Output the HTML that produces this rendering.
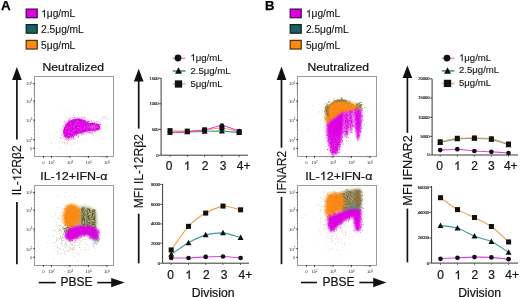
<!DOCTYPE html>
<html><head><meta charset="utf-8"><style>
html,body{margin:0;padding:0;background:#fff;}
svg{display:block;font-family:"Liberation Sans", sans-serif;will-change:transform;}
</style></head><body>
<svg width="520" height="297" viewBox="0 0 520 297">
<defs><filter id="b1" x="-50%" y="-50%" width="200%" height="200%"><feGaussianBlur stdDeviation="1.2"/></filter><filter id="b06" x="-20%" y="-20%" width="140%" height="140%"><feGaussianBlur stdDeviation="0.7"/></filter><filter id="b08" x="-30%" y="-30%" width="160%" height="160%"><feGaussianBlur stdDeviation="1.0"/></filter><filter id="b2" x="-60%" y="-60%" width="220%" height="220%"><feGaussianBlur stdDeviation="2.2"/></filter></defs>
<rect width="520" height="297" fill="#fff"/>
<text x="1.00" y="10.40" font-size="13.4" font-weight="bold" fill="#000" stroke="#000" stroke-width="0.25">A</text>
<rect x="26.200000000000003" y="9.1" width="11.0" height="8.6" fill="#dc02e0" stroke="#4a0850" stroke-width="1.25"/>
<g transform="translate(41.10,17.20)"><path d="M763 0H583V1147Q518 1085 412 1023Q306 961 221 930V1104Q373 1175 487 1276Q601 1377 649 1472H763Z" transform="translate(0.00,0) scale(0.00498,-0.00498)" fill="#141414" stroke="#141414" stroke-width="24.1"/><text x="5.67" y="0" font-size="10.2" fill="#141414" stroke="#141414" stroke-width="0.12">μg/mL</text></g>
<rect x="26.200000000000003" y="24.6" width="11.0" height="8.6" fill="#1d5f5f" stroke="#0a2626" stroke-width="1.25"/>
<text x="41.10" y="32.70" font-size="10.2" fill="#141414" stroke="#141414" stroke-width="0.12">2.5&#956;g/mL</text>
<rect x="26.200000000000003" y="40.4" width="11.0" height="8.6" fill="#fb8a12" stroke="#5a3008" stroke-width="1.25"/>
<text x="41.10" y="48.50" font-size="10.2" fill="#141414" stroke="#141414" stroke-width="0.12">5&#956;g/mL</text>
<text transform="translate(73.30,70.90) scale(1.075,1)" font-size="11.3" text-anchor="middle" fill="#141414" stroke="#141414" stroke-width="0.22">Neutralized</text>
<rect x="34.5" y="76.5" width="79" height="80" fill="none" stroke="#9c9c9c" stroke-width="1"/>
<line x1="33.7" y1="95.77176907674753" x2="34.8" y2="95.77176907674753" stroke="#666" stroke-width="0.5"/>
<line x1="33.7" y1="92.65495379146198" x2="34.8" y2="92.65495379146198" stroke="#666" stroke-width="0.5"/>
<line x1="33.7" y1="90.44353815349507" x2="34.8" y2="90.44353815349507" stroke="#666" stroke-width="0.5"/>
<line x1="33.7" y1="88.72823092325247" x2="34.8" y2="88.72823092325247" stroke="#666" stroke-width="0.5"/>
<line x1="33.7" y1="87.3267228682095" x2="34.8" y2="87.3267228682095" stroke="#666" stroke-width="0.5"/>
<line x1="33.7" y1="86.14176469174765" x2="34.8" y2="86.14176469174765" stroke="#666" stroke-width="0.5"/>
<line x1="33.7" y1="85.11530723024259" x2="34.8" y2="85.11530723024259" stroke="#666" stroke-width="0.5"/>
<line x1="33.7" y1="84.20990758292395" x2="34.8" y2="84.20990758292395" stroke="#666" stroke-width="0.5"/>
<line x1="33.7" y1="114.38043008238435" x2="34.8" y2="114.38043008238435" stroke="#666" stroke-width="0.5"/>
<line x1="33.7" y1="111.03469616032642" x2="34.8" y2="111.03469616032642" stroke="#666" stroke-width="0.5"/>
<line x1="33.7" y1="108.6608601647687" x2="34.8" y2="108.6608601647687" stroke="#666" stroke-width="0.5"/>
<line x1="33.7" y1="106.81956991761564" x2="34.8" y2="106.81956991761564" stroke="#666" stroke-width="0.5"/>
<line x1="33.7" y1="105.31512624271078" x2="34.8" y2="105.31512624271078" stroke="#666" stroke-width="0.5"/>
<line x1="33.7" y1="104.04313723972912" x2="34.8" y2="104.04313723972912" stroke="#666" stroke-width="0.5"/>
<line x1="33.7" y1="102.94129024715308" x2="34.8" y2="102.94129024715308" stroke="#666" stroke-width="0.5"/>
<line x1="33.7" y1="101.96939232065283" x2="34.8" y2="101.96939232065283" stroke="#666" stroke-width="0.5"/>
<line x1="33.7" y1="133.79981208498597" x2="34.8" y2="133.79981208498597" stroke="#666" stroke-width="0.5"/>
<line x1="33.7" y1="130.34842340749464" x2="34.8" y2="130.34842340749464" stroke="#666" stroke-width="0.5"/>
<line x1="33.7" y1="127.89962416997194" x2="34.8" y2="127.89962416997194" stroke="#666" stroke-width="0.5"/>
<line x1="33.7" y1="126.00018791501404" x2="34.8" y2="126.00018791501404" stroke="#666" stroke-width="0.5"/>
<line x1="33.7" y1="124.44823549248059" x2="34.8" y2="124.44823549248059" stroke="#666" stroke-width="0.5"/>
<line x1="33.7" y1="123.13607841572056" x2="34.8" y2="123.13607841572056" stroke="#666" stroke-width="0.5"/>
<line x1="33.7" y1="121.99943625495791" x2="34.8" y2="121.99943625495791" stroke="#666" stroke-width="0.5"/>
<line x1="33.7" y1="120.99684681498923" x2="34.8" y2="120.99684681498923" stroke="#666" stroke-width="0.5"/>
<line x1="33.1" y1="83.4" x2="35.0" y2="83.4" stroke="#333" stroke-width="0.9"/>
<text x="32.30" y="85.30" font-size="4.2" text-anchor="end" fill="#333">10<tspan font-size="2.8" dy="-1.7">5</tspan></text>
<line x1="33.1" y1="101.1" x2="35.0" y2="101.1" stroke="#333" stroke-width="0.9"/>
<text x="32.30" y="103.00" font-size="4.2" text-anchor="end" fill="#333">10<tspan font-size="2.8" dy="-1.7">4</tspan></text>
<line x1="33.1" y1="120.1" x2="35.0" y2="120.1" stroke="#333" stroke-width="0.9"/>
<text x="32.30" y="122.00" font-size="4.2" text-anchor="end" fill="#333">10<tspan font-size="2.8" dy="-1.7">3</tspan></text>
<line x1="33.1" y1="139.7" x2="35.0" y2="139.7" stroke="#333" stroke-width="0.9"/>
<text x="32.30" y="141.60" font-size="4.2" text-anchor="end" fill="#333">10<tspan font-size="2.8" dy="-1.7">2</tspan></text>
<line x1="33.1" y1="148.3" x2="35.0" y2="148.3" stroke="#333" stroke-width="0.9"/>
<text x="32.30" y="150.20" font-size="4.2" text-anchor="end" fill="#333">0</text>
<line x1="57.06905491978365" y1="156.2" x2="57.06905491978365" y2="157.3" stroke="#666" stroke-width="0.5"/>
<line x1="60.32674321231376" y1="156.2" x2="60.32674321231376" y2="157.3" stroke="#666" stroke-width="0.5"/>
<line x1="62.638109839567306" y1="156.2" x2="62.638109839567306" y2="157.3" stroke="#666" stroke-width="0.5"/>
<line x1="64.43094508021635" y1="156.2" x2="64.43094508021635" y2="157.3" stroke="#666" stroke-width="0.5"/>
<line x1="65.89579813209741" y1="156.2" x2="65.89579813209741" y2="157.3" stroke="#666" stroke-width="0.5"/>
<line x1="67.13431374026375" y1="156.2" x2="67.13431374026375" y2="157.3" stroke="#666" stroke-width="0.5"/>
<line x1="68.20716475935096" y1="156.2" x2="68.20716475935096" y2="157.3" stroke="#666" stroke-width="0.5"/>
<line x1="69.15348642462752" y1="156.2" x2="69.15348642462752" y2="157.3" stroke="#666" stroke-width="0.5"/>
<line x1="75.56905491978365" y1="156.2" x2="75.56905491978365" y2="157.3" stroke="#666" stroke-width="0.5"/>
<line x1="78.82674321231376" y1="156.2" x2="78.82674321231376" y2="157.3" stroke="#666" stroke-width="0.5"/>
<line x1="81.1381098395673" y1="156.2" x2="81.1381098395673" y2="157.3" stroke="#666" stroke-width="0.5"/>
<line x1="82.93094508021635" y1="156.2" x2="82.93094508021635" y2="157.3" stroke="#666" stroke-width="0.5"/>
<line x1="84.39579813209741" y1="156.2" x2="84.39579813209741" y2="157.3" stroke="#666" stroke-width="0.5"/>
<line x1="85.63431374026375" y1="156.2" x2="85.63431374026375" y2="157.3" stroke="#666" stroke-width="0.5"/>
<line x1="86.70716475935096" y1="156.2" x2="86.70716475935096" y2="157.3" stroke="#666" stroke-width="0.5"/>
<line x1="87.65348642462752" y1="156.2" x2="87.65348642462752" y2="157.3" stroke="#666" stroke-width="0.5"/>
<line x1="94.06905491978365" y1="156.2" x2="94.06905491978365" y2="157.3" stroke="#666" stroke-width="0.5"/>
<line x1="97.32674321231376" y1="156.2" x2="97.32674321231376" y2="157.3" stroke="#666" stroke-width="0.5"/>
<line x1="99.6381098395673" y1="156.2" x2="99.6381098395673" y2="157.3" stroke="#666" stroke-width="0.5"/>
<line x1="101.43094508021635" y1="156.2" x2="101.43094508021635" y2="157.3" stroke="#666" stroke-width="0.5"/>
<line x1="102.89579813209741" y1="156.2" x2="102.89579813209741" y2="157.3" stroke="#666" stroke-width="0.5"/>
<line x1="104.13431374026375" y1="156.2" x2="104.13431374026375" y2="157.3" stroke="#666" stroke-width="0.5"/>
<line x1="105.20716475935096" y1="156.2" x2="105.20716475935096" y2="157.3" stroke="#666" stroke-width="0.5"/>
<line x1="106.15348642462752" y1="156.2" x2="106.15348642462752" y2="157.3" stroke="#666" stroke-width="0.5"/>
<line x1="43.5" y1="156.0" x2="43.5" y2="157.9" stroke="#333" stroke-width="0.9"/>
<text x="43.50" y="164.30" font-size="4.2" text-anchor="middle" fill="#333">0</text>
<line x1="51.5" y1="156.0" x2="51.5" y2="157.9" stroke="#333" stroke-width="0.9"/>
<text x="51.50" y="164.30" font-size="4.2" text-anchor="middle" fill="#333">10<tspan font-size="2.8" dy="-1.7">2</tspan></text>
<line x1="70.0" y1="156.0" x2="70.0" y2="157.9" stroke="#333" stroke-width="0.9"/>
<text x="70.00" y="164.30" font-size="4.2" text-anchor="middle" fill="#333">10<tspan font-size="2.8" dy="-1.7">3</tspan></text>
<line x1="88.5" y1="156.0" x2="88.5" y2="157.9" stroke="#333" stroke-width="0.9"/>
<text x="88.50" y="164.30" font-size="4.2" text-anchor="middle" fill="#333">10<tspan font-size="2.8" dy="-1.7">4</tspan></text>
<line x1="107.0" y1="156.0" x2="107.0" y2="157.9" stroke="#333" stroke-width="0.9"/>
<text x="107.00" y="164.30" font-size="4.2" text-anchor="middle" fill="#333">10<tspan font-size="2.8" dy="-1.7">5</tspan></text>
<g transform="translate(73.80,180.00) scale(1.095,1)"><text x="-30.70" y="0" font-size="11.4" fill="#141414" stroke="#141414" stroke-width="0.22">IL-</text><path d="M763 0H583V1147Q518 1085 412 1023Q306 961 221 930V1104Q373 1175 487 1276Q601 1377 649 1472H763Z" transform="translate(-17.39,0) scale(0.00557,-0.00557)" fill="#141414" stroke="#141414" stroke-width="39.5"/><text x="-11.05" y="0" font-size="11.4" fill="#141414" stroke="#141414" stroke-width="0.22">2+IFN-α</text></g>
<rect x="34.5" y="185.5" width="79" height="80" fill="none" stroke="#9c9c9c" stroke-width="1"/>
<line x1="33.7" y1="204.77176907674755" x2="34.8" y2="204.77176907674755" stroke="#666" stroke-width="0.5"/>
<line x1="33.7" y1="201.65495379146196" x2="34.8" y2="201.65495379146196" stroke="#666" stroke-width="0.5"/>
<line x1="33.7" y1="199.44353815349507" x2="34.8" y2="199.44353815349507" stroke="#666" stroke-width="0.5"/>
<line x1="33.7" y1="197.72823092325245" x2="34.8" y2="197.72823092325245" stroke="#666" stroke-width="0.5"/>
<line x1="33.7" y1="196.32672286820952" x2="34.8" y2="196.32672286820952" stroke="#666" stroke-width="0.5"/>
<line x1="33.7" y1="195.14176469174765" x2="34.8" y2="195.14176469174765" stroke="#666" stroke-width="0.5"/>
<line x1="33.7" y1="194.1153072302426" x2="34.8" y2="194.1153072302426" stroke="#666" stroke-width="0.5"/>
<line x1="33.7" y1="193.20990758292396" x2="34.8" y2="193.20990758292396" stroke="#666" stroke-width="0.5"/>
<line x1="33.7" y1="223.38043008238435" x2="34.8" y2="223.38043008238435" stroke="#666" stroke-width="0.5"/>
<line x1="33.7" y1="220.0346961603264" x2="34.8" y2="220.0346961603264" stroke="#666" stroke-width="0.5"/>
<line x1="33.7" y1="217.6608601647687" x2="34.8" y2="217.6608601647687" stroke="#666" stroke-width="0.5"/>
<line x1="33.7" y1="215.81956991761564" x2="34.8" y2="215.81956991761564" stroke="#666" stroke-width="0.5"/>
<line x1="33.7" y1="214.31512624271076" x2="34.8" y2="214.31512624271076" stroke="#666" stroke-width="0.5"/>
<line x1="33.7" y1="213.04313723972913" x2="34.8" y2="213.04313723972913" stroke="#666" stroke-width="0.5"/>
<line x1="33.7" y1="211.94129024715306" x2="34.8" y2="211.94129024715306" stroke="#666" stroke-width="0.5"/>
<line x1="33.7" y1="210.96939232065284" x2="34.8" y2="210.96939232065284" stroke="#666" stroke-width="0.5"/>
<line x1="33.7" y1="242.79981208498597" x2="34.8" y2="242.79981208498597" stroke="#666" stroke-width="0.5"/>
<line x1="33.7" y1="239.34842340749464" x2="34.8" y2="239.34842340749464" stroke="#666" stroke-width="0.5"/>
<line x1="33.7" y1="236.89962416997196" x2="34.8" y2="236.89962416997196" stroke="#666" stroke-width="0.5"/>
<line x1="33.7" y1="235.00018791501404" x2="34.8" y2="235.00018791501404" stroke="#666" stroke-width="0.5"/>
<line x1="33.7" y1="233.4482354924806" x2="34.8" y2="233.4482354924806" stroke="#666" stroke-width="0.5"/>
<line x1="33.7" y1="232.13607841572056" x2="34.8" y2="232.13607841572056" stroke="#666" stroke-width="0.5"/>
<line x1="33.7" y1="230.9994362549579" x2="34.8" y2="230.9994362549579" stroke="#666" stroke-width="0.5"/>
<line x1="33.7" y1="229.99684681498923" x2="34.8" y2="229.99684681498923" stroke="#666" stroke-width="0.5"/>
<line x1="33.1" y1="192.4" x2="35.0" y2="192.4" stroke="#333" stroke-width="0.9"/>
<text x="32.30" y="194.30" font-size="4.2" text-anchor="end" fill="#333">10<tspan font-size="2.8" dy="-1.7">5</tspan></text>
<line x1="33.1" y1="210.1" x2="35.0" y2="210.1" stroke="#333" stroke-width="0.9"/>
<text x="32.30" y="212.00" font-size="4.2" text-anchor="end" fill="#333">10<tspan font-size="2.8" dy="-1.7">4</tspan></text>
<line x1="33.1" y1="229.1" x2="35.0" y2="229.1" stroke="#333" stroke-width="0.9"/>
<text x="32.30" y="231.00" font-size="4.2" text-anchor="end" fill="#333">10<tspan font-size="2.8" dy="-1.7">3</tspan></text>
<line x1="33.1" y1="248.7" x2="35.0" y2="248.7" stroke="#333" stroke-width="0.9"/>
<text x="32.30" y="250.60" font-size="4.2" text-anchor="end" fill="#333">10<tspan font-size="2.8" dy="-1.7">2</tspan></text>
<line x1="33.1" y1="257.3" x2="35.0" y2="257.3" stroke="#333" stroke-width="0.9"/>
<text x="32.30" y="259.20" font-size="4.2" text-anchor="end" fill="#333">0</text>
<line x1="57.06905491978365" y1="265.2" x2="57.06905491978365" y2="266.3" stroke="#666" stroke-width="0.5"/>
<line x1="60.32674321231376" y1="265.2" x2="60.32674321231376" y2="266.3" stroke="#666" stroke-width="0.5"/>
<line x1="62.638109839567306" y1="265.2" x2="62.638109839567306" y2="266.3" stroke="#666" stroke-width="0.5"/>
<line x1="64.43094508021635" y1="265.2" x2="64.43094508021635" y2="266.3" stroke="#666" stroke-width="0.5"/>
<line x1="65.89579813209741" y1="265.2" x2="65.89579813209741" y2="266.3" stroke="#666" stroke-width="0.5"/>
<line x1="67.13431374026375" y1="265.2" x2="67.13431374026375" y2="266.3" stroke="#666" stroke-width="0.5"/>
<line x1="68.20716475935096" y1="265.2" x2="68.20716475935096" y2="266.3" stroke="#666" stroke-width="0.5"/>
<line x1="69.15348642462752" y1="265.2" x2="69.15348642462752" y2="266.3" stroke="#666" stroke-width="0.5"/>
<line x1="75.56905491978365" y1="265.2" x2="75.56905491978365" y2="266.3" stroke="#666" stroke-width="0.5"/>
<line x1="78.82674321231376" y1="265.2" x2="78.82674321231376" y2="266.3" stroke="#666" stroke-width="0.5"/>
<line x1="81.1381098395673" y1="265.2" x2="81.1381098395673" y2="266.3" stroke="#666" stroke-width="0.5"/>
<line x1="82.93094508021635" y1="265.2" x2="82.93094508021635" y2="266.3" stroke="#666" stroke-width="0.5"/>
<line x1="84.39579813209741" y1="265.2" x2="84.39579813209741" y2="266.3" stroke="#666" stroke-width="0.5"/>
<line x1="85.63431374026375" y1="265.2" x2="85.63431374026375" y2="266.3" stroke="#666" stroke-width="0.5"/>
<line x1="86.70716475935096" y1="265.2" x2="86.70716475935096" y2="266.3" stroke="#666" stroke-width="0.5"/>
<line x1="87.65348642462752" y1="265.2" x2="87.65348642462752" y2="266.3" stroke="#666" stroke-width="0.5"/>
<line x1="94.06905491978365" y1="265.2" x2="94.06905491978365" y2="266.3" stroke="#666" stroke-width="0.5"/>
<line x1="97.32674321231376" y1="265.2" x2="97.32674321231376" y2="266.3" stroke="#666" stroke-width="0.5"/>
<line x1="99.6381098395673" y1="265.2" x2="99.6381098395673" y2="266.3" stroke="#666" stroke-width="0.5"/>
<line x1="101.43094508021635" y1="265.2" x2="101.43094508021635" y2="266.3" stroke="#666" stroke-width="0.5"/>
<line x1="102.89579813209741" y1="265.2" x2="102.89579813209741" y2="266.3" stroke="#666" stroke-width="0.5"/>
<line x1="104.13431374026375" y1="265.2" x2="104.13431374026375" y2="266.3" stroke="#666" stroke-width="0.5"/>
<line x1="105.20716475935096" y1="265.2" x2="105.20716475935096" y2="266.3" stroke="#666" stroke-width="0.5"/>
<line x1="106.15348642462752" y1="265.2" x2="106.15348642462752" y2="266.3" stroke="#666" stroke-width="0.5"/>
<line x1="43.5" y1="265.0" x2="43.5" y2="266.9" stroke="#333" stroke-width="0.9"/>
<text x="43.50" y="273.30" font-size="4.2" text-anchor="middle" fill="#333">0</text>
<line x1="51.5" y1="265.0" x2="51.5" y2="266.9" stroke="#333" stroke-width="0.9"/>
<text x="51.50" y="273.30" font-size="4.2" text-anchor="middle" fill="#333">10<tspan font-size="2.8" dy="-1.7">2</tspan></text>
<line x1="70.0" y1="265.0" x2="70.0" y2="266.9" stroke="#333" stroke-width="0.9"/>
<text x="70.00" y="273.30" font-size="4.2" text-anchor="middle" fill="#333">10<tspan font-size="2.8" dy="-1.7">3</tspan></text>
<line x1="88.5" y1="265.0" x2="88.5" y2="266.9" stroke="#333" stroke-width="0.9"/>
<text x="88.50" y="273.30" font-size="4.2" text-anchor="middle" fill="#333">10<tspan font-size="2.8" dy="-1.7">4</tspan></text>
<line x1="107.0" y1="265.0" x2="107.0" y2="266.9" stroke="#333" stroke-width="0.9"/>
<text x="107.00" y="273.30" font-size="4.2" text-anchor="middle" fill="#333">10<tspan font-size="2.8" dy="-1.7">5</tspan></text>
<polygon points="12.049999999999999,79.9 21.75,79.9 16.9,66.9" fill="#111"/>
<line x1="16.9" y1="79.4" x2="16.9" y2="139.4" stroke="#111" stroke-width="1.7"/>
<g transform="translate(21.30,170.30) rotate(-90)"><text x="-25.00" y="0" font-size="12.1" fill="#141414" stroke="#141414" stroke-width="0.15">IL-</text><path d="M763 0H583V1147Q518 1085 412 1023Q306 961 221 930V1104Q373 1175 487 1276Q601 1377 649 1472H763Z" transform="translate(-10.88,0) scale(0.00591,-0.00591)" fill="#141414" stroke="#141414" stroke-width="25.4"/><text x="-4.15" y="0" font-size="12.1" fill="#141414" stroke="#141414" stroke-width="0.15">2Rβ2</text></g>
<line x1="16.9" y1="202" x2="16.9" y2="264.2" stroke="#111" stroke-width="1.7"/>
<line x1="38.8" y1="282.6" x2="55.8" y2="282.6" stroke="#111" stroke-width="1.6"/>
<text x="60.60" y="286.20" font-size="12" fill="#141414" stroke="#141414" stroke-width="0.22">PBSE</text>
<line x1="97.3" y1="282.6" x2="112.2" y2="282.6" stroke="#111" stroke-width="1.6"/>
<polygon points="111.2,277.90000000000003 111.2,287.3 124.6,282.6" fill="#111"/>
<text x="264.90" y="10.30" font-size="13.2" font-weight="bold" fill="#000" stroke="#000" stroke-width="0.25">B</text>
<rect x="290.20000000000005" y="9.1" width="11.0" height="8.6" fill="#dc02e0" stroke="#4a0850" stroke-width="1.25"/>
<g transform="translate(305.90,17.20)"><path d="M763 0H583V1147Q518 1085 412 1023Q306 961 221 930V1104Q373 1175 487 1276Q601 1377 649 1472H763Z" transform="translate(0.00,0) scale(0.00498,-0.00498)" fill="#141414" stroke="#141414" stroke-width="24.1"/><text x="5.67" y="0" font-size="10.2" fill="#141414" stroke="#141414" stroke-width="0.12">μg/mL</text></g>
<rect x="290.20000000000005" y="24.6" width="11.0" height="8.6" fill="#1d5f5f" stroke="#0a2626" stroke-width="1.25"/>
<text x="305.90" y="32.70" font-size="10.2" fill="#141414" stroke="#141414" stroke-width="0.12">2.5&#956;g/mL</text>
<rect x="290.20000000000005" y="40.4" width="11.0" height="8.6" fill="#fb8a12" stroke="#5a3008" stroke-width="1.25"/>
<text x="305.90" y="48.50" font-size="10.2" fill="#141414" stroke="#141414" stroke-width="0.12">5&#956;g/mL</text>
<text transform="translate(338.30,70.90) scale(1.075,1)" font-size="11.3" text-anchor="middle" fill="#141414" stroke="#141414" stroke-width="0.22">Neutralized</text>
<rect x="297.5" y="76.5" width="79" height="80" fill="none" stroke="#9c9c9c" stroke-width="1"/>
<line x1="296.7" y1="95.77176907674753" x2="297.8" y2="95.77176907674753" stroke="#666" stroke-width="0.5"/>
<line x1="296.7" y1="92.65495379146198" x2="297.8" y2="92.65495379146198" stroke="#666" stroke-width="0.5"/>
<line x1="296.7" y1="90.44353815349507" x2="297.8" y2="90.44353815349507" stroke="#666" stroke-width="0.5"/>
<line x1="296.7" y1="88.72823092325247" x2="297.8" y2="88.72823092325247" stroke="#666" stroke-width="0.5"/>
<line x1="296.7" y1="87.3267228682095" x2="297.8" y2="87.3267228682095" stroke="#666" stroke-width="0.5"/>
<line x1="296.7" y1="86.14176469174765" x2="297.8" y2="86.14176469174765" stroke="#666" stroke-width="0.5"/>
<line x1="296.7" y1="85.11530723024259" x2="297.8" y2="85.11530723024259" stroke="#666" stroke-width="0.5"/>
<line x1="296.7" y1="84.20990758292395" x2="297.8" y2="84.20990758292395" stroke="#666" stroke-width="0.5"/>
<line x1="296.7" y1="114.38043008238435" x2="297.8" y2="114.38043008238435" stroke="#666" stroke-width="0.5"/>
<line x1="296.7" y1="111.03469616032642" x2="297.8" y2="111.03469616032642" stroke="#666" stroke-width="0.5"/>
<line x1="296.7" y1="108.6608601647687" x2="297.8" y2="108.6608601647687" stroke="#666" stroke-width="0.5"/>
<line x1="296.7" y1="106.81956991761564" x2="297.8" y2="106.81956991761564" stroke="#666" stroke-width="0.5"/>
<line x1="296.7" y1="105.31512624271078" x2="297.8" y2="105.31512624271078" stroke="#666" stroke-width="0.5"/>
<line x1="296.7" y1="104.04313723972912" x2="297.8" y2="104.04313723972912" stroke="#666" stroke-width="0.5"/>
<line x1="296.7" y1="102.94129024715308" x2="297.8" y2="102.94129024715308" stroke="#666" stroke-width="0.5"/>
<line x1="296.7" y1="101.96939232065283" x2="297.8" y2="101.96939232065283" stroke="#666" stroke-width="0.5"/>
<line x1="296.7" y1="133.79981208498597" x2="297.8" y2="133.79981208498597" stroke="#666" stroke-width="0.5"/>
<line x1="296.7" y1="130.34842340749464" x2="297.8" y2="130.34842340749464" stroke="#666" stroke-width="0.5"/>
<line x1="296.7" y1="127.89962416997194" x2="297.8" y2="127.89962416997194" stroke="#666" stroke-width="0.5"/>
<line x1="296.7" y1="126.00018791501404" x2="297.8" y2="126.00018791501404" stroke="#666" stroke-width="0.5"/>
<line x1="296.7" y1="124.44823549248059" x2="297.8" y2="124.44823549248059" stroke="#666" stroke-width="0.5"/>
<line x1="296.7" y1="123.13607841572056" x2="297.8" y2="123.13607841572056" stroke="#666" stroke-width="0.5"/>
<line x1="296.7" y1="121.99943625495791" x2="297.8" y2="121.99943625495791" stroke="#666" stroke-width="0.5"/>
<line x1="296.7" y1="120.99684681498923" x2="297.8" y2="120.99684681498923" stroke="#666" stroke-width="0.5"/>
<line x1="296.1" y1="83.4" x2="298.0" y2="83.4" stroke="#333" stroke-width="0.9"/>
<text x="295.30" y="85.30" font-size="4.2" text-anchor="end" fill="#333">10<tspan font-size="2.8" dy="-1.7">5</tspan></text>
<line x1="296.1" y1="101.1" x2="298.0" y2="101.1" stroke="#333" stroke-width="0.9"/>
<text x="295.30" y="103.00" font-size="4.2" text-anchor="end" fill="#333">10<tspan font-size="2.8" dy="-1.7">4</tspan></text>
<line x1="296.1" y1="120.1" x2="298.0" y2="120.1" stroke="#333" stroke-width="0.9"/>
<text x="295.30" y="122.00" font-size="4.2" text-anchor="end" fill="#333">10<tspan font-size="2.8" dy="-1.7">3</tspan></text>
<line x1="296.1" y1="139.7" x2="298.0" y2="139.7" stroke="#333" stroke-width="0.9"/>
<text x="295.30" y="141.60" font-size="4.2" text-anchor="end" fill="#333">10<tspan font-size="2.8" dy="-1.7">2</tspan></text>
<line x1="296.1" y1="148.3" x2="298.0" y2="148.3" stroke="#333" stroke-width="0.9"/>
<text x="295.30" y="150.20" font-size="4.2" text-anchor="end" fill="#333">0</text>
<line x1="320.06905491978364" y1="156.2" x2="320.06905491978364" y2="157.3" stroke="#666" stroke-width="0.5"/>
<line x1="323.3267432123138" y1="156.2" x2="323.3267432123138" y2="157.3" stroke="#666" stroke-width="0.5"/>
<line x1="325.6381098395673" y1="156.2" x2="325.6381098395673" y2="157.3" stroke="#666" stroke-width="0.5"/>
<line x1="327.43094508021636" y1="156.2" x2="327.43094508021636" y2="157.3" stroke="#666" stroke-width="0.5"/>
<line x1="328.8957981320974" y1="156.2" x2="328.8957981320974" y2="157.3" stroke="#666" stroke-width="0.5"/>
<line x1="330.13431374026374" y1="156.2" x2="330.13431374026374" y2="157.3" stroke="#666" stroke-width="0.5"/>
<line x1="331.207164759351" y1="156.2" x2="331.207164759351" y2="157.3" stroke="#666" stroke-width="0.5"/>
<line x1="332.1534864246275" y1="156.2" x2="332.1534864246275" y2="157.3" stroke="#666" stroke-width="0.5"/>
<line x1="338.56905491978364" y1="156.2" x2="338.56905491978364" y2="157.3" stroke="#666" stroke-width="0.5"/>
<line x1="341.8267432123138" y1="156.2" x2="341.8267432123138" y2="157.3" stroke="#666" stroke-width="0.5"/>
<line x1="344.1381098395673" y1="156.2" x2="344.1381098395673" y2="157.3" stroke="#666" stroke-width="0.5"/>
<line x1="345.93094508021636" y1="156.2" x2="345.93094508021636" y2="157.3" stroke="#666" stroke-width="0.5"/>
<line x1="347.3957981320974" y1="156.2" x2="347.3957981320974" y2="157.3" stroke="#666" stroke-width="0.5"/>
<line x1="348.63431374026374" y1="156.2" x2="348.63431374026374" y2="157.3" stroke="#666" stroke-width="0.5"/>
<line x1="349.707164759351" y1="156.2" x2="349.707164759351" y2="157.3" stroke="#666" stroke-width="0.5"/>
<line x1="350.6534864246275" y1="156.2" x2="350.6534864246275" y2="157.3" stroke="#666" stroke-width="0.5"/>
<line x1="357.06905491978364" y1="156.2" x2="357.06905491978364" y2="157.3" stroke="#666" stroke-width="0.5"/>
<line x1="360.3267432123138" y1="156.2" x2="360.3267432123138" y2="157.3" stroke="#666" stroke-width="0.5"/>
<line x1="362.6381098395673" y1="156.2" x2="362.6381098395673" y2="157.3" stroke="#666" stroke-width="0.5"/>
<line x1="364.43094508021636" y1="156.2" x2="364.43094508021636" y2="157.3" stroke="#666" stroke-width="0.5"/>
<line x1="365.8957981320974" y1="156.2" x2="365.8957981320974" y2="157.3" stroke="#666" stroke-width="0.5"/>
<line x1="367.13431374026374" y1="156.2" x2="367.13431374026374" y2="157.3" stroke="#666" stroke-width="0.5"/>
<line x1="368.207164759351" y1="156.2" x2="368.207164759351" y2="157.3" stroke="#666" stroke-width="0.5"/>
<line x1="369.15348642462754" y1="156.2" x2="369.15348642462754" y2="157.3" stroke="#666" stroke-width="0.5"/>
<line x1="306.5" y1="156.0" x2="306.5" y2="157.9" stroke="#333" stroke-width="0.9"/>
<text x="306.50" y="164.30" font-size="4.2" text-anchor="middle" fill="#333">0</text>
<line x1="314.5" y1="156.0" x2="314.5" y2="157.9" stroke="#333" stroke-width="0.9"/>
<text x="314.50" y="164.30" font-size="4.2" text-anchor="middle" fill="#333">10<tspan font-size="2.8" dy="-1.7">2</tspan></text>
<line x1="333.0" y1="156.0" x2="333.0" y2="157.9" stroke="#333" stroke-width="0.9"/>
<text x="333.00" y="164.30" font-size="4.2" text-anchor="middle" fill="#333">10<tspan font-size="2.8" dy="-1.7">3</tspan></text>
<line x1="351.5" y1="156.0" x2="351.5" y2="157.9" stroke="#333" stroke-width="0.9"/>
<text x="351.50" y="164.30" font-size="4.2" text-anchor="middle" fill="#333">10<tspan font-size="2.8" dy="-1.7">4</tspan></text>
<line x1="370.0" y1="156.0" x2="370.0" y2="157.9" stroke="#333" stroke-width="0.9"/>
<text x="370.00" y="164.30" font-size="4.2" text-anchor="middle" fill="#333">10<tspan font-size="2.8" dy="-1.7">5</tspan></text>
<g transform="translate(338.80,180.00) scale(1.095,1)"><text x="-30.70" y="0" font-size="11.4" fill="#141414" stroke="#141414" stroke-width="0.22">IL-</text><path d="M763 0H583V1147Q518 1085 412 1023Q306 961 221 930V1104Q373 1175 487 1276Q601 1377 649 1472H763Z" transform="translate(-17.39,0) scale(0.00557,-0.00557)" fill="#141414" stroke="#141414" stroke-width="39.5"/><text x="-11.05" y="0" font-size="11.4" fill="#141414" stroke="#141414" stroke-width="0.22">2+IFN-α</text></g>
<rect x="297.5" y="185.5" width="79" height="80" fill="none" stroke="#9c9c9c" stroke-width="1"/>
<line x1="296.7" y1="204.77176907674755" x2="297.8" y2="204.77176907674755" stroke="#666" stroke-width="0.5"/>
<line x1="296.7" y1="201.65495379146196" x2="297.8" y2="201.65495379146196" stroke="#666" stroke-width="0.5"/>
<line x1="296.7" y1="199.44353815349507" x2="297.8" y2="199.44353815349507" stroke="#666" stroke-width="0.5"/>
<line x1="296.7" y1="197.72823092325245" x2="297.8" y2="197.72823092325245" stroke="#666" stroke-width="0.5"/>
<line x1="296.7" y1="196.32672286820952" x2="297.8" y2="196.32672286820952" stroke="#666" stroke-width="0.5"/>
<line x1="296.7" y1="195.14176469174765" x2="297.8" y2="195.14176469174765" stroke="#666" stroke-width="0.5"/>
<line x1="296.7" y1="194.1153072302426" x2="297.8" y2="194.1153072302426" stroke="#666" stroke-width="0.5"/>
<line x1="296.7" y1="193.20990758292396" x2="297.8" y2="193.20990758292396" stroke="#666" stroke-width="0.5"/>
<line x1="296.7" y1="223.38043008238435" x2="297.8" y2="223.38043008238435" stroke="#666" stroke-width="0.5"/>
<line x1="296.7" y1="220.0346961603264" x2="297.8" y2="220.0346961603264" stroke="#666" stroke-width="0.5"/>
<line x1="296.7" y1="217.6608601647687" x2="297.8" y2="217.6608601647687" stroke="#666" stroke-width="0.5"/>
<line x1="296.7" y1="215.81956991761564" x2="297.8" y2="215.81956991761564" stroke="#666" stroke-width="0.5"/>
<line x1="296.7" y1="214.31512624271076" x2="297.8" y2="214.31512624271076" stroke="#666" stroke-width="0.5"/>
<line x1="296.7" y1="213.04313723972913" x2="297.8" y2="213.04313723972913" stroke="#666" stroke-width="0.5"/>
<line x1="296.7" y1="211.94129024715306" x2="297.8" y2="211.94129024715306" stroke="#666" stroke-width="0.5"/>
<line x1="296.7" y1="210.96939232065284" x2="297.8" y2="210.96939232065284" stroke="#666" stroke-width="0.5"/>
<line x1="296.7" y1="242.79981208498597" x2="297.8" y2="242.79981208498597" stroke="#666" stroke-width="0.5"/>
<line x1="296.7" y1="239.34842340749464" x2="297.8" y2="239.34842340749464" stroke="#666" stroke-width="0.5"/>
<line x1="296.7" y1="236.89962416997196" x2="297.8" y2="236.89962416997196" stroke="#666" stroke-width="0.5"/>
<line x1="296.7" y1="235.00018791501404" x2="297.8" y2="235.00018791501404" stroke="#666" stroke-width="0.5"/>
<line x1="296.7" y1="233.4482354924806" x2="297.8" y2="233.4482354924806" stroke="#666" stroke-width="0.5"/>
<line x1="296.7" y1="232.13607841572056" x2="297.8" y2="232.13607841572056" stroke="#666" stroke-width="0.5"/>
<line x1="296.7" y1="230.9994362549579" x2="297.8" y2="230.9994362549579" stroke="#666" stroke-width="0.5"/>
<line x1="296.7" y1="229.99684681498923" x2="297.8" y2="229.99684681498923" stroke="#666" stroke-width="0.5"/>
<line x1="296.1" y1="192.4" x2="298.0" y2="192.4" stroke="#333" stroke-width="0.9"/>
<text x="295.30" y="194.30" font-size="4.2" text-anchor="end" fill="#333">10<tspan font-size="2.8" dy="-1.7">5</tspan></text>
<line x1="296.1" y1="210.1" x2="298.0" y2="210.1" stroke="#333" stroke-width="0.9"/>
<text x="295.30" y="212.00" font-size="4.2" text-anchor="end" fill="#333">10<tspan font-size="2.8" dy="-1.7">4</tspan></text>
<line x1="296.1" y1="229.1" x2="298.0" y2="229.1" stroke="#333" stroke-width="0.9"/>
<text x="295.30" y="231.00" font-size="4.2" text-anchor="end" fill="#333">10<tspan font-size="2.8" dy="-1.7">3</tspan></text>
<line x1="296.1" y1="248.7" x2="298.0" y2="248.7" stroke="#333" stroke-width="0.9"/>
<text x="295.30" y="250.60" font-size="4.2" text-anchor="end" fill="#333">10<tspan font-size="2.8" dy="-1.7">2</tspan></text>
<line x1="296.1" y1="257.3" x2="298.0" y2="257.3" stroke="#333" stroke-width="0.9"/>
<text x="295.30" y="259.20" font-size="4.2" text-anchor="end" fill="#333">0</text>
<line x1="320.06905491978364" y1="265.2" x2="320.06905491978364" y2="266.3" stroke="#666" stroke-width="0.5"/>
<line x1="323.3267432123138" y1="265.2" x2="323.3267432123138" y2="266.3" stroke="#666" stroke-width="0.5"/>
<line x1="325.6381098395673" y1="265.2" x2="325.6381098395673" y2="266.3" stroke="#666" stroke-width="0.5"/>
<line x1="327.43094508021636" y1="265.2" x2="327.43094508021636" y2="266.3" stroke="#666" stroke-width="0.5"/>
<line x1="328.8957981320974" y1="265.2" x2="328.8957981320974" y2="266.3" stroke="#666" stroke-width="0.5"/>
<line x1="330.13431374026374" y1="265.2" x2="330.13431374026374" y2="266.3" stroke="#666" stroke-width="0.5"/>
<line x1="331.207164759351" y1="265.2" x2="331.207164759351" y2="266.3" stroke="#666" stroke-width="0.5"/>
<line x1="332.1534864246275" y1="265.2" x2="332.1534864246275" y2="266.3" stroke="#666" stroke-width="0.5"/>
<line x1="338.56905491978364" y1="265.2" x2="338.56905491978364" y2="266.3" stroke="#666" stroke-width="0.5"/>
<line x1="341.8267432123138" y1="265.2" x2="341.8267432123138" y2="266.3" stroke="#666" stroke-width="0.5"/>
<line x1="344.1381098395673" y1="265.2" x2="344.1381098395673" y2="266.3" stroke="#666" stroke-width="0.5"/>
<line x1="345.93094508021636" y1="265.2" x2="345.93094508021636" y2="266.3" stroke="#666" stroke-width="0.5"/>
<line x1="347.3957981320974" y1="265.2" x2="347.3957981320974" y2="266.3" stroke="#666" stroke-width="0.5"/>
<line x1="348.63431374026374" y1="265.2" x2="348.63431374026374" y2="266.3" stroke="#666" stroke-width="0.5"/>
<line x1="349.707164759351" y1="265.2" x2="349.707164759351" y2="266.3" stroke="#666" stroke-width="0.5"/>
<line x1="350.6534864246275" y1="265.2" x2="350.6534864246275" y2="266.3" stroke="#666" stroke-width="0.5"/>
<line x1="357.06905491978364" y1="265.2" x2="357.06905491978364" y2="266.3" stroke="#666" stroke-width="0.5"/>
<line x1="360.3267432123138" y1="265.2" x2="360.3267432123138" y2="266.3" stroke="#666" stroke-width="0.5"/>
<line x1="362.6381098395673" y1="265.2" x2="362.6381098395673" y2="266.3" stroke="#666" stroke-width="0.5"/>
<line x1="364.43094508021636" y1="265.2" x2="364.43094508021636" y2="266.3" stroke="#666" stroke-width="0.5"/>
<line x1="365.8957981320974" y1="265.2" x2="365.8957981320974" y2="266.3" stroke="#666" stroke-width="0.5"/>
<line x1="367.13431374026374" y1="265.2" x2="367.13431374026374" y2="266.3" stroke="#666" stroke-width="0.5"/>
<line x1="368.207164759351" y1="265.2" x2="368.207164759351" y2="266.3" stroke="#666" stroke-width="0.5"/>
<line x1="369.15348642462754" y1="265.2" x2="369.15348642462754" y2="266.3" stroke="#666" stroke-width="0.5"/>
<line x1="306.5" y1="265.0" x2="306.5" y2="266.9" stroke="#333" stroke-width="0.9"/>
<text x="306.50" y="273.30" font-size="4.2" text-anchor="middle" fill="#333">0</text>
<line x1="314.5" y1="265.0" x2="314.5" y2="266.9" stroke="#333" stroke-width="0.9"/>
<text x="314.50" y="273.30" font-size="4.2" text-anchor="middle" fill="#333">10<tspan font-size="2.8" dy="-1.7">2</tspan></text>
<line x1="333.0" y1="265.0" x2="333.0" y2="266.9" stroke="#333" stroke-width="0.9"/>
<text x="333.00" y="273.30" font-size="4.2" text-anchor="middle" fill="#333">10<tspan font-size="2.8" dy="-1.7">3</tspan></text>
<line x1="351.5" y1="265.0" x2="351.5" y2="266.9" stroke="#333" stroke-width="0.9"/>
<text x="351.50" y="273.30" font-size="4.2" text-anchor="middle" fill="#333">10<tspan font-size="2.8" dy="-1.7">4</tspan></text>
<line x1="370.0" y1="265.0" x2="370.0" y2="266.9" stroke="#333" stroke-width="0.9"/>
<text x="370.00" y="273.30" font-size="4.2" text-anchor="middle" fill="#333">10<tspan font-size="2.8" dy="-1.7">5</tspan></text>
<polygon points="276.65,79.9 286.35,79.9 281.5,66.4" fill="#111"/>
<line x1="281.5" y1="79.4" x2="281.5" y2="147.7" stroke="#111" stroke-width="1.7"/>
<text transform="translate(286.30,172.40) rotate(-90)" font-size="12.1" text-anchor="middle" fill="#141414" stroke="#141414" stroke-width="0.15">IFNAR2</text>
<line x1="281.5" y1="196.8" x2="281.5" y2="264.2" stroke="#111" stroke-width="1.7"/>
<line x1="301" y1="282.5" x2="317" y2="282.5" stroke="#111" stroke-width="1.6"/>
<text x="322.40" y="286.10" font-size="12" fill="#141414" stroke="#141414" stroke-width="0.22">PBSE</text>
<line x1="359.3" y1="282.5" x2="374.2" y2="282.5" stroke="#111" stroke-width="1.6"/>
<polygon points="373.2,277.8 373.2,287.2 386.3,282.5" fill="#111"/>
<line x1="172.7" y1="58.3" x2="185.5" y2="58.3" stroke="#e890e8" stroke-width="1.7"/>
<circle cx="178.00" cy="58.00" r="3.38" fill="#111"/>
<g transform="translate(190.40,60.80)"><path d="M763 0H583V1147Q518 1085 412 1023Q306 961 221 930V1104Q373 1175 487 1276Q601 1377 649 1472H763Z" transform="translate(0.00,0) scale(0.00469,-0.00469)" fill="#141414" stroke="#141414" stroke-width="25.6"/><text x="5.34" y="0" font-size="9.6" fill="#141414" stroke="#141414" stroke-width="0.12">μg/mL</text></g>
<line x1="172.7" y1="71.0" x2="185.5" y2="71.0" stroke="#5a9a9a" stroke-width="1.7"/>
<polygon points="175.03,73.77 181.97,73.77 178.5,67.36" fill="#111"/>
<text x="190.40" y="73.50" font-size="9.6" fill="#141414" stroke="#141414" stroke-width="0.12">2.5&#956;g/mL</text>
<line x1="172.7" y1="84.0" x2="185.5" y2="84.0" stroke="#f4b888" stroke-width="1.7"/>
<rect x="174.86" y="80.36" width="7.28" height="7.28" fill="#111"/>
<text x="190.40" y="86.50" font-size="9.6" fill="#141414" stroke="#141414" stroke-width="0.12">5&#956;g/mL</text>
<polygon points="133.85,81.5 143.54999999999998,81.5 138.7,68.8" fill="#111"/>
<line x1="138.7" y1="81.0" x2="138.7" y2="128.6" stroke="#111" stroke-width="1.7"/>
<g transform="translate(142.60,171.20) rotate(-90)"><text x="-37.10" y="0" font-size="12.1" fill="#141414" stroke="#141414" stroke-width="0.15">MFI IL-</text><path d="M763 0H583V1147Q518 1085 412 1023Q306 961 221 930V1104Q373 1175 487 1276Q601 1377 649 1472H763Z" transform="translate(1.21,0) scale(0.00591,-0.00591)" fill="#141414" stroke="#141414" stroke-width="25.4"/><text x="7.94" y="0" font-size="12.1" fill="#141414" stroke="#141414" stroke-width="0.15">2Rβ2</text></g>
<line x1="138.7" y1="213.7" x2="138.7" y2="263.3" stroke="#111" stroke-width="1.7"/>
<path d="M161.1 78.0V155.2H248" fill="none" stroke="#383838" stroke-width="1"/>
<line x1="158.7" y1="78.2" x2="161.1" y2="78.2" stroke="#3a3a3a" stroke-width="0.9"/>
<text x="158.60" y="79.65" font-size="4.1" text-anchor="end" fill="#111" stroke="#111" stroke-width="0.15">1500</text>
<line x1="158.7" y1="103.8" x2="161.1" y2="103.8" stroke="#3a3a3a" stroke-width="0.9"/>
<text x="158.60" y="105.25" font-size="4.1" text-anchor="end" fill="#111" stroke="#111" stroke-width="0.15">1000</text>
<line x1="158.7" y1="129.4" x2="161.1" y2="129.4" stroke="#3a3a3a" stroke-width="0.9"/>
<text x="158.60" y="130.85" font-size="4.1" text-anchor="end" fill="#111" stroke="#111" stroke-width="0.15">500</text>
<line x1="158.7" y1="155.2" x2="161.1" y2="155.2" stroke="#3a3a3a" stroke-width="0.9"/>
<text x="158.60" y="156.65" font-size="4.1" text-anchor="end" fill="#111" stroke="#111" stroke-width="0.15">0</text>
<line x1="170.0" y1="155.2" x2="170.0" y2="157.0" stroke="#4a4a4a" stroke-width="0.8"/>
<line x1="187.3" y1="155.2" x2="187.3" y2="157.0" stroke="#4a4a4a" stroke-width="0.8"/>
<line x1="204.6" y1="155.2" x2="204.6" y2="157.0" stroke="#4a4a4a" stroke-width="0.8"/>
<line x1="221.9" y1="155.2" x2="221.9" y2="157.0" stroke="#4a4a4a" stroke-width="0.8"/>
<line x1="239.2" y1="155.2" x2="239.2" y2="157.0" stroke="#4a4a4a" stroke-width="0.8"/>
<text x="169.20" y="170.00" font-size="12" text-anchor="middle" fill="#141414" stroke="#141414" stroke-width="0.22">0</text>
<g transform="translate(187.20,170.00)"><path d="M763 0H583V1147Q518 1085 412 1023Q306 961 221 930V1104Q373 1175 487 1276Q601 1377 649 1472H763Z" transform="translate(-3.34,0) scale(0.00586,-0.00586)" fill="#141414" stroke="#141414" stroke-width="37.5"/></g>
<text x="205.00" y="170.00" font-size="12" text-anchor="middle" fill="#141414" stroke="#141414" stroke-width="0.22">2</text>
<text x="223.10" y="170.00" font-size="12" text-anchor="middle" fill="#141414" stroke="#141414" stroke-width="0.22">3</text>
<text x="236.80" y="170.00" font-size="12" fill="#141414" stroke="#141414" stroke-width="0.22">4+</text>
<path d="M170.00 132.42C171.92 132.36 183.46 132.02 187.30 131.90C191.14 131.79 200.76 131.48 204.60 131.39C208.44 131.31 218.06 130.99 221.90 131.14C225.74 131.28 237.28 132.50 239.20 132.67" fill="none" stroke="#3a9a9a" stroke-width="1.1"/>
<path d="M170.00 130.62C171.92 130.68 183.46 131.22 187.30 131.14C191.14 131.05 200.76 130.20 204.60 129.86C208.44 129.51 218.06 127.84 221.90 128.06C225.74 128.29 237.28 131.48 239.20 131.90" fill="none" stroke="#f0a050" stroke-width="1.1"/>
<path d="M170.00 132.67C171.92 132.59 183.46 132.19 187.30 131.90C191.14 131.62 200.76 130.82 204.60 130.11C208.44 129.40 218.06 125.39 221.90 125.50C225.74 125.62 237.28 130.51 239.20 131.14" fill="none" stroke="#e040e0" stroke-width="1.1"/>
<polygon points="167.03,134.79 172.97,134.79 170.0,129.3" fill="#111"/>
<polygon points="184.33,134.28 190.27,134.28 187.3,128.79" fill="#111"/>
<polygon points="201.63,133.77 207.57,133.77 204.6,128.27" fill="#111"/>
<polygon points="218.93,133.51 224.87,133.51 221.9,128.02" fill="#111"/>
<polygon points="236.23,135.05 242.17,135.05 239.2,129.55" fill="#111"/>
<rect x="167.48" y="128.10" width="5.04" height="5.04" fill="#111"/>
<rect x="184.78" y="128.62" width="5.04" height="5.04" fill="#111"/>
<rect x="202.08" y="127.34" width="5.04" height="5.04" fill="#111"/>
<rect x="219.38" y="125.54" width="5.04" height="5.04" fill="#111"/>
<rect x="236.68" y="129.38" width="5.04" height="5.04" fill="#111"/>
<circle cx="170.00" cy="132.67" r="2.34" fill="#111"/>
<circle cx="187.30" cy="131.90" r="2.34" fill="#111"/>
<circle cx="204.60" cy="130.11" r="2.34" fill="#111"/>
<circle cx="221.90" cy="125.50" r="2.34" fill="#111"/>
<circle cx="239.20" cy="131.14" r="2.34" fill="#111"/>
<path d="M162.6 184.0V263.2H249" fill="none" stroke="#383838" stroke-width="1"/>
<line x1="160.2" y1="184.4" x2="162.6" y2="184.4" stroke="#3a3a3a" stroke-width="0.9"/>
<text x="160.10" y="185.85" font-size="4.1" text-anchor="end" fill="#111" stroke="#111" stroke-width="0.15">8000</text>
<line x1="160.2" y1="204.3" x2="162.6" y2="204.3" stroke="#3a3a3a" stroke-width="0.9"/>
<text x="160.10" y="205.75" font-size="4.1" text-anchor="end" fill="#111" stroke="#111" stroke-width="0.15">6000</text>
<line x1="160.2" y1="223.9" x2="162.6" y2="223.9" stroke="#3a3a3a" stroke-width="0.9"/>
<text x="160.10" y="225.35" font-size="4.1" text-anchor="end" fill="#111" stroke="#111" stroke-width="0.15">4000</text>
<line x1="160.2" y1="243.1" x2="162.6" y2="243.1" stroke="#3a3a3a" stroke-width="0.9"/>
<text x="160.10" y="244.55" font-size="4.1" text-anchor="end" fill="#111" stroke="#111" stroke-width="0.15">2000</text>
<line x1="160.2" y1="263.2" x2="162.6" y2="263.2" stroke="#3a3a3a" stroke-width="0.9"/>
<text x="160.10" y="264.65" font-size="4.1" text-anchor="end" fill="#111" stroke="#111" stroke-width="0.15">0</text>
<line x1="171.2" y1="263.2" x2="171.2" y2="265.0" stroke="#4a4a4a" stroke-width="0.8"/>
<line x1="188.5" y1="263.2" x2="188.5" y2="265.0" stroke="#4a4a4a" stroke-width="0.8"/>
<line x1="205.7" y1="263.2" x2="205.7" y2="265.0" stroke="#4a4a4a" stroke-width="0.8"/>
<line x1="223.0" y1="263.2" x2="223.0" y2="265.0" stroke="#4a4a4a" stroke-width="0.8"/>
<line x1="240.6" y1="263.2" x2="240.6" y2="265.0" stroke="#4a4a4a" stroke-width="0.8"/>
<text x="170.70" y="279.00" font-size="12" text-anchor="middle" fill="#141414" stroke="#141414" stroke-width="0.22">0</text>
<g transform="translate(188.60,279.00)"><path d="M763 0H583V1147Q518 1085 412 1023Q306 961 221 930V1104Q373 1175 487 1276Q601 1377 649 1472H763Z" transform="translate(-3.34,0) scale(0.00586,-0.00586)" fill="#141414" stroke="#141414" stroke-width="37.5"/></g>
<text x="206.30" y="279.00" font-size="12" text-anchor="middle" fill="#141414" stroke="#141414" stroke-width="0.22">2</text>
<text x="224.00" y="279.00" font-size="12" text-anchor="middle" fill="#141414" stroke="#141414" stroke-width="0.22">3</text>
<text x="238.50" y="279.00" font-size="12" fill="#141414" stroke="#141414" stroke-width="0.22">4+</text>
<path d="M171.20 254.35C173.12 253.06 184.67 244.92 188.50 242.75C192.33 240.59 201.87 235.98 205.70 234.89C209.53 233.80 219.12 232.62 223.00 232.92C226.88 233.23 238.64 237.12 240.60 237.64" fill="none" stroke="#3a9a9a" stroke-width="1.1"/>
<path d="M171.20 249.93C173.12 247.31 184.67 230.43 188.50 226.34C192.33 222.24 201.87 215.32 205.70 213.07C209.53 210.82 219.12 206.45 223.00 206.09C226.88 205.73 238.64 209.41 240.60 209.82" fill="none" stroke="#f0a050" stroke-width="1.1"/>
<path d="M171.20 257.99C173.12 257.99 184.67 258.11 188.50 257.99C192.33 257.87 201.87 257.07 205.70 256.91C209.53 256.74 219.12 256.40 223.00 256.52C226.88 256.64 238.64 257.83 240.60 257.99" fill="none" stroke="#e040e0" stroke-width="1.1"/>
<polygon points="168.23,256.73 174.17,256.73 171.2,251.23" fill="#111"/>
<polygon points="185.53,245.13 191.47,245.13 188.5,239.64" fill="#111"/>
<polygon points="202.73,237.27 208.67,237.27 205.7,231.77" fill="#111"/>
<polygon points="220.03,235.3 225.97,235.3 223.0,229.81" fill="#111"/>
<polygon points="237.63,240.02 243.57,240.02 240.6,234.52" fill="#111"/>
<rect x="168.68" y="247.41" width="5.04" height="5.04" fill="#111"/>
<rect x="185.98" y="223.82" width="5.04" height="5.04" fill="#111"/>
<rect x="203.18" y="210.55" width="5.04" height="5.04" fill="#111"/>
<rect x="220.48" y="203.57" width="5.04" height="5.04" fill="#111"/>
<rect x="238.08" y="207.30" width="5.04" height="5.04" fill="#111"/>
<circle cx="171.20" cy="257.99" r="2.34" fill="#111"/>
<circle cx="188.50" cy="257.99" r="2.34" fill="#111"/>
<circle cx="205.70" cy="256.91" r="2.34" fill="#111"/>
<circle cx="223.00" cy="256.52" r="2.34" fill="#111"/>
<circle cx="240.60" cy="257.99" r="2.34" fill="#111"/>
<text x="191.80" y="296.80" font-size="12.2" fill="#141414" stroke="#141414" stroke-width="0.22">Division</text>
<line x1="441.7" y1="58.4" x2="454.5" y2="58.4" stroke="#e890e8" stroke-width="1.7"/>
<circle cx="447.00" cy="58.10" r="3.38" fill="#111"/>
<g transform="translate(459.00,60.90)"><path d="M763 0H583V1147Q518 1085 412 1023Q306 961 221 930V1104Q373 1175 487 1276Q601 1377 649 1472H763Z" transform="translate(0.00,0) scale(0.00469,-0.00469)" fill="#141414" stroke="#141414" stroke-width="25.6"/><text x="5.34" y="0" font-size="9.6" fill="#141414" stroke="#141414" stroke-width="0.12">μg/mL</text></g>
<line x1="441.7" y1="70.9" x2="454.5" y2="70.9" stroke="#5a9a9a" stroke-width="1.7"/>
<polygon points="444.04,73.67 450.96,73.67 447.5,67.26" fill="#111"/>
<text x="459.00" y="73.40" font-size="9.6" fill="#141414" stroke="#141414" stroke-width="0.12">2.5&#956;g/mL</text>
<line x1="441.7" y1="83.4" x2="454.5" y2="83.4" stroke="#f4b888" stroke-width="1.7"/>
<rect x="443.86" y="79.76" width="7.28" height="7.28" fill="#111"/>
<text x="459.00" y="85.90" font-size="9.6" fill="#141414" stroke="#141414" stroke-width="0.12">5&#956;g/mL</text>
<polygon points="402.54999999999995,77.9 412.25,77.9 407.4,65.4" fill="#111"/>
<line x1="407.4" y1="77.4" x2="407.4" y2="132.8" stroke="#111" stroke-width="1.7"/>
<text transform="translate(412.00,170.40) rotate(-90)" font-size="12.7" text-anchor="middle" fill="#141414" stroke="#141414" stroke-width="0.15">MFI IFNAR2</text>
<line x1="407.4" y1="208.6" x2="407.4" y2="262.3" stroke="#111" stroke-width="1.7"/>
<path d="M432.1 78.8V155.0H518" fill="none" stroke="#383838" stroke-width="1"/>
<line x1="429.70000000000005" y1="78.8" x2="432.1" y2="78.8" stroke="#3a3a3a" stroke-width="0.9"/>
<text x="429.60" y="80.25" font-size="4.1" text-anchor="end" fill="#111" stroke="#111" stroke-width="0.15">20000</text>
<line x1="429.70000000000005" y1="98.0" x2="432.1" y2="98.0" stroke="#3a3a3a" stroke-width="0.9"/>
<text x="429.60" y="99.45" font-size="4.1" text-anchor="end" fill="#111" stroke="#111" stroke-width="0.15">15000</text>
<line x1="429.70000000000005" y1="117.2" x2="432.1" y2="117.2" stroke="#3a3a3a" stroke-width="0.9"/>
<text x="429.60" y="118.65" font-size="4.1" text-anchor="end" fill="#111" stroke="#111" stroke-width="0.15">10000</text>
<line x1="429.70000000000005" y1="136.4" x2="432.1" y2="136.4" stroke="#3a3a3a" stroke-width="0.9"/>
<text x="429.60" y="137.85" font-size="4.1" text-anchor="end" fill="#111" stroke="#111" stroke-width="0.15">5000</text>
<line x1="429.70000000000005" y1="155.0" x2="432.1" y2="155.0" stroke="#3a3a3a" stroke-width="0.9"/>
<text x="429.60" y="156.45" font-size="4.1" text-anchor="end" fill="#111" stroke="#111" stroke-width="0.15">0</text>
<line x1="440.2" y1="155.0" x2="440.2" y2="156.8" stroke="#4a4a4a" stroke-width="0.8"/>
<line x1="457.3" y1="155.0" x2="457.3" y2="156.8" stroke="#4a4a4a" stroke-width="0.8"/>
<line x1="474.4" y1="155.0" x2="474.4" y2="156.8" stroke="#4a4a4a" stroke-width="0.8"/>
<line x1="491.4" y1="155.0" x2="491.4" y2="156.8" stroke="#4a4a4a" stroke-width="0.8"/>
<line x1="508.5" y1="155.0" x2="508.5" y2="156.8" stroke="#4a4a4a" stroke-width="0.8"/>
<text x="439.60" y="170.00" font-size="12" text-anchor="middle" fill="#141414" stroke="#141414" stroke-width="0.22">0</text>
<g transform="translate(457.40,170.00)"><path d="M763 0H583V1147Q518 1085 412 1023Q306 961 221 930V1104Q373 1175 487 1276Q601 1377 649 1472H763Z" transform="translate(-3.34,0) scale(0.00586,-0.00586)" fill="#141414" stroke="#141414" stroke-width="37.5"/></g>
<text x="474.60" y="170.00" font-size="12" text-anchor="middle" fill="#141414" stroke="#141414" stroke-width="0.22">2</text>
<text x="491.40" y="170.00" font-size="12" text-anchor="middle" fill="#141414" stroke="#141414" stroke-width="0.22">3</text>
<text x="503.90" y="170.00" font-size="12" fill="#141414" stroke="#141414" stroke-width="0.22">4+</text>
<path d="M440.20 142.52C442.10 142.11 453.50 139.32 457.30 138.87C461.10 138.42 470.61 138.45 474.40 138.49C478.19 138.53 487.61 138.55 491.40 139.26C495.19 139.96 506.60 144.21 508.50 144.82" fill="none" stroke="#3a9a9a" stroke-width="1.1"/>
<path d="M440.20 141.79C442.10 141.40 453.50 138.72 457.30 138.30C461.10 137.87 470.61 137.93 474.40 137.99C478.19 138.04 487.61 138.13 491.40 138.80C495.19 139.47 506.60 143.44 508.50 144.02" fill="none" stroke="#f0a050" stroke-width="1.1"/>
<path d="M440.20 150.08C442.10 149.99 453.50 149.10 457.30 149.20C461.10 149.30 470.61 150.72 474.40 151.01C478.19 151.30 487.61 151.59 491.40 151.81C495.19 152.03 506.60 152.87 508.50 153.00" fill="none" stroke="#e040e0" stroke-width="1.1"/>
<polygon points="437.23,144.9 443.17,144.9 440.2,139.4" fill="#111"/>
<polygon points="454.33,141.25 460.27,141.25 457.3,135.75" fill="#111"/>
<polygon points="471.43,140.86 477.37,140.86 474.4,135.37" fill="#111"/>
<polygon points="488.43,141.63 494.37,141.63 491.4,136.14" fill="#111"/>
<polygon points="505.53,147.2 511.47,147.2 508.5,141.71" fill="#111"/>
<rect x="437.68" y="139.27" width="5.04" height="5.04" fill="#111"/>
<rect x="454.78" y="135.78" width="5.04" height="5.04" fill="#111"/>
<rect x="471.88" y="135.47" width="5.04" height="5.04" fill="#111"/>
<rect x="488.88" y="136.28" width="5.04" height="5.04" fill="#111"/>
<rect x="505.98" y="141.50" width="5.04" height="5.04" fill="#111"/>
<circle cx="440.20" cy="150.08" r="2.34" fill="#111"/>
<circle cx="457.30" cy="149.20" r="2.34" fill="#111"/>
<circle cx="474.40" cy="151.01" r="2.34" fill="#111"/>
<circle cx="491.40" cy="151.81" r="2.34" fill="#111"/>
<circle cx="508.50" cy="153.00" r="2.34" fill="#111"/>
<path d="M431.6 186.0V263.1H518" fill="none" stroke="#383838" stroke-width="1"/>
<line x1="429.20000000000005" y1="187.1" x2="431.6" y2="187.1" stroke="#3a3a3a" stroke-width="0.9"/>
<text x="429.10" y="188.55" font-size="4.1" text-anchor="end" fill="#111" stroke="#111" stroke-width="0.15">60000</text>
<line x1="429.20000000000005" y1="212.3" x2="431.6" y2="212.3" stroke="#3a3a3a" stroke-width="0.9"/>
<text x="429.10" y="213.75" font-size="4.1" text-anchor="end" fill="#111" stroke="#111" stroke-width="0.15">40000</text>
<line x1="429.20000000000005" y1="238.0" x2="431.6" y2="238.0" stroke="#3a3a3a" stroke-width="0.9"/>
<text x="429.10" y="239.45" font-size="4.1" text-anchor="end" fill="#111" stroke="#111" stroke-width="0.15">20000</text>
<line x1="429.20000000000005" y1="263.1" x2="431.6" y2="263.1" stroke="#3a3a3a" stroke-width="0.9"/>
<text x="429.10" y="264.55" font-size="4.1" text-anchor="end" fill="#111" stroke="#111" stroke-width="0.15">0</text>
<line x1="440.5" y1="263.1" x2="440.5" y2="264.90000000000003" stroke="#4a4a4a" stroke-width="0.8"/>
<line x1="457.5" y1="263.1" x2="457.5" y2="264.90000000000003" stroke="#4a4a4a" stroke-width="0.8"/>
<line x1="474.5" y1="263.1" x2="474.5" y2="264.90000000000003" stroke="#4a4a4a" stroke-width="0.8"/>
<line x1="491.4" y1="263.1" x2="491.4" y2="264.90000000000003" stroke="#4a4a4a" stroke-width="0.8"/>
<line x1="508.6" y1="263.1" x2="508.6" y2="264.90000000000003" stroke="#4a4a4a" stroke-width="0.8"/>
<text x="440.70" y="279.20" font-size="12" text-anchor="middle" fill="#141414" stroke="#141414" stroke-width="0.22">0</text>
<g transform="translate(457.80,279.20)"><path d="M763 0H583V1147Q518 1085 412 1023Q306 961 221 930V1104Q373 1175 487 1276Q601 1377 649 1472H763Z" transform="translate(-3.34,0) scale(0.00586,-0.00586)" fill="#141414" stroke="#141414" stroke-width="37.5"/></g>
<text x="474.80" y="279.20" font-size="12" text-anchor="middle" fill="#141414" stroke="#141414" stroke-width="0.22">2</text>
<text x="491.60" y="279.20" font-size="12" text-anchor="middle" fill="#141414" stroke="#141414" stroke-width="0.22">3</text>
<text x="505.30" y="279.20" font-size="12" fill="#141414" stroke="#141414" stroke-width="0.22">4+</text>
<path d="M440.50 225.62C442.39 225.88 453.72 226.86 457.50 228.04C461.28 229.21 470.73 234.70 474.50 236.20C478.27 237.70 487.61 239.75 491.40 241.55C495.19 243.35 506.69 251.19 508.60 252.39" fill="none" stroke="#3a9a9a" stroke-width="1.1"/>
<path d="M440.50 197.69C442.39 199.02 453.72 207.41 457.50 209.61C461.28 211.82 470.73 215.64 474.50 217.52C478.27 219.40 487.61 223.79 491.40 226.51C495.19 229.22 506.69 240.22 508.60 241.94" fill="none" stroke="#f0a050" stroke-width="1.1"/>
<path d="M440.50 258.80C442.39 258.69 453.72 257.98 457.50 257.80C461.28 257.61 470.73 257.15 474.50 257.11C478.27 257.06 487.61 257.17 491.40 257.40C495.19 257.63 506.69 259.00 508.60 259.20" fill="none" stroke="#e040e0" stroke-width="1.1"/>
<polygon points="437.53,227.99 443.47,227.99 440.5,222.5" fill="#111"/>
<polygon points="454.53,230.41 460.47,230.41 457.5,224.92" fill="#111"/>
<polygon points="471.53,238.57 477.47,238.57 474.5,233.08" fill="#111"/>
<polygon points="488.43,243.93 494.37,243.93 491.4,238.43" fill="#111"/>
<polygon points="505.63,254.77 511.57,254.77 508.6,249.27" fill="#111"/>
<rect x="437.98" y="195.17" width="5.04" height="5.04" fill="#111"/>
<rect x="454.98" y="207.09" width="5.04" height="5.04" fill="#111"/>
<rect x="471.98" y="215.00" width="5.04" height="5.04" fill="#111"/>
<rect x="488.88" y="223.99" width="5.04" height="5.04" fill="#111"/>
<rect x="506.08" y="239.42" width="5.04" height="5.04" fill="#111"/>
<circle cx="440.50" cy="258.80" r="2.34" fill="#111"/>
<circle cx="457.50" cy="257.80" r="2.34" fill="#111"/>
<circle cx="474.50" cy="257.11" r="2.34" fill="#111"/>
<circle cx="491.40" cy="257.40" r="2.34" fill="#111"/>
<circle cx="508.60" cy="259.20" r="2.34" fill="#111"/>
<text x="458.30" y="296.80" font-size="12.2" fill="#141414" stroke="#141414" stroke-width="0.22">Division</text>
<path d="M72.6 134.3h0.6v0.6h-0.6zM67.8 125.8h0.6v0.6h-0.6zM66.0 125.4h0.6v0.6h-0.6zM75.3 142.2h0.6v0.6h-0.6zM66.4 128.4h0.6v0.6h-0.6zM77.0 133.6h0.6v0.6h-0.6zM71.0 124.6h0.6v0.6h-0.6zM73.2 137.4h0.6v0.6h-0.6zM59.4 131.6h0.6v0.6h-0.6zM52.8 126.5h0.6v0.6h-0.6zM55.5 134.5h0.6v0.6h-0.6zM61.5 137.0h0.6v0.6h-0.6zM73.0 130.2h0.6v0.6h-0.6zM49.0 133.7h0.6v0.6h-0.6zM71.8 133.0h0.6v0.6h-0.6zM57.7 131.9h0.6v0.6h-0.6zM61.8 128.0h0.6v0.6h-0.6zM79.6 123.3h0.6v0.6h-0.6zM73.5 138.9h0.6v0.6h-0.6zM66.7 132.5h0.6v0.6h-0.6zM73.1 132.2h0.6v0.6h-0.6zM61.5 135.4h0.6v0.6h-0.6zM80.6 116.9h0.6v0.6h-0.6zM79.7 130.9h0.6v0.6h-0.6zM70.6 149.0h0.6v0.6h-0.6zM76.1 121.0h0.6v0.6h-0.6zM73.8 136.3h0.6v0.6h-0.6zM71.8 137.7h0.6v0.6h-0.6zM72.8 137.3h0.6v0.6h-0.6zM83.1 123.4h0.6v0.6h-0.6zM72.8 127.9h0.6v0.6h-0.6zM70.6 122.5h0.6v0.6h-0.6zM66.6 131.8h0.6v0.6h-0.6zM82.2 138.8h0.6v0.6h-0.6zM58.8 128.9h0.6v0.6h-0.6zM73.5 115.1h0.6v0.6h-0.6zM67.8 132.3h0.6v0.6h-0.6zM84.4 134.4h0.6v0.6h-0.6zM68.4 129.9h0.6v0.6h-0.6zM73.0 144.4h0.6v0.6h-0.6zM67.7 130.7h0.6v0.6h-0.6zM74.8 130.2h0.6v0.6h-0.6zM68.0 123.9h0.6v0.6h-0.6zM71.0 128.6h0.6v0.6h-0.6zM83.5 134.3h0.6v0.6h-0.6zM73.2 137.2h0.6v0.6h-0.6zM71.2 140.9h0.6v0.6h-0.6zM73.2 136.5h0.6v0.6h-0.6zM61.5 137.7h0.6v0.6h-0.6zM53.1 120.2h0.6v0.6h-0.6zM67.5 125.8h0.6v0.6h-0.6zM78.1 149.0h0.6v0.6h-0.6zM63.5 129.1h0.6v0.6h-0.6zM74.8 135.3h0.6v0.6h-0.6zM70.0 130.8h0.6v0.6h-0.6zM79.2 134.4h0.6v0.6h-0.6zM62.8 133.8h0.6v0.6h-0.6zM70.1 123.8h0.6v0.6h-0.6zM72.5 124.8h0.6v0.6h-0.6zM80.8 131.2h0.6v0.6h-0.6zM71.6 127.2h0.6v0.6h-0.6zM66.8 116.8h0.6v0.6h-0.6zM62.9 137.4h0.6v0.6h-0.6zM55.2 143.5h0.6v0.6h-0.6zM58.4 141.9h0.6v0.6h-0.6zM66.3 140.0h0.6v0.6h-0.6zM70.0 119.8h0.6v0.6h-0.6zM85.8 140.2h0.6v0.6h-0.6zM70.9 130.0h0.6v0.6h-0.6zM68.6 124.8h0.6v0.6h-0.6z" fill="#e890b8" opacity="0.8"/>
<path d="M83.8 114.3h0.6v0.6h-0.6zM74.6 113.0h0.6v0.6h-0.6zM70.0 110.6h0.6v0.6h-0.6zM85.1 116.2h0.6v0.6h-0.6zM82.7 117.1h0.6v0.6h-0.6zM69.4 115.4h0.6v0.6h-0.6zM70.5 117.0h0.6v0.6h-0.6zM72.0 115.5h0.6v0.6h-0.6zM64.0 113.0h0.6v0.6h-0.6zM88.2 113.6h0.6v0.6h-0.6zM66.6 118.7h0.6v0.6h-0.6zM86.3 109.7h0.6v0.6h-0.6zM73.3 113.8h0.6v0.6h-0.6zM60.9 120.7h0.6v0.6h-0.6zM74.8 117.4h0.6v0.6h-0.6zM69.0 119.3h0.6v0.6h-0.6zM70.7 116.3h0.6v0.6h-0.6zM66.1 110.9h0.6v0.6h-0.6zM85.7 114.5h0.6v0.6h-0.6zM77.3 116.8h0.6v0.6h-0.6zM71.5 114.5h0.6v0.6h-0.6zM80.0 115.5h0.6v0.6h-0.6zM73.8 117.1h0.6v0.6h-0.6zM84.4 120.4h0.6v0.6h-0.6zM78.1 114.2h0.6v0.6h-0.6zM63.9 121.7h0.6v0.6h-0.6zM82.7 116.3h0.6v0.6h-0.6zM79.3 120.9h0.6v0.6h-0.6zM81.6 121.6h0.6v0.6h-0.6zM71.4 124.6h0.6v0.6h-0.6zM65.0 121.3h0.6v0.6h-0.6zM79.0 121.4h0.6v0.6h-0.6zM90.0 124.4h0.6v0.6h-0.6zM65.8 108.6h0.6v0.6h-0.6zM81.5 111.9h0.6v0.6h-0.6zM74.9 121.2h0.6v0.6h-0.6zM61.8 106.5h0.6v0.6h-0.6zM77.1 117.2h0.6v0.6h-0.6zM73.0 117.2h0.6v0.6h-0.6zM68.1 109.4h0.6v0.6h-0.6z" fill="#e0b070" opacity="0.7"/>
<path d="M65.1 136.1h0.6v0.6h-0.6zM59.9 143.5h0.6v0.6h-0.6zM67.2 140.4h0.6v0.6h-0.6zM61.6 138.5h0.6v0.6h-0.6zM61.2 137.8h0.6v0.6h-0.6zM67.0 136.1h0.6v0.6h-0.6zM69.1 139.5h0.6v0.6h-0.6zM74.8 131.0h0.6v0.6h-0.6zM71.1 137.2h0.6v0.6h-0.6zM65.2 134.3h0.6v0.6h-0.6zM65.7 142.2h0.6v0.6h-0.6zM66.7 139.4h0.6v0.6h-0.6zM67.0 143.3h0.6v0.6h-0.6zM64.3 131.8h0.6v0.6h-0.6zM61.4 133.7h0.6v0.6h-0.6zM51.1 142.8h0.6v0.6h-0.6zM73.3 136.9h0.6v0.6h-0.6zM60.4 137.9h0.6v0.6h-0.6zM72.5 137.6h0.6v0.6h-0.6zM67.2 138.7h0.6v0.6h-0.6zM68.1 141.6h0.6v0.6h-0.6zM69.9 138.8h0.6v0.6h-0.6zM62.7 142.5h0.6v0.6h-0.6zM65.1 143.8h0.6v0.6h-0.6zM60.9 140.7h0.6v0.6h-0.6zM65.4 134.7h0.6v0.6h-0.6zM76.8 140.9h0.6v0.6h-0.6zM65.7 142.3h0.6v0.6h-0.6zM65.7 129.8h0.6v0.6h-0.6zM68.1 138.4h0.6v0.6h-0.6zM66.1 135.3h0.6v0.6h-0.6zM65.5 138.9h0.6v0.6h-0.6zM73.0 138.1h0.6v0.6h-0.6zM68.8 144.0h0.6v0.6h-0.6zM63.9 138.7h0.6v0.6h-0.6zM60.3 147.3h0.6v0.6h-0.6zM72.6 140.4h0.6v0.6h-0.6zM70.3 138.2h0.6v0.6h-0.6zM67.7 137.8h0.6v0.6h-0.6zM66.1 139.5h0.6v0.6h-0.6zM74.8 138.2h0.6v0.6h-0.6zM66.0 137.2h0.6v0.6h-0.6zM65.9 145.4h0.6v0.6h-0.6zM69.5 138.4h0.6v0.6h-0.6zM64.0 135.9h0.6v0.6h-0.6zM67.7 142.0h0.6v0.6h-0.6zM64.9 138.9h0.6v0.6h-0.6zM66.1 139.7h0.6v0.6h-0.6zM59.2 141.0h0.6v0.6h-0.6zM64.0 143.4h0.6v0.6h-0.6zM64.1 142.2h0.6v0.6h-0.6zM73.8 135.4h0.6v0.6h-0.6zM64.4 140.7h0.6v0.6h-0.6zM65.8 135.7h0.6v0.6h-0.6zM71.6 144.8h0.6v0.6h-0.6zM65.5 138.8h0.6v0.6h-0.6zM62.5 141.8h0.6v0.6h-0.6zM59.8 137.5h0.6v0.6h-0.6zM71.9 133.8h0.6v0.6h-0.6zM73.9 142.2h0.6v0.6h-0.6z" fill="#c85070" opacity="0.75"/>
<path d="M105.3 118.1h0.6v0.6h-0.6zM109.0 113.4h0.6v0.6h-0.6zM101.0 117.7h0.6v0.6h-0.6zM105.6 119.7h0.6v0.6h-0.6zM105.6 114.7h0.6v0.6h-0.6zM101.2 119.3h0.6v0.6h-0.6zM104.6 117.1h0.6v0.6h-0.6zM104.9 117.9h0.6v0.6h-0.6zM103.2 118.6h0.6v0.6h-0.6zM104.5 117.4h0.6v0.6h-0.6zM107.3 119.2h0.6v0.6h-0.6zM105.6 116.7h0.6v0.6h-0.6zM99.9 122.3h0.6v0.6h-0.6zM97.3 120.7h0.6v0.6h-0.6zM107.0 116.9h0.6v0.6h-0.6zM101.8 116.2h0.6v0.6h-0.6zM102.3 118.0h0.6v0.6h-0.6zM108.0 119.3h0.6v0.6h-0.6zM103.8 116.6h0.6v0.6h-0.6zM100.8 120.6h0.6v0.6h-0.6zM102.3 117.0h0.6v0.6h-0.6zM103.1 116.3h0.6v0.6h-0.6zM108.1 116.8h0.6v0.6h-0.6zM106.4 115.0h0.6v0.6h-0.6zM105.2 116.7h0.6v0.6h-0.6zM102.6 118.5h0.6v0.6h-0.6zM99.0 119.2h0.6v0.6h-0.6zM105.9 116.0h0.6v0.6h-0.6zM105.6 118.7h0.6v0.6h-0.6zM98.5 120.9h0.6v0.6h-0.6z" fill="#e8a8e0" opacity="0.8"/>
<polygon points="63.1,131.3 64.0,128.0 65.8,124.5 68.0,122.0 70.4,120.5 74.0,119.0 77.0,118.6 81.0,119.3 85.2,120.5 87.5,122.6 89.3,123.3 92.0,122.8 94.6,123.2 98.0,124.3 100.0,125.8 100.0,128.5 98.7,130.0 93.0,130.8 88.0,131.3 82.0,132.8 77.0,134.0 73.0,136.0 69.0,138.2 65.5,137.5 63.5,134.5" fill="#dc02e0" opacity="0.3" filter="url(#b2)"/>
<polygon points="63.1,131.3 64.0,128.0 65.8,124.5 68.0,122.0 70.4,120.5 74.0,119.0 77.0,118.6 81.0,119.3 85.2,120.5 87.5,122.6 89.3,123.3 92.0,122.8 94.6,123.2 98.0,124.3 100.0,125.8 100.0,128.5 98.7,130.0 93.0,130.8 88.0,131.3 82.0,132.8 77.0,134.0 73.0,136.0 69.0,138.2 65.5,137.5 63.5,134.5" fill="#dc02e0" opacity="1" filter="url(#b06)"/>
<path d="M94.0 129.2h0.7v0.7h-0.7zM72.6 130.7h0.7v0.7h-0.7zM87.4 124.8h0.7v0.7h-0.7zM78.8 122.5h0.7v0.7h-0.7zM78.1 120.8h0.7v0.7h-0.7zM89.4 127.1h0.7v0.7h-0.7zM95.3 126.3h0.7v0.7h-0.7zM74.8 122.9h0.7v0.7h-0.7zM92.6 127.9h0.7v0.7h-0.7zM90.9 124.5h0.7v0.7h-0.7zM64.6 135.5h0.7v0.7h-0.7zM84.1 123.0h0.7v0.7h-0.7zM83.9 132.9h0.7v0.7h-0.7zM79.6 129.8h0.7v0.7h-0.7zM86.9 127.6h0.7v0.7h-0.7zM83.6 123.9h0.7v0.7h-0.7zM70.2 131.9h0.7v0.7h-0.7zM69.1 121.3h0.7v0.7h-0.7zM97.0 126.6h0.7v0.7h-0.7zM79.7 124.8h0.7v0.7h-0.7zM91.8 124.1h0.7v0.7h-0.7zM83.7 130.4h0.7v0.7h-0.7zM80.2 121.8h0.7v0.7h-0.7zM94.6 125.5h0.7v0.7h-0.7zM88.8 129.4h0.7v0.7h-0.7zM87.4 126.0h0.7v0.7h-0.7zM77.7 118.5h0.7v0.7h-0.7zM77.3 132.9h0.7v0.7h-0.7zM76.7 123.8h0.7v0.7h-0.7zM80.2 123.2h0.7v0.7h-0.7zM81.7 123.8h0.7v0.7h-0.7zM74.9 124.3h0.7v0.7h-0.7zM76.7 122.8h0.7v0.7h-0.7zM79.4 127.1h0.7v0.7h-0.7zM77.0 121.0h0.7v0.7h-0.7zM88.3 128.8h0.7v0.7h-0.7zM88.8 123.4h0.7v0.7h-0.7zM85.0 121.2h0.7v0.7h-0.7zM78.3 131.0h0.7v0.7h-0.7zM68.6 131.0h0.7v0.7h-0.7zM73.1 129.3h0.7v0.7h-0.7zM78.7 127.3h0.7v0.7h-0.7zM79.4 122.1h0.7v0.7h-0.7zM76.3 129.9h0.7v0.7h-0.7zM76.5 124.3h0.7v0.7h-0.7zM73.9 127.4h0.7v0.7h-0.7zM78.3 131.5h0.7v0.7h-0.7zM95.0 130.0h0.7v0.7h-0.7zM94.9 131.4h0.7v0.7h-0.7zM80.5 126.5h0.7v0.7h-0.7zM79.8 133.4h0.7v0.7h-0.7zM76.4 126.8h0.7v0.7h-0.7zM83.4 123.3h0.7v0.7h-0.7zM74.0 124.0h0.7v0.7h-0.7zM90.0 124.9h0.7v0.7h-0.7zM91.1 122.7h0.7v0.7h-0.7zM94.5 129.3h0.7v0.7h-0.7zM79.3 118.2h0.7v0.7h-0.7zM63.7 129.6h0.7v0.7h-0.7zM71.7 134.0h0.7v0.7h-0.7zM80.6 124.5h0.7v0.7h-0.7zM86.9 122.2h0.7v0.7h-0.7zM69.4 124.0h0.7v0.7h-0.7zM71.6 123.4h0.7v0.7h-0.7zM63.9 129.1h0.7v0.7h-0.7zM78.4 126.3h0.7v0.7h-0.7zM69.1 136.4h0.7v0.7h-0.7zM66.7 133.4h0.7v0.7h-0.7zM92.5 124.0h0.7v0.7h-0.7zM81.1 124.5h0.7v0.7h-0.7zM87.9 127.4h0.7v0.7h-0.7zM86.5 131.1h0.7v0.7h-0.7zM91.8 126.0h0.7v0.7h-0.7zM71.6 123.5h0.7v0.7h-0.7zM66.9 132.9h0.7v0.7h-0.7zM79.2 125.6h0.7v0.7h-0.7zM66.7 129.2h0.7v0.7h-0.7zM66.7 132.8h0.7v0.7h-0.7zM68.2 124.9h0.7v0.7h-0.7zM72.7 130.5h0.7v0.7h-0.7zM68.6 128.2h0.7v0.7h-0.7zM67.9 136.5h0.7v0.7h-0.7zM72.1 127.2h0.7v0.7h-0.7zM68.6 134.6h0.7v0.7h-0.7zM86.3 125.3h0.7v0.7h-0.7zM78.2 129.5h0.7v0.7h-0.7zM67.7 137.5h0.7v0.7h-0.7zM88.4 126.0h0.7v0.7h-0.7zM63.1 125.5h0.7v0.7h-0.7zM88.2 131.7h0.7v0.7h-0.7zM85.7 126.2h0.7v0.7h-0.7zM69.8 129.1h0.7v0.7h-0.7zM65.8 130.0h0.7v0.7h-0.7zM86.1 131.6h0.7v0.7h-0.7zM88.3 124.5h0.7v0.7h-0.7zM84.4 125.8h0.7v0.7h-0.7zM86.0 122.4h0.7v0.7h-0.7zM74.8 131.5h0.7v0.7h-0.7zM90.7 125.2h0.7v0.7h-0.7zM89.5 128.0h0.7v0.7h-0.7zM78.3 129.2h0.7v0.7h-0.7zM95.9 124.7h0.7v0.7h-0.7zM92.0 128.0h0.7v0.7h-0.7zM74.9 139.4h0.7v0.7h-0.7zM66.5 124.0h0.7v0.7h-0.7zM68.6 132.7h0.7v0.7h-0.7zM79.4 125.1h0.7v0.7h-0.7zM66.9 130.8h0.7v0.7h-0.7zM69.8 136.8h0.7v0.7h-0.7zM72.0 123.5h0.7v0.7h-0.7zM72.1 135.9h0.7v0.7h-0.7zM94.4 122.2h0.7v0.7h-0.7zM82.2 127.0h0.7v0.7h-0.7zM64.6 135.2h0.7v0.7h-0.7zM92.4 123.1h0.7v0.7h-0.7zM86.0 125.0h0.7v0.7h-0.7zM73.9 131.4h0.7v0.7h-0.7zM86.8 130.4h0.7v0.7h-0.7zM73.1 123.8h0.7v0.7h-0.7zM91.4 132.8h0.7v0.7h-0.7zM76.6 123.1h0.7v0.7h-0.7zM76.9 122.5h0.7v0.7h-0.7zM69.5 120.6h0.7v0.7h-0.7zM91.0 124.9h0.7v0.7h-0.7zM80.3 121.5h0.7v0.7h-0.7zM96.3 126.9h0.7v0.7h-0.7zM73.6 126.2h0.7v0.7h-0.7zM70.1 123.0h0.7v0.7h-0.7zM72.2 132.5h0.7v0.7h-0.7zM68.2 126.2h0.7v0.7h-0.7zM63.7 130.1h0.7v0.7h-0.7zM69.9 132.1h0.7v0.7h-0.7zM72.3 123.6h0.7v0.7h-0.7zM84.5 117.4h0.7v0.7h-0.7zM81.8 128.9h0.7v0.7h-0.7zM64.2 131.1h0.7v0.7h-0.7zM66.2 122.6h0.7v0.7h-0.7zM80.5 127.5h0.7v0.7h-0.7zM85.4 125.6h0.7v0.7h-0.7zM96.6 125.1h0.7v0.7h-0.7zM82.4 125.4h0.7v0.7h-0.7zM76.2 126.2h0.7v0.7h-0.7zM71.9 134.8h0.7v0.7h-0.7zM80.3 123.3h0.7v0.7h-0.7zM74.2 122.8h0.7v0.7h-0.7zM77.1 130.0h0.7v0.7h-0.7zM84.3 123.3h0.7v0.7h-0.7zM74.3 122.2h0.7v0.7h-0.7zM84.5 124.4h0.7v0.7h-0.7zM69.2 129.1h0.7v0.7h-0.7zM84.9 125.8h0.7v0.7h-0.7zM67.9 124.5h0.7v0.7h-0.7zM83.4 122.9h0.7v0.7h-0.7zM77.6 126.7h0.7v0.7h-0.7zM72.1 129.0h0.7v0.7h-0.7zM76.3 128.9h0.7v0.7h-0.7zM83.3 131.4h0.7v0.7h-0.7zM71.3 131.8h0.7v0.7h-0.7zM68.2 139.8h0.7v0.7h-0.7zM95.8 126.1h0.7v0.7h-0.7zM98.3 124.2h0.7v0.7h-0.7zM98.8 124.2h0.7v0.7h-0.7zM68.1 119.9h0.7v0.7h-0.7zM81.0 129.6h0.7v0.7h-0.7zM82.5 121.5h0.7v0.7h-0.7zM75.6 119.8h0.7v0.7h-0.7zM91.8 122.4h0.7v0.7h-0.7zM73.8 121.2h0.7v0.7h-0.7zM96.7 129.9h0.7v0.7h-0.7zM67.7 123.9h0.7v0.7h-0.7zM79.7 124.6h0.7v0.7h-0.7zM67.9 120.7h0.7v0.7h-0.7zM66.8 133.7h0.7v0.7h-0.7zM72.7 119.9h0.7v0.7h-0.7zM66.4 131.9h0.7v0.7h-0.7zM72.6 125.9h0.7v0.7h-0.7zM92.0 127.0h0.7v0.7h-0.7zM71.6 138.6h0.7v0.7h-0.7zM77.6 127.2h0.7v0.7h-0.7zM73.8 130.6h0.7v0.7h-0.7zM71.5 134.3h0.7v0.7h-0.7zM66.8 126.5h0.7v0.7h-0.7zM85.7 121.9h0.7v0.7h-0.7zM89.6 131.8h0.7v0.7h-0.7zM66.4 130.8h0.7v0.7h-0.7zM74.7 127.0h0.7v0.7h-0.7zM86.1 124.8h0.7v0.7h-0.7zM84.2 121.8h0.7v0.7h-0.7zM91.3 126.3h0.7v0.7h-0.7zM72.0 131.6h0.7v0.7h-0.7zM79.6 126.6h0.7v0.7h-0.7zM77.7 125.4h0.7v0.7h-0.7zM78.8 131.0h0.7v0.7h-0.7zM66.8 131.3h0.7v0.7h-0.7zM91.9 126.8h0.7v0.7h-0.7zM70.5 127.0h0.7v0.7h-0.7zM70.7 132.0h0.7v0.7h-0.7zM76.4 134.0h0.7v0.7h-0.7zM74.3 125.0h0.7v0.7h-0.7zM68.7 118.5h0.7v0.7h-0.7zM92.0 126.5h0.7v0.7h-0.7zM73.2 121.8h0.7v0.7h-0.7zM71.5 136.9h0.7v0.7h-0.7zM75.3 127.9h0.7v0.7h-0.7zM85.2 123.6h0.7v0.7h-0.7zM90.0 123.7h0.7v0.7h-0.7zM64.4 127.2h0.7v0.7h-0.7zM69.4 129.7h0.7v0.7h-0.7zM71.5 132.4h0.7v0.7h-0.7zM69.3 133.0h0.7v0.7h-0.7zM85.7 123.6h0.7v0.7h-0.7zM74.8 120.6h0.7v0.7h-0.7zM74.5 133.0h0.7v0.7h-0.7zM74.7 126.8h0.7v0.7h-0.7zM64.0 133.1h0.7v0.7h-0.7zM69.5 122.9h0.7v0.7h-0.7zM90.1 124.7h0.7v0.7h-0.7zM71.1 123.7h0.7v0.7h-0.7zM64.9 132.5h0.7v0.7h-0.7zM74.1 125.5h0.7v0.7h-0.7zM70.1 127.0h0.7v0.7h-0.7zM87.0 122.0h0.7v0.7h-0.7zM67.5 127.3h0.7v0.7h-0.7zM98.0 124.0h0.7v0.7h-0.7zM74.8 121.8h0.7v0.7h-0.7zM64.6 133.2h0.7v0.7h-0.7zM71.7 132.3h0.7v0.7h-0.7zM94.5 121.9h0.7v0.7h-0.7zM87.3 124.9h0.7v0.7h-0.7zM82.3 132.4h0.7v0.7h-0.7zM97.5 124.6h0.7v0.7h-0.7zM79.6 124.7h0.7v0.7h-0.7zM71.1 134.7h0.7v0.7h-0.7zM81.8 126.2h0.7v0.7h-0.7zM69.3 134.4h0.7v0.7h-0.7zM81.7 127.3h0.7v0.7h-0.7zM97.8 129.4h0.7v0.7h-0.7zM65.0 130.1h0.7v0.7h-0.7zM84.8 120.6h0.7v0.7h-0.7zM63.3 131.7h0.7v0.7h-0.7zM67.3 129.4h0.7v0.7h-0.7zM86.6 126.9h0.7v0.7h-0.7zM91.0 120.4h0.7v0.7h-0.7zM89.7 125.8h0.7v0.7h-0.7zM69.0 130.4h0.7v0.7h-0.7zM83.1 126.5h0.7v0.7h-0.7zM71.4 132.5h0.7v0.7h-0.7zM83.2 126.3h0.7v0.7h-0.7zM76.7 122.9h0.7v0.7h-0.7zM73.2 128.1h0.7v0.7h-0.7zM68.2 131.4h0.7v0.7h-0.7zM80.1 118.9h0.7v0.7h-0.7zM72.9 121.0h0.7v0.7h-0.7zM74.8 131.1h0.7v0.7h-0.7zM85.7 126.0h0.7v0.7h-0.7zM83.3 128.2h0.7v0.7h-0.7zM76.6 133.3h0.7v0.7h-0.7zM75.4 131.3h0.7v0.7h-0.7zM63.9 129.4h0.7v0.7h-0.7zM71.7 134.0h0.7v0.7h-0.7zM69.4 126.5h0.7v0.7h-0.7zM86.5 130.8h0.7v0.7h-0.7zM82.4 123.8h0.7v0.7h-0.7zM69.3 132.2h0.7v0.7h-0.7zM82.3 124.4h0.7v0.7h-0.7zM73.0 129.7h0.7v0.7h-0.7zM66.3 129.9h0.7v0.7h-0.7zM93.9 127.9h0.7v0.7h-0.7zM66.9 130.0h0.7v0.7h-0.7zM71.9 134.0h0.7v0.7h-0.7zM68.8 134.3h0.7v0.7h-0.7zM85.0 131.3h0.7v0.7h-0.7zM78.4 132.9h0.7v0.7h-0.7zM78.7 126.0h0.7v0.7h-0.7zM69.5 118.6h0.7v0.7h-0.7zM72.9 136.1h0.7v0.7h-0.7zM80.1 127.5h0.7v0.7h-0.7zM71.2 137.2h0.7v0.7h-0.7zM90.5 129.6h0.7v0.7h-0.7zM81.8 119.8h0.7v0.7h-0.7zM97.0 126.2h0.7v0.7h-0.7zM88.6 129.2h0.7v0.7h-0.7zM66.7 129.9h0.7v0.7h-0.7zM100.3 124.6h0.7v0.7h-0.7zM67.7 134.4h0.7v0.7h-0.7zM64.6 131.4h0.7v0.7h-0.7zM80.4 119.6h0.7v0.7h-0.7zM85.3 128.5h0.7v0.7h-0.7zM94.0 128.0h0.7v0.7h-0.7zM96.4 123.2h0.7v0.7h-0.7zM77.1 133.2h0.7v0.7h-0.7zM82.0 122.6h0.7v0.7h-0.7zM84.1 124.4h0.7v0.7h-0.7zM92.4 123.5h0.7v0.7h-0.7zM71.6 122.1h0.7v0.7h-0.7zM90.5 128.1h0.7v0.7h-0.7zM78.4 132.9h0.7v0.7h-0.7zM68.3 136.9h0.7v0.7h-0.7zM82.2 120.7h0.7v0.7h-0.7zM80.3 130.7h0.7v0.7h-0.7zM80.1 119.8h0.7v0.7h-0.7zM72.7 136.7h0.7v0.7h-0.7zM74.0 128.1h0.7v0.7h-0.7zM99.4 128.7h0.7v0.7h-0.7zM81.4 131.3h0.7v0.7h-0.7zM73.6 119.4h0.7v0.7h-0.7zM74.6 134.8h0.7v0.7h-0.7zM84.4 129.8h0.7v0.7h-0.7zM76.3 135.3h0.7v0.7h-0.7zM66.0 131.7h0.7v0.7h-0.7zM73.1 123.5h0.7v0.7h-0.7zM72.9 120.8h0.7v0.7h-0.7zM64.5 136.0h0.7v0.7h-0.7zM91.8 124.5h0.7v0.7h-0.7zM79.5 128.7h0.7v0.7h-0.7zM82.1 126.6h0.7v0.7h-0.7zM73.2 125.0h0.7v0.7h-0.7zM83.6 118.6h0.7v0.7h-0.7zM96.1 127.2h0.7v0.7h-0.7zM65.1 126.3h0.7v0.7h-0.7zM84.9 123.4h0.7v0.7h-0.7zM69.2 132.5h0.7v0.7h-0.7zM72.0 120.3h0.7v0.7h-0.7zM74.4 117.1h0.7v0.7h-0.7zM85.3 120.8h0.7v0.7h-0.7zM86.8 123.6h0.7v0.7h-0.7zM94.6 127.7h0.7v0.7h-0.7zM92.2 131.6h0.7v0.7h-0.7zM73.0 125.5h0.7v0.7h-0.7zM64.7 134.3h0.7v0.7h-0.7zM80.0 128.9h0.7v0.7h-0.7zM84.9 126.7h0.7v0.7h-0.7zM85.1 130.5h0.7v0.7h-0.7zM77.8 132.4h0.7v0.7h-0.7zM86.2 124.7h0.7v0.7h-0.7zM80.4 131.7h0.7v0.7h-0.7zM72.7 122.2h0.7v0.7h-0.7zM73.3 138.4h0.7v0.7h-0.7zM81.9 121.3h0.7v0.7h-0.7zM64.7 136.3h0.7v0.7h-0.7zM97.3 125.0h0.7v0.7h-0.7zM66.2 126.6h0.7v0.7h-0.7zM71.2 127.8h0.7v0.7h-0.7zM77.8 120.6h0.7v0.7h-0.7zM93.9 126.1h0.7v0.7h-0.7zM80.6 124.5h0.7v0.7h-0.7zM64.7 133.3h0.7v0.7h-0.7zM82.0 122.4h0.7v0.7h-0.7zM77.4 133.1h0.7v0.7h-0.7zM71.8 129.1h0.7v0.7h-0.7zM83.8 122.2h0.7v0.7h-0.7zM74.2 121.5h0.7v0.7h-0.7zM99.0 126.5h0.7v0.7h-0.7zM90.2 132.6h0.7v0.7h-0.7zM77.0 121.8h0.7v0.7h-0.7zM63.5 136.0h0.7v0.7h-0.7zM75.8 135.4h0.7v0.7h-0.7zM76.8 120.5h0.7v0.7h-0.7zM72.7 132.8h0.7v0.7h-0.7zM68.7 129.1h0.7v0.7h-0.7zM85.6 130.6h0.7v0.7h-0.7zM88.6 121.4h0.7v0.7h-0.7zM81.5 126.9h0.7v0.7h-0.7zM91.2 123.2h0.7v0.7h-0.7zM97.8 125.0h0.7v0.7h-0.7zM82.9 124.1h0.7v0.7h-0.7zM77.9 136.6h0.7v0.7h-0.7zM83.5 122.4h0.7v0.7h-0.7zM99.4 128.1h0.7v0.7h-0.7zM75.3 130.7h0.7v0.7h-0.7zM64.2 134.7h0.7v0.7h-0.7zM68.3 138.1h0.7v0.7h-0.7zM79.9 133.4h0.7v0.7h-0.7zM82.5 130.7h0.7v0.7h-0.7zM77.1 131.1h0.7v0.7h-0.7zM80.2 122.2h0.7v0.7h-0.7zM78.0 131.2h0.7v0.7h-0.7zM71.0 133.8h0.7v0.7h-0.7zM79.1 131.4h0.7v0.7h-0.7zM73.1 120.6h0.7v0.7h-0.7zM75.2 122.0h0.7v0.7h-0.7zM75.8 124.5h0.7v0.7h-0.7zM79.2 131.9h0.7v0.7h-0.7zM66.8 135.7h0.7v0.7h-0.7zM93.7 128.9h0.7v0.7h-0.7zM96.7 124.3h0.7v0.7h-0.7zM90.1 126.4h0.7v0.7h-0.7zM81.9 133.8h0.7v0.7h-0.7zM89.0 121.6h0.7v0.7h-0.7zM69.3 136.5h0.7v0.7h-0.7zM63.6 132.4h0.7v0.7h-0.7zM88.3 120.8h0.7v0.7h-0.7zM74.2 126.2h0.7v0.7h-0.7zM86.3 128.2h0.7v0.7h-0.7zM70.3 132.5h0.7v0.7h-0.7zM91.6 131.6h0.7v0.7h-0.7zM76.0 133.0h0.7v0.7h-0.7zM64.7 134.9h0.7v0.7h-0.7zM89.6 127.0h0.7v0.7h-0.7zM76.6 126.1h0.7v0.7h-0.7zM74.3 119.7h0.7v0.7h-0.7zM82.8 132.5h0.7v0.7h-0.7zM87.2 131.5h0.7v0.7h-0.7zM88.8 128.7h0.7v0.7h-0.7zM79.9 128.6h0.7v0.7h-0.7zM70.1 129.0h0.7v0.7h-0.7zM75.6 126.9h0.7v0.7h-0.7zM65.4 125.3h0.7v0.7h-0.7zM66.1 136.3h0.7v0.7h-0.7zM75.9 128.6h0.7v0.7h-0.7zM74.1 134.8h0.7v0.7h-0.7zM90.3 127.6h0.7v0.7h-0.7zM75.9 122.5h0.7v0.7h-0.7zM93.4 123.7h0.7v0.7h-0.7zM66.8 126.5h0.7v0.7h-0.7zM84.8 128.3h0.7v0.7h-0.7zM78.8 129.0h0.7v0.7h-0.7zM72.9 133.9h0.7v0.7h-0.7zM66.6 132.4h0.7v0.7h-0.7zM73.1 122.7h0.7v0.7h-0.7zM94.6 130.3h0.7v0.7h-0.7zM96.8 124.4h0.7v0.7h-0.7zM70.1 129.4h0.7v0.7h-0.7zM76.3 126.3h0.7v0.7h-0.7zM77.3 130.3h0.7v0.7h-0.7zM89.6 130.2h0.7v0.7h-0.7zM70.7 126.1h0.7v0.7h-0.7zM88.1 121.6h0.7v0.7h-0.7zM88.6 129.4h0.7v0.7h-0.7zM77.6 119.9h0.7v0.7h-0.7zM68.8 131.1h0.7v0.7h-0.7zM80.0 129.0h0.7v0.7h-0.7zM70.7 135.7h0.7v0.7h-0.7zM94.5 132.4h0.7v0.7h-0.7zM95.4 126.8h0.7v0.7h-0.7zM87.6 122.3h0.7v0.7h-0.7zM68.8 128.8h0.7v0.7h-0.7zM73.3 136.1h0.7v0.7h-0.7zM82.3 124.6h0.7v0.7h-0.7zM67.5 127.6h0.7v0.7h-0.7zM81.2 133.2h0.7v0.7h-0.7zM76.2 125.6h0.7v0.7h-0.7zM78.3 136.6h0.7v0.7h-0.7zM95.9 124.1h0.7v0.7h-0.7zM70.0 129.8h0.7v0.7h-0.7zM64.6 134.2h0.7v0.7h-0.7zM81.9 118.7h0.7v0.7h-0.7zM93.7 124.5h0.7v0.7h-0.7zM75.6 120.0h0.7v0.7h-0.7zM81.8 127.2h0.7v0.7h-0.7zM73.7 132.6h0.7v0.7h-0.7zM74.8 131.1h0.7v0.7h-0.7zM70.5 121.1h0.7v0.7h-0.7zM66.8 124.8h0.7v0.7h-0.7zM87.6 123.0h0.7v0.7h-0.7zM78.6 126.4h0.7v0.7h-0.7zM69.2 135.2h0.7v0.7h-0.7zM75.4 130.0h0.7v0.7h-0.7zM67.1 135.3h0.7v0.7h-0.7zM83.7 125.8h0.7v0.7h-0.7zM67.6 135.3h0.7v0.7h-0.7zM74.9 131.9h0.7v0.7h-0.7zM65.3 132.3h0.7v0.7h-0.7zM80.0 132.4h0.7v0.7h-0.7zM90.4 126.1h0.7v0.7h-0.7zM93.0 123.8h0.7v0.7h-0.7zM83.0 127.7h0.7v0.7h-0.7zM79.8 120.9h0.7v0.7h-0.7zM93.7 130.6h0.7v0.7h-0.7zM70.7 129.7h0.7v0.7h-0.7zM69.1 128.4h0.7v0.7h-0.7zM71.2 123.5h0.7v0.7h-0.7zM100.4 124.0h0.7v0.7h-0.7zM91.6 124.1h0.7v0.7h-0.7zM96.0 121.4h0.7v0.7h-0.7zM74.0 134.3h0.7v0.7h-0.7zM79.1 130.1h0.7v0.7h-0.7zM73.1 125.3h0.7v0.7h-0.7zM78.3 131.9h0.7v0.7h-0.7zM72.4 134.9h0.7v0.7h-0.7zM80.7 130.1h0.7v0.7h-0.7zM87.5 130.4h0.7v0.7h-0.7zM65.4 137.0h0.7v0.7h-0.7zM68.5 133.3h0.7v0.7h-0.7zM73.7 124.4h0.7v0.7h-0.7zM72.6 128.1h0.7v0.7h-0.7zM89.0 131.8h0.7v0.7h-0.7zM96.4 124.6h0.7v0.7h-0.7zM76.1 132.2h0.7v0.7h-0.7zM93.6 130.9h0.7v0.7h-0.7zM88.1 127.6h0.7v0.7h-0.7zM63.8 121.0h0.7v0.7h-0.7zM87.2 121.0h0.7v0.7h-0.7zM83.0 122.3h0.7v0.7h-0.7zM70.8 131.9h0.7v0.7h-0.7zM68.9 123.4h0.7v0.7h-0.7zM69.3 120.6h0.7v0.7h-0.7zM78.1 129.5h0.7v0.7h-0.7zM75.9 135.2h0.7v0.7h-0.7zM65.3 123.2h0.7v0.7h-0.7z" fill="#dc02e0" opacity="1"/>
<path d="M84.8 122.0h0.7v0.7h-0.7zM91.1 125.1h0.7v0.7h-0.7zM77.5 124.0h0.7v0.7h-0.7zM71.4 126.3h0.7v0.7h-0.7zM70.3 123.5h0.7v0.7h-0.7zM91.6 127.8h0.7v0.7h-0.7zM71.6 136.3h0.7v0.7h-0.7zM66.5 136.3h0.7v0.7h-0.7zM81.8 120.7h0.7v0.7h-0.7zM74.4 126.5h0.7v0.7h-0.7zM68.5 134.6h0.7v0.7h-0.7zM79.6 122.3h0.7v0.7h-0.7zM62.4 127.2h0.7v0.7h-0.7zM81.6 129.8h0.7v0.7h-0.7zM78.1 135.0h0.7v0.7h-0.7zM83.5 129.2h0.7v0.7h-0.7zM69.9 132.4h0.7v0.7h-0.7zM74.9 124.5h0.7v0.7h-0.7zM81.2 134.6h0.7v0.7h-0.7zM84.8 123.9h0.7v0.7h-0.7zM81.4 116.8h0.7v0.7h-0.7zM68.3 135.5h0.7v0.7h-0.7zM92.1 133.2h0.7v0.7h-0.7zM65.6 129.6h0.7v0.7h-0.7zM71.6 125.3h0.7v0.7h-0.7zM75.0 121.7h0.7v0.7h-0.7zM70.7 123.0h0.7v0.7h-0.7zM67.2 127.7h0.7v0.7h-0.7zM92.6 134.8h0.7v0.7h-0.7zM77.5 129.1h0.7v0.7h-0.7zM86.9 130.8h0.7v0.7h-0.7zM90.3 127.5h0.7v0.7h-0.7zM67.6 131.1h0.7v0.7h-0.7zM78.2 127.4h0.7v0.7h-0.7zM96.1 127.1h0.7v0.7h-0.7zM88.7 126.2h0.7v0.7h-0.7zM86.9 125.7h0.7v0.7h-0.7zM66.6 136.8h0.7v0.7h-0.7zM84.0 118.6h0.7v0.7h-0.7zM85.4 131.0h0.7v0.7h-0.7zM69.1 135.5h0.7v0.7h-0.7zM94.9 126.8h0.7v0.7h-0.7zM78.0 124.0h0.7v0.7h-0.7zM67.6 137.3h0.7v0.7h-0.7zM80.3 130.7h0.7v0.7h-0.7zM79.2 127.4h0.7v0.7h-0.7zM69.0 130.3h0.7v0.7h-0.7zM66.1 127.7h0.7v0.7h-0.7zM73.7 133.6h0.7v0.7h-0.7zM74.3 126.3h0.7v0.7h-0.7zM93.8 125.7h0.7v0.7h-0.7zM73.0 127.4h0.7v0.7h-0.7zM79.4 128.1h0.7v0.7h-0.7zM91.1 126.8h0.7v0.7h-0.7zM70.7 129.5h0.7v0.7h-0.7zM76.8 137.2h0.7v0.7h-0.7zM91.6 128.6h0.7v0.7h-0.7zM73.7 129.5h0.7v0.7h-0.7zM80.2 124.9h0.7v0.7h-0.7zM70.8 132.3h0.7v0.7h-0.7zM94.3 129.9h0.7v0.7h-0.7zM67.1 127.1h0.7v0.7h-0.7zM81.2 118.3h0.7v0.7h-0.7zM65.3 131.5h0.7v0.7h-0.7zM96.5 126.4h0.7v0.7h-0.7zM77.7 124.3h0.7v0.7h-0.7zM68.1 131.2h0.7v0.7h-0.7zM80.9 129.0h0.7v0.7h-0.7zM68.4 135.2h0.7v0.7h-0.7zM96.0 124.9h0.7v0.7h-0.7zM95.3 129.5h0.7v0.7h-0.7zM87.8 124.1h0.7v0.7h-0.7zM79.7 127.6h0.7v0.7h-0.7zM73.2 133.8h0.7v0.7h-0.7zM86.9 130.2h0.7v0.7h-0.7zM82.0 123.8h0.7v0.7h-0.7zM73.2 130.7h0.7v0.7h-0.7zM79.1 131.5h0.7v0.7h-0.7zM65.2 135.8h0.7v0.7h-0.7zM99.5 123.8h0.7v0.7h-0.7zM84.2 126.2h0.7v0.7h-0.7zM81.7 123.5h0.7v0.7h-0.7zM70.9 132.7h0.7v0.7h-0.7zM77.9 125.9h0.7v0.7h-0.7zM74.7 127.7h0.7v0.7h-0.7zM83.9 128.1h0.7v0.7h-0.7zM66.5 125.7h0.7v0.7h-0.7zM71.7 120.1h0.7v0.7h-0.7zM76.4 133.7h0.7v0.7h-0.7zM91.8 130.7h0.7v0.7h-0.7zM85.8 130.3h0.7v0.7h-0.7zM71.0 137.1h0.7v0.7h-0.7zM76.0 121.5h0.7v0.7h-0.7zM86.6 128.4h0.7v0.7h-0.7zM67.9 128.8h0.7v0.7h-0.7zM77.1 120.0h0.7v0.7h-0.7zM73.9 126.5h0.7v0.7h-0.7zM82.8 127.8h0.7v0.7h-0.7zM84.3 127.5h0.7v0.7h-0.7zM80.7 125.7h0.7v0.7h-0.7zM68.0 131.6h0.7v0.7h-0.7zM76.9 121.7h0.7v0.7h-0.7zM83.9 127.6h0.7v0.7h-0.7zM81.6 133.0h0.7v0.7h-0.7zM71.9 133.1h0.7v0.7h-0.7zM76.2 123.4h0.7v0.7h-0.7zM82.6 132.6h0.7v0.7h-0.7zM71.1 135.8h0.7v0.7h-0.7zM72.5 131.1h0.7v0.7h-0.7zM86.6 121.6h0.7v0.7h-0.7zM95.0 124.1h0.7v0.7h-0.7zM68.5 121.5h0.7v0.7h-0.7zM78.2 130.2h0.7v0.7h-0.7zM63.3 134.6h0.7v0.7h-0.7zM82.8 122.1h0.7v0.7h-0.7zM74.3 118.9h0.7v0.7h-0.7zM88.9 132.6h0.7v0.7h-0.7zM69.0 127.3h0.7v0.7h-0.7zM83.8 124.5h0.7v0.7h-0.7zM79.8 128.2h0.7v0.7h-0.7zM74.8 129.6h0.7v0.7h-0.7zM86.2 128.5h0.7v0.7h-0.7zM62.4 135.1h0.7v0.7h-0.7zM86.4 127.2h0.7v0.7h-0.7zM76.9 127.0h0.7v0.7h-0.7zM87.4 124.9h0.7v0.7h-0.7zM71.4 138.5h0.7v0.7h-0.7zM94.6 125.1h0.7v0.7h-0.7zM71.7 125.5h0.7v0.7h-0.7zM75.1 123.7h0.7v0.7h-0.7zM64.0 133.3h0.7v0.7h-0.7zM78.8 123.7h0.7v0.7h-0.7zM69.6 139.0h0.7v0.7h-0.7zM69.5 128.3h0.7v0.7h-0.7zM77.5 121.0h0.7v0.7h-0.7zM65.5 134.2h0.7v0.7h-0.7zM69.1 132.1h0.7v0.7h-0.7zM70.4 131.2h0.7v0.7h-0.7zM70.3 122.2h0.7v0.7h-0.7zM74.1 129.7h0.7v0.7h-0.7zM72.8 130.0h0.7v0.7h-0.7zM67.8 138.9h0.7v0.7h-0.7zM84.4 126.6h0.7v0.7h-0.7zM66.3 127.7h0.7v0.7h-0.7zM77.8 134.6h0.7v0.7h-0.7zM74.6 117.1h0.7v0.7h-0.7zM73.1 122.7h0.7v0.7h-0.7zM71.0 126.5h0.7v0.7h-0.7zM74.5 125.4h0.7v0.7h-0.7zM66.3 138.0h0.7v0.7h-0.7z" fill="#e060d8" opacity="1"/>
<path d="M86.0 123.2h0.6v0.6h-0.6zM86.8 126.3h0.6v0.6h-0.6zM94.5 127.6h0.6v0.6h-0.6zM90.4 128.2h0.6v0.6h-0.6zM87.7 126.4h0.6v0.6h-0.6zM95.3 131.1h0.6v0.6h-0.6zM89.9 125.4h0.6v0.6h-0.6zM92.6 127.4h0.6v0.6h-0.6zM94.3 127.9h0.6v0.6h-0.6zM96.9 129.9h0.6v0.6h-0.6zM94.1 125.5h0.6v0.6h-0.6zM91.3 127.3h0.6v0.6h-0.6zM91.4 128.9h0.6v0.6h-0.6zM94.1 127.5h0.6v0.6h-0.6zM92.2 128.5h0.6v0.6h-0.6zM89.8 125.2h0.6v0.6h-0.6zM90.8 125.5h0.6v0.6h-0.6zM90.5 123.3h0.6v0.6h-0.6zM91.9 126.0h0.6v0.6h-0.6zM94.3 128.5h0.6v0.6h-0.6zM93.9 124.6h0.6v0.6h-0.6zM92.7 127.5h0.6v0.6h-0.6zM88.7 127.7h0.6v0.6h-0.6zM89.5 124.7h0.6v0.6h-0.6zM93.3 126.3h0.6v0.6h-0.6zM98.4 127.3h0.6v0.6h-0.6zM90.5 127.2h0.6v0.6h-0.6zM92.1 126.8h0.6v0.6h-0.6zM89.3 125.8h0.6v0.6h-0.6zM96.7 125.8h0.6v0.6h-0.6zM97.0 125.8h0.6v0.6h-0.6zM94.5 127.0h0.6v0.6h-0.6zM96.2 127.2h0.6v0.6h-0.6zM92.2 126.3h0.6v0.6h-0.6zM92.8 128.0h0.6v0.6h-0.6zM94.8 126.8h0.6v0.6h-0.6zM92.0 126.8h0.6v0.6h-0.6zM85.8 127.4h0.6v0.6h-0.6zM88.4 127.1h0.6v0.6h-0.6zM90.3 126.3h0.6v0.6h-0.6zM91.8 125.1h0.6v0.6h-0.6zM92.1 129.4h0.6v0.6h-0.6zM96.8 129.7h0.6v0.6h-0.6zM95.6 127.7h0.6v0.6h-0.6zM98.0 127.0h0.6v0.6h-0.6zM94.9 127.9h0.6v0.6h-0.6zM92.7 125.8h0.6v0.6h-0.6zM93.1 129.9h0.6v0.6h-0.6zM93.2 126.6h0.6v0.6h-0.6zM92.8 126.5h0.6v0.6h-0.6zM92.0 125.9h0.6v0.6h-0.6zM94.4 126.6h0.6v0.6h-0.6zM91.7 127.0h0.6v0.6h-0.6zM87.3 129.3h0.6v0.6h-0.6zM97.3 126.1h0.6v0.6h-0.6zM99.9 127.2h0.6v0.6h-0.6zM90.9 127.5h0.6v0.6h-0.6zM93.5 126.3h0.6v0.6h-0.6zM93.4 125.1h0.6v0.6h-0.6zM94.4 126.1h0.6v0.6h-0.6z" fill="#e888e0" opacity="0.8"/>
<path d="M61.5 226.0h0.6v0.6h-0.6zM63.1 237.7h0.6v0.6h-0.6zM85.6 212.7h0.6v0.6h-0.6zM69.2 212.1h0.6v0.6h-0.6zM63.6 215.4h0.6v0.6h-0.6zM72.4 208.9h0.6v0.6h-0.6zM79.4 253.2h0.6v0.6h-0.6zM65.1 226.5h0.6v0.6h-0.6zM68.7 195.5h0.6v0.6h-0.6zM57.3 247.6h0.6v0.6h-0.6zM72.7 245.5h0.6v0.6h-0.6zM73.8 236.8h0.6v0.6h-0.6zM82.1 220.3h0.6v0.6h-0.6zM84.5 242.4h0.6v0.6h-0.6zM71.1 227.3h0.6v0.6h-0.6zM64.0 245.8h0.6v0.6h-0.6zM65.8 227.2h0.6v0.6h-0.6zM68.9 221.3h0.6v0.6h-0.6zM80.9 228.7h0.6v0.6h-0.6zM82.6 226.6h0.6v0.6h-0.6zM82.5 213.7h0.6v0.6h-0.6zM67.4 185.0h0.6v0.6h-0.6zM83.1 238.9h0.6v0.6h-0.6zM62.4 214.7h0.6v0.6h-0.6zM72.5 213.8h0.6v0.6h-0.6zM83.8 247.6h0.6v0.6h-0.6zM75.3 230.1h0.6v0.6h-0.6zM71.4 210.3h0.6v0.6h-0.6zM60.8 217.4h0.6v0.6h-0.6zM72.2 240.6h0.6v0.6h-0.6zM67.5 231.2h0.6v0.6h-0.6zM88.9 249.1h0.6v0.6h-0.6zM81.5 237.9h0.6v0.6h-0.6zM53.9 220.8h0.6v0.6h-0.6zM75.4 226.5h0.6v0.6h-0.6zM79.6 238.7h0.6v0.6h-0.6zM77.7 213.8h0.6v0.6h-0.6zM69.4 215.0h0.6v0.6h-0.6zM82.0 231.1h0.6v0.6h-0.6zM83.6 228.3h0.6v0.6h-0.6zM64.7 224.8h0.6v0.6h-0.6zM65.2 208.8h0.6v0.6h-0.6zM60.0 237.6h0.6v0.6h-0.6zM70.6 213.1h0.6v0.6h-0.6zM68.1 225.7h0.6v0.6h-0.6zM71.7 222.3h0.6v0.6h-0.6zM68.4 235.4h0.6v0.6h-0.6zM69.9 247.8h0.6v0.6h-0.6zM65.9 192.4h0.6v0.6h-0.6zM65.9 232.6h0.6v0.6h-0.6zM75.5 234.2h0.6v0.6h-0.6zM79.3 247.4h0.6v0.6h-0.6zM68.8 239.9h0.6v0.6h-0.6zM74.8 223.8h0.6v0.6h-0.6zM86.1 244.3h0.6v0.6h-0.6zM60.7 238.0h0.6v0.6h-0.6zM80.2 211.5h0.6v0.6h-0.6zM67.4 223.7h0.6v0.6h-0.6zM71.8 238.8h0.6v0.6h-0.6zM82.9 210.4h0.6v0.6h-0.6zM51.5 216.3h0.6v0.6h-0.6zM76.3 230.5h0.6v0.6h-0.6zM84.5 242.3h0.6v0.6h-0.6zM82.9 213.4h0.6v0.6h-0.6zM84.6 215.7h0.6v0.6h-0.6zM86.9 238.7h0.6v0.6h-0.6zM78.2 236.1h0.6v0.6h-0.6zM78.4 225.1h0.6v0.6h-0.6zM62.7 237.7h0.6v0.6h-0.6zM78.3 234.2h0.6v0.6h-0.6zM71.4 238.6h0.6v0.6h-0.6zM68.7 211.0h0.6v0.6h-0.6zM82.4 223.8h0.6v0.6h-0.6zM68.4 221.4h0.6v0.6h-0.6zM86.0 231.1h0.6v0.6h-0.6zM69.9 214.6h0.6v0.6h-0.6zM66.6 225.1h0.6v0.6h-0.6zM61.5 222.5h0.6v0.6h-0.6zM70.8 211.9h0.6v0.6h-0.6zM70.1 215.5h0.6v0.6h-0.6zM74.0 245.3h0.6v0.6h-0.6zM87.9 214.1h0.6v0.6h-0.6zM72.2 233.3h0.6v0.6h-0.6zM70.4 208.3h0.6v0.6h-0.6zM67.5 214.8h0.6v0.6h-0.6zM64.2 228.3h0.6v0.6h-0.6zM72.7 215.7h0.6v0.6h-0.6zM85.8 223.3h0.6v0.6h-0.6zM86.7 222.1h0.6v0.6h-0.6zM74.9 221.6h0.6v0.6h-0.6zM71.1 213.9h0.6v0.6h-0.6zM62.6 214.3h0.6v0.6h-0.6zM78.7 235.8h0.6v0.6h-0.6zM79.7 210.1h0.6v0.6h-0.6zM84.7 231.1h0.6v0.6h-0.6zM65.1 222.6h0.6v0.6h-0.6zM72.0 228.5h0.6v0.6h-0.6zM56.7 207.5h0.6v0.6h-0.6zM77.8 232.2h0.6v0.6h-0.6zM65.2 224.8h0.6v0.6h-0.6zM80.1 226.3h0.6v0.6h-0.6zM70.4 205.1h0.6v0.6h-0.6zM63.9 231.2h0.6v0.6h-0.6zM73.1 230.6h0.6v0.6h-0.6zM64.2 196.6h0.6v0.6h-0.6zM67.7 220.2h0.6v0.6h-0.6zM70.3 242.4h0.6v0.6h-0.6zM83.4 229.6h0.6v0.6h-0.6zM73.3 229.4h0.6v0.6h-0.6zM71.4 238.8h0.6v0.6h-0.6z" fill="#c08a58" opacity="0.7"/>
<path d="M56.2 244.2h0.6v0.6h-0.6zM67.9 235.5h0.6v0.6h-0.6zM56.5 240.3h0.6v0.6h-0.6zM59.2 228.1h0.6v0.6h-0.6zM65.0 235.9h0.6v0.6h-0.6zM65.6 231.6h0.6v0.6h-0.6zM65.3 251.3h0.6v0.6h-0.6zM65.7 230.2h0.6v0.6h-0.6zM60.8 232.6h0.6v0.6h-0.6zM74.5 241.7h0.6v0.6h-0.6zM74.4 240.9h0.6v0.6h-0.6zM75.8 223.3h0.6v0.6h-0.6zM56.2 239.3h0.6v0.6h-0.6zM68.8 228.4h0.6v0.6h-0.6zM63.4 233.8h0.6v0.6h-0.6zM69.7 230.8h0.6v0.6h-0.6zM59.2 232.9h0.6v0.6h-0.6zM60.6 238.5h0.6v0.6h-0.6zM65.3 244.2h0.6v0.6h-0.6zM62.2 234.5h0.6v0.6h-0.6zM60.5 254.5h0.6v0.6h-0.6zM61.0 242.6h0.6v0.6h-0.6zM69.0 229.5h0.6v0.6h-0.6zM70.4 241.1h0.6v0.6h-0.6zM61.2 225.4h0.6v0.6h-0.6zM63.4 233.5h0.6v0.6h-0.6zM59.6 230.5h0.6v0.6h-0.6zM68.5 231.3h0.6v0.6h-0.6zM59.2 238.6h0.6v0.6h-0.6zM73.8 229.2h0.6v0.6h-0.6zM58.7 248.4h0.6v0.6h-0.6zM53.2 235.1h0.6v0.6h-0.6zM73.4 236.6h0.6v0.6h-0.6zM62.0 237.8h0.6v0.6h-0.6zM69.7 231.8h0.6v0.6h-0.6zM65.5 233.6h0.6v0.6h-0.6zM68.4 239.9h0.6v0.6h-0.6zM61.6 236.8h0.6v0.6h-0.6zM66.8 247.6h0.6v0.6h-0.6zM65.5 231.2h0.6v0.6h-0.6zM66.3 253.9h0.6v0.6h-0.6zM73.6 248.9h0.6v0.6h-0.6zM57.6 253.6h0.6v0.6h-0.6zM68.9 240.3h0.6v0.6h-0.6zM66.4 242.2h0.6v0.6h-0.6zM54.0 245.8h0.6v0.6h-0.6zM57.6 251.4h0.6v0.6h-0.6zM67.7 232.6h0.6v0.6h-0.6zM59.9 235.8h0.6v0.6h-0.6zM75.1 237.7h0.6v0.6h-0.6zM66.5 231.3h0.6v0.6h-0.6zM75.2 235.6h0.6v0.6h-0.6zM61.9 240.6h0.6v0.6h-0.6zM62.1 235.9h0.6v0.6h-0.6zM55.8 224.8h0.6v0.6h-0.6zM69.0 231.2h0.6v0.6h-0.6zM68.9 241.2h0.6v0.6h-0.6zM70.0 243.0h0.6v0.6h-0.6zM72.3 236.5h0.6v0.6h-0.6zM63.7 246.2h0.6v0.6h-0.6zM59.0 230.3h0.6v0.6h-0.6zM58.2 231.3h0.6v0.6h-0.6zM73.2 248.6h0.6v0.6h-0.6zM63.1 226.1h0.6v0.6h-0.6zM61.2 239.3h0.6v0.6h-0.6zM75.2 236.0h0.6v0.6h-0.6zM71.5 244.1h0.6v0.6h-0.6zM57.1 247.0h0.6v0.6h-0.6zM73.7 242.4h0.6v0.6h-0.6zM65.4 247.6h0.6v0.6h-0.6zM69.3 239.3h0.6v0.6h-0.6zM68.7 249.7h0.6v0.6h-0.6zM60.2 236.3h0.6v0.6h-0.6zM63.1 240.0h0.6v0.6h-0.6zM66.9 234.9h0.6v0.6h-0.6zM67.5 237.0h0.6v0.6h-0.6zM73.6 246.8h0.6v0.6h-0.6zM65.7 238.7h0.6v0.6h-0.6zM64.1 231.2h0.6v0.6h-0.6zM68.6 245.8h0.6v0.6h-0.6zM54.6 230.0h0.6v0.6h-0.6zM72.5 249.2h0.6v0.6h-0.6zM60.4 228.9h0.6v0.6h-0.6zM57.3 246.3h0.6v0.6h-0.6zM66.9 236.9h0.6v0.6h-0.6zM60.9 243.7h0.6v0.6h-0.6zM63.2 248.8h0.6v0.6h-0.6zM64.7 244.5h0.6v0.6h-0.6zM69.1 239.0h0.6v0.6h-0.6zM64.1 251.7h0.6v0.6h-0.6z" fill="#7a7a48" opacity="0.8"/>
<path d="M81.4 219.1h0.6v0.6h-0.6zM85.0 215.1h0.6v0.6h-0.6zM75.0 241.0h0.6v0.6h-0.6zM70.0 218.9h0.6v0.6h-0.6zM61.6 243.5h0.6v0.6h-0.6zM63.1 232.0h0.6v0.6h-0.6zM71.9 223.5h0.6v0.6h-0.6zM60.3 215.5h0.6v0.6h-0.6zM66.3 245.3h0.6v0.6h-0.6zM68.9 228.3h0.6v0.6h-0.6zM85.4 249.9h0.6v0.6h-0.6zM77.6 237.6h0.6v0.6h-0.6zM75.1 244.9h0.6v0.6h-0.6zM72.6 244.5h0.6v0.6h-0.6zM72.2 245.0h0.6v0.6h-0.6zM57.8 218.1h0.6v0.6h-0.6zM83.3 249.0h0.6v0.6h-0.6zM62.5 218.2h0.6v0.6h-0.6zM79.4 228.9h0.6v0.6h-0.6zM70.7 249.6h0.6v0.6h-0.6zM75.1 233.2h0.6v0.6h-0.6zM81.7 210.4h0.6v0.6h-0.6zM64.4 271.3h0.6v0.6h-0.6zM76.8 252.7h0.6v0.6h-0.6zM62.5 257.9h0.6v0.6h-0.6zM58.6 239.7h0.6v0.6h-0.6zM73.0 220.2h0.6v0.6h-0.6zM75.3 192.2h0.6v0.6h-0.6zM77.1 231.7h0.6v0.6h-0.6zM64.1 213.0h0.6v0.6h-0.6zM58.0 216.9h0.6v0.6h-0.6zM60.4 231.5h0.6v0.6h-0.6zM56.3 222.2h0.6v0.6h-0.6zM53.5 258.1h0.6v0.6h-0.6zM74.1 197.4h0.6v0.6h-0.6zM75.6 266.4h0.6v0.6h-0.6zM72.3 238.0h0.6v0.6h-0.6zM74.6 256.5h0.6v0.6h-0.6zM89.5 235.6h0.6v0.6h-0.6zM51.9 230.5h0.6v0.6h-0.6zM54.7 212.9h0.6v0.6h-0.6zM78.9 229.2h0.6v0.6h-0.6zM66.4 238.5h0.6v0.6h-0.6zM77.3 220.7h0.6v0.6h-0.6zM83.5 220.5h0.6v0.6h-0.6zM76.0 228.2h0.6v0.6h-0.6zM68.5 227.7h0.6v0.6h-0.6zM79.2 243.3h0.6v0.6h-0.6zM70.1 247.3h0.6v0.6h-0.6zM57.6 237.7h0.6v0.6h-0.6zM57.7 195.6h0.6v0.6h-0.6zM55.1 242.6h0.6v0.6h-0.6zM68.7 233.3h0.6v0.6h-0.6zM61.9 222.2h0.6v0.6h-0.6zM59.0 230.0h0.6v0.6h-0.6zM71.4 231.5h0.6v0.6h-0.6zM69.2 228.9h0.6v0.6h-0.6zM70.7 240.6h0.6v0.6h-0.6zM62.2 238.4h0.6v0.6h-0.6zM79.8 214.0h0.6v0.6h-0.6zM62.9 227.0h0.6v0.6h-0.6zM60.3 225.4h0.6v0.6h-0.6zM64.3 252.9h0.6v0.6h-0.6zM72.5 251.9h0.6v0.6h-0.6zM68.4 231.8h0.6v0.6h-0.6zM68.6 229.0h0.6v0.6h-0.6zM94.0 248.2h0.6v0.6h-0.6zM71.4 204.7h0.6v0.6h-0.6zM65.9 244.4h0.6v0.6h-0.6zM72.8 228.2h0.6v0.6h-0.6zM77.4 235.7h0.6v0.6h-0.6zM63.2 234.5h0.6v0.6h-0.6zM76.7 241.9h0.6v0.6h-0.6zM68.5 224.4h0.6v0.6h-0.6zM69.3 239.8h0.6v0.6h-0.6zM72.7 246.9h0.6v0.6h-0.6zM66.8 231.4h0.6v0.6h-0.6zM68.3 237.2h0.6v0.6h-0.6zM60.1 248.8h0.6v0.6h-0.6zM67.5 250.4h0.6v0.6h-0.6zM83.2 214.2h0.6v0.6h-0.6zM72.3 239.5h0.6v0.6h-0.6zM69.7 239.7h0.6v0.6h-0.6zM62.3 244.8h0.6v0.6h-0.6zM72.4 229.2h0.6v0.6h-0.6zM47.4 242.5h0.6v0.6h-0.6zM57.1 250.7h0.6v0.6h-0.6zM79.6 214.7h0.6v0.6h-0.6zM56.6 237.6h0.6v0.6h-0.6zM81.7 235.2h0.6v0.6h-0.6zM72.6 234.2h0.6v0.6h-0.6zM85.3 239.1h0.6v0.6h-0.6zM58.9 250.2h0.6v0.6h-0.6zM79.4 231.9h0.6v0.6h-0.6zM68.6 251.3h0.6v0.6h-0.6zM75.8 229.4h0.6v0.6h-0.6zM81.3 227.8h0.6v0.6h-0.6zM68.4 209.4h0.6v0.6h-0.6zM66.8 267.5h0.6v0.6h-0.6zM55.5 214.8h0.6v0.6h-0.6zM79.0 222.0h0.6v0.6h-0.6zM78.5 254.4h0.6v0.6h-0.6zM67.0 224.7h0.6v0.6h-0.6zM80.0 239.8h0.6v0.6h-0.6zM83.9 229.8h0.6v0.6h-0.6zM74.5 223.9h0.6v0.6h-0.6zM60.0 218.8h0.6v0.6h-0.6zM61.3 253.3h0.6v0.6h-0.6zM78.4 233.7h0.6v0.6h-0.6zM69.1 230.2h0.6v0.6h-0.6zM81.5 232.0h0.6v0.6h-0.6zM54.7 230.3h0.6v0.6h-0.6zM53.4 225.7h0.6v0.6h-0.6zM62.5 208.6h0.6v0.6h-0.6zM54.2 231.7h0.6v0.6h-0.6zM74.5 238.0h0.6v0.6h-0.6zM61.8 219.6h0.6v0.6h-0.6zM71.1 244.4h0.6v0.6h-0.6zM78.7 232.8h0.6v0.6h-0.6zM61.2 240.6h0.6v0.6h-0.6zM72.7 224.6h0.6v0.6h-0.6zM60.2 224.8h0.6v0.6h-0.6zM80.4 249.0h0.6v0.6h-0.6zM66.9 234.4h0.6v0.6h-0.6zM84.3 213.8h0.6v0.6h-0.6zM65.3 228.8h0.6v0.6h-0.6zM73.1 210.0h0.6v0.6h-0.6zM73.7 212.3h0.6v0.6h-0.6zM77.9 230.6h0.6v0.6h-0.6zM65.3 243.0h0.6v0.6h-0.6zM70.1 219.4h0.6v0.6h-0.6zM78.0 228.1h0.6v0.6h-0.6zM72.5 248.9h0.6v0.6h-0.6zM56.8 241.0h0.6v0.6h-0.6zM77.8 260.6h0.6v0.6h-0.6zM53.0 242.3h0.6v0.6h-0.6zM89.9 236.7h0.6v0.6h-0.6zM70.2 227.2h0.6v0.6h-0.6zM54.4 249.2h0.6v0.6h-0.6zM58.3 207.5h0.6v0.6h-0.6zM76.9 245.2h0.6v0.6h-0.6zM77.6 242.7h0.6v0.6h-0.6zM61.1 230.7h0.6v0.6h-0.6zM66.5 220.2h0.6v0.6h-0.6zM73.0 217.8h0.6v0.6h-0.6zM68.2 250.6h0.6v0.6h-0.6zM68.8 229.4h0.6v0.6h-0.6zM76.9 215.2h0.6v0.6h-0.6zM72.7 246.9h0.6v0.6h-0.6zM75.1 221.6h0.6v0.6h-0.6zM77.4 226.0h0.6v0.6h-0.6zM76.9 218.5h0.6v0.6h-0.6zM59.6 251.9h0.6v0.6h-0.6zM67.9 229.0h0.6v0.6h-0.6zM57.9 224.7h0.6v0.6h-0.6zM82.9 238.1h0.6v0.6h-0.6zM69.4 206.7h0.6v0.6h-0.6zM77.0 237.0h0.6v0.6h-0.6zM80.1 225.7h0.6v0.6h-0.6zM74.5 223.6h0.6v0.6h-0.6z" fill="#8a8a58" opacity="0.75"/>
<path d="M62.3 231.0h0.6v0.6h-0.6zM82.1 240.5h0.6v0.6h-0.6zM74.6 232.8h0.6v0.6h-0.6zM90.7 239.1h0.6v0.6h-0.6zM59.0 234.4h0.6v0.6h-0.6zM69.8 248.4h0.6v0.6h-0.6zM79.4 245.5h0.6v0.6h-0.6zM69.0 247.6h0.6v0.6h-0.6zM75.0 248.9h0.6v0.6h-0.6zM68.0 238.7h0.6v0.6h-0.6zM67.4 238.6h0.6v0.6h-0.6zM67.6 245.6h0.6v0.6h-0.6zM71.2 233.0h0.6v0.6h-0.6zM71.0 238.3h0.6v0.6h-0.6zM59.7 243.4h0.6v0.6h-0.6zM76.5 242.3h0.6v0.6h-0.6zM88.6 233.1h0.6v0.6h-0.6zM81.0 244.1h0.6v0.6h-0.6zM66.2 250.3h0.6v0.6h-0.6zM64.4 243.5h0.6v0.6h-0.6zM80.6 240.4h0.6v0.6h-0.6zM69.0 248.0h0.6v0.6h-0.6zM85.8 239.4h0.6v0.6h-0.6zM87.1 244.5h0.6v0.6h-0.6zM64.6 247.4h0.6v0.6h-0.6zM74.4 239.9h0.6v0.6h-0.6zM78.9 244.8h0.6v0.6h-0.6zM68.4 239.3h0.6v0.6h-0.6zM81.3 247.2h0.6v0.6h-0.6zM91.5 242.4h0.6v0.6h-0.6zM77.0 238.0h0.6v0.6h-0.6zM93.6 244.3h0.6v0.6h-0.6zM79.9 250.6h0.6v0.6h-0.6zM82.4 238.2h0.6v0.6h-0.6zM72.8 249.8h0.6v0.6h-0.6zM78.8 239.8h0.6v0.6h-0.6zM73.7 249.3h0.6v0.6h-0.6zM64.9 241.9h0.6v0.6h-0.6zM86.0 249.1h0.6v0.6h-0.6zM66.4 242.2h0.6v0.6h-0.6zM79.0 244.4h0.6v0.6h-0.6zM73.7 239.4h0.6v0.6h-0.6zM73.3 243.7h0.6v0.6h-0.6zM76.0 252.9h0.6v0.6h-0.6zM79.2 247.4h0.6v0.6h-0.6zM81.4 241.0h0.6v0.6h-0.6zM83.6 239.5h0.6v0.6h-0.6zM85.4 246.9h0.6v0.6h-0.6zM71.3 247.9h0.6v0.6h-0.6zM71.9 247.8h0.6v0.6h-0.6zM66.7 244.2h0.6v0.6h-0.6zM87.9 239.6h0.6v0.6h-0.6zM58.2 238.1h0.6v0.6h-0.6zM80.3 242.3h0.6v0.6h-0.6zM61.4 239.6h0.6v0.6h-0.6zM71.4 230.7h0.6v0.6h-0.6zM71.6 241.8h0.6v0.6h-0.6zM71.4 239.9h0.6v0.6h-0.6zM87.3 234.1h0.6v0.6h-0.6zM70.5 249.5h0.6v0.6h-0.6z" fill="#d8a0c8" opacity="0.7"/>
<polygon points="77.0,210.0 80.0,207.5 84.0,206.5 88.0,207.5 93.0,209.5 96.0,213.0 96.5,222.0 96.0,232.0 90.0,233.0 82.0,233.0 77.0,229.0 76.5,218.0" fill="#7a7a50" opacity="0.4" filter="url(#b2)"/>
<polygon points="77.0,210.0 80.0,207.5 84.0,206.5 88.0,207.5 93.0,209.5 96.0,213.0 96.5,222.0 96.0,232.0 90.0,233.0 82.0,233.0 77.0,229.0 76.5,218.0" fill="#a4a074" opacity="0.75" filter="url(#b08)"/>
<rect x="81.5" y="207.5" width="3.6" height="24.5" rx="1.6" fill="#5a663c" filter="url(#b06)" opacity="0.95"/>
<path d="M82.9 223.0h0.7v0.7h-0.7zM79.2 210.3h0.7v0.7h-0.7zM84.5 223.4h0.7v0.7h-0.7zM84.5 225.6h0.7v0.7h-0.7zM82.6 224.2h0.7v0.7h-0.7zM83.7 227.3h0.7v0.7h-0.7zM84.5 218.5h0.7v0.7h-0.7zM82.7 209.7h0.7v0.7h-0.7zM82.7 229.0h0.7v0.7h-0.7zM83.6 223.0h0.7v0.7h-0.7zM84.0 219.5h0.7v0.7h-0.7zM83.3 227.3h0.7v0.7h-0.7zM83.7 226.2h0.7v0.7h-0.7zM83.6 222.3h0.7v0.7h-0.7zM83.7 228.3h0.7v0.7h-0.7zM83.7 211.1h0.7v0.7h-0.7zM82.5 210.6h0.7v0.7h-0.7zM81.6 221.2h0.7v0.7h-0.7zM82.9 212.5h0.7v0.7h-0.7zM82.6 217.7h0.7v0.7h-0.7zM81.4 231.8h0.7v0.7h-0.7zM84.5 224.8h0.7v0.7h-0.7zM82.7 210.9h0.7v0.7h-0.7zM84.1 226.9h0.7v0.7h-0.7zM82.6 217.4h0.7v0.7h-0.7zM83.5 229.1h0.7v0.7h-0.7zM83.6 207.6h0.7v0.7h-0.7zM83.6 217.6h0.7v0.7h-0.7zM83.1 208.7h0.7v0.7h-0.7zM83.1 217.2h0.7v0.7h-0.7zM83.2 227.1h0.7v0.7h-0.7zM85.8 223.6h0.7v0.7h-0.7zM84.5 211.8h0.7v0.7h-0.7zM82.6 216.5h0.7v0.7h-0.7zM83.1 227.2h0.7v0.7h-0.7zM82.2 225.4h0.7v0.7h-0.7zM84.8 214.5h0.7v0.7h-0.7zM84.0 216.4h0.7v0.7h-0.7zM83.1 219.9h0.7v0.7h-0.7zM82.3 221.9h0.7v0.7h-0.7zM82.4 229.5h0.7v0.7h-0.7zM82.9 213.5h0.7v0.7h-0.7zM82.9 208.7h0.7v0.7h-0.7zM83.0 231.0h0.7v0.7h-0.7zM83.1 226.7h0.7v0.7h-0.7zM82.2 226.0h0.7v0.7h-0.7zM83.5 217.8h0.7v0.7h-0.7zM83.2 214.6h0.7v0.7h-0.7zM83.9 230.2h0.7v0.7h-0.7zM82.1 207.8h0.7v0.7h-0.7zM84.0 222.3h0.7v0.7h-0.7zM84.2 216.1h0.7v0.7h-0.7zM83.6 213.9h0.7v0.7h-0.7zM82.5 215.3h0.7v0.7h-0.7zM82.5 221.2h0.7v0.7h-0.7zM83.2 219.1h0.7v0.7h-0.7zM83.6 231.1h0.7v0.7h-0.7zM83.7 215.7h0.7v0.7h-0.7zM83.3 216.5h0.7v0.7h-0.7zM81.8 218.5h0.7v0.7h-0.7zM83.0 221.8h0.7v0.7h-0.7zM83.2 230.8h0.7v0.7h-0.7zM82.8 224.0h0.7v0.7h-0.7zM83.6 215.2h0.7v0.7h-0.7zM84.3 221.0h0.7v0.7h-0.7zM82.2 215.4h0.7v0.7h-0.7zM83.7 215.3h0.7v0.7h-0.7zM82.5 218.0h0.7v0.7h-0.7zM82.4 217.8h0.7v0.7h-0.7zM83.0 218.2h0.7v0.7h-0.7zM85.0 220.9h0.7v0.7h-0.7zM83.8 208.3h0.7v0.7h-0.7zM83.1 213.1h0.7v0.7h-0.7zM84.3 228.0h0.7v0.7h-0.7zM83.4 221.0h0.7v0.7h-0.7zM83.7 231.7h0.7v0.7h-0.7zM82.3 211.2h0.7v0.7h-0.7zM82.4 213.3h0.7v0.7h-0.7zM81.9 217.3h0.7v0.7h-0.7zM84.1 229.3h0.7v0.7h-0.7zM82.0 210.0h0.7v0.7h-0.7zM84.5 214.0h0.7v0.7h-0.7zM82.0 230.4h0.7v0.7h-0.7zM83.2 215.3h0.7v0.7h-0.7zM83.4 223.6h0.7v0.7h-0.7zM82.2 230.4h0.7v0.7h-0.7zM81.4 229.7h0.7v0.7h-0.7zM82.8 220.7h0.7v0.7h-0.7zM84.7 210.3h0.7v0.7h-0.7zM84.5 227.0h0.7v0.7h-0.7zM82.1 222.4h0.7v0.7h-0.7zM83.3 213.9h0.7v0.7h-0.7zM83.1 210.8h0.7v0.7h-0.7zM84.3 227.7h0.7v0.7h-0.7zM83.6 223.3h0.7v0.7h-0.7zM82.5 215.0h0.7v0.7h-0.7zM85.3 214.6h0.7v0.7h-0.7zM84.0 226.4h0.7v0.7h-0.7zM82.5 207.8h0.7v0.7h-0.7zM84.4 224.5h0.7v0.7h-0.7zM84.0 224.6h0.7v0.7h-0.7zM84.4 211.6h0.7v0.7h-0.7zM82.2 215.2h0.7v0.7h-0.7zM83.4 220.9h0.7v0.7h-0.7zM82.7 209.7h0.7v0.7h-0.7zM83.1 212.3h0.7v0.7h-0.7zM83.1 209.2h0.7v0.7h-0.7zM83.7 213.5h0.7v0.7h-0.7zM82.4 223.5h0.7v0.7h-0.7zM84.2 224.9h0.7v0.7h-0.7z" fill="#4e5a36"/>
<path d="M82.1 215.3h0.7v0.7h-0.7zM84.1 208.7h0.7v0.7h-0.7zM81.9 220.0h0.7v0.7h-0.7zM83.6 208.0h0.7v0.7h-0.7zM82.5 225.0h0.7v0.7h-0.7zM82.0 225.1h0.7v0.7h-0.7zM82.7 215.3h0.7v0.7h-0.7zM83.5 220.9h0.7v0.7h-0.7zM84.1 227.8h0.7v0.7h-0.7zM84.0 226.1h0.7v0.7h-0.7zM82.4 215.0h0.7v0.7h-0.7zM83.2 228.8h0.7v0.7h-0.7zM80.4 214.9h0.7v0.7h-0.7zM84.2 216.6h0.7v0.7h-0.7zM83.3 215.9h0.7v0.7h-0.7zM83.1 222.5h0.7v0.7h-0.7zM83.0 219.5h0.7v0.7h-0.7zM81.2 230.1h0.7v0.7h-0.7zM83.6 222.6h0.7v0.7h-0.7zM83.5 230.3h0.7v0.7h-0.7zM83.2 208.4h0.7v0.7h-0.7zM84.4 213.0h0.7v0.7h-0.7zM83.1 222.9h0.7v0.7h-0.7zM82.7 223.2h0.7v0.7h-0.7zM84.5 221.0h0.7v0.7h-0.7zM83.0 209.5h0.7v0.7h-0.7zM82.3 216.1h0.7v0.7h-0.7zM80.9 221.6h0.7v0.7h-0.7zM82.8 223.4h0.7v0.7h-0.7zM82.8 228.8h0.7v0.7h-0.7zM82.1 213.1h0.7v0.7h-0.7zM83.8 228.9h0.7v0.7h-0.7zM81.5 230.8h0.7v0.7h-0.7zM83.2 221.4h0.7v0.7h-0.7zM83.3 213.9h0.7v0.7h-0.7zM84.4 229.6h0.7v0.7h-0.7zM83.3 215.2h0.7v0.7h-0.7zM83.0 215.0h0.7v0.7h-0.7zM84.4 228.3h0.7v0.7h-0.7zM84.8 211.4h0.7v0.7h-0.7zM83.6 216.1h0.7v0.7h-0.7zM82.3 231.0h0.7v0.7h-0.7zM83.8 210.1h0.7v0.7h-0.7zM82.0 216.8h0.7v0.7h-0.7zM84.7 216.5h0.7v0.7h-0.7zM83.6 225.1h0.7v0.7h-0.7zM82.3 225.0h0.7v0.7h-0.7zM85.3 214.9h0.7v0.7h-0.7zM81.7 218.9h0.7v0.7h-0.7zM84.4 212.3h0.7v0.7h-0.7zM82.9 215.1h0.7v0.7h-0.7zM82.7 226.6h0.7v0.7h-0.7zM81.6 215.9h0.7v0.7h-0.7zM81.2 214.4h0.7v0.7h-0.7zM83.5 217.9h0.7v0.7h-0.7z" fill="#a87838"/>
<path d="M83.3 220.8h0.7v0.7h-0.7zM83.9 227.8h0.7v0.7h-0.7zM81.7 213.9h0.7v0.7h-0.7zM83.8 208.1h0.7v0.7h-0.7zM83.6 212.7h0.7v0.7h-0.7zM84.7 225.0h0.7v0.7h-0.7zM82.5 224.0h0.7v0.7h-0.7zM84.8 229.6h0.7v0.7h-0.7zM83.4 229.7h0.7v0.7h-0.7zM83.6 214.4h0.7v0.7h-0.7zM84.0 222.6h0.7v0.7h-0.7zM85.1 212.4h0.7v0.7h-0.7zM84.1 226.3h0.7v0.7h-0.7zM84.8 228.3h0.7v0.7h-0.7zM83.3 221.8h0.7v0.7h-0.7zM83.9 231.9h0.7v0.7h-0.7zM84.0 230.8h0.7v0.7h-0.7zM82.2 213.2h0.7v0.7h-0.7zM83.5 211.1h0.7v0.7h-0.7zM83.5 211.1h0.7v0.7h-0.7zM83.8 212.7h0.7v0.7h-0.7zM84.6 215.5h0.7v0.7h-0.7zM83.8 210.2h0.7v0.7h-0.7zM83.5 211.9h0.7v0.7h-0.7zM83.4 229.5h0.7v0.7h-0.7zM83.4 223.4h0.7v0.7h-0.7zM82.2 220.9h0.7v0.7h-0.7zM83.1 224.9h0.7v0.7h-0.7zM82.6 222.3h0.7v0.7h-0.7zM82.2 225.0h0.7v0.7h-0.7zM84.1 209.3h0.7v0.7h-0.7zM82.6 222.7h0.7v0.7h-0.7zM82.5 210.5h0.7v0.7h-0.7zM82.0 217.5h0.7v0.7h-0.7zM84.2 217.1h0.7v0.7h-0.7zM84.4 215.8h0.7v0.7h-0.7z" fill="#d8d4a8"/>
<rect x="86.60000000000001" y="208.2" width="3.6" height="23.80000000000001" rx="1.6" fill="#5a663c" filter="url(#b06)" opacity="0.95"/>
<path d="M88.1 224.6h0.7v0.7h-0.7zM89.1 224.1h0.7v0.7h-0.7zM88.4 224.7h0.7v0.7h-0.7zM89.3 227.3h0.7v0.7h-0.7zM89.3 226.4h0.7v0.7h-0.7zM88.2 229.3h0.7v0.7h-0.7zM87.9 213.6h0.7v0.7h-0.7zM89.6 211.4h0.7v0.7h-0.7zM89.0 209.0h0.7v0.7h-0.7zM89.3 223.7h0.7v0.7h-0.7zM89.5 229.6h0.7v0.7h-0.7zM88.1 216.8h0.7v0.7h-0.7zM87.8 229.5h0.7v0.7h-0.7zM88.6 227.2h0.7v0.7h-0.7zM87.9 210.5h0.7v0.7h-0.7zM87.8 219.6h0.7v0.7h-0.7zM87.6 219.6h0.7v0.7h-0.7zM88.3 219.9h0.7v0.7h-0.7zM88.1 225.1h0.7v0.7h-0.7zM88.8 217.0h0.7v0.7h-0.7zM88.9 222.0h0.7v0.7h-0.7zM89.5 211.9h0.7v0.7h-0.7zM88.7 230.8h0.7v0.7h-0.7zM88.6 225.1h0.7v0.7h-0.7zM88.8 219.1h0.7v0.7h-0.7zM88.5 222.5h0.7v0.7h-0.7zM88.7 215.8h0.7v0.7h-0.7zM87.9 230.1h0.7v0.7h-0.7zM88.5 230.3h0.7v0.7h-0.7zM87.2 230.3h0.7v0.7h-0.7zM89.4 227.2h0.7v0.7h-0.7zM88.6 226.3h0.7v0.7h-0.7zM88.8 210.8h0.7v0.7h-0.7zM87.2 213.7h0.7v0.7h-0.7zM87.5 215.4h0.7v0.7h-0.7zM87.8 226.6h0.7v0.7h-0.7zM86.6 210.9h0.7v0.7h-0.7zM89.3 212.5h0.7v0.7h-0.7zM88.9 222.6h0.7v0.7h-0.7zM88.4 217.2h0.7v0.7h-0.7zM89.3 230.4h0.7v0.7h-0.7zM86.8 216.9h0.7v0.7h-0.7zM87.5 230.0h0.7v0.7h-0.7zM89.3 220.3h0.7v0.7h-0.7zM89.0 215.3h0.7v0.7h-0.7zM88.3 218.5h0.7v0.7h-0.7zM88.8 216.7h0.7v0.7h-0.7zM88.5 208.4h0.7v0.7h-0.7zM88.0 227.8h0.7v0.7h-0.7zM87.9 229.5h0.7v0.7h-0.7zM87.5 216.1h0.7v0.7h-0.7zM88.3 211.4h0.7v0.7h-0.7zM88.2 228.9h0.7v0.7h-0.7zM89.2 217.7h0.7v0.7h-0.7zM86.9 223.2h0.7v0.7h-0.7zM88.3 231.6h0.7v0.7h-0.7zM88.0 212.8h0.7v0.7h-0.7zM87.7 218.4h0.7v0.7h-0.7zM88.1 222.7h0.7v0.7h-0.7zM89.7 215.3h0.7v0.7h-0.7zM90.0 224.9h0.7v0.7h-0.7zM86.5 219.6h0.7v0.7h-0.7zM89.3 226.8h0.7v0.7h-0.7zM86.9 227.9h0.7v0.7h-0.7zM87.4 219.0h0.7v0.7h-0.7zM87.5 230.2h0.7v0.7h-0.7zM87.2 214.2h0.7v0.7h-0.7zM89.4 229.5h0.7v0.7h-0.7zM89.8 210.1h0.7v0.7h-0.7zM86.8 212.5h0.7v0.7h-0.7zM88.9 218.9h0.7v0.7h-0.7zM88.7 218.7h0.7v0.7h-0.7zM87.9 228.8h0.7v0.7h-0.7zM88.0 224.1h0.7v0.7h-0.7zM88.1 220.7h0.7v0.7h-0.7zM88.0 231.8h0.7v0.7h-0.7zM87.5 229.5h0.7v0.7h-0.7zM88.2 209.9h0.7v0.7h-0.7zM88.5 223.4h0.7v0.7h-0.7zM88.5 216.7h0.7v0.7h-0.7zM87.3 227.5h0.7v0.7h-0.7zM89.0 215.6h0.7v0.7h-0.7zM87.1 230.3h0.7v0.7h-0.7zM87.7 228.2h0.7v0.7h-0.7zM87.3 208.5h0.7v0.7h-0.7zM86.6 221.6h0.7v0.7h-0.7zM88.5 218.4h0.7v0.7h-0.7zM87.6 226.8h0.7v0.7h-0.7zM89.5 222.8h0.7v0.7h-0.7zM88.1 225.7h0.7v0.7h-0.7zM89.1 222.3h0.7v0.7h-0.7zM87.6 231.2h0.7v0.7h-0.7zM87.8 209.3h0.7v0.7h-0.7zM88.8 222.3h0.7v0.7h-0.7zM87.9 227.1h0.7v0.7h-0.7zM87.5 230.2h0.7v0.7h-0.7zM88.4 214.6h0.7v0.7h-0.7zM89.4 214.5h0.7v0.7h-0.7zM88.7 220.1h0.7v0.7h-0.7zM88.8 227.8h0.7v0.7h-0.7zM90.5 217.4h0.7v0.7h-0.7zM89.0 217.6h0.7v0.7h-0.7zM87.9 215.2h0.7v0.7h-0.7zM88.5 213.9h0.7v0.7h-0.7zM87.3 210.8h0.7v0.7h-0.7zM88.1 225.5h0.7v0.7h-0.7zM89.7 210.3h0.7v0.7h-0.7zM88.8 215.4h0.7v0.7h-0.7zM87.3 224.5h0.7v0.7h-0.7zM87.7 231.7h0.7v0.7h-0.7z" fill="#4e5a36"/>
<path d="M90.1 222.5h0.7v0.7h-0.7zM88.0 219.9h0.7v0.7h-0.7zM88.1 228.2h0.7v0.7h-0.7zM88.0 220.0h0.7v0.7h-0.7zM87.1 219.7h0.7v0.7h-0.7zM89.0 223.1h0.7v0.7h-0.7zM88.3 228.6h0.7v0.7h-0.7zM88.9 218.7h0.7v0.7h-0.7zM89.9 210.2h0.7v0.7h-0.7zM88.2 226.6h0.7v0.7h-0.7zM88.5 223.4h0.7v0.7h-0.7zM87.6 221.3h0.7v0.7h-0.7zM89.4 224.6h0.7v0.7h-0.7zM88.9 212.9h0.7v0.7h-0.7zM89.6 224.3h0.7v0.7h-0.7zM90.2 210.5h0.7v0.7h-0.7zM87.0 219.6h0.7v0.7h-0.7zM90.1 228.5h0.7v0.7h-0.7zM87.0 227.6h0.7v0.7h-0.7zM87.3 229.6h0.7v0.7h-0.7zM86.2 232.0h0.7v0.7h-0.7zM90.1 221.9h0.7v0.7h-0.7zM87.8 211.2h0.7v0.7h-0.7zM89.0 213.5h0.7v0.7h-0.7zM87.7 222.5h0.7v0.7h-0.7zM90.2 210.6h0.7v0.7h-0.7zM87.0 213.8h0.7v0.7h-0.7zM88.4 208.4h0.7v0.7h-0.7zM87.1 212.6h0.7v0.7h-0.7zM88.1 228.7h0.7v0.7h-0.7zM89.9 216.2h0.7v0.7h-0.7zM88.7 229.6h0.7v0.7h-0.7zM88.7 213.3h0.7v0.7h-0.7zM89.2 231.4h0.7v0.7h-0.7zM87.8 209.1h0.7v0.7h-0.7zM87.0 222.6h0.7v0.7h-0.7zM87.2 221.1h0.7v0.7h-0.7zM87.8 209.1h0.7v0.7h-0.7zM89.7 231.8h0.7v0.7h-0.7zM88.4 221.6h0.7v0.7h-0.7zM87.9 222.8h0.7v0.7h-0.7zM88.5 224.7h0.7v0.7h-0.7zM87.6 228.8h0.7v0.7h-0.7zM89.3 221.3h0.7v0.7h-0.7zM89.2 220.2h0.7v0.7h-0.7zM87.5 217.7h0.7v0.7h-0.7zM90.3 219.1h0.7v0.7h-0.7zM87.0 231.9h0.7v0.7h-0.7zM88.9 212.1h0.7v0.7h-0.7zM88.0 220.3h0.7v0.7h-0.7zM89.3 216.0h0.7v0.7h-0.7zM89.3 228.0h0.7v0.7h-0.7zM88.5 230.1h0.7v0.7h-0.7zM88.7 212.0h0.7v0.7h-0.7zM86.8 209.4h0.7v0.7h-0.7z" fill="#a87838"/>
<path d="M88.2 213.9h0.7v0.7h-0.7zM88.5 214.2h0.7v0.7h-0.7zM88.6 223.9h0.7v0.7h-0.7zM88.7 213.7h0.7v0.7h-0.7zM89.2 229.8h0.7v0.7h-0.7zM88.4 225.5h0.7v0.7h-0.7zM87.9 211.0h0.7v0.7h-0.7zM87.3 217.6h0.7v0.7h-0.7zM88.0 228.8h0.7v0.7h-0.7zM87.6 223.5h0.7v0.7h-0.7zM89.2 217.2h0.7v0.7h-0.7zM87.5 223.1h0.7v0.7h-0.7zM88.0 211.6h0.7v0.7h-0.7zM88.6 231.8h0.7v0.7h-0.7zM89.6 215.4h0.7v0.7h-0.7zM87.2 219.6h0.7v0.7h-0.7zM88.3 221.4h0.7v0.7h-0.7zM89.2 221.0h0.7v0.7h-0.7zM87.1 229.3h0.7v0.7h-0.7zM89.0 213.1h0.7v0.7h-0.7zM86.7 211.0h0.7v0.7h-0.7zM88.3 211.7h0.7v0.7h-0.7zM87.6 215.2h0.7v0.7h-0.7zM88.1 210.0h0.7v0.7h-0.7zM88.7 208.4h0.7v0.7h-0.7zM89.6 215.9h0.7v0.7h-0.7zM87.7 228.5h0.7v0.7h-0.7zM89.7 212.8h0.7v0.7h-0.7zM89.7 214.3h0.7v0.7h-0.7zM87.2 208.9h0.7v0.7h-0.7zM88.4 230.9h0.7v0.7h-0.7zM88.9 227.3h0.7v0.7h-0.7zM89.6 224.3h0.7v0.7h-0.7zM89.0 213.2h0.7v0.7h-0.7zM88.1 219.4h0.7v0.7h-0.7zM88.0 220.7h0.7v0.7h-0.7z" fill="#d8d4a8"/>
<rect x="91.60000000000001" y="209.3" width="3.6" height="23.69999999999999" rx="1.6" fill="#5a663c" filter="url(#b06)" opacity="0.95"/>
<path d="M94.0 228.8h0.7v0.7h-0.7zM93.7 214.0h0.7v0.7h-0.7zM92.3 227.9h0.7v0.7h-0.7zM94.5 209.4h0.7v0.7h-0.7zM95.1 219.7h0.7v0.7h-0.7zM92.6 232.6h0.7v0.7h-0.7zM93.0 224.5h0.7v0.7h-0.7zM92.3 218.1h0.7v0.7h-0.7zM92.8 225.3h0.7v0.7h-0.7zM93.2 217.9h0.7v0.7h-0.7zM95.3 210.0h0.7v0.7h-0.7zM92.2 224.0h0.7v0.7h-0.7zM95.0 212.5h0.7v0.7h-0.7zM93.4 221.5h0.7v0.7h-0.7zM93.0 228.9h0.7v0.7h-0.7zM92.9 221.1h0.7v0.7h-0.7zM93.9 226.0h0.7v0.7h-0.7zM93.0 224.9h0.7v0.7h-0.7zM93.2 221.9h0.7v0.7h-0.7zM93.2 212.8h0.7v0.7h-0.7zM93.4 222.5h0.7v0.7h-0.7zM93.6 215.9h0.7v0.7h-0.7zM93.1 209.4h0.7v0.7h-0.7zM92.7 217.5h0.7v0.7h-0.7zM94.0 222.8h0.7v0.7h-0.7zM93.5 218.2h0.7v0.7h-0.7zM93.4 227.1h0.7v0.7h-0.7zM91.6 222.0h0.7v0.7h-0.7zM93.3 227.9h0.7v0.7h-0.7zM92.7 225.6h0.7v0.7h-0.7zM92.4 211.1h0.7v0.7h-0.7zM92.9 213.9h0.7v0.7h-0.7zM92.5 214.1h0.7v0.7h-0.7zM91.6 226.4h0.7v0.7h-0.7zM92.3 215.3h0.7v0.7h-0.7zM94.2 217.6h0.7v0.7h-0.7zM93.2 222.5h0.7v0.7h-0.7zM92.6 227.9h0.7v0.7h-0.7zM93.3 211.2h0.7v0.7h-0.7zM91.6 216.1h0.7v0.7h-0.7zM94.6 230.9h0.7v0.7h-0.7zM94.3 222.0h0.7v0.7h-0.7zM93.2 216.9h0.7v0.7h-0.7zM93.7 218.6h0.7v0.7h-0.7zM92.8 232.3h0.7v0.7h-0.7zM92.9 227.0h0.7v0.7h-0.7zM93.1 217.2h0.7v0.7h-0.7zM92.9 210.9h0.7v0.7h-0.7zM93.8 221.3h0.7v0.7h-0.7zM92.3 217.1h0.7v0.7h-0.7zM93.8 228.8h0.7v0.7h-0.7zM92.5 212.3h0.7v0.7h-0.7zM93.5 219.4h0.7v0.7h-0.7zM94.5 222.7h0.7v0.7h-0.7zM94.9 226.2h0.7v0.7h-0.7zM92.1 211.2h0.7v0.7h-0.7zM93.9 211.9h0.7v0.7h-0.7zM94.7 217.6h0.7v0.7h-0.7zM93.4 223.4h0.7v0.7h-0.7zM94.6 224.6h0.7v0.7h-0.7zM92.6 221.6h0.7v0.7h-0.7zM93.4 232.8h0.7v0.7h-0.7zM95.4 210.0h0.7v0.7h-0.7zM94.0 225.2h0.7v0.7h-0.7zM94.2 230.3h0.7v0.7h-0.7zM93.2 217.1h0.7v0.7h-0.7zM93.2 216.2h0.7v0.7h-0.7zM94.2 222.6h0.7v0.7h-0.7zM93.4 212.9h0.7v0.7h-0.7zM94.9 225.4h0.7v0.7h-0.7zM92.7 216.1h0.7v0.7h-0.7zM92.6 225.8h0.7v0.7h-0.7zM93.8 212.0h0.7v0.7h-0.7zM92.1 233.0h0.7v0.7h-0.7zM93.9 216.0h0.7v0.7h-0.7zM94.7 227.1h0.7v0.7h-0.7zM95.0 227.3h0.7v0.7h-0.7zM92.3 220.6h0.7v0.7h-0.7zM93.0 227.1h0.7v0.7h-0.7zM94.1 211.3h0.7v0.7h-0.7zM93.0 225.9h0.7v0.7h-0.7zM93.8 231.3h0.7v0.7h-0.7zM91.9 216.5h0.7v0.7h-0.7zM93.3 224.4h0.7v0.7h-0.7zM93.9 217.1h0.7v0.7h-0.7zM92.8 214.8h0.7v0.7h-0.7zM93.8 219.4h0.7v0.7h-0.7zM93.5 224.6h0.7v0.7h-0.7zM93.1 213.6h0.7v0.7h-0.7zM92.5 224.4h0.7v0.7h-0.7zM93.2 218.7h0.7v0.7h-0.7zM93.7 212.5h0.7v0.7h-0.7zM93.2 211.1h0.7v0.7h-0.7zM94.0 230.5h0.7v0.7h-0.7zM93.8 224.4h0.7v0.7h-0.7zM92.4 215.6h0.7v0.7h-0.7zM93.4 220.3h0.7v0.7h-0.7zM94.3 219.1h0.7v0.7h-0.7zM93.9 218.2h0.7v0.7h-0.7zM93.1 213.1h0.7v0.7h-0.7zM92.2 214.5h0.7v0.7h-0.7zM93.5 222.6h0.7v0.7h-0.7zM93.6 226.1h0.7v0.7h-0.7zM94.4 214.6h0.7v0.7h-0.7zM93.3 213.3h0.7v0.7h-0.7zM93.4 228.0h0.7v0.7h-0.7zM93.7 224.9h0.7v0.7h-0.7zM94.6 228.1h0.7v0.7h-0.7zM94.3 214.7h0.7v0.7h-0.7zM95.1 221.8h0.7v0.7h-0.7z" fill="#4e5a36"/>
<path d="M91.4 225.7h0.7v0.7h-0.7zM89.9 225.3h0.7v0.7h-0.7zM92.3 210.3h0.7v0.7h-0.7zM93.5 214.3h0.7v0.7h-0.7zM93.0 210.9h0.7v0.7h-0.7zM94.0 222.3h0.7v0.7h-0.7zM92.9 211.9h0.7v0.7h-0.7zM94.1 220.6h0.7v0.7h-0.7zM93.9 209.3h0.7v0.7h-0.7zM92.9 215.9h0.7v0.7h-0.7zM92.1 230.6h0.7v0.7h-0.7zM91.3 222.4h0.7v0.7h-0.7zM94.1 211.5h0.7v0.7h-0.7zM93.4 216.3h0.7v0.7h-0.7zM91.4 215.3h0.7v0.7h-0.7zM92.5 218.7h0.7v0.7h-0.7zM93.0 212.6h0.7v0.7h-0.7zM95.1 230.8h0.7v0.7h-0.7zM94.5 220.3h0.7v0.7h-0.7zM93.2 211.8h0.7v0.7h-0.7zM94.1 232.5h0.7v0.7h-0.7zM91.8 216.0h0.7v0.7h-0.7zM92.9 229.7h0.7v0.7h-0.7zM93.0 227.8h0.7v0.7h-0.7zM91.9 211.2h0.7v0.7h-0.7zM94.7 214.8h0.7v0.7h-0.7zM93.0 216.3h0.7v0.7h-0.7zM94.8 226.6h0.7v0.7h-0.7zM91.7 213.6h0.7v0.7h-0.7zM94.4 229.4h0.7v0.7h-0.7zM94.3 213.9h0.7v0.7h-0.7zM92.2 228.4h0.7v0.7h-0.7zM93.7 230.5h0.7v0.7h-0.7zM93.7 228.6h0.7v0.7h-0.7zM94.1 215.6h0.7v0.7h-0.7zM92.9 227.1h0.7v0.7h-0.7zM92.4 209.7h0.7v0.7h-0.7zM92.3 211.9h0.7v0.7h-0.7zM93.6 230.7h0.7v0.7h-0.7zM92.7 211.1h0.7v0.7h-0.7zM93.4 232.6h0.7v0.7h-0.7zM90.8 211.9h0.7v0.7h-0.7zM93.1 220.3h0.7v0.7h-0.7zM91.5 222.0h0.7v0.7h-0.7zM93.6 214.7h0.7v0.7h-0.7zM94.8 217.1h0.7v0.7h-0.7zM93.8 232.7h0.7v0.7h-0.7zM93.1 221.4h0.7v0.7h-0.7zM94.4 211.6h0.7v0.7h-0.7zM91.2 219.2h0.7v0.7h-0.7zM92.8 225.2h0.7v0.7h-0.7zM94.5 215.2h0.7v0.7h-0.7zM92.8 232.4h0.7v0.7h-0.7zM91.3 226.4h0.7v0.7h-0.7zM92.3 223.6h0.7v0.7h-0.7z" fill="#a87838"/>
<path d="M93.7 225.3h0.7v0.7h-0.7zM93.7 228.2h0.7v0.7h-0.7zM92.9 209.9h0.7v0.7h-0.7zM93.6 232.5h0.7v0.7h-0.7zM93.5 230.9h0.7v0.7h-0.7zM93.9 225.0h0.7v0.7h-0.7zM93.0 225.6h0.7v0.7h-0.7zM93.4 211.9h0.7v0.7h-0.7zM94.8 211.8h0.7v0.7h-0.7zM92.8 226.5h0.7v0.7h-0.7zM93.1 215.1h0.7v0.7h-0.7zM93.0 213.5h0.7v0.7h-0.7zM94.0 226.4h0.7v0.7h-0.7zM92.7 216.4h0.7v0.7h-0.7zM92.4 219.7h0.7v0.7h-0.7zM92.8 209.5h0.7v0.7h-0.7zM92.3 230.8h0.7v0.7h-0.7zM93.6 220.6h0.7v0.7h-0.7zM94.9 213.4h0.7v0.7h-0.7zM93.9 217.1h0.7v0.7h-0.7zM93.9 223.0h0.7v0.7h-0.7zM93.8 227.1h0.7v0.7h-0.7zM93.1 225.3h0.7v0.7h-0.7zM92.2 217.5h0.7v0.7h-0.7zM92.6 222.9h0.7v0.7h-0.7zM94.1 214.2h0.7v0.7h-0.7zM92.3 220.5h0.7v0.7h-0.7zM94.8 221.4h0.7v0.7h-0.7zM92.5 221.1h0.7v0.7h-0.7zM93.1 232.4h0.7v0.7h-0.7zM92.7 217.9h0.7v0.7h-0.7zM92.4 224.9h0.7v0.7h-0.7zM93.0 213.6h0.7v0.7h-0.7zM93.2 221.6h0.7v0.7h-0.7zM93.2 219.9h0.7v0.7h-0.7zM93.7 217.0h0.7v0.7h-0.7z" fill="#d8d4a8"/>
<path d="M69.5 232.3h0.7v0.7h-0.7zM67.6 226.8h0.7v0.7h-0.7zM66.6 228.7h0.7v0.7h-0.7zM73.1 229.4h0.7v0.7h-0.7zM67.7 229.5h0.7v0.7h-0.7zM64.8 228.0h0.7v0.7h-0.7zM66.7 226.4h0.7v0.7h-0.7zM71.1 226.9h0.7v0.7h-0.7zM66.8 226.2h0.7v0.7h-0.7zM70.0 226.3h0.7v0.7h-0.7zM76.2 226.5h0.7v0.7h-0.7zM72.0 230.3h0.7v0.7h-0.7zM72.1 229.4h0.7v0.7h-0.7zM65.5 234.4h0.7v0.7h-0.7zM69.8 226.3h0.7v0.7h-0.7zM73.5 228.9h0.7v0.7h-0.7zM66.6 230.7h0.7v0.7h-0.7zM69.3 230.6h0.7v0.7h-0.7zM69.0 231.6h0.7v0.7h-0.7zM70.6 228.1h0.7v0.7h-0.7zM69.1 231.7h0.7v0.7h-0.7zM69.0 227.3h0.7v0.7h-0.7zM69.6 230.5h0.7v0.7h-0.7zM70.7 225.8h0.7v0.7h-0.7zM65.2 228.4h0.7v0.7h-0.7zM71.9 229.6h0.7v0.7h-0.7zM74.4 232.9h0.7v0.7h-0.7zM71.9 229.5h0.7v0.7h-0.7zM68.6 226.9h0.7v0.7h-0.7zM69.8 226.3h0.7v0.7h-0.7zM72.1 224.9h0.7v0.7h-0.7zM73.2 228.6h0.7v0.7h-0.7zM66.6 229.4h0.7v0.7h-0.7zM69.5 229.2h0.7v0.7h-0.7zM64.6 222.1h0.7v0.7h-0.7zM72.4 229.1h0.7v0.7h-0.7zM71.6 223.1h0.7v0.7h-0.7zM67.7 226.6h0.7v0.7h-0.7zM69.5 231.5h0.7v0.7h-0.7zM65.0 230.2h0.7v0.7h-0.7zM70.8 223.9h0.7v0.7h-0.7zM68.7 229.0h0.7v0.7h-0.7zM68.0 230.2h0.7v0.7h-0.7zM73.3 230.9h0.7v0.7h-0.7zM73.1 231.3h0.7v0.7h-0.7zM68.7 227.5h0.7v0.7h-0.7zM64.9 224.3h0.7v0.7h-0.7zM66.9 229.8h0.7v0.7h-0.7zM68.5 228.8h0.7v0.7h-0.7zM71.9 231.3h0.7v0.7h-0.7zM68.2 228.7h0.7v0.7h-0.7zM63.9 231.7h0.7v0.7h-0.7zM68.4 222.5h0.7v0.7h-0.7zM69.0 228.5h0.7v0.7h-0.7zM71.5 229.0h0.7v0.7h-0.7zM70.7 227.6h0.7v0.7h-0.7zM71.9 226.2h0.7v0.7h-0.7zM68.5 229.5h0.7v0.7h-0.7zM67.9 231.2h0.7v0.7h-0.7zM70.4 229.6h0.7v0.7h-0.7zM69.7 230.2h0.7v0.7h-0.7zM71.1 226.7h0.7v0.7h-0.7zM68.9 228.3h0.7v0.7h-0.7zM67.9 229.2h0.7v0.7h-0.7zM69.1 225.8h0.7v0.7h-0.7zM68.1 231.5h0.7v0.7h-0.7zM71.2 224.4h0.7v0.7h-0.7zM67.0 229.9h0.7v0.7h-0.7zM64.4 229.4h0.7v0.7h-0.7zM74.3 230.1h0.7v0.7h-0.7zM65.8 229.9h0.7v0.7h-0.7zM62.9 228.7h0.7v0.7h-0.7zM62.1 227.6h0.7v0.7h-0.7zM62.4 227.2h0.7v0.7h-0.7zM67.5 231.5h0.7v0.7h-0.7zM70.3 233.5h0.7v0.7h-0.7zM73.4 229.2h0.7v0.7h-0.7zM71.3 226.6h0.7v0.7h-0.7zM69.1 227.8h0.7v0.7h-0.7zM65.5 231.4h0.7v0.7h-0.7zM66.7 229.9h0.7v0.7h-0.7zM67.9 231.3h0.7v0.7h-0.7zM70.5 225.1h0.7v0.7h-0.7zM70.2 235.6h0.7v0.7h-0.7zM71.5 231.8h0.7v0.7h-0.7zM71.0 232.9h0.7v0.7h-0.7zM67.1 227.4h0.7v0.7h-0.7zM67.5 225.6h0.7v0.7h-0.7zM65.6 231.9h0.7v0.7h-0.7zM66.7 227.3h0.7v0.7h-0.7zM73.4 230.4h0.7v0.7h-0.7zM67.3 227.4h0.7v0.7h-0.7zM68.3 229.2h0.7v0.7h-0.7zM72.7 230.0h0.7v0.7h-0.7zM65.9 228.6h0.7v0.7h-0.7zM64.4 227.7h0.7v0.7h-0.7zM74.8 225.8h0.7v0.7h-0.7zM67.3 231.1h0.7v0.7h-0.7zM69.8 228.3h0.7v0.7h-0.7zM66.5 227.0h0.7v0.7h-0.7zM71.5 228.7h0.7v0.7h-0.7zM70.2 230.7h0.7v0.7h-0.7zM64.0 224.7h0.7v0.7h-0.7zM70.5 231.4h0.7v0.7h-0.7zM69.0 231.0h0.7v0.7h-0.7zM63.7 228.2h0.7v0.7h-0.7zM67.2 227.7h0.7v0.7h-0.7zM70.7 222.5h0.7v0.7h-0.7zM67.2 231.5h0.7v0.7h-0.7zM67.7 226.2h0.7v0.7h-0.7zM70.0 225.7h0.7v0.7h-0.7zM71.9 227.1h0.7v0.7h-0.7zM73.6 229.8h0.7v0.7h-0.7zM64.7 228.6h0.7v0.7h-0.7zM68.5 230.4h0.7v0.7h-0.7zM64.1 231.1h0.7v0.7h-0.7zM65.6 224.4h0.7v0.7h-0.7zM68.2 227.0h0.7v0.7h-0.7zM69.1 232.8h0.7v0.7h-0.7zM68.5 233.1h0.7v0.7h-0.7zM76.0 233.9h0.7v0.7h-0.7zM69.7 232.3h0.7v0.7h-0.7zM73.6 232.2h0.7v0.7h-0.7zM69.0 232.3h0.7v0.7h-0.7zM72.5 229.7h0.7v0.7h-0.7zM65.9 230.6h0.7v0.7h-0.7zM70.6 225.6h0.7v0.7h-0.7zM65.1 232.0h0.7v0.7h-0.7zM68.2 231.0h0.7v0.7h-0.7zM68.0 225.8h0.7v0.7h-0.7zM66.6 223.3h0.7v0.7h-0.7zM70.8 225.5h0.7v0.7h-0.7zM76.4 226.9h0.7v0.7h-0.7zM69.6 226.4h0.7v0.7h-0.7zM63.8 228.8h0.7v0.7h-0.7zM66.5 234.8h0.7v0.7h-0.7zM68.1 223.1h0.7v0.7h-0.7zM69.0 226.8h0.7v0.7h-0.7zM67.2 227.0h0.7v0.7h-0.7zM65.6 224.8h0.7v0.7h-0.7zM69.7 229.0h0.7v0.7h-0.7zM68.7 228.1h0.7v0.7h-0.7zM74.5 227.2h0.7v0.7h-0.7zM67.2 233.0h0.7v0.7h-0.7zM70.0 227.6h0.7v0.7h-0.7zM66.1 227.8h0.7v0.7h-0.7zM67.9 228.7h0.7v0.7h-0.7zM74.2 225.5h0.7v0.7h-0.7zM69.4 230.6h0.7v0.7h-0.7zM71.4 228.4h0.7v0.7h-0.7zM66.3 229.9h0.7v0.7h-0.7zM71.3 228.7h0.7v0.7h-0.7zM67.6 232.3h0.7v0.7h-0.7zM68.1 228.7h0.7v0.7h-0.7zM73.8 229.0h0.7v0.7h-0.7zM69.0 228.4h0.7v0.7h-0.7zM74.4 228.9h0.7v0.7h-0.7zM74.0 231.0h0.7v0.7h-0.7zM69.2 231.5h0.7v0.7h-0.7zM67.0 233.9h0.7v0.7h-0.7z" fill="#5a6238" opacity="1"/>
<polygon points="64.0,213.0 65.5,208.0 68.0,205.5 71.0,204.5 74.0,205.0 77.5,207.0 79.8,211.0 79.5,218.0 77.0,224.0 73.0,227.0 68.5,227.0 65.0,224.0 63.5,219.0" fill="#fb8a12" opacity="0.35" filter="url(#b2)"/>
<polygon points="64.0,213.0 65.5,208.0 68.0,205.5 71.0,204.5 74.0,205.0 77.5,207.0 79.8,211.0 79.5,218.0 77.0,224.0 73.0,227.0 68.5,227.0 65.0,224.0 63.5,219.0" fill="#fb8a12" opacity="1" filter="url(#b08)"/>
<path d="M73.9 220.0h0.7v0.7h-0.7zM77.3 222.0h0.7v0.7h-0.7zM74.7 208.1h0.7v0.7h-0.7zM77.1 218.9h0.7v0.7h-0.7zM76.5 208.6h0.7v0.7h-0.7zM69.7 225.0h0.7v0.7h-0.7zM78.1 209.9h0.7v0.7h-0.7zM71.3 207.6h0.7v0.7h-0.7zM62.0 212.6h0.7v0.7h-0.7zM71.0 219.6h0.7v0.7h-0.7zM66.4 217.0h0.7v0.7h-0.7zM68.9 204.8h0.7v0.7h-0.7zM73.0 214.8h0.7v0.7h-0.7zM76.4 211.1h0.7v0.7h-0.7zM70.4 226.6h0.7v0.7h-0.7zM74.5 220.9h0.7v0.7h-0.7zM65.1 220.7h0.7v0.7h-0.7zM68.3 218.3h0.7v0.7h-0.7zM68.3 214.4h0.7v0.7h-0.7zM67.1 218.7h0.7v0.7h-0.7zM70.4 225.0h0.7v0.7h-0.7zM63.8 220.8h0.7v0.7h-0.7zM69.2 216.2h0.7v0.7h-0.7zM75.0 209.1h0.7v0.7h-0.7zM79.0 222.3h0.7v0.7h-0.7zM73.5 208.6h0.7v0.7h-0.7zM75.0 222.5h0.7v0.7h-0.7zM74.4 216.9h0.7v0.7h-0.7zM72.5 206.0h0.7v0.7h-0.7zM70.9 220.3h0.7v0.7h-0.7zM69.1 210.7h0.7v0.7h-0.7zM69.9 222.0h0.7v0.7h-0.7zM80.2 214.6h0.7v0.7h-0.7zM74.6 213.2h0.7v0.7h-0.7zM69.0 212.7h0.7v0.7h-0.7zM68.0 223.2h0.7v0.7h-0.7zM77.7 217.6h0.7v0.7h-0.7zM70.8 213.7h0.7v0.7h-0.7zM69.8 226.4h0.7v0.7h-0.7zM67.0 206.6h0.7v0.7h-0.7zM69.0 218.3h0.7v0.7h-0.7zM69.7 226.2h0.7v0.7h-0.7zM76.9 218.9h0.7v0.7h-0.7zM69.6 211.6h0.7v0.7h-0.7zM74.0 217.4h0.7v0.7h-0.7zM72.4 225.2h0.7v0.7h-0.7zM79.4 215.2h0.7v0.7h-0.7zM72.8 205.9h0.7v0.7h-0.7zM76.0 208.9h0.7v0.7h-0.7zM68.9 226.1h0.7v0.7h-0.7zM74.8 211.2h0.7v0.7h-0.7zM67.7 215.7h0.7v0.7h-0.7zM70.2 209.2h0.7v0.7h-0.7zM77.2 213.7h0.7v0.7h-0.7zM62.1 212.2h0.7v0.7h-0.7zM75.8 217.6h0.7v0.7h-0.7zM67.2 221.9h0.7v0.7h-0.7zM64.1 221.7h0.7v0.7h-0.7zM71.0 218.1h0.7v0.7h-0.7zM70.2 212.3h0.7v0.7h-0.7zM73.6 222.0h0.7v0.7h-0.7zM73.7 219.4h0.7v0.7h-0.7zM68.1 210.8h0.7v0.7h-0.7zM68.8 210.1h0.7v0.7h-0.7zM66.0 219.0h0.7v0.7h-0.7zM69.7 227.0h0.7v0.7h-0.7zM65.9 208.5h0.7v0.7h-0.7zM71.4 220.3h0.7v0.7h-0.7zM79.0 219.8h0.7v0.7h-0.7zM64.6 223.4h0.7v0.7h-0.7zM66.1 224.1h0.7v0.7h-0.7zM79.2 216.8h0.7v0.7h-0.7zM64.9 204.8h0.7v0.7h-0.7zM67.1 209.3h0.7v0.7h-0.7zM71.7 218.8h0.7v0.7h-0.7zM68.7 226.4h0.7v0.7h-0.7zM71.4 216.5h0.7v0.7h-0.7zM78.2 223.4h0.7v0.7h-0.7zM71.9 218.1h0.7v0.7h-0.7zM77.3 215.8h0.7v0.7h-0.7zM65.5 217.6h0.7v0.7h-0.7zM71.6 223.7h0.7v0.7h-0.7zM76.7 216.5h0.7v0.7h-0.7zM70.7 213.7h0.7v0.7h-0.7zM76.2 225.4h0.7v0.7h-0.7zM63.2 215.3h0.7v0.7h-0.7zM75.1 224.6h0.7v0.7h-0.7zM78.1 206.2h0.7v0.7h-0.7zM66.0 206.6h0.7v0.7h-0.7zM70.5 220.0h0.7v0.7h-0.7zM73.6 211.1h0.7v0.7h-0.7zM73.5 212.1h0.7v0.7h-0.7zM65.2 218.7h0.7v0.7h-0.7zM72.4 225.3h0.7v0.7h-0.7zM75.3 204.2h0.7v0.7h-0.7zM65.7 207.8h0.7v0.7h-0.7zM66.2 221.6h0.7v0.7h-0.7zM74.1 220.5h0.7v0.7h-0.7zM69.4 218.4h0.7v0.7h-0.7zM67.1 215.2h0.7v0.7h-0.7zM61.8 216.3h0.7v0.7h-0.7zM69.5 222.1h0.7v0.7h-0.7zM69.1 216.9h0.7v0.7h-0.7zM63.2 214.7h0.7v0.7h-0.7zM67.3 204.8h0.7v0.7h-0.7zM67.6 208.5h0.7v0.7h-0.7zM74.3 221.4h0.7v0.7h-0.7zM70.5 208.0h0.7v0.7h-0.7zM78.3 215.3h0.7v0.7h-0.7zM72.0 213.5h0.7v0.7h-0.7zM75.5 209.9h0.7v0.7h-0.7zM75.2 209.8h0.7v0.7h-0.7zM72.0 226.1h0.7v0.7h-0.7zM68.8 223.2h0.7v0.7h-0.7zM64.8 211.2h0.7v0.7h-0.7zM78.8 210.0h0.7v0.7h-0.7zM72.6 214.8h0.7v0.7h-0.7zM72.6 216.4h0.7v0.7h-0.7zM67.8 226.5h0.7v0.7h-0.7zM73.7 218.4h0.7v0.7h-0.7zM70.1 222.0h0.7v0.7h-0.7zM75.9 208.1h0.7v0.7h-0.7zM64.9 217.5h0.7v0.7h-0.7zM74.8 223.6h0.7v0.7h-0.7zM68.1 208.0h0.7v0.7h-0.7zM71.9 206.5h0.7v0.7h-0.7zM70.9 208.9h0.7v0.7h-0.7zM77.5 215.3h0.7v0.7h-0.7zM76.1 216.4h0.7v0.7h-0.7zM74.4 206.2h0.7v0.7h-0.7zM78.4 209.7h0.7v0.7h-0.7zM76.9 223.3h0.7v0.7h-0.7zM72.5 207.4h0.7v0.7h-0.7zM72.9 204.9h0.7v0.7h-0.7zM66.4 209.3h0.7v0.7h-0.7zM65.7 224.0h0.7v0.7h-0.7zM71.2 225.7h0.7v0.7h-0.7zM67.8 215.2h0.7v0.7h-0.7zM69.8 218.9h0.7v0.7h-0.7zM72.5 208.0h0.7v0.7h-0.7zM78.3 209.5h0.7v0.7h-0.7zM76.6 222.4h0.7v0.7h-0.7zM71.0 207.2h0.7v0.7h-0.7zM70.9 222.4h0.7v0.7h-0.7zM75.9 211.8h0.7v0.7h-0.7zM74.6 207.3h0.7v0.7h-0.7zM74.5 221.6h0.7v0.7h-0.7zM71.1 203.8h0.7v0.7h-0.7zM68.2 215.0h0.7v0.7h-0.7zM74.4 206.9h0.7v0.7h-0.7zM71.2 219.8h0.7v0.7h-0.7zM73.6 206.8h0.7v0.7h-0.7zM72.9 207.3h0.7v0.7h-0.7zM68.9 211.1h0.7v0.7h-0.7zM70.8 216.7h0.7v0.7h-0.7zM70.6 205.1h0.7v0.7h-0.7zM72.2 210.3h0.7v0.7h-0.7zM69.9 213.5h0.7v0.7h-0.7zM71.7 213.1h0.7v0.7h-0.7zM69.4 206.8h0.7v0.7h-0.7zM64.0 208.1h0.7v0.7h-0.7zM73.6 206.1h0.7v0.7h-0.7zM78.5 218.7h0.7v0.7h-0.7zM72.2 205.5h0.7v0.7h-0.7zM68.4 224.1h0.7v0.7h-0.7zM73.4 228.7h0.7v0.7h-0.7zM75.7 216.9h0.7v0.7h-0.7zM69.3 222.1h0.7v0.7h-0.7zM74.9 209.9h0.7v0.7h-0.7zM67.3 215.7h0.7v0.7h-0.7zM76.4 210.1h0.7v0.7h-0.7zM72.8 205.8h0.7v0.7h-0.7zM79.7 209.6h0.7v0.7h-0.7zM78.6 211.8h0.7v0.7h-0.7zM77.1 220.2h0.7v0.7h-0.7zM74.7 208.5h0.7v0.7h-0.7zM70.0 216.1h0.7v0.7h-0.7zM78.6 219.9h0.7v0.7h-0.7zM73.2 210.4h0.7v0.7h-0.7zM73.5 214.9h0.7v0.7h-0.7zM77.6 209.6h0.7v0.7h-0.7zM73.6 222.8h0.7v0.7h-0.7zM70.5 218.6h0.7v0.7h-0.7zM71.3 206.3h0.7v0.7h-0.7zM74.1 222.5h0.7v0.7h-0.7zM69.8 214.1h0.7v0.7h-0.7zM64.5 215.2h0.7v0.7h-0.7zM74.5 211.4h0.7v0.7h-0.7zM74.1 215.4h0.7v0.7h-0.7zM71.0 222.1h0.7v0.7h-0.7zM61.6 220.7h0.7v0.7h-0.7zM80.2 219.3h0.7v0.7h-0.7zM70.4 215.4h0.7v0.7h-0.7zM67.2 210.8h0.7v0.7h-0.7zM71.3 218.8h0.7v0.7h-0.7zM65.6 208.9h0.7v0.7h-0.7zM75.7 214.4h0.7v0.7h-0.7zM76.2 214.4h0.7v0.7h-0.7zM72.8 215.1h0.7v0.7h-0.7zM77.9 211.0h0.7v0.7h-0.7zM66.7 213.5h0.7v0.7h-0.7zM61.7 219.1h0.7v0.7h-0.7zM72.3 223.1h0.7v0.7h-0.7zM69.5 218.5h0.7v0.7h-0.7zM75.4 206.3h0.7v0.7h-0.7zM75.5 213.4h0.7v0.7h-0.7zM71.2 211.4h0.7v0.7h-0.7zM72.8 210.3h0.7v0.7h-0.7zM71.9 209.7h0.7v0.7h-0.7zM67.8 208.7h0.7v0.7h-0.7zM78.6 223.0h0.7v0.7h-0.7zM78.1 211.9h0.7v0.7h-0.7zM77.1 208.0h0.7v0.7h-0.7zM75.3 222.6h0.7v0.7h-0.7zM70.8 212.8h0.7v0.7h-0.7zM66.8 212.2h0.7v0.7h-0.7zM75.7 209.5h0.7v0.7h-0.7zM70.2 224.9h0.7v0.7h-0.7zM76.1 224.4h0.7v0.7h-0.7zM79.0 222.6h0.7v0.7h-0.7zM70.5 213.3h0.7v0.7h-0.7zM72.9 219.2h0.7v0.7h-0.7zM73.7 218.4h0.7v0.7h-0.7zM78.4 223.4h0.7v0.7h-0.7zM70.8 222.9h0.7v0.7h-0.7zM74.5 209.1h0.7v0.7h-0.7zM69.8 210.8h0.7v0.7h-0.7zM80.8 211.3h0.7v0.7h-0.7zM77.3 216.1h0.7v0.7h-0.7zM80.1 211.2h0.7v0.7h-0.7zM64.9 210.9h0.7v0.7h-0.7zM72.3 225.6h0.7v0.7h-0.7zM71.6 224.9h0.7v0.7h-0.7zM70.1 209.5h0.7v0.7h-0.7zM70.4 222.2h0.7v0.7h-0.7zM73.4 220.7h0.7v0.7h-0.7zM68.8 206.9h0.7v0.7h-0.7zM69.6 210.0h0.7v0.7h-0.7zM68.0 212.8h0.7v0.7h-0.7zM69.7 210.9h0.7v0.7h-0.7zM75.5 215.6h0.7v0.7h-0.7zM77.8 223.7h0.7v0.7h-0.7zM65.8 223.6h0.7v0.7h-0.7zM71.8 220.2h0.7v0.7h-0.7zM72.5 210.8h0.7v0.7h-0.7zM70.2 221.7h0.7v0.7h-0.7zM73.4 218.3h0.7v0.7h-0.7zM68.1 206.2h0.7v0.7h-0.7zM73.8 219.1h0.7v0.7h-0.7zM73.7 218.8h0.7v0.7h-0.7zM76.2 210.6h0.7v0.7h-0.7zM74.3 212.4h0.7v0.7h-0.7zM67.9 223.1h0.7v0.7h-0.7zM70.6 207.4h0.7v0.7h-0.7zM77.8 211.6h0.7v0.7h-0.7zM75.6 219.7h0.7v0.7h-0.7zM71.9 225.6h0.7v0.7h-0.7zM73.7 212.5h0.7v0.7h-0.7zM66.3 208.9h0.7v0.7h-0.7zM67.2 209.0h0.7v0.7h-0.7zM67.4 212.1h0.7v0.7h-0.7zM80.5 216.3h0.7v0.7h-0.7zM69.3 216.2h0.7v0.7h-0.7zM69.5 210.3h0.7v0.7h-0.7zM66.8 208.9h0.7v0.7h-0.7zM70.0 209.5h0.7v0.7h-0.7zM72.2 222.6h0.7v0.7h-0.7zM64.8 220.6h0.7v0.7h-0.7zM75.4 216.3h0.7v0.7h-0.7zM77.9 206.6h0.7v0.7h-0.7zM80.7 212.7h0.7v0.7h-0.7zM68.8 224.5h0.7v0.7h-0.7zM78.1 213.0h0.7v0.7h-0.7zM77.1 212.9h0.7v0.7h-0.7zM76.6 205.1h0.7v0.7h-0.7zM65.8 217.5h0.7v0.7h-0.7zM64.5 215.8h0.7v0.7h-0.7zM65.7 215.5h0.7v0.7h-0.7zM63.9 217.8h0.7v0.7h-0.7zM71.4 214.5h0.7v0.7h-0.7zM68.6 219.4h0.7v0.7h-0.7zM75.5 209.2h0.7v0.7h-0.7zM73.4 218.6h0.7v0.7h-0.7zM72.2 223.1h0.7v0.7h-0.7zM70.6 221.1h0.7v0.7h-0.7zM63.5 222.4h0.7v0.7h-0.7zM67.5 210.4h0.7v0.7h-0.7zM76.1 219.4h0.7v0.7h-0.7zM75.7 216.1h0.7v0.7h-0.7zM79.5 220.1h0.7v0.7h-0.7zM68.9 207.1h0.7v0.7h-0.7zM75.3 222.4h0.7v0.7h-0.7zM76.3 219.4h0.7v0.7h-0.7zM80.3 215.6h0.7v0.7h-0.7zM70.0 226.3h0.7v0.7h-0.7zM77.4 216.4h0.7v0.7h-0.7zM65.9 222.7h0.7v0.7h-0.7zM73.2 222.4h0.7v0.7h-0.7zM71.8 204.5h0.7v0.7h-0.7zM75.9 228.7h0.7v0.7h-0.7zM70.0 224.1h0.7v0.7h-0.7zM69.8 221.5h0.7v0.7h-0.7zM71.7 219.1h0.7v0.7h-0.7zM75.5 225.9h0.7v0.7h-0.7zM76.3 226.4h0.7v0.7h-0.7zM68.6 207.8h0.7v0.7h-0.7zM70.3 225.7h0.7v0.7h-0.7zM64.1 209.0h0.7v0.7h-0.7zM71.9 206.0h0.7v0.7h-0.7zM70.9 214.3h0.7v0.7h-0.7zM73.9 217.0h0.7v0.7h-0.7zM67.7 214.3h0.7v0.7h-0.7zM67.8 223.1h0.7v0.7h-0.7zM72.0 206.2h0.7v0.7h-0.7zM73.0 222.1h0.7v0.7h-0.7zM71.9 222.6h0.7v0.7h-0.7zM68.7 221.7h0.7v0.7h-0.7zM72.2 217.4h0.7v0.7h-0.7zM64.7 209.3h0.7v0.7h-0.7zM69.5 217.5h0.7v0.7h-0.7zM64.3 209.3h0.7v0.7h-0.7zM79.1 207.7h0.7v0.7h-0.7zM70.2 217.8h0.7v0.7h-0.7zM75.4 209.4h0.7v0.7h-0.7zM76.4 207.6h0.7v0.7h-0.7zM67.3 212.3h0.7v0.7h-0.7zM78.0 215.5h0.7v0.7h-0.7zM67.5 209.1h0.7v0.7h-0.7zM71.7 219.7h0.7v0.7h-0.7zM71.9 205.7h0.7v0.7h-0.7zM71.2 215.5h0.7v0.7h-0.7zM75.4 211.0h0.7v0.7h-0.7zM68.7 214.1h0.7v0.7h-0.7zM76.3 216.1h0.7v0.7h-0.7zM63.4 222.9h0.7v0.7h-0.7zM71.7 216.9h0.7v0.7h-0.7zM75.2 207.4h0.7v0.7h-0.7zM71.1 216.6h0.7v0.7h-0.7zM75.9 219.7h0.7v0.7h-0.7zM67.0 216.4h0.7v0.7h-0.7zM70.6 214.8h0.7v0.7h-0.7zM74.1 222.4h0.7v0.7h-0.7zM69.0 214.8h0.7v0.7h-0.7zM67.5 220.2h0.7v0.7h-0.7zM78.2 208.6h0.7v0.7h-0.7zM70.8 221.4h0.7v0.7h-0.7zM72.0 209.8h0.7v0.7h-0.7zM67.6 205.5h0.7v0.7h-0.7zM68.9 212.2h0.7v0.7h-0.7zM71.7 224.0h0.7v0.7h-0.7z" fill="#fb8a12" opacity="1"/>
<polygon points="65.3,235.0 66.5,231.5 70.0,229.0 75.0,227.0 81.0,226.3 87.0,226.5 92.0,227.5 96.0,228.8 98.3,231.0 98.6,235.0 97.8,239.0 95.0,240.0 91.4,238.5 88.5,235.5 86.0,234.2 83.0,235.0 79.0,237.0 75.0,238.8 71.0,239.8 67.5,239.8 65.5,237.8" fill="#dc02e0" opacity="0.3" filter="url(#b2)"/>
<polygon points="65.3,235.0 66.5,231.5 70.0,229.0 75.0,227.0 81.0,226.3 87.0,226.5 92.0,227.5 96.0,228.8 98.3,231.0 98.6,235.0 97.8,239.0 95.0,240.0 91.4,238.5 88.5,235.5 86.0,234.2 83.0,235.0 79.0,237.0 75.0,238.8 71.0,239.8 67.5,239.8 65.5,237.8" fill="#dc02e0" opacity="1" filter="url(#b08)"/>
<path d="M73.8 226.4h0.7v0.7h-0.7zM74.2 235.0h0.7v0.7h-0.7zM92.1 227.0h0.7v0.7h-0.7zM87.3 227.7h0.7v0.7h-0.7zM69.4 233.0h0.7v0.7h-0.7zM90.5 227.7h0.7v0.7h-0.7zM74.5 227.8h0.7v0.7h-0.7zM84.8 229.0h0.7v0.7h-0.7zM75.5 232.8h0.7v0.7h-0.7zM89.4 228.3h0.7v0.7h-0.7zM70.1 238.4h0.7v0.7h-0.7zM91.2 228.6h0.7v0.7h-0.7zM91.3 232.4h0.7v0.7h-0.7zM64.8 236.0h0.7v0.7h-0.7zM69.8 231.2h0.7v0.7h-0.7zM88.5 227.6h0.7v0.7h-0.7zM80.8 228.4h0.7v0.7h-0.7zM95.5 237.1h0.7v0.7h-0.7zM81.0 229.4h0.7v0.7h-0.7zM73.1 235.0h0.7v0.7h-0.7zM96.8 232.7h0.7v0.7h-0.7zM68.1 234.4h0.7v0.7h-0.7zM90.5 235.0h0.7v0.7h-0.7zM75.9 235.6h0.7v0.7h-0.7zM90.1 238.1h0.7v0.7h-0.7zM72.6 235.8h0.7v0.7h-0.7zM92.7 236.5h0.7v0.7h-0.7zM88.6 231.3h0.7v0.7h-0.7zM93.4 231.7h0.7v0.7h-0.7zM98.0 235.2h0.7v0.7h-0.7zM87.1 234.5h0.7v0.7h-0.7zM79.0 234.5h0.7v0.7h-0.7zM68.6 236.9h0.7v0.7h-0.7zM83.0 235.5h0.7v0.7h-0.7zM76.1 234.8h0.7v0.7h-0.7zM75.8 229.6h0.7v0.7h-0.7zM69.5 239.1h0.7v0.7h-0.7zM91.3 231.0h0.7v0.7h-0.7zM75.8 229.1h0.7v0.7h-0.7zM76.8 234.4h0.7v0.7h-0.7zM75.5 225.8h0.7v0.7h-0.7zM75.8 237.1h0.7v0.7h-0.7zM85.3 234.5h0.7v0.7h-0.7zM70.1 233.3h0.7v0.7h-0.7zM86.5 230.0h0.7v0.7h-0.7zM86.4 227.4h0.7v0.7h-0.7zM90.5 233.2h0.7v0.7h-0.7zM88.1 231.2h0.7v0.7h-0.7zM78.2 235.9h0.7v0.7h-0.7zM94.6 233.3h0.7v0.7h-0.7zM81.5 231.0h0.7v0.7h-0.7zM89.3 230.3h0.7v0.7h-0.7zM77.6 227.7h0.7v0.7h-0.7zM93.7 235.1h0.7v0.7h-0.7zM74.0 230.0h0.7v0.7h-0.7zM77.9 231.5h0.7v0.7h-0.7zM97.1 240.1h0.7v0.7h-0.7zM90.0 229.3h0.7v0.7h-0.7zM67.5 238.1h0.7v0.7h-0.7zM87.6 227.6h0.7v0.7h-0.7zM79.4 233.8h0.7v0.7h-0.7zM84.6 230.1h0.7v0.7h-0.7zM88.3 232.3h0.7v0.7h-0.7zM92.0 228.7h0.7v0.7h-0.7zM94.7 236.1h0.7v0.7h-0.7zM79.2 229.2h0.7v0.7h-0.7zM75.3 236.2h0.7v0.7h-0.7zM80.3 234.3h0.7v0.7h-0.7zM76.6 229.0h0.7v0.7h-0.7zM93.1 227.5h0.7v0.7h-0.7zM64.1 230.1h0.7v0.7h-0.7zM84.3 229.3h0.7v0.7h-0.7zM82.0 228.1h0.7v0.7h-0.7zM80.8 231.7h0.7v0.7h-0.7zM98.0 232.6h0.7v0.7h-0.7zM74.1 233.7h0.7v0.7h-0.7zM75.7 231.8h0.7v0.7h-0.7zM81.7 229.6h0.7v0.7h-0.7zM92.6 233.7h0.7v0.7h-0.7zM73.6 236.3h0.7v0.7h-0.7zM72.7 236.5h0.7v0.7h-0.7zM76.4 238.2h0.7v0.7h-0.7zM69.9 229.0h0.7v0.7h-0.7zM72.5 227.8h0.7v0.7h-0.7zM72.1 233.8h0.7v0.7h-0.7zM68.4 236.6h0.7v0.7h-0.7zM70.2 236.0h0.7v0.7h-0.7zM74.1 232.3h0.7v0.7h-0.7zM96.0 230.9h0.7v0.7h-0.7zM82.5 232.9h0.7v0.7h-0.7zM96.3 228.0h0.7v0.7h-0.7zM74.5 237.8h0.7v0.7h-0.7zM95.2 240.6h0.7v0.7h-0.7zM77.4 228.8h0.7v0.7h-0.7zM71.9 234.1h0.7v0.7h-0.7zM76.6 227.2h0.7v0.7h-0.7zM75.8 237.1h0.7v0.7h-0.7zM66.0 237.7h0.7v0.7h-0.7zM72.4 232.6h0.7v0.7h-0.7zM80.1 229.8h0.7v0.7h-0.7zM89.2 237.3h0.7v0.7h-0.7zM66.9 238.4h0.7v0.7h-0.7zM74.7 229.1h0.7v0.7h-0.7zM90.5 234.2h0.7v0.7h-0.7zM97.0 237.4h0.7v0.7h-0.7zM83.5 232.3h0.7v0.7h-0.7zM89.5 230.8h0.7v0.7h-0.7zM97.9 231.4h0.7v0.7h-0.7zM88.9 228.5h0.7v0.7h-0.7zM68.6 237.0h0.7v0.7h-0.7zM71.2 236.3h0.7v0.7h-0.7zM87.7 227.8h0.7v0.7h-0.7zM71.4 238.8h0.7v0.7h-0.7zM70.8 234.8h0.7v0.7h-0.7zM70.7 238.5h0.7v0.7h-0.7zM79.0 233.4h0.7v0.7h-0.7zM72.0 238.1h0.7v0.7h-0.7zM80.2 229.7h0.7v0.7h-0.7zM70.5 233.4h0.7v0.7h-0.7zM67.2 234.1h0.7v0.7h-0.7zM87.4 227.7h0.7v0.7h-0.7zM73.0 229.2h0.7v0.7h-0.7zM83.7 233.9h0.7v0.7h-0.7zM77.3 229.6h0.7v0.7h-0.7zM75.9 237.1h0.7v0.7h-0.7zM98.3 236.7h0.7v0.7h-0.7zM78.5 237.8h0.7v0.7h-0.7zM74.3 231.2h0.7v0.7h-0.7zM95.9 232.5h0.7v0.7h-0.7zM92.7 227.0h0.7v0.7h-0.7zM68.3 237.2h0.7v0.7h-0.7zM74.0 227.2h0.7v0.7h-0.7zM80.3 233.4h0.7v0.7h-0.7zM70.6 237.1h0.7v0.7h-0.7zM84.4 228.8h0.7v0.7h-0.7zM76.2 228.8h0.7v0.7h-0.7zM72.4 237.0h0.7v0.7h-0.7zM72.6 237.7h0.7v0.7h-0.7zM93.9 229.8h0.7v0.7h-0.7zM80.2 234.4h0.7v0.7h-0.7zM71.0 232.6h0.7v0.7h-0.7zM71.0 228.8h0.7v0.7h-0.7zM96.4 235.4h0.7v0.7h-0.7zM74.1 230.1h0.7v0.7h-0.7zM66.4 236.4h0.7v0.7h-0.7zM77.8 235.3h0.7v0.7h-0.7zM96.1 233.2h0.7v0.7h-0.7zM75.3 232.2h0.7v0.7h-0.7zM78.0 231.9h0.7v0.7h-0.7zM70.6 236.5h0.7v0.7h-0.7zM77.4 231.3h0.7v0.7h-0.7zM69.5 234.6h0.7v0.7h-0.7zM90.3 230.4h0.7v0.7h-0.7zM94.9 230.6h0.7v0.7h-0.7zM72.5 226.4h0.7v0.7h-0.7zM79.9 226.8h0.7v0.7h-0.7zM75.0 235.1h0.7v0.7h-0.7zM81.9 228.3h0.7v0.7h-0.7zM67.6 234.7h0.7v0.7h-0.7zM79.4 229.9h0.7v0.7h-0.7zM89.4 226.0h0.7v0.7h-0.7zM93.6 238.0h0.7v0.7h-0.7zM91.0 227.4h0.7v0.7h-0.7zM84.1 233.0h0.7v0.7h-0.7zM75.9 225.4h0.7v0.7h-0.7zM83.6 227.4h0.7v0.7h-0.7zM70.2 239.3h0.7v0.7h-0.7zM77.1 228.2h0.7v0.7h-0.7zM82.1 227.6h0.7v0.7h-0.7zM72.4 236.0h0.7v0.7h-0.7zM91.1 231.9h0.7v0.7h-0.7zM90.6 229.9h0.7v0.7h-0.7zM96.4 235.8h0.7v0.7h-0.7zM91.2 228.2h0.7v0.7h-0.7zM88.9 232.2h0.7v0.7h-0.7zM75.7 228.8h0.7v0.7h-0.7zM88.0 227.0h0.7v0.7h-0.7zM88.9 229.3h0.7v0.7h-0.7zM94.3 229.2h0.7v0.7h-0.7zM77.9 230.2h0.7v0.7h-0.7zM93.4 235.4h0.7v0.7h-0.7zM85.0 227.5h0.7v0.7h-0.7zM69.6 235.3h0.7v0.7h-0.7zM71.9 236.7h0.7v0.7h-0.7zM74.3 227.4h0.7v0.7h-0.7zM72.8 237.6h0.7v0.7h-0.7zM75.0 236.0h0.7v0.7h-0.7zM72.8 229.8h0.7v0.7h-0.7zM80.1 232.4h0.7v0.7h-0.7zM81.1 235.3h0.7v0.7h-0.7zM73.7 232.1h0.7v0.7h-0.7zM86.1 232.8h0.7v0.7h-0.7zM90.8 229.1h0.7v0.7h-0.7zM86.5 233.9h0.7v0.7h-0.7zM84.2 235.8h0.7v0.7h-0.7zM91.2 235.2h0.7v0.7h-0.7zM83.1 228.7h0.7v0.7h-0.7zM84.0 231.1h0.7v0.7h-0.7zM95.6 236.1h0.7v0.7h-0.7zM93.8 233.9h0.7v0.7h-0.7zM88.0 230.9h0.7v0.7h-0.7zM97.4 231.2h0.7v0.7h-0.7zM95.1 229.3h0.7v0.7h-0.7zM67.1 233.1h0.7v0.7h-0.7zM79.8 232.1h0.7v0.7h-0.7zM66.9 233.1h0.7v0.7h-0.7zM95.0 234.9h0.7v0.7h-0.7zM72.4 232.7h0.7v0.7h-0.7zM71.2 234.9h0.7v0.7h-0.7zM89.5 234.1h0.7v0.7h-0.7zM78.1 225.9h0.7v0.7h-0.7zM69.4 232.7h0.7v0.7h-0.7zM87.2 230.9h0.7v0.7h-0.7zM69.3 233.3h0.7v0.7h-0.7zM70.4 240.1h0.7v0.7h-0.7zM83.8 230.0h0.7v0.7h-0.7zM83.8 229.7h0.7v0.7h-0.7zM96.1 239.2h0.7v0.7h-0.7zM67.8 237.7h0.7v0.7h-0.7zM72.5 237.1h0.7v0.7h-0.7zM70.6 236.3h0.7v0.7h-0.7zM84.8 231.5h0.7v0.7h-0.7zM85.9 230.9h0.7v0.7h-0.7zM74.0 231.0h0.7v0.7h-0.7zM81.5 236.5h0.7v0.7h-0.7zM73.8 236.7h0.7v0.7h-0.7zM75.4 233.9h0.7v0.7h-0.7zM81.1 231.9h0.7v0.7h-0.7zM69.8 238.7h0.7v0.7h-0.7zM93.1 228.8h0.7v0.7h-0.7zM69.4 233.9h0.7v0.7h-0.7zM82.1 227.5h0.7v0.7h-0.7zM79.3 229.4h0.7v0.7h-0.7zM79.4 229.5h0.7v0.7h-0.7zM93.7 238.5h0.7v0.7h-0.7zM77.2 226.5h0.7v0.7h-0.7zM72.7 237.7h0.7v0.7h-0.7zM91.1 231.7h0.7v0.7h-0.7zM72.5 227.1h0.7v0.7h-0.7zM86.4 230.6h0.7v0.7h-0.7zM85.6 233.9h0.7v0.7h-0.7zM84.7 228.9h0.7v0.7h-0.7zM70.0 234.9h0.7v0.7h-0.7zM93.8 237.2h0.7v0.7h-0.7zM77.7 232.2h0.7v0.7h-0.7zM68.6 231.4h0.7v0.7h-0.7zM75.5 239.8h0.7v0.7h-0.7zM71.9 236.1h0.7v0.7h-0.7zM90.6 234.0h0.7v0.7h-0.7zM78.0 228.8h0.7v0.7h-0.7zM79.8 230.4h0.7v0.7h-0.7zM70.6 232.6h0.7v0.7h-0.7zM78.9 232.1h0.7v0.7h-0.7zM97.2 240.1h0.7v0.7h-0.7zM71.1 228.9h0.7v0.7h-0.7zM98.6 230.1h0.7v0.7h-0.7zM94.9 232.2h0.7v0.7h-0.7zM81.4 226.0h0.7v0.7h-0.7zM84.4 229.6h0.7v0.7h-0.7zM91.1 231.2h0.7v0.7h-0.7zM70.3 237.8h0.7v0.7h-0.7zM96.5 235.9h0.7v0.7h-0.7zM67.4 235.3h0.7v0.7h-0.7zM71.2 240.2h0.7v0.7h-0.7zM96.9 240.0h0.7v0.7h-0.7zM70.5 231.3h0.7v0.7h-0.7zM94.4 237.5h0.7v0.7h-0.7zM86.4 226.2h0.7v0.7h-0.7zM75.7 231.1h0.7v0.7h-0.7zM84.5 234.6h0.7v0.7h-0.7zM88.8 232.2h0.7v0.7h-0.7zM75.7 234.1h0.7v0.7h-0.7zM98.8 239.0h0.7v0.7h-0.7zM74.9 234.4h0.7v0.7h-0.7zM79.5 230.3h0.7v0.7h-0.7zM78.4 228.0h0.7v0.7h-0.7zM73.8 229.1h0.7v0.7h-0.7zM93.0 236.2h0.7v0.7h-0.7zM93.6 230.9h0.7v0.7h-0.7zM98.1 229.8h0.7v0.7h-0.7zM84.9 228.2h0.7v0.7h-0.7zM95.6 229.5h0.7v0.7h-0.7zM77.9 227.8h0.7v0.7h-0.7zM74.5 229.4h0.7v0.7h-0.7zM97.0 236.7h0.7v0.7h-0.7zM84.9 226.2h0.7v0.7h-0.7zM69.9 235.2h0.7v0.7h-0.7zM70.1 237.2h0.7v0.7h-0.7zM91.9 232.6h0.7v0.7h-0.7zM77.5 228.7h0.7v0.7h-0.7zM90.3 233.2h0.7v0.7h-0.7zM78.2 230.2h0.7v0.7h-0.7zM70.6 229.9h0.7v0.7h-0.7zM95.5 231.4h0.7v0.7h-0.7zM72.6 230.8h0.7v0.7h-0.7zM72.8 234.9h0.7v0.7h-0.7zM68.8 236.0h0.7v0.7h-0.7zM83.1 226.1h0.7v0.7h-0.7zM75.4 233.1h0.7v0.7h-0.7zM90.8 231.5h0.7v0.7h-0.7zM73.1 238.3h0.7v0.7h-0.7zM97.6 236.7h0.7v0.7h-0.7zM84.1 235.0h0.7v0.7h-0.7zM93.5 228.8h0.7v0.7h-0.7zM95.1 237.1h0.7v0.7h-0.7zM79.2 225.4h0.7v0.7h-0.7zM68.8 231.9h0.7v0.7h-0.7zM71.9 232.9h0.7v0.7h-0.7zM92.5 225.4h0.7v0.7h-0.7zM82.6 227.2h0.7v0.7h-0.7zM97.5 238.0h0.7v0.7h-0.7zM97.3 232.5h0.7v0.7h-0.7zM68.1 229.9h0.7v0.7h-0.7zM75.0 235.3h0.7v0.7h-0.7zM70.0 239.6h0.7v0.7h-0.7zM73.0 225.6h0.7v0.7h-0.7zM83.5 234.5h0.7v0.7h-0.7zM77.3 227.8h0.7v0.7h-0.7zM77.2 234.5h0.7v0.7h-0.7zM66.7 235.2h0.7v0.7h-0.7zM73.2 232.3h0.7v0.7h-0.7zM78.3 237.5h0.7v0.7h-0.7zM90.7 237.3h0.7v0.7h-0.7zM85.1 232.8h0.7v0.7h-0.7zM79.6 227.6h0.7v0.7h-0.7zM78.3 234.5h0.7v0.7h-0.7zM96.7 239.3h0.7v0.7h-0.7zM72.7 236.1h0.7v0.7h-0.7zM90.1 230.0h0.7v0.7h-0.7zM88.3 231.8h0.7v0.7h-0.7zM75.2 231.7h0.7v0.7h-0.7zM65.7 234.8h0.7v0.7h-0.7zM89.3 238.2h0.7v0.7h-0.7zM98.0 238.0h0.7v0.7h-0.7zM80.8 236.0h0.7v0.7h-0.7zM80.1 230.3h0.7v0.7h-0.7zM85.0 231.4h0.7v0.7h-0.7zM69.0 240.4h0.7v0.7h-0.7zM77.9 231.9h0.7v0.7h-0.7zM99.1 238.8h0.7v0.7h-0.7zM97.6 232.9h0.7v0.7h-0.7zM68.0 233.8h0.7v0.7h-0.7zM67.0 234.3h0.7v0.7h-0.7zM84.4 232.0h0.7v0.7h-0.7zM89.3 225.3h0.7v0.7h-0.7zM85.0 230.9h0.7v0.7h-0.7zM92.5 231.0h0.7v0.7h-0.7zM67.8 237.3h0.7v0.7h-0.7zM94.4 234.0h0.7v0.7h-0.7zM81.9 230.8h0.7v0.7h-0.7zM74.0 237.9h0.7v0.7h-0.7zM72.7 228.2h0.7v0.7h-0.7zM80.2 227.5h0.7v0.7h-0.7zM97.6 233.9h0.7v0.7h-0.7zM98.8 232.2h0.7v0.7h-0.7zM88.8 232.9h0.7v0.7h-0.7zM74.6 233.8h0.7v0.7h-0.7zM82.8 233.5h0.7v0.7h-0.7zM88.7 231.3h0.7v0.7h-0.7zM81.9 233.9h0.7v0.7h-0.7zM66.7 237.0h0.7v0.7h-0.7zM75.6 229.6h0.7v0.7h-0.7zM96.5 238.5h0.7v0.7h-0.7zM72.2 240.2h0.7v0.7h-0.7zM69.5 241.4h0.7v0.7h-0.7zM88.1 232.2h0.7v0.7h-0.7zM81.8 230.2h0.7v0.7h-0.7zM74.3 231.6h0.7v0.7h-0.7zM94.8 235.2h0.7v0.7h-0.7zM74.8 227.8h0.7v0.7h-0.7zM87.9 234.0h0.7v0.7h-0.7zM87.2 233.3h0.7v0.7h-0.7zM76.6 227.2h0.7v0.7h-0.7zM90.8 233.9h0.7v0.7h-0.7zM76.2 237.6h0.7v0.7h-0.7zM72.4 240.1h0.7v0.7h-0.7zM95.4 229.5h0.7v0.7h-0.7zM75.3 227.3h0.7v0.7h-0.7zM79.9 237.3h0.7v0.7h-0.7zM96.0 234.4h0.7v0.7h-0.7zM97.6 231.0h0.7v0.7h-0.7zM84.7 229.4h0.7v0.7h-0.7zM83.8 229.6h0.7v0.7h-0.7zM75.6 236.6h0.7v0.7h-0.7zM88.9 227.0h0.7v0.7h-0.7zM80.3 232.3h0.7v0.7h-0.7zM68.3 237.1h0.7v0.7h-0.7zM71.2 230.6h0.7v0.7h-0.7zM84.4 232.2h0.7v0.7h-0.7zM86.3 229.4h0.7v0.7h-0.7zM86.3 232.2h0.7v0.7h-0.7zM69.8 236.9h0.7v0.7h-0.7zM76.8 236.5h0.7v0.7h-0.7zM71.1 233.1h0.7v0.7h-0.7zM81.3 231.2h0.7v0.7h-0.7zM90.2 229.4h0.7v0.7h-0.7zM65.2 234.5h0.7v0.7h-0.7zM96.7 238.2h0.7v0.7h-0.7zM65.2 232.7h0.7v0.7h-0.7zM77.5 227.4h0.7v0.7h-0.7z" fill="#dc02e0" opacity="1"/>
<path d="M95.4 234.2h0.6v0.6h-0.6zM95.3 242.4h0.6v0.6h-0.6zM96.3 243.9h0.6v0.6h-0.6zM93.6 240.9h0.6v0.6h-0.6zM97.7 239.4h0.6v0.6h-0.6zM94.9 240.1h0.6v0.6h-0.6zM98.3 239.9h0.6v0.6h-0.6zM93.4 244.8h0.6v0.6h-0.6zM92.5 233.5h0.6v0.6h-0.6zM93.7 240.7h0.6v0.6h-0.6zM93.3 239.3h0.6v0.6h-0.6zM96.5 241.4h0.6v0.6h-0.6zM93.0 246.8h0.6v0.6h-0.6zM96.1 239.8h0.6v0.6h-0.6zM97.0 234.1h0.6v0.6h-0.6zM92.3 238.5h0.6v0.6h-0.6zM97.1 238.4h0.6v0.6h-0.6zM92.6 239.5h0.6v0.6h-0.6zM93.5 231.4h0.6v0.6h-0.6zM94.6 242.2h0.6v0.6h-0.6zM96.4 237.1h0.6v0.6h-0.6zM97.8 238.3h0.6v0.6h-0.6zM94.0 238.2h0.6v0.6h-0.6zM95.3 239.0h0.6v0.6h-0.6zM94.6 242.5h0.6v0.6h-0.6zM98.7 238.0h0.6v0.6h-0.6zM94.5 242.0h0.6v0.6h-0.6zM94.0 236.1h0.6v0.6h-0.6zM97.8 240.1h0.6v0.6h-0.6zM97.8 237.3h0.6v0.6h-0.6zM95.9 237.6h0.6v0.6h-0.6zM94.6 238.3h0.6v0.6h-0.6zM98.4 240.8h0.6v0.6h-0.6zM92.8 238.1h0.6v0.6h-0.6zM94.3 241.2h0.6v0.6h-0.6zM97.9 241.5h0.6v0.6h-0.6zM94.2 243.3h0.6v0.6h-0.6zM94.9 238.2h0.6v0.6h-0.6zM96.1 238.9h0.6v0.6h-0.6zM93.4 239.8h0.6v0.6h-0.6zM95.7 241.8h0.6v0.6h-0.6zM97.2 243.2h0.6v0.6h-0.6zM96.0 243.9h0.6v0.6h-0.6zM92.5 242.8h0.6v0.6h-0.6zM97.7 242.2h0.6v0.6h-0.6zM97.7 238.7h0.6v0.6h-0.6zM96.9 239.7h0.6v0.6h-0.6zM91.8 238.5h0.6v0.6h-0.6zM96.4 241.8h0.6v0.6h-0.6zM96.7 242.3h0.6v0.6h-0.6zM94.2 237.9h0.6v0.6h-0.6zM95.0 238.9h0.6v0.6h-0.6zM94.3 238.8h0.6v0.6h-0.6zM93.1 236.7h0.6v0.6h-0.6zM94.9 242.9h0.6v0.6h-0.6zM94.5 240.4h0.6v0.6h-0.6zM98.9 241.2h0.6v0.6h-0.6zM96.4 244.2h0.6v0.6h-0.6zM92.7 244.3h0.6v0.6h-0.6zM96.1 238.9h0.6v0.6h-0.6z" fill="#3f8a8a" opacity="0.8"/>
<path d="M371.2 124.9h0.6v0.6h-0.6zM338.5 129.6h0.6v0.6h-0.6zM348.0 104.7h0.6v0.6h-0.6zM336.0 134.1h0.6v0.6h-0.6zM339.4 137.0h0.6v0.6h-0.6zM346.7 142.7h0.6v0.6h-0.6zM334.5 137.8h0.6v0.6h-0.6zM350.7 112.9h0.6v0.6h-0.6zM367.4 155.3h0.6v0.6h-0.6zM333.0 106.4h0.6v0.6h-0.6zM338.8 129.4h0.6v0.6h-0.6zM338.8 123.8h0.6v0.6h-0.6zM350.6 175.2h0.6v0.6h-0.6zM354.1 147.7h0.6v0.6h-0.6zM323.9 149.5h0.6v0.6h-0.6zM366.1 122.3h0.6v0.6h-0.6zM323.3 135.4h0.6v0.6h-0.6zM349.1 110.0h0.6v0.6h-0.6zM339.1 142.6h0.6v0.6h-0.6zM341.5 127.9h0.6v0.6h-0.6zM340.9 111.1h0.6v0.6h-0.6zM365.8 151.2h0.6v0.6h-0.6zM357.8 118.5h0.6v0.6h-0.6zM360.0 114.7h0.6v0.6h-0.6zM346.4 119.6h0.6v0.6h-0.6zM333.9 132.1h0.6v0.6h-0.6zM356.8 126.5h0.6v0.6h-0.6zM335.8 131.4h0.6v0.6h-0.6zM319.3 129.8h0.6v0.6h-0.6zM339.6 128.6h0.6v0.6h-0.6zM361.9 154.9h0.6v0.6h-0.6zM331.3 129.6h0.6v0.6h-0.6zM324.7 108.0h0.6v0.6h-0.6zM322.7 154.6h0.6v0.6h-0.6zM323.4 138.6h0.6v0.6h-0.6zM326.5 130.9h0.6v0.6h-0.6zM311.3 156.3h0.6v0.6h-0.6zM360.0 125.1h0.6v0.6h-0.6zM337.7 116.4h0.6v0.6h-0.6zM333.1 146.1h0.6v0.6h-0.6zM331.6 111.1h0.6v0.6h-0.6zM341.6 140.3h0.6v0.6h-0.6zM323.3 126.6h0.6v0.6h-0.6zM316.4 142.5h0.6v0.6h-0.6zM343.9 105.7h0.6v0.6h-0.6zM356.0 112.2h0.6v0.6h-0.6zM342.4 123.2h0.6v0.6h-0.6zM333.7 95.7h0.6v0.6h-0.6zM348.2 141.4h0.6v0.6h-0.6zM347.9 136.5h0.6v0.6h-0.6zM345.7 144.7h0.6v0.6h-0.6zM340.4 116.0h0.6v0.6h-0.6zM350.5 145.4h0.6v0.6h-0.6zM333.1 154.8h0.6v0.6h-0.6zM307.6 128.1h0.6v0.6h-0.6zM335.8 141.9h0.6v0.6h-0.6zM341.9 140.9h0.6v0.6h-0.6zM329.5 109.8h0.6v0.6h-0.6zM344.9 159.0h0.6v0.6h-0.6zM339.1 151.6h0.6v0.6h-0.6zM349.5 118.3h0.6v0.6h-0.6zM361.0 139.2h0.6v0.6h-0.6zM349.2 125.9h0.6v0.6h-0.6zM343.3 124.6h0.6v0.6h-0.6zM297.9 129.2h0.6v0.6h-0.6zM348.5 114.9h0.6v0.6h-0.6zM334.9 136.9h0.6v0.6h-0.6zM348.5 94.2h0.6v0.6h-0.6zM342.1 147.0h0.6v0.6h-0.6zM343.0 128.7h0.6v0.6h-0.6zM329.5 112.1h0.6v0.6h-0.6zM374.4 130.3h0.6v0.6h-0.6zM340.7 126.6h0.6v0.6h-0.6zM363.9 124.6h0.6v0.6h-0.6zM323.5 165.9h0.6v0.6h-0.6zM332.5 155.4h0.6v0.6h-0.6zM331.7 149.8h0.6v0.6h-0.6zM350.7 130.5h0.6v0.6h-0.6zM335.2 126.7h0.6v0.6h-0.6zM332.9 122.8h0.6v0.6h-0.6zM335.6 107.7h0.6v0.6h-0.6zM336.1 108.0h0.6v0.6h-0.6zM353.1 126.8h0.6v0.6h-0.6zM363.6 116.0h0.6v0.6h-0.6zM341.8 155.1h0.6v0.6h-0.6zM334.2 112.9h0.6v0.6h-0.6zM329.3 159.7h0.6v0.6h-0.6zM359.2 152.7h0.6v0.6h-0.6zM329.3 141.2h0.6v0.6h-0.6zM358.6 117.3h0.6v0.6h-0.6z" fill="#d890c8" opacity="0.7"/>
<path d="M331.0 103.0h0.6v0.6h-0.6zM347.9 100.2h0.6v0.6h-0.6zM336.1 131.9h0.6v0.6h-0.6zM313.3 105.1h0.6v0.6h-0.6zM336.1 114.3h0.6v0.6h-0.6zM324.3 99.2h0.6v0.6h-0.6zM347.0 100.4h0.6v0.6h-0.6zM351.4 115.8h0.6v0.6h-0.6zM344.7 129.4h0.6v0.6h-0.6zM342.2 94.0h0.6v0.6h-0.6zM309.8 119.4h0.6v0.6h-0.6zM339.6 116.8h0.6v0.6h-0.6zM338.6 107.7h0.6v0.6h-0.6zM334.0 109.7h0.6v0.6h-0.6zM321.6 109.8h0.6v0.6h-0.6zM353.1 107.8h0.6v0.6h-0.6zM330.7 141.9h0.6v0.6h-0.6zM371.5 108.5h0.6v0.6h-0.6zM349.4 142.3h0.6v0.6h-0.6zM337.3 108.9h0.6v0.6h-0.6zM347.2 124.2h0.6v0.6h-0.6zM339.5 98.1h0.6v0.6h-0.6zM349.0 120.0h0.6v0.6h-0.6zM349.6 133.9h0.6v0.6h-0.6zM325.2 107.1h0.6v0.6h-0.6zM359.8 92.6h0.6v0.6h-0.6zM329.3 117.4h0.6v0.6h-0.6zM351.6 121.5h0.6v0.6h-0.6zM346.3 110.9h0.6v0.6h-0.6zM352.5 123.7h0.6v0.6h-0.6zM348.6 110.2h0.6v0.6h-0.6zM360.9 115.1h0.6v0.6h-0.6zM340.9 111.2h0.6v0.6h-0.6zM336.2 107.8h0.6v0.6h-0.6zM332.8 103.5h0.6v0.6h-0.6zM328.2 107.7h0.6v0.6h-0.6zM319.2 111.1h0.6v0.6h-0.6zM318.5 112.1h0.6v0.6h-0.6zM342.7 112.7h0.6v0.6h-0.6zM359.6 115.1h0.6v0.6h-0.6zM341.2 110.3h0.6v0.6h-0.6zM350.0 105.2h0.6v0.6h-0.6zM352.3 128.5h0.6v0.6h-0.6zM323.0 103.7h0.6v0.6h-0.6zM364.5 124.3h0.6v0.6h-0.6zM326.7 109.5h0.6v0.6h-0.6zM330.6 127.4h0.6v0.6h-0.6zM321.5 120.1h0.6v0.6h-0.6zM344.3 108.8h0.6v0.6h-0.6zM323.5 141.6h0.6v0.6h-0.6z" fill="#c89060" opacity="0.6"/>
<path d="M329.5 106.6h0.8v0.8h-0.8zM328.4 107.0h0.8v0.8h-0.8zM334.4 102.4h0.8v0.8h-0.8zM328.7 107.0h0.8v0.8h-0.8zM336.3 101.0h0.8v0.8h-0.8zM329.7 106.6h0.8v0.8h-0.8zM336.2 99.8h0.8v0.8h-0.8zM359.2 102.8h0.8v0.8h-0.8zM335.1 101.6h0.8v0.8h-0.8zM331.2 103.5h0.8v0.8h-0.8zM350.9 105.3h0.8v0.8h-0.8zM336.6 100.1h0.8v0.8h-0.8zM329.3 104.8h0.8v0.8h-0.8zM359.7 105.4h0.8v0.8h-0.8zM350.6 104.3h0.8v0.8h-0.8zM337.5 101.1h0.8v0.8h-0.8zM349.1 101.7h0.8v0.8h-0.8zM345.6 101.4h0.8v0.8h-0.8zM329.2 104.2h0.8v0.8h-0.8zM328.8 104.2h0.8v0.8h-0.8zM347.7 104.6h0.8v0.8h-0.8zM351.2 106.1h0.8v0.8h-0.8zM344.2 103.1h0.8v0.8h-0.8zM334.4 104.6h0.8v0.8h-0.8zM327.6 106.1h0.8v0.8h-0.8zM328.7 106.0h0.8v0.8h-0.8zM357.6 104.6h0.8v0.8h-0.8zM329.7 107.0h0.8v0.8h-0.8zM347.2 102.6h0.8v0.8h-0.8zM351.5 104.6h0.8v0.8h-0.8zM333.8 104.6h0.8v0.8h-0.8zM326.5 109.1h0.8v0.8h-0.8zM350.5 106.4h0.8v0.8h-0.8zM331.5 104.8h0.8v0.8h-0.8zM331.0 104.5h0.8v0.8h-0.8zM328.0 108.4h0.8v0.8h-0.8zM352.7 108.4h0.8v0.8h-0.8zM342.0 102.3h0.8v0.8h-0.8zM343.2 100.6h0.8v0.8h-0.8zM337.8 101.6h0.8v0.8h-0.8zM329.9 104.8h0.8v0.8h-0.8zM331.8 105.9h0.8v0.8h-0.8zM343.1 100.3h0.8v0.8h-0.8zM339.5 100.4h0.8v0.8h-0.8zM345.3 100.5h0.8v0.8h-0.8zM341.0 100.9h0.8v0.8h-0.8zM336.8 102.6h0.8v0.8h-0.8zM353.5 107.2h0.8v0.8h-0.8zM354.7 108.5h0.8v0.8h-0.8zM343.3 101.4h0.8v0.8h-0.8zM355.1 108.2h0.8v0.8h-0.8zM347.7 102.6h0.8v0.8h-0.8zM349.9 101.5h0.8v0.8h-0.8zM329.8 105.8h0.8v0.8h-0.8zM329.5 106.0h0.8v0.8h-0.8zM346.9 101.5h0.8v0.8h-0.8zM353.4 107.1h0.8v0.8h-0.8zM334.2 100.6h0.8v0.8h-0.8zM357.3 106.2h0.8v0.8h-0.8zM340.4 101.1h0.8v0.8h-0.8zM333.3 103.1h0.8v0.8h-0.8zM343.1 101.8h0.8v0.8h-0.8zM328.8 107.2h0.8v0.8h-0.8zM331.1 104.7h0.8v0.8h-0.8zM346.6 104.8h0.8v0.8h-0.8zM356.3 104.1h0.8v0.8h-0.8zM331.7 104.4h0.8v0.8h-0.8zM357.2 103.6h0.8v0.8h-0.8zM333.4 103.0h0.8v0.8h-0.8zM353.4 108.5h0.8v0.8h-0.8zM355.8 108.9h0.8v0.8h-0.8zM333.8 101.9h0.8v0.8h-0.8zM345.1 102.1h0.8v0.8h-0.8zM351.3 104.4h0.8v0.8h-0.8zM355.8 109.9h0.8v0.8h-0.8zM336.7 100.8h0.8v0.8h-0.8zM331.0 105.3h0.8v0.8h-0.8zM351.2 104.6h0.8v0.8h-0.8zM354.5 106.7h0.8v0.8h-0.8zM355.4 109.7h0.8v0.8h-0.8zM354.9 108.3h0.8v0.8h-0.8zM343.6 102.7h0.8v0.8h-0.8zM337.4 99.8h0.8v0.8h-0.8zM334.5 102.3h0.8v0.8h-0.8zM341.0 98.7h0.8v0.8h-0.8zM355.7 105.4h0.8v0.8h-0.8zM354.7 108.5h0.8v0.8h-0.8zM339.4 100.6h0.8v0.8h-0.8zM340.9 100.9h0.8v0.8h-0.8zM357.7 107.8h0.8v0.8h-0.8zM355.3 107.9h0.8v0.8h-0.8zM356.6 104.6h0.8v0.8h-0.8zM347.4 103.4h0.8v0.8h-0.8zM343.1 102.0h0.8v0.8h-0.8zM353.6 108.4h0.8v0.8h-0.8zM339.8 100.7h0.8v0.8h-0.8zM348.5 102.5h0.8v0.8h-0.8zM333.0 102.2h0.8v0.8h-0.8zM330.6 104.3h0.8v0.8h-0.8zM336.8 102.3h0.8v0.8h-0.8zM354.7 105.9h0.8v0.8h-0.8zM332.5 104.7h0.8v0.8h-0.8zM341.5 100.6h0.8v0.8h-0.8zM326.7 106.0h0.8v0.8h-0.8zM339.6 99.8h0.8v0.8h-0.8zM356.5 106.8h0.8v0.8h-0.8zM346.8 102.4h0.8v0.8h-0.8zM355.5 109.4h0.8v0.8h-0.8zM354.2 105.7h0.8v0.8h-0.8zM335.0 100.0h0.8v0.8h-0.8zM343.4 101.5h0.8v0.8h-0.8zM337.9 100.7h0.8v0.8h-0.8zM352.6 106.8h0.8v0.8h-0.8zM339.4 102.1h0.8v0.8h-0.8zM345.7 100.8h0.8v0.8h-0.8zM359.0 106.6h0.8v0.8h-0.8zM336.6 103.9h0.8v0.8h-0.8zM354.4 107.7h0.8v0.8h-0.8zM356.2 107.0h0.8v0.8h-0.8zM359.3 105.9h0.8v0.8h-0.8zM329.9 105.5h0.8v0.8h-0.8zM332.1 105.2h0.8v0.8h-0.8zM329.7 106.5h0.8v0.8h-0.8zM359.4 105.7h0.8v0.8h-0.8zM342.9 100.2h0.8v0.8h-0.8zM359.5 103.5h0.8v0.8h-0.8zM328.4 107.4h0.8v0.8h-0.8zM342.2 99.9h0.8v0.8h-0.8zM336.2 100.8h0.8v0.8h-0.8zM354.2 107.6h0.8v0.8h-0.8zM343.4 100.9h0.8v0.8h-0.8zM356.4 108.4h0.8v0.8h-0.8zM355.2 110.2h0.8v0.8h-0.8zM348.6 103.4h0.8v0.8h-0.8zM354.6 105.5h0.8v0.8h-0.8zM357.2 108.0h0.8v0.8h-0.8zM332.8 103.9h0.8v0.8h-0.8zM342.6 101.5h0.8v0.8h-0.8zM354.1 110.5h0.8v0.8h-0.8zM345.5 101.7h0.8v0.8h-0.8zM350.5 106.2h0.8v0.8h-0.8zM332.6 101.9h0.8v0.8h-0.8zM341.0 101.5h0.8v0.8h-0.8zM333.1 98.5h0.8v0.8h-0.8zM342.7 99.1h0.8v0.8h-0.8zM349.7 103.1h0.8v0.8h-0.8zM329.0 108.9h0.8v0.8h-0.8zM356.3 108.7h0.8v0.8h-0.8zM343.6 100.6h0.8v0.8h-0.8zM360.9 107.6h0.8v0.8h-0.8zM351.5 105.4h0.8v0.8h-0.8zM341.6 100.7h0.8v0.8h-0.8zM325.5 110.2h0.8v0.8h-0.8zM331.3 103.9h0.8v0.8h-0.8zM354.0 107.9h0.8v0.8h-0.8zM349.8 103.6h0.8v0.8h-0.8zM358.2 103.1h0.8v0.8h-0.8zM340.1 100.0h0.8v0.8h-0.8zM355.5 107.2h0.8v0.8h-0.8zM326.1 112.1h0.8v0.8h-0.8zM326.7 106.6h0.8v0.8h-0.8zM344.4 102.2h0.8v0.8h-0.8zM345.9 102.8h0.8v0.8h-0.8zM353.4 108.3h0.8v0.8h-0.8zM356.0 107.4h0.8v0.8h-0.8zM334.9 102.4h0.8v0.8h-0.8zM339.8 99.7h0.8v0.8h-0.8zM359.3 106.2h0.8v0.8h-0.8zM352.1 103.9h0.8v0.8h-0.8zM339.2 100.8h0.8v0.8h-0.8zM355.0 106.5h0.8v0.8h-0.8zM329.7 107.3h0.8v0.8h-0.8zM359.9 105.0h0.8v0.8h-0.8zM337.6 101.8h0.8v0.8h-0.8zM354.7 107.7h0.8v0.8h-0.8zM353.1 107.3h0.8v0.8h-0.8zM331.6 104.2h0.8v0.8h-0.8zM335.5 102.1h0.8v0.8h-0.8zM346.8 104.5h0.8v0.8h-0.8zM327.3 107.7h0.8v0.8h-0.8zM340.2 99.5h0.8v0.8h-0.8zM356.5 105.8h0.8v0.8h-0.8zM334.1 103.4h0.8v0.8h-0.8zM332.5 102.5h0.8v0.8h-0.8zM357.6 104.8h0.8v0.8h-0.8zM336.7 100.1h0.8v0.8h-0.8zM352.9 106.5h0.8v0.8h-0.8zM332.1 104.5h0.8v0.8h-0.8zM349.0 103.8h0.8v0.8h-0.8zM341.1 99.2h0.8v0.8h-0.8zM350.4 105.0h0.8v0.8h-0.8zM355.6 106.7h0.8v0.8h-0.8zM339.1 100.1h0.8v0.8h-0.8zM331.3 103.5h0.8v0.8h-0.8zM346.5 102.3h0.8v0.8h-0.8zM359.0 108.5h0.8v0.8h-0.8zM357.5 104.2h0.8v0.8h-0.8zM340.7 101.8h0.8v0.8h-0.8zM342.8 101.6h0.8v0.8h-0.8zM340.7 102.1h0.8v0.8h-0.8zM359.8 106.1h0.8v0.8h-0.8zM346.2 103.6h0.8v0.8h-0.8zM356.9 104.7h0.8v0.8h-0.8zM328.6 105.5h0.8v0.8h-0.8zM326.6 107.4h0.8v0.8h-0.8zM351.2 106.3h0.8v0.8h-0.8zM359.1 105.7h0.8v0.8h-0.8zM352.1 105.0h0.8v0.8h-0.8zM359.4 105.7h0.8v0.8h-0.8zM330.3 104.4h0.8v0.8h-0.8zM332.7 105.4h0.8v0.8h-0.8zM335.1 100.6h0.8v0.8h-0.8zM337.6 99.8h0.8v0.8h-0.8zM334.1 100.8h0.8v0.8h-0.8zM352.6 105.9h0.8v0.8h-0.8zM352.1 106.3h0.8v0.8h-0.8zM341.5 99.7h0.8v0.8h-0.8zM332.8 102.7h0.8v0.8h-0.8zM335.7 103.0h0.8v0.8h-0.8zM330.3 104.6h0.8v0.8h-0.8zM334.5 103.1h0.8v0.8h-0.8zM344.7 101.3h0.8v0.8h-0.8zM344.6 101.9h0.8v0.8h-0.8zM339.1 100.0h0.8v0.8h-0.8zM352.2 104.5h0.8v0.8h-0.8zM344.8 100.1h0.8v0.8h-0.8zM331.7 106.2h0.8v0.8h-0.8zM330.3 105.2h0.8v0.8h-0.8zM358.3 107.1h0.8v0.8h-0.8zM356.6 107.1h0.8v0.8h-0.8zM336.6 101.2h0.8v0.8h-0.8zM348.0 102.6h0.8v0.8h-0.8zM348.0 102.4h0.8v0.8h-0.8zM350.6 104.7h0.8v0.8h-0.8zM330.7 103.1h0.8v0.8h-0.8zM342.6 99.7h0.8v0.8h-0.8zM353.8 107.0h0.8v0.8h-0.8zM338.0 101.8h0.8v0.8h-0.8zM350.6 103.6h0.8v0.8h-0.8zM329.3 108.2h0.8v0.8h-0.8zM336.4 101.5h0.8v0.8h-0.8zM337.7 100.6h0.8v0.8h-0.8zM348.3 102.9h0.8v0.8h-0.8zM338.2 100.9h0.8v0.8h-0.8zM360.0 102.3h0.8v0.8h-0.8zM349.8 103.5h0.8v0.8h-0.8zM343.0 100.3h0.8v0.8h-0.8zM335.2 102.5h0.8v0.8h-0.8zM341.3 97.3h0.8v0.8h-0.8zM337.0 101.0h0.8v0.8h-0.8zM350.4 104.3h0.8v0.8h-0.8zM337.4 99.3h0.8v0.8h-0.8zM328.8 106.8h0.8v0.8h-0.8zM339.4 101.7h0.8v0.8h-0.8zM356.7 105.0h0.8v0.8h-0.8zM350.7 104.4h0.8v0.8h-0.8zM354.6 109.0h0.8v0.8h-0.8zM355.6 109.8h0.8v0.8h-0.8zM342.2 100.4h0.8v0.8h-0.8zM328.6 106.8h0.8v0.8h-0.8zM339.0 101.0h0.8v0.8h-0.8zM345.0 102.2h0.8v0.8h-0.8zM355.5 107.9h0.8v0.8h-0.8zM340.3 100.8h0.8v0.8h-0.8zM332.1 104.6h0.8v0.8h-0.8zM349.2 103.6h0.8v0.8h-0.8zM331.4 105.2h0.8v0.8h-0.8zM327.5 108.2h0.8v0.8h-0.8zM327.5 106.5h0.8v0.8h-0.8zM354.9 107.5h0.8v0.8h-0.8zM329.4 104.7h0.8v0.8h-0.8zM328.2 105.8h0.8v0.8h-0.8zM332.6 102.6h0.8v0.8h-0.8zM357.2 106.2h0.8v0.8h-0.8zM345.1 100.5h0.8v0.8h-0.8zM355.0 107.8h0.8v0.8h-0.8zM329.4 105.9h0.8v0.8h-0.8zM331.9 103.2h0.8v0.8h-0.8zM345.6 102.4h0.8v0.8h-0.8zM345.7 99.7h0.8v0.8h-0.8zM347.7 100.3h0.8v0.8h-0.8zM349.6 105.1h0.8v0.8h-0.8zM332.9 103.0h0.8v0.8h-0.8zM359.8 105.5h0.8v0.8h-0.8zM359.3 105.5h0.8v0.8h-0.8zM341.6 100.3h0.8v0.8h-0.8zM338.9 99.6h0.8v0.8h-0.8zM336.0 101.6h0.8v0.8h-0.8zM332.8 104.8h0.8v0.8h-0.8zM346.9 104.5h0.8v0.8h-0.8zM326.6 110.7h0.8v0.8h-0.8zM335.9 102.3h0.8v0.8h-0.8zM330.7 105.3h0.8v0.8h-0.8zM356.0 107.7h0.8v0.8h-0.8zM358.4 105.3h0.8v0.8h-0.8zM342.8 101.7h0.8v0.8h-0.8zM334.2 102.0h0.8v0.8h-0.8zM337.2 100.8h0.8v0.8h-0.8zM348.7 103.2h0.8v0.8h-0.8zM330.5 102.5h0.8v0.8h-0.8zM344.2 100.2h0.8v0.8h-0.8zM337.5 101.0h0.8v0.8h-0.8zM349.5 104.0h0.8v0.8h-0.8zM344.2 99.8h0.8v0.8h-0.8zM352.4 106.5h0.8v0.8h-0.8zM332.6 102.9h0.8v0.8h-0.8zM350.0 104.0h0.8v0.8h-0.8zM340.6 97.7h0.8v0.8h-0.8zM325.4 110.1h0.8v0.8h-0.8zM345.7 101.3h0.8v0.8h-0.8zM340.7 99.9h0.8v0.8h-0.8zM344.5 99.9h0.8v0.8h-0.8zM340.1 100.5h0.8v0.8h-0.8zM341.1 101.7h0.8v0.8h-0.8zM360.2 106.4h0.8v0.8h-0.8zM332.5 101.4h0.8v0.8h-0.8zM356.3 102.9h0.8v0.8h-0.8zM344.2 102.0h0.8v0.8h-0.8zM350.3 104.9h0.8v0.8h-0.8zM358.1 104.6h0.8v0.8h-0.8zM327.5 107.3h0.8v0.8h-0.8zM339.2 101.5h0.8v0.8h-0.8zM355.7 107.8h0.8v0.8h-0.8zM349.8 101.3h0.8v0.8h-0.8zM355.9 105.4h0.8v0.8h-0.8zM333.7 105.9h0.8v0.8h-0.8zM354.9 108.4h0.8v0.8h-0.8zM355.9 105.7h0.8v0.8h-0.8zM342.7 101.1h0.8v0.8h-0.8zM349.5 104.7h0.8v0.8h-0.8zM329.1 105.5h0.8v0.8h-0.8zM337.5 101.2h0.8v0.8h-0.8zM329.0 105.3h0.8v0.8h-0.8zM353.4 106.4h0.8v0.8h-0.8zM330.6 103.4h0.8v0.8h-0.8zM346.7 101.6h0.8v0.8h-0.8zM333.7 104.2h0.8v0.8h-0.8zM346.0 101.0h0.8v0.8h-0.8zM349.0 104.8h0.8v0.8h-0.8zM347.0 102.3h0.8v0.8h-0.8zM354.9 108.9h0.8v0.8h-0.8zM355.7 110.5h0.8v0.8h-0.8zM332.8 101.0h0.8v0.8h-0.8zM332.4 104.2h0.8v0.8h-0.8zM348.2 103.4h0.8v0.8h-0.8zM351.9 106.1h0.8v0.8h-0.8zM353.0 107.2h0.8v0.8h-0.8zM351.5 106.6h0.8v0.8h-0.8zM359.2 106.6h0.8v0.8h-0.8zM344.4 100.6h0.8v0.8h-0.8zM351.2 106.0h0.8v0.8h-0.8zM344.5 99.6h0.8v0.8h-0.8zM346.9 102.2h0.8v0.8h-0.8zM327.6 104.6h0.8v0.8h-0.8zM338.4 101.5h0.8v0.8h-0.8zM353.8 107.1h0.8v0.8h-0.8zM328.8 107.9h0.8v0.8h-0.8zM331.1 104.9h0.8v0.8h-0.8zM340.3 100.6h0.8v0.8h-0.8zM330.5 106.0h0.8v0.8h-0.8zM332.9 101.0h0.8v0.8h-0.8zM327.5 108.3h0.8v0.8h-0.8zM327.0 108.0h0.8v0.8h-0.8zM353.7 105.4h0.8v0.8h-0.8zM333.7 103.5h0.8v0.8h-0.8zM333.2 102.5h0.8v0.8h-0.8zM351.5 106.4h0.8v0.8h-0.8zM349.2 103.6h0.8v0.8h-0.8zM325.8 108.7h0.8v0.8h-0.8zM342.3 99.2h0.8v0.8h-0.8zM360.8 105.3h0.8v0.8h-0.8zM351.1 104.8h0.8v0.8h-0.8zM352.3 104.6h0.8v0.8h-0.8zM342.5 100.9h0.8v0.8h-0.8zM342.5 100.2h0.8v0.8h-0.8zM332.4 102.5h0.8v0.8h-0.8zM344.6 100.1h0.8v0.8h-0.8zM329.0 105.6h0.8v0.8h-0.8zM356.5 104.3h0.8v0.8h-0.8zM337.8 101.2h0.8v0.8h-0.8zM346.8 102.4h0.8v0.8h-0.8zM327.7 105.3h0.8v0.8h-0.8zM341.7 98.4h0.8v0.8h-0.8zM342.4 101.3h0.8v0.8h-0.8zM358.7 105.5h0.8v0.8h-0.8zM358.0 104.8h0.8v0.8h-0.8zM355.9 106.2h0.8v0.8h-0.8zM337.7 100.1h0.8v0.8h-0.8zM336.0 100.8h0.8v0.8h-0.8zM353.7 109.1h0.8v0.8h-0.8zM326.6 108.4h0.8v0.8h-0.8zM351.0 105.4h0.8v0.8h-0.8zM353.8 105.4h0.8v0.8h-0.8zM347.4 103.5h0.8v0.8h-0.8zM350.0 103.4h0.8v0.8h-0.8zM351.0 104.1h0.8v0.8h-0.8zM338.4 99.6h0.8v0.8h-0.8zM334.0 100.0h0.8v0.8h-0.8zM354.3 107.0h0.8v0.8h-0.8zM331.2 105.3h0.8v0.8h-0.8z" fill="#766e3c"/>
<polygon points="325.7,116.0 326.2,110.0 328.2,106.2 331.7,103.5 336.0,102.0 342.0,101.6 348.0,102.2 353.0,103.7 357.0,105.2 359.5,107.0 360.0,109.5 356.0,110.5 349.0,111.5 342.0,113.5 336.0,117.2 331.0,121.0 327.0,124.0 325.8,121.0" fill="#8a7a40" opacity="0.35" filter="url(#b2)"/>
<polygon points="325.7,116.0 326.2,110.0 328.2,106.2 331.7,103.5 336.0,102.0 342.0,101.6 348.0,102.2 353.0,103.7 357.0,105.2 359.5,107.0 360.0,109.5 356.0,110.5 349.0,111.5 342.0,113.5 336.0,117.2 331.0,121.0 327.0,124.0 325.8,121.0" fill="#fb8a12" opacity="1" filter="url(#b08)"/>
<path d="M346.3 110.1h0.7v0.7h-0.7zM340.5 107.7h0.7v0.7h-0.7zM338.5 106.6h0.7v0.7h-0.7zM330.7 106.9h0.7v0.7h-0.7zM328.1 117.5h0.7v0.7h-0.7zM350.4 110.6h0.7v0.7h-0.7zM336.9 112.7h0.7v0.7h-0.7zM337.0 111.4h0.7v0.7h-0.7zM324.4 115.1h0.7v0.7h-0.7zM336.0 113.5h0.7v0.7h-0.7zM340.1 105.6h0.7v0.7h-0.7zM346.5 106.2h0.7v0.7h-0.7zM331.4 115.2h0.7v0.7h-0.7zM342.0 109.9h0.7v0.7h-0.7zM336.5 115.8h0.7v0.7h-0.7zM331.2 121.7h0.7v0.7h-0.7zM336.4 107.7h0.7v0.7h-0.7zM348.3 105.2h0.7v0.7h-0.7zM335.7 112.2h0.7v0.7h-0.7zM342.6 101.9h0.7v0.7h-0.7zM353.5 104.0h0.7v0.7h-0.7zM344.2 113.7h0.7v0.7h-0.7zM342.3 109.8h0.7v0.7h-0.7zM334.7 112.9h0.7v0.7h-0.7zM350.4 106.8h0.7v0.7h-0.7zM343.4 107.2h0.7v0.7h-0.7zM344.1 103.0h0.7v0.7h-0.7zM341.5 104.7h0.7v0.7h-0.7zM348.8 107.8h0.7v0.7h-0.7zM335.0 109.3h0.7v0.7h-0.7zM348.4 105.7h0.7v0.7h-0.7zM341.7 111.5h0.7v0.7h-0.7zM342.4 108.1h0.7v0.7h-0.7zM329.7 120.4h0.7v0.7h-0.7zM340.9 102.2h0.7v0.7h-0.7zM331.9 114.0h0.7v0.7h-0.7zM341.2 102.6h0.7v0.7h-0.7zM335.5 109.2h0.7v0.7h-0.7zM326.6 120.2h0.7v0.7h-0.7zM353.3 107.1h0.7v0.7h-0.7zM329.9 106.1h0.7v0.7h-0.7zM341.4 108.4h0.7v0.7h-0.7zM337.7 109.7h0.7v0.7h-0.7zM345.1 102.3h0.7v0.7h-0.7zM334.3 117.0h0.7v0.7h-0.7zM345.5 104.2h0.7v0.7h-0.7zM329.2 115.3h0.7v0.7h-0.7zM340.0 103.3h0.7v0.7h-0.7zM343.5 109.8h0.7v0.7h-0.7zM328.7 113.8h0.7v0.7h-0.7zM332.0 113.4h0.7v0.7h-0.7zM334.4 115.8h0.7v0.7h-0.7zM344.3 106.4h0.7v0.7h-0.7zM330.1 108.7h0.7v0.7h-0.7zM335.3 116.4h0.7v0.7h-0.7zM343.2 112.3h0.7v0.7h-0.7zM328.1 113.6h0.7v0.7h-0.7zM339.0 108.9h0.7v0.7h-0.7zM336.7 103.3h0.7v0.7h-0.7zM345.5 111.9h0.7v0.7h-0.7zM336.5 110.6h0.7v0.7h-0.7zM356.4 109.1h0.7v0.7h-0.7zM333.9 112.8h0.7v0.7h-0.7zM340.9 110.1h0.7v0.7h-0.7zM337.2 114.7h0.7v0.7h-0.7zM351.2 111.2h0.7v0.7h-0.7zM357.1 108.9h0.7v0.7h-0.7zM343.3 109.4h0.7v0.7h-0.7zM334.6 118.6h0.7v0.7h-0.7zM344.4 105.3h0.7v0.7h-0.7zM330.1 106.8h0.7v0.7h-0.7zM353.5 107.0h0.7v0.7h-0.7zM333.0 109.2h0.7v0.7h-0.7zM331.0 108.8h0.7v0.7h-0.7zM330.0 110.6h0.7v0.7h-0.7zM353.3 105.4h0.7v0.7h-0.7zM330.0 105.9h0.7v0.7h-0.7zM343.7 112.2h0.7v0.7h-0.7zM332.8 107.8h0.7v0.7h-0.7zM327.7 118.2h0.7v0.7h-0.7zM351.9 110.5h0.7v0.7h-0.7zM333.4 106.9h0.7v0.7h-0.7zM340.4 105.3h0.7v0.7h-0.7zM348.0 108.7h0.7v0.7h-0.7zM353.7 107.4h0.7v0.7h-0.7zM326.7 117.3h0.7v0.7h-0.7zM335.3 113.4h0.7v0.7h-0.7zM330.1 121.3h0.7v0.7h-0.7zM329.3 104.6h0.7v0.7h-0.7zM337.4 111.9h0.7v0.7h-0.7zM344.4 111.4h0.7v0.7h-0.7zM345.0 113.2h0.7v0.7h-0.7zM348.7 104.0h0.7v0.7h-0.7zM330.2 117.5h0.7v0.7h-0.7zM356.1 108.5h0.7v0.7h-0.7zM326.8 122.2h0.7v0.7h-0.7zM355.6 106.7h0.7v0.7h-0.7zM333.4 116.6h0.7v0.7h-0.7zM327.4 124.4h0.7v0.7h-0.7zM346.9 104.4h0.7v0.7h-0.7zM332.7 116.3h0.7v0.7h-0.7zM336.5 108.4h0.7v0.7h-0.7zM343.4 103.7h0.7v0.7h-0.7zM358.1 109.1h0.7v0.7h-0.7zM355.0 106.3h0.7v0.7h-0.7zM337.6 112.9h0.7v0.7h-0.7zM345.3 111.3h0.7v0.7h-0.7zM349.2 106.9h0.7v0.7h-0.7zM340.3 111.8h0.7v0.7h-0.7zM342.1 103.5h0.7v0.7h-0.7zM333.1 116.5h0.7v0.7h-0.7zM332.6 106.4h0.7v0.7h-0.7zM352.2 110.8h0.7v0.7h-0.7zM349.8 109.7h0.7v0.7h-0.7zM334.6 113.8h0.7v0.7h-0.7zM336.0 114.9h0.7v0.7h-0.7zM340.4 106.5h0.7v0.7h-0.7zM335.6 117.4h0.7v0.7h-0.7zM327.7 119.6h0.7v0.7h-0.7zM339.0 110.2h0.7v0.7h-0.7zM336.5 104.7h0.7v0.7h-0.7zM328.0 106.9h0.7v0.7h-0.7zM346.7 109.6h0.7v0.7h-0.7zM339.0 105.3h0.7v0.7h-0.7zM336.7 106.4h0.7v0.7h-0.7zM349.0 111.4h0.7v0.7h-0.7zM335.2 109.4h0.7v0.7h-0.7zM345.9 111.2h0.7v0.7h-0.7zM335.4 102.2h0.7v0.7h-0.7zM359.0 106.0h0.7v0.7h-0.7zM327.7 111.8h0.7v0.7h-0.7zM347.2 106.2h0.7v0.7h-0.7zM352.4 109.5h0.7v0.7h-0.7zM348.1 107.5h0.7v0.7h-0.7zM338.3 103.6h0.7v0.7h-0.7zM332.8 108.0h0.7v0.7h-0.7zM347.6 107.8h0.7v0.7h-0.7zM335.6 117.2h0.7v0.7h-0.7zM340.4 113.6h0.7v0.7h-0.7zM329.3 108.3h0.7v0.7h-0.7zM333.5 114.1h0.7v0.7h-0.7zM325.9 109.9h0.7v0.7h-0.7zM329.6 110.8h0.7v0.7h-0.7zM352.7 108.0h0.7v0.7h-0.7zM331.8 111.9h0.7v0.7h-0.7zM340.8 110.3h0.7v0.7h-0.7zM339.9 104.7h0.7v0.7h-0.7zM332.6 116.5h0.7v0.7h-0.7zM339.9 103.8h0.7v0.7h-0.7zM351.3 104.7h0.7v0.7h-0.7zM343.4 105.8h0.7v0.7h-0.7zM328.5 119.2h0.7v0.7h-0.7zM345.5 106.0h0.7v0.7h-0.7zM348.7 104.7h0.7v0.7h-0.7zM332.7 106.0h0.7v0.7h-0.7zM346.9 107.1h0.7v0.7h-0.7zM328.4 119.7h0.7v0.7h-0.7zM352.7 109.8h0.7v0.7h-0.7zM354.3 107.7h0.7v0.7h-0.7zM347.2 110.9h0.7v0.7h-0.7zM326.6 111.7h0.7v0.7h-0.7zM342.8 109.0h0.7v0.7h-0.7zM352.5 105.2h0.7v0.7h-0.7zM346.4 102.3h0.7v0.7h-0.7zM331.4 112.6h0.7v0.7h-0.7zM329.3 110.2h0.7v0.7h-0.7zM348.6 107.8h0.7v0.7h-0.7zM350.9 107.1h0.7v0.7h-0.7zM332.2 103.1h0.7v0.7h-0.7zM355.3 106.5h0.7v0.7h-0.7zM346.9 107.1h0.7v0.7h-0.7zM330.0 120.5h0.7v0.7h-0.7zM333.0 117.8h0.7v0.7h-0.7zM351.5 105.0h0.7v0.7h-0.7zM344.6 106.9h0.7v0.7h-0.7zM329.5 119.5h0.7v0.7h-0.7zM332.5 114.2h0.7v0.7h-0.7zM348.7 105.6h0.7v0.7h-0.7zM357.2 110.4h0.7v0.7h-0.7zM357.8 109.8h0.7v0.7h-0.7zM351.3 106.3h0.7v0.7h-0.7zM347.5 104.1h0.7v0.7h-0.7zM343.6 109.1h0.7v0.7h-0.7zM334.9 102.2h0.7v0.7h-0.7zM328.0 119.3h0.7v0.7h-0.7zM331.4 118.6h0.7v0.7h-0.7zM348.4 104.1h0.7v0.7h-0.7zM338.7 103.2h0.7v0.7h-0.7zM341.4 114.0h0.7v0.7h-0.7zM332.9 111.4h0.7v0.7h-0.7zM336.6 113.7h0.7v0.7h-0.7zM330.3 112.3h0.7v0.7h-0.7zM342.8 112.9h0.7v0.7h-0.7zM348.1 104.1h0.7v0.7h-0.7zM333.3 109.0h0.7v0.7h-0.7zM334.9 116.4h0.7v0.7h-0.7zM347.6 109.7h0.7v0.7h-0.7zM349.3 107.9h0.7v0.7h-0.7zM345.4 109.0h0.7v0.7h-0.7zM332.6 104.7h0.7v0.7h-0.7zM335.1 114.2h0.7v0.7h-0.7zM342.3 109.0h0.7v0.7h-0.7zM341.0 112.1h0.7v0.7h-0.7zM347.2 110.7h0.7v0.7h-0.7zM332.3 104.9h0.7v0.7h-0.7zM339.5 111.3h0.7v0.7h-0.7zM328.5 109.8h0.7v0.7h-0.7zM342.1 109.2h0.7v0.7h-0.7zM351.9 104.2h0.7v0.7h-0.7zM331.4 120.1h0.7v0.7h-0.7zM356.1 107.4h0.7v0.7h-0.7zM341.6 106.0h0.7v0.7h-0.7zM329.2 118.6h0.7v0.7h-0.7zM345.4 112.6h0.7v0.7h-0.7zM331.1 116.4h0.7v0.7h-0.7zM341.2 112.9h0.7v0.7h-0.7zM333.8 116.0h0.7v0.7h-0.7zM332.0 113.3h0.7v0.7h-0.7zM339.9 111.0h0.7v0.7h-0.7zM354.7 111.6h0.7v0.7h-0.7zM342.9 103.1h0.7v0.7h-0.7zM343.1 102.1h0.7v0.7h-0.7zM327.0 115.5h0.7v0.7h-0.7zM340.6 110.5h0.7v0.7h-0.7zM359.9 108.8h0.7v0.7h-0.7zM328.8 122.9h0.7v0.7h-0.7zM344.5 104.5h0.7v0.7h-0.7zM332.6 112.4h0.7v0.7h-0.7zM353.2 105.2h0.7v0.7h-0.7zM357.4 110.7h0.7v0.7h-0.7zM338.1 107.5h0.7v0.7h-0.7zM331.0 108.2h0.7v0.7h-0.7zM344.5 105.2h0.7v0.7h-0.7zM340.1 102.8h0.7v0.7h-0.7zM332.1 111.3h0.7v0.7h-0.7zM328.0 120.8h0.7v0.7h-0.7zM337.5 107.4h0.7v0.7h-0.7zM340.4 104.3h0.7v0.7h-0.7zM328.6 115.8h0.7v0.7h-0.7zM330.7 119.7h0.7v0.7h-0.7zM329.8 115.3h0.7v0.7h-0.7zM327.6 122.7h0.7v0.7h-0.7zM339.8 112.5h0.7v0.7h-0.7zM326.0 107.8h0.7v0.7h-0.7zM326.8 114.8h0.7v0.7h-0.7zM327.2 115.7h0.7v0.7h-0.7zM338.7 102.5h0.7v0.7h-0.7zM348.0 111.0h0.7v0.7h-0.7zM351.6 105.8h0.7v0.7h-0.7zM341.2 106.7h0.7v0.7h-0.7z" fill="#fb8a12" opacity="1"/>
<polygon points="327.0,124.5 331.0,121.0 336.0,117.0 342.0,113.0 344.5,112.0 344.0,120.0 343.0,130.0 341.0,140.0 338.5,148.0 336.5,153.0 333.5,155.0 331.0,152.0 329.0,145.0 327.5,135.0" fill="#dc02e0" opacity="0.3" filter="url(#b2)"/>
<polygon points="327.0,124.5 331.0,121.0 336.0,117.0 342.0,113.0 344.5,112.0 344.0,120.0 343.0,130.0 342.0,136.0 328.0,136.0 327.5,135.0" fill="#dc02e0" opacity="1" filter="url(#b08)"/>
<polygon points="342.2,135.0 341.0,140.0 338.5,148.0 336.5,153.0 333.5,155.0 331.0,152.0 329.0,145.0 327.8,135.0" fill="#dc02e0" opacity="0.72" filter="url(#b08)"/>
<path d="M336.5 133.7h0.7v0.7h-0.7zM339.0 118.0h0.7v0.7h-0.7zM331.2 124.4h0.7v0.7h-0.7zM339.4 115.1h0.7v0.7h-0.7zM340.0 117.5h0.7v0.7h-0.7zM338.7 118.7h0.7v0.7h-0.7zM338.8 117.8h0.7v0.7h-0.7zM343.1 131.8h0.7v0.7h-0.7zM340.5 118.8h0.7v0.7h-0.7zM343.9 130.6h0.7v0.7h-0.7zM344.0 113.1h0.7v0.7h-0.7zM330.2 124.7h0.7v0.7h-0.7zM335.3 125.2h0.7v0.7h-0.7zM327.1 126.3h0.7v0.7h-0.7zM335.1 125.4h0.7v0.7h-0.7zM331.4 134.7h0.7v0.7h-0.7zM336.3 127.1h0.7v0.7h-0.7zM342.6 116.3h0.7v0.7h-0.7zM331.7 126.3h0.7v0.7h-0.7zM331.6 121.1h0.7v0.7h-0.7zM336.8 123.9h0.7v0.7h-0.7zM337.2 120.3h0.7v0.7h-0.7zM330.9 132.8h0.7v0.7h-0.7zM325.8 133.5h0.7v0.7h-0.7zM327.0 122.5h0.7v0.7h-0.7zM337.5 132.7h0.7v0.7h-0.7zM328.3 130.7h0.7v0.7h-0.7zM339.4 127.5h0.7v0.7h-0.7zM330.9 133.3h0.7v0.7h-0.7zM339.8 116.7h0.7v0.7h-0.7zM333.6 134.2h0.7v0.7h-0.7zM342.9 124.0h0.7v0.7h-0.7zM331.0 132.0h0.7v0.7h-0.7zM339.8 124.2h0.7v0.7h-0.7zM339.0 120.2h0.7v0.7h-0.7zM334.1 119.6h0.7v0.7h-0.7zM336.7 134.0h0.7v0.7h-0.7zM333.4 125.9h0.7v0.7h-0.7zM336.1 123.4h0.7v0.7h-0.7zM341.8 136.3h0.7v0.7h-0.7zM334.8 138.0h0.7v0.7h-0.7zM339.2 113.8h0.7v0.7h-0.7zM328.7 136.2h0.7v0.7h-0.7zM336.5 134.6h0.7v0.7h-0.7zM333.8 129.9h0.7v0.7h-0.7zM336.3 116.9h0.7v0.7h-0.7zM341.7 114.5h0.7v0.7h-0.7zM327.5 128.0h0.7v0.7h-0.7zM336.8 127.3h0.7v0.7h-0.7zM343.6 116.7h0.7v0.7h-0.7zM330.4 131.0h0.7v0.7h-0.7zM329.3 129.5h0.7v0.7h-0.7zM340.6 119.7h0.7v0.7h-0.7zM337.0 136.6h0.7v0.7h-0.7zM335.8 125.8h0.7v0.7h-0.7zM332.0 135.3h0.7v0.7h-0.7zM341.8 128.9h0.7v0.7h-0.7zM344.7 127.5h0.7v0.7h-0.7zM334.0 136.4h0.7v0.7h-0.7zM329.3 132.3h0.7v0.7h-0.7zM339.1 117.1h0.7v0.7h-0.7zM329.5 124.9h0.7v0.7h-0.7zM343.2 124.2h0.7v0.7h-0.7zM334.1 134.9h0.7v0.7h-0.7zM329.4 125.8h0.7v0.7h-0.7zM328.0 121.9h0.7v0.7h-0.7zM329.5 131.0h0.7v0.7h-0.7zM339.6 131.8h0.7v0.7h-0.7zM342.5 113.5h0.7v0.7h-0.7zM330.4 123.6h0.7v0.7h-0.7zM334.5 121.4h0.7v0.7h-0.7zM337.7 132.9h0.7v0.7h-0.7zM333.7 124.7h0.7v0.7h-0.7zM335.0 132.5h0.7v0.7h-0.7zM340.3 125.2h0.7v0.7h-0.7zM337.5 132.2h0.7v0.7h-0.7zM338.4 132.2h0.7v0.7h-0.7zM332.0 119.9h0.7v0.7h-0.7zM331.4 130.7h0.7v0.7h-0.7zM336.4 128.5h0.7v0.7h-0.7zM329.5 131.4h0.7v0.7h-0.7zM334.9 133.9h0.7v0.7h-0.7zM333.0 118.9h0.7v0.7h-0.7zM339.6 116.0h0.7v0.7h-0.7zM335.1 126.8h0.7v0.7h-0.7zM343.8 115.4h0.7v0.7h-0.7zM332.9 122.5h0.7v0.7h-0.7zM330.5 130.1h0.7v0.7h-0.7zM341.0 123.6h0.7v0.7h-0.7zM337.9 121.7h0.7v0.7h-0.7zM340.4 124.6h0.7v0.7h-0.7zM332.1 123.4h0.7v0.7h-0.7zM332.0 132.0h0.7v0.7h-0.7zM343.0 124.4h0.7v0.7h-0.7zM340.2 133.4h0.7v0.7h-0.7zM335.9 124.7h0.7v0.7h-0.7zM336.6 124.7h0.7v0.7h-0.7zM341.8 128.2h0.7v0.7h-0.7zM341.9 124.0h0.7v0.7h-0.7zM330.9 129.8h0.7v0.7h-0.7zM341.6 128.3h0.7v0.7h-0.7zM333.5 122.3h0.7v0.7h-0.7zM342.5 112.2h0.7v0.7h-0.7zM339.7 128.3h0.7v0.7h-0.7zM332.1 123.6h0.7v0.7h-0.7zM329.7 128.7h0.7v0.7h-0.7zM328.5 124.9h0.7v0.7h-0.7zM332.1 125.6h0.7v0.7h-0.7zM344.4 122.7h0.7v0.7h-0.7zM341.1 130.5h0.7v0.7h-0.7zM335.9 127.9h0.7v0.7h-0.7zM344.2 120.6h0.7v0.7h-0.7zM335.8 127.4h0.7v0.7h-0.7zM343.9 122.2h0.7v0.7h-0.7zM340.6 132.4h0.7v0.7h-0.7zM338.2 118.3h0.7v0.7h-0.7zM332.9 125.0h0.7v0.7h-0.7zM331.8 133.8h0.7v0.7h-0.7zM341.4 122.5h0.7v0.7h-0.7zM342.0 136.9h0.7v0.7h-0.7zM341.6 112.9h0.7v0.7h-0.7zM332.9 131.2h0.7v0.7h-0.7zM341.9 122.4h0.7v0.7h-0.7zM336.0 124.6h0.7v0.7h-0.7zM337.5 123.7h0.7v0.7h-0.7zM330.5 127.0h0.7v0.7h-0.7zM330.0 125.7h0.7v0.7h-0.7zM337.1 118.9h0.7v0.7h-0.7zM332.3 127.9h0.7v0.7h-0.7zM341.8 131.9h0.7v0.7h-0.7zM337.0 137.9h0.7v0.7h-0.7zM334.2 124.5h0.7v0.7h-0.7zM342.9 131.6h0.7v0.7h-0.7zM330.5 134.9h0.7v0.7h-0.7zM338.7 117.3h0.7v0.7h-0.7zM335.9 124.3h0.7v0.7h-0.7zM335.2 123.2h0.7v0.7h-0.7zM338.5 128.4h0.7v0.7h-0.7zM339.3 135.0h0.7v0.7h-0.7zM334.1 135.6h0.7v0.7h-0.7zM342.1 125.7h0.7v0.7h-0.7zM334.4 127.2h0.7v0.7h-0.7zM329.3 132.6h0.7v0.7h-0.7zM335.6 135.7h0.7v0.7h-0.7zM338.7 127.6h0.7v0.7h-0.7zM330.7 125.7h0.7v0.7h-0.7zM340.9 117.3h0.7v0.7h-0.7zM330.4 131.1h0.7v0.7h-0.7zM339.6 127.4h0.7v0.7h-0.7zM339.0 116.5h0.7v0.7h-0.7zM344.0 117.7h0.7v0.7h-0.7zM327.4 129.3h0.7v0.7h-0.7zM334.2 122.1h0.7v0.7h-0.7zM336.7 123.8h0.7v0.7h-0.7zM329.3 132.0h0.7v0.7h-0.7zM333.6 124.0h0.7v0.7h-0.7zM342.0 119.5h0.7v0.7h-0.7zM339.3 135.7h0.7v0.7h-0.7zM341.7 133.7h0.7v0.7h-0.7zM332.8 127.1h0.7v0.7h-0.7zM340.5 115.4h0.7v0.7h-0.7zM334.9 122.2h0.7v0.7h-0.7zM337.6 131.5h0.7v0.7h-0.7zM339.4 132.8h0.7v0.7h-0.7zM330.0 121.8h0.7v0.7h-0.7zM325.8 137.5h0.7v0.7h-0.7zM327.4 128.2h0.7v0.7h-0.7zM329.9 129.6h0.7v0.7h-0.7zM338.9 123.8h0.7v0.7h-0.7zM336.4 126.4h0.7v0.7h-0.7zM328.3 127.8h0.7v0.7h-0.7zM333.1 135.7h0.7v0.7h-0.7zM331.3 129.5h0.7v0.7h-0.7zM326.2 130.3h0.7v0.7h-0.7zM341.5 133.6h0.7v0.7h-0.7zM340.0 132.8h0.7v0.7h-0.7zM342.8 125.8h0.7v0.7h-0.7zM340.0 120.5h0.7v0.7h-0.7zM327.9 133.1h0.7v0.7h-0.7zM341.3 126.2h0.7v0.7h-0.7zM338.5 119.1h0.7v0.7h-0.7zM345.0 123.0h0.7v0.7h-0.7zM335.7 124.6h0.7v0.7h-0.7zM332.2 126.2h0.7v0.7h-0.7zM342.6 119.4h0.7v0.7h-0.7zM336.5 125.5h0.7v0.7h-0.7zM343.5 119.1h0.7v0.7h-0.7zM339.7 123.1h0.7v0.7h-0.7zM332.3 124.6h0.7v0.7h-0.7zM338.1 119.3h0.7v0.7h-0.7zM335.3 126.0h0.7v0.7h-0.7zM338.4 118.7h0.7v0.7h-0.7zM332.0 127.4h0.7v0.7h-0.7zM342.4 129.4h0.7v0.7h-0.7zM338.5 120.5h0.7v0.7h-0.7zM338.7 130.9h0.7v0.7h-0.7zM334.1 135.3h0.7v0.7h-0.7zM344.4 118.1h0.7v0.7h-0.7zM331.7 132.9h0.7v0.7h-0.7zM340.0 113.7h0.7v0.7h-0.7zM338.9 117.4h0.7v0.7h-0.7zM340.5 130.7h0.7v0.7h-0.7zM334.7 133.6h0.7v0.7h-0.7zM335.0 130.2h0.7v0.7h-0.7zM332.5 131.6h0.7v0.7h-0.7zM330.9 127.8h0.7v0.7h-0.7zM330.4 124.4h0.7v0.7h-0.7zM330.2 135.0h0.7v0.7h-0.7zM337.6 120.8h0.7v0.7h-0.7zM336.7 126.2h0.7v0.7h-0.7zM341.1 125.7h0.7v0.7h-0.7zM343.6 114.8h0.7v0.7h-0.7zM333.3 121.7h0.7v0.7h-0.7zM328.4 125.6h0.7v0.7h-0.7zM342.2 122.9h0.7v0.7h-0.7zM343.0 119.9h0.7v0.7h-0.7zM342.6 124.6h0.7v0.7h-0.7zM332.1 123.8h0.7v0.7h-0.7zM329.2 135.9h0.7v0.7h-0.7zM337.7 125.1h0.7v0.7h-0.7zM333.6 129.5h0.7v0.7h-0.7zM336.0 132.7h0.7v0.7h-0.7zM335.8 130.6h0.7v0.7h-0.7zM334.5 135.1h0.7v0.7h-0.7zM340.3 117.5h0.7v0.7h-0.7zM331.3 119.7h0.7v0.7h-0.7zM338.3 127.1h0.7v0.7h-0.7zM331.4 131.8h0.7v0.7h-0.7zM338.1 118.3h0.7v0.7h-0.7zM334.1 130.6h0.7v0.7h-0.7zM340.5 132.0h0.7v0.7h-0.7zM326.8 135.0h0.7v0.7h-0.7zM338.7 115.7h0.7v0.7h-0.7zM339.4 125.0h0.7v0.7h-0.7zM338.8 129.0h0.7v0.7h-0.7zM342.4 114.4h0.7v0.7h-0.7zM341.7 117.4h0.7v0.7h-0.7zM335.1 130.0h0.7v0.7h-0.7zM327.3 132.2h0.7v0.7h-0.7zM336.3 120.2h0.7v0.7h-0.7zM338.1 115.7h0.7v0.7h-0.7zM329.7 127.4h0.7v0.7h-0.7zM340.8 120.7h0.7v0.7h-0.7zM339.9 126.0h0.7v0.7h-0.7zM342.4 117.9h0.7v0.7h-0.7zM340.8 132.5h0.7v0.7h-0.7zM333.2 121.6h0.7v0.7h-0.7zM341.7 125.8h0.7v0.7h-0.7zM326.5 125.2h0.7v0.7h-0.7zM333.9 125.6h0.7v0.7h-0.7zM327.9 129.1h0.7v0.7h-0.7zM331.3 123.4h0.7v0.7h-0.7zM340.8 128.9h0.7v0.7h-0.7zM338.6 133.9h0.7v0.7h-0.7zM337.4 134.5h0.7v0.7h-0.7zM334.3 127.8h0.7v0.7h-0.7zM344.2 116.4h0.7v0.7h-0.7zM338.7 136.8h0.7v0.7h-0.7zM341.8 128.8h0.7v0.7h-0.7zM337.4 130.1h0.7v0.7h-0.7zM332.3 124.3h0.7v0.7h-0.7zM334.8 123.6h0.7v0.7h-0.7zM333.3 124.1h0.7v0.7h-0.7zM341.7 115.6h0.7v0.7h-0.7zM343.7 130.9h0.7v0.7h-0.7zM334.2 130.1h0.7v0.7h-0.7zM340.3 116.8h0.7v0.7h-0.7zM329.3 135.1h0.7v0.7h-0.7zM340.0 129.2h0.7v0.7h-0.7zM329.9 131.1h0.7v0.7h-0.7zM332.0 123.6h0.7v0.7h-0.7zM336.9 131.0h0.7v0.7h-0.7zM337.7 122.1h0.7v0.7h-0.7zM327.8 131.1h0.7v0.7h-0.7zM339.1 130.2h0.7v0.7h-0.7zM331.3 130.0h0.7v0.7h-0.7zM339.6 121.3h0.7v0.7h-0.7zM342.3 131.3h0.7v0.7h-0.7zM336.2 128.6h0.7v0.7h-0.7zM336.7 116.8h0.7v0.7h-0.7zM325.3 131.4h0.7v0.7h-0.7zM335.1 127.2h0.7v0.7h-0.7zM330.0 135.9h0.7v0.7h-0.7zM336.3 131.2h0.7v0.7h-0.7zM342.4 123.1h0.7v0.7h-0.7zM334.4 124.5h0.7v0.7h-0.7zM328.1 127.4h0.7v0.7h-0.7zM330.8 125.5h0.7v0.7h-0.7zM327.9 134.8h0.7v0.7h-0.7zM329.1 133.4h0.7v0.7h-0.7zM330.2 122.3h0.7v0.7h-0.7zM332.3 128.5h0.7v0.7h-0.7zM331.5 132.6h0.7v0.7h-0.7zM343.1 120.9h0.7v0.7h-0.7zM338.6 119.6h0.7v0.7h-0.7zM339.1 124.4h0.7v0.7h-0.7zM343.6 118.3h0.7v0.7h-0.7zM336.9 121.9h0.7v0.7h-0.7zM340.0 135.4h0.7v0.7h-0.7zM342.1 120.7h0.7v0.7h-0.7z" fill="#dc02e0" opacity="1"/>
<path d="M329.1 143.5h0.8v0.8h-0.8zM336.0 152.0h0.8v0.8h-0.8zM339.0 148.4h0.8v0.8h-0.8zM330.6 134.9h0.8v0.8h-0.8zM337.5 150.2h0.8v0.8h-0.8zM340.9 139.7h0.8v0.8h-0.8zM333.2 137.1h0.8v0.8h-0.8zM329.9 139.6h0.8v0.8h-0.8zM335.7 146.8h0.8v0.8h-0.8zM339.0 137.1h0.8v0.8h-0.8zM331.2 146.6h0.8v0.8h-0.8zM335.2 147.2h0.8v0.8h-0.8zM334.9 138.2h0.8v0.8h-0.8zM341.1 139.3h0.8v0.8h-0.8zM336.3 148.6h0.8v0.8h-0.8zM329.3 144.8h0.8v0.8h-0.8zM332.9 137.1h0.8v0.8h-0.8zM332.1 140.4h0.8v0.8h-0.8zM332.6 139.0h0.8v0.8h-0.8zM332.2 134.2h0.8v0.8h-0.8zM338.3 142.4h0.8v0.8h-0.8zM328.8 142.7h0.8v0.8h-0.8zM333.2 140.4h0.8v0.8h-0.8zM336.8 143.2h0.8v0.8h-0.8zM335.7 144.4h0.8v0.8h-0.8zM332.2 144.7h0.8v0.8h-0.8zM336.7 147.4h0.8v0.8h-0.8zM335.8 144.0h0.8v0.8h-0.8zM332.8 137.8h0.8v0.8h-0.8zM333.6 139.4h0.8v0.8h-0.8zM331.3 152.0h0.8v0.8h-0.8zM337.9 142.1h0.8v0.8h-0.8zM338.4 146.5h0.8v0.8h-0.8zM334.8 140.7h0.8v0.8h-0.8zM338.5 137.6h0.8v0.8h-0.8zM335.2 141.4h0.8v0.8h-0.8zM337.1 143.8h0.8v0.8h-0.8zM334.7 148.5h0.8v0.8h-0.8zM335.3 138.3h0.8v0.8h-0.8zM335.3 147.9h0.8v0.8h-0.8zM336.5 148.3h0.8v0.8h-0.8zM340.2 140.9h0.8v0.8h-0.8zM334.7 151.6h0.8v0.8h-0.8zM331.7 154.1h0.8v0.8h-0.8zM333.0 139.1h0.8v0.8h-0.8zM335.0 139.8h0.8v0.8h-0.8zM330.4 150.2h0.8v0.8h-0.8zM332.9 146.9h0.8v0.8h-0.8zM334.5 147.3h0.8v0.8h-0.8zM332.8 150.8h0.8v0.8h-0.8zM331.9 138.3h0.8v0.8h-0.8zM330.9 138.2h0.8v0.8h-0.8zM337.4 134.4h0.8v0.8h-0.8zM332.3 136.4h0.8v0.8h-0.8zM332.4 142.7h0.8v0.8h-0.8zM334.1 135.1h0.8v0.8h-0.8zM333.7 149.1h0.8v0.8h-0.8zM336.4 149.5h0.8v0.8h-0.8zM336.9 149.0h0.8v0.8h-0.8zM329.5 150.3h0.8v0.8h-0.8zM330.5 151.4h0.8v0.8h-0.8zM335.3 149.7h0.8v0.8h-0.8zM328.6 136.5h0.8v0.8h-0.8zM328.6 137.1h0.8v0.8h-0.8zM335.3 138.4h0.8v0.8h-0.8zM335.0 138.1h0.8v0.8h-0.8zM330.6 138.1h0.8v0.8h-0.8zM340.4 135.4h0.8v0.8h-0.8zM336.4 149.8h0.8v0.8h-0.8zM331.2 152.1h0.8v0.8h-0.8zM338.8 145.4h0.8v0.8h-0.8zM338.7 141.4h0.8v0.8h-0.8zM338.2 144.2h0.8v0.8h-0.8zM334.8 148.3h0.8v0.8h-0.8zM331.8 140.6h0.8v0.8h-0.8zM331.4 146.2h0.8v0.8h-0.8zM329.8 141.7h0.8v0.8h-0.8zM332.6 145.7h0.8v0.8h-0.8zM335.5 144.1h0.8v0.8h-0.8zM327.4 137.4h0.8v0.8h-0.8zM336.2 147.1h0.8v0.8h-0.8zM334.6 150.0h0.8v0.8h-0.8zM327.5 141.3h0.8v0.8h-0.8zM339.8 136.7h0.8v0.8h-0.8zM328.1 140.3h0.8v0.8h-0.8zM331.6 136.7h0.8v0.8h-0.8zM338.5 136.4h0.8v0.8h-0.8zM336.3 143.1h0.8v0.8h-0.8zM327.9 136.7h0.8v0.8h-0.8zM338.1 136.7h0.8v0.8h-0.8zM331.9 141.7h0.8v0.8h-0.8zM335.5 149.4h0.8v0.8h-0.8zM335.2 146.7h0.8v0.8h-0.8zM332.2 141.7h0.8v0.8h-0.8zM335.3 143.6h0.8v0.8h-0.8zM333.8 141.2h0.8v0.8h-0.8zM337.6 138.2h0.8v0.8h-0.8zM339.5 136.8h0.8v0.8h-0.8zM334.5 133.9h0.8v0.8h-0.8zM341.1 137.5h0.8v0.8h-0.8zM333.6 136.6h0.8v0.8h-0.8zM334.8 144.1h0.8v0.8h-0.8zM340.0 139.5h0.8v0.8h-0.8zM333.5 146.1h0.8v0.8h-0.8zM331.0 143.3h0.8v0.8h-0.8zM336.8 133.4h0.8v0.8h-0.8zM330.2 147.5h0.8v0.8h-0.8zM330.3 136.3h0.8v0.8h-0.8zM335.6 151.8h0.8v0.8h-0.8zM336.5 148.6h0.8v0.8h-0.8zM331.6 139.6h0.8v0.8h-0.8zM337.3 146.1h0.8v0.8h-0.8zM330.7 133.5h0.8v0.8h-0.8zM331.0 138.3h0.8v0.8h-0.8zM332.3 140.3h0.8v0.8h-0.8zM339.4 138.3h0.8v0.8h-0.8zM333.0 148.9h0.8v0.8h-0.8zM334.5 137.1h0.8v0.8h-0.8zM333.4 147.8h0.8v0.8h-0.8zM330.9 145.8h0.8v0.8h-0.8zM331.3 137.5h0.8v0.8h-0.8zM329.9 137.6h0.8v0.8h-0.8zM332.0 142.2h0.8v0.8h-0.8zM338.3 142.1h0.8v0.8h-0.8zM335.3 140.6h0.8v0.8h-0.8zM330.2 149.2h0.8v0.8h-0.8zM337.7 146.2h0.8v0.8h-0.8zM328.7 136.8h0.8v0.8h-0.8zM342.1 140.1h0.8v0.8h-0.8zM332.4 138.5h0.8v0.8h-0.8zM335.4 145.9h0.8v0.8h-0.8zM333.1 144.3h0.8v0.8h-0.8zM333.1 150.4h0.8v0.8h-0.8zM329.9 138.7h0.8v0.8h-0.8zM336.4 150.4h0.8v0.8h-0.8zM332.0 146.2h0.8v0.8h-0.8zM338.8 152.0h0.8v0.8h-0.8zM332.8 145.0h0.8v0.8h-0.8zM338.5 141.0h0.8v0.8h-0.8zM332.2 151.8h0.8v0.8h-0.8zM335.1 138.7h0.8v0.8h-0.8zM330.3 146.6h0.8v0.8h-0.8zM328.0 144.7h0.8v0.8h-0.8zM333.4 155.2h0.8v0.8h-0.8zM334.7 140.1h0.8v0.8h-0.8zM335.0 135.8h0.8v0.8h-0.8zM335.3 148.4h0.8v0.8h-0.8zM327.6 140.2h0.8v0.8h-0.8zM335.9 139.0h0.8v0.8h-0.8zM332.2 145.6h0.8v0.8h-0.8zM339.1 143.8h0.8v0.8h-0.8zM330.8 138.4h0.8v0.8h-0.8zM329.1 138.5h0.8v0.8h-0.8zM331.1 145.5h0.8v0.8h-0.8zM334.1 147.4h0.8v0.8h-0.8zM334.3 150.5h0.8v0.8h-0.8zM331.6 140.1h0.8v0.8h-0.8zM333.0 140.7h0.8v0.8h-0.8zM335.0 151.3h0.8v0.8h-0.8zM331.7 145.5h0.8v0.8h-0.8zM337.9 143.5h0.8v0.8h-0.8zM341.1 137.7h0.8v0.8h-0.8zM331.5 138.4h0.8v0.8h-0.8zM336.8 139.3h0.8v0.8h-0.8zM330.2 135.9h0.8v0.8h-0.8zM337.4 144.1h0.8v0.8h-0.8zM335.5 147.6h0.8v0.8h-0.8zM334.5 141.4h0.8v0.8h-0.8zM340.5 137.9h0.8v0.8h-0.8zM336.3 141.1h0.8v0.8h-0.8zM336.6 143.2h0.8v0.8h-0.8zM333.8 136.3h0.8v0.8h-0.8zM337.1 152.2h0.8v0.8h-0.8zM335.4 134.4h0.8v0.8h-0.8zM336.3 136.6h0.8v0.8h-0.8zM335.7 149.9h0.8v0.8h-0.8zM332.3 149.1h0.8v0.8h-0.8zM331.2 143.8h0.8v0.8h-0.8zM336.7 141.1h0.8v0.8h-0.8zM332.6 138.2h0.8v0.8h-0.8zM338.9 136.6h0.8v0.8h-0.8zM330.7 141.4h0.8v0.8h-0.8zM337.2 151.3h0.8v0.8h-0.8zM333.0 152.5h0.8v0.8h-0.8zM334.2 142.0h0.8v0.8h-0.8zM328.2 134.8h0.8v0.8h-0.8zM339.3 144.4h0.8v0.8h-0.8zM338.7 149.1h0.8v0.8h-0.8zM336.8 134.5h0.8v0.8h-0.8zM331.8 138.2h0.8v0.8h-0.8zM335.7 135.0h0.8v0.8h-0.8zM332.4 144.9h0.8v0.8h-0.8zM332.0 139.1h0.8v0.8h-0.8zM330.5 139.7h0.8v0.8h-0.8zM330.7 144.1h0.8v0.8h-0.8zM334.4 142.7h0.8v0.8h-0.8zM331.7 141.4h0.8v0.8h-0.8zM337.1 136.9h0.8v0.8h-0.8zM337.7 152.5h0.8v0.8h-0.8zM337.8 135.8h0.8v0.8h-0.8zM341.6 136.9h0.8v0.8h-0.8zM330.1 138.4h0.8v0.8h-0.8zM333.4 134.9h0.8v0.8h-0.8zM331.4 143.6h0.8v0.8h-0.8zM330.6 142.2h0.8v0.8h-0.8zM334.1 135.2h0.8v0.8h-0.8zM337.8 141.7h0.8v0.8h-0.8zM333.1 141.4h0.8v0.8h-0.8zM330.9 136.2h0.8v0.8h-0.8zM339.1 139.0h0.8v0.8h-0.8zM333.3 151.7h0.8v0.8h-0.8zM332.3 149.2h0.8v0.8h-0.8zM334.6 137.7h0.8v0.8h-0.8zM329.8 143.2h0.8v0.8h-0.8zM338.6 138.8h0.8v0.8h-0.8zM334.6 139.3h0.8v0.8h-0.8zM335.6 140.4h0.8v0.8h-0.8zM332.1 151.9h0.8v0.8h-0.8zM334.7 151.7h0.8v0.8h-0.8zM336.5 148.2h0.8v0.8h-0.8zM334.5 139.9h0.8v0.8h-0.8zM336.7 147.9h0.8v0.8h-0.8zM331.3 152.8h0.8v0.8h-0.8zM330.7 147.6h0.8v0.8h-0.8zM339.1 136.8h0.8v0.8h-0.8zM332.4 150.8h0.8v0.8h-0.8zM331.0 136.9h0.8v0.8h-0.8zM339.4 140.6h0.8v0.8h-0.8zM331.2 139.9h0.8v0.8h-0.8zM336.8 145.9h0.8v0.8h-0.8zM334.1 135.4h0.8v0.8h-0.8zM332.3 151.0h0.8v0.8h-0.8zM333.0 151.8h0.8v0.8h-0.8zM339.3 142.1h0.8v0.8h-0.8zM332.2 145.3h0.8v0.8h-0.8zM339.0 138.2h0.8v0.8h-0.8zM338.7 145.7h0.8v0.8h-0.8zM331.9 139.1h0.8v0.8h-0.8zM333.2 149.4h0.8v0.8h-0.8zM336.0 145.0h0.8v0.8h-0.8zM334.3 150.5h0.8v0.8h-0.8zM330.8 139.5h0.8v0.8h-0.8zM328.0 137.8h0.8v0.8h-0.8zM335.8 144.5h0.8v0.8h-0.8zM333.9 148.3h0.8v0.8h-0.8zM330.9 144.3h0.8v0.8h-0.8zM330.8 138.7h0.8v0.8h-0.8zM331.3 146.5h0.8v0.8h-0.8zM331.3 135.3h0.8v0.8h-0.8zM342.6 143.6h0.8v0.8h-0.8zM332.1 139.8h0.8v0.8h-0.8zM328.3 142.2h0.8v0.8h-0.8zM329.3 138.5h0.8v0.8h-0.8zM333.6 149.8h0.8v0.8h-0.8zM333.9 138.5h0.8v0.8h-0.8zM334.7 139.1h0.8v0.8h-0.8zM334.4 136.8h0.8v0.8h-0.8zM336.0 153.8h0.8v0.8h-0.8zM328.9 136.2h0.8v0.8h-0.8zM336.0 145.2h0.8v0.8h-0.8zM331.9 137.1h0.8v0.8h-0.8zM338.8 135.2h0.8v0.8h-0.8zM336.3 141.9h0.8v0.8h-0.8zM335.1 141.2h0.8v0.8h-0.8zM329.2 144.7h0.8v0.8h-0.8zM336.8 146.9h0.8v0.8h-0.8zM330.9 149.6h0.8v0.8h-0.8zM337.5 150.5h0.8v0.8h-0.8zM333.7 150.7h0.8v0.8h-0.8zM332.2 148.1h0.8v0.8h-0.8zM335.9 141.1h0.8v0.8h-0.8zM326.4 135.1h0.8v0.8h-0.8zM340.2 144.3h0.8v0.8h-0.8zM336.1 136.3h0.8v0.8h-0.8zM338.2 139.5h0.8v0.8h-0.8zM327.7 135.5h0.8v0.8h-0.8zM339.5 142.1h0.8v0.8h-0.8zM340.1 145.7h0.8v0.8h-0.8zM328.9 141.6h0.8v0.8h-0.8zM337.2 145.3h0.8v0.8h-0.8zM338.9 144.0h0.8v0.8h-0.8zM335.1 144.4h0.8v0.8h-0.8zM332.1 153.7h0.8v0.8h-0.8zM327.7 139.6h0.8v0.8h-0.8zM332.0 145.7h0.8v0.8h-0.8zM334.3 133.9h0.8v0.8h-0.8zM337.6 140.2h0.8v0.8h-0.8zM337.1 139.2h0.8v0.8h-0.8zM327.0 149.1h0.8v0.8h-0.8zM342.1 141.3h0.8v0.8h-0.8zM334.7 140.1h0.8v0.8h-0.8zM334.6 135.3h0.8v0.8h-0.8zM338.7 142.2h0.8v0.8h-0.8zM333.7 151.7h0.8v0.8h-0.8zM340.2 133.7h0.8v0.8h-0.8zM336.0 142.8h0.8v0.8h-0.8zM337.6 137.2h0.8v0.8h-0.8zM332.6 138.2h0.8v0.8h-0.8zM339.0 146.9h0.8v0.8h-0.8zM335.4 134.1h0.8v0.8h-0.8zM335.3 152.4h0.8v0.8h-0.8zM333.7 137.3h0.8v0.8h-0.8zM337.6 143.9h0.8v0.8h-0.8zM339.0 140.0h0.8v0.8h-0.8zM334.0 147.7h0.8v0.8h-0.8zM336.8 137.1h0.8v0.8h-0.8zM328.0 138.9h0.8v0.8h-0.8zM333.5 142.0h0.8v0.8h-0.8zM336.8 144.1h0.8v0.8h-0.8zM332.3 144.9h0.8v0.8h-0.8zM333.2 152.3h0.8v0.8h-0.8zM331.9 141.5h0.8v0.8h-0.8zM337.3 144.6h0.8v0.8h-0.8zM339.2 143.8h0.8v0.8h-0.8zM336.6 135.6h0.8v0.8h-0.8zM330.9 142.1h0.8v0.8h-0.8zM337.2 141.6h0.8v0.8h-0.8zM332.7 143.8h0.8v0.8h-0.8zM332.6 148.0h0.8v0.8h-0.8zM331.8 143.8h0.8v0.8h-0.8zM330.5 143.2h0.8v0.8h-0.8zM339.6 142.6h0.8v0.8h-0.8zM341.3 142.1h0.8v0.8h-0.8zM339.2 143.7h0.8v0.8h-0.8zM332.0 150.4h0.8v0.8h-0.8zM335.4 147.8h0.8v0.8h-0.8zM335.4 153.2h0.8v0.8h-0.8zM335.9 142.4h0.8v0.8h-0.8zM328.4 139.7h0.8v0.8h-0.8zM337.5 148.6h0.8v0.8h-0.8zM330.4 146.8h0.8v0.8h-0.8zM336.9 139.1h0.8v0.8h-0.8zM340.3 139.3h0.8v0.8h-0.8zM333.4 141.0h0.8v0.8h-0.8zM335.5 152.7h0.8v0.8h-0.8zM330.6 145.4h0.8v0.8h-0.8zM337.4 144.5h0.8v0.8h-0.8zM333.1 151.1h0.8v0.8h-0.8zM337.5 143.7h0.8v0.8h-0.8zM334.5 146.9h0.8v0.8h-0.8zM338.7 146.2h0.8v0.8h-0.8zM332.1 153.5h0.8v0.8h-0.8zM335.6 147.4h0.8v0.8h-0.8zM335.2 147.2h0.8v0.8h-0.8zM339.9 140.7h0.8v0.8h-0.8zM331.9 142.8h0.8v0.8h-0.8zM336.4 140.7h0.8v0.8h-0.8zM330.1 147.8h0.8v0.8h-0.8zM335.1 152.6h0.8v0.8h-0.8zM330.6 150.7h0.8v0.8h-0.8z" fill="#dc02e0" opacity="1"/>
<polygon points="344.0,113.0 361.0,108.0 361.0,124.0 344.0,130.0" fill="#f0a0f0" opacity="0.6" filter="url(#b08)"/>
<polygon points="344.5,112.5 348.3,111.5 348.3,125.0 347.5,135.0 346.3,139.0 345.0,135.0 344.5,125.0" fill="#dc02e0" opacity="0.8" filter="url(#b08)"/>
<path d="M348.5 120.8h0.7v0.7h-0.7zM347.4 117.5h0.7v0.7h-0.7zM346.2 132.3h0.7v0.7h-0.7zM347.2 130.8h0.7v0.7h-0.7zM346.5 128.4h0.7v0.7h-0.7zM343.9 134.2h0.7v0.7h-0.7zM347.4 134.4h0.7v0.7h-0.7zM345.5 115.1h0.7v0.7h-0.7zM350.2 126.3h0.7v0.7h-0.7zM349.4 113.5h0.7v0.7h-0.7zM347.5 122.7h0.7v0.7h-0.7zM346.3 118.9h0.7v0.7h-0.7zM346.4 128.1h0.7v0.7h-0.7zM347.1 133.2h0.7v0.7h-0.7zM344.2 127.4h0.7v0.7h-0.7zM349.9 112.6h0.7v0.7h-0.7zM348.0 123.8h0.7v0.7h-0.7zM347.6 124.5h0.7v0.7h-0.7zM348.4 132.6h0.7v0.7h-0.7zM344.9 122.5h0.7v0.7h-0.7zM349.2 125.8h0.7v0.7h-0.7zM343.5 128.4h0.7v0.7h-0.7zM347.5 131.6h0.7v0.7h-0.7zM345.7 131.9h0.7v0.7h-0.7zM346.9 133.0h0.7v0.7h-0.7zM348.6 127.6h0.7v0.7h-0.7zM347.8 124.6h0.7v0.7h-0.7zM344.5 124.4h0.7v0.7h-0.7zM346.1 117.4h0.7v0.7h-0.7zM346.6 118.7h0.7v0.7h-0.7zM346.3 131.1h0.7v0.7h-0.7zM344.5 135.6h0.7v0.7h-0.7zM348.0 127.5h0.7v0.7h-0.7zM345.4 119.9h0.7v0.7h-0.7zM347.3 131.3h0.7v0.7h-0.7zM347.2 122.5h0.7v0.7h-0.7zM346.9 131.6h0.7v0.7h-0.7zM345.1 114.3h0.7v0.7h-0.7zM345.2 133.5h0.7v0.7h-0.7zM344.1 128.6h0.7v0.7h-0.7zM345.0 118.3h0.7v0.7h-0.7zM346.6 118.1h0.7v0.7h-0.7zM345.2 121.1h0.7v0.7h-0.7zM347.0 116.0h0.7v0.7h-0.7zM344.7 131.3h0.7v0.7h-0.7zM344.9 120.3h0.7v0.7h-0.7zM345.1 121.6h0.7v0.7h-0.7zM345.6 116.0h0.7v0.7h-0.7zM347.3 115.0h0.7v0.7h-0.7zM348.1 114.8h0.7v0.7h-0.7zM347.7 112.1h0.7v0.7h-0.7zM347.0 116.2h0.7v0.7h-0.7zM345.1 111.8h0.7v0.7h-0.7zM349.3 120.5h0.7v0.7h-0.7zM346.0 132.6h0.7v0.7h-0.7zM344.9 114.9h0.7v0.7h-0.7zM347.9 125.1h0.7v0.7h-0.7zM346.7 114.9h0.7v0.7h-0.7zM344.3 122.4h0.7v0.7h-0.7zM345.9 130.8h0.7v0.7h-0.7zM345.3 115.4h0.7v0.7h-0.7zM345.3 133.4h0.7v0.7h-0.7zM346.6 120.7h0.7v0.7h-0.7zM346.6 132.9h0.7v0.7h-0.7zM345.5 130.3h0.7v0.7h-0.7zM346.6 127.5h0.7v0.7h-0.7zM343.5 131.5h0.7v0.7h-0.7zM347.2 134.1h0.7v0.7h-0.7zM344.5 126.4h0.7v0.7h-0.7zM347.0 121.2h0.7v0.7h-0.7zM345.7 136.7h0.7v0.7h-0.7zM346.4 111.8h0.7v0.7h-0.7zM347.0 128.7h0.7v0.7h-0.7zM347.9 123.2h0.7v0.7h-0.7zM343.0 121.2h0.7v0.7h-0.7zM349.9 120.8h0.7v0.7h-0.7zM348.4 119.8h0.7v0.7h-0.7zM346.8 119.3h0.7v0.7h-0.7zM346.7 114.6h0.7v0.7h-0.7zM349.7 111.9h0.7v0.7h-0.7zM347.8 120.9h0.7v0.7h-0.7zM346.4 130.4h0.7v0.7h-0.7zM345.7 114.7h0.7v0.7h-0.7zM345.9 125.5h0.7v0.7h-0.7zM349.6 129.1h0.7v0.7h-0.7zM346.1 140.5h0.7v0.7h-0.7zM347.9 119.6h0.7v0.7h-0.7zM343.4 131.8h0.7v0.7h-0.7zM347.4 121.8h0.7v0.7h-0.7zM346.9 125.8h0.7v0.7h-0.7zM346.3 131.8h0.7v0.7h-0.7zM345.7 131.6h0.7v0.7h-0.7zM345.2 116.9h0.7v0.7h-0.7zM346.1 124.9h0.7v0.7h-0.7zM347.8 120.8h0.7v0.7h-0.7zM348.8 122.6h0.7v0.7h-0.7zM348.3 129.6h0.7v0.7h-0.7zM343.7 120.3h0.7v0.7h-0.7zM346.4 120.3h0.7v0.7h-0.7zM347.4 114.4h0.7v0.7h-0.7zM346.7 114.3h0.7v0.7h-0.7zM348.5 126.3h0.7v0.7h-0.7zM344.2 131.2h0.7v0.7h-0.7zM348.2 124.2h0.7v0.7h-0.7zM345.2 128.1h0.7v0.7h-0.7zM348.2 137.3h0.7v0.7h-0.7zM344.7 126.9h0.7v0.7h-0.7zM349.2 114.8h0.7v0.7h-0.7zM347.0 126.7h0.7v0.7h-0.7zM349.4 111.9h0.7v0.7h-0.7zM344.3 116.0h0.7v0.7h-0.7zM344.6 116.4h0.7v0.7h-0.7zM346.8 121.9h0.7v0.7h-0.7zM347.5 119.8h0.7v0.7h-0.7zM347.7 127.0h0.7v0.7h-0.7zM345.5 133.2h0.7v0.7h-0.7zM344.6 122.5h0.7v0.7h-0.7zM349.2 118.1h0.7v0.7h-0.7zM346.5 122.3h0.7v0.7h-0.7zM347.6 126.1h0.7v0.7h-0.7z" fill="#dc02e0" opacity="1"/>
<polygon points="349.4,111.0 352.3,110.5 352.3,122.0 351.6,132.0 350.2,132.0 349.4,122.0" fill="#dc02e0" opacity="0.75" filter="url(#b08)"/>
<path d="M349.8 113.6h0.7v0.7h-0.7zM351.7 129.2h0.7v0.7h-0.7zM352.4 124.1h0.7v0.7h-0.7zM350.2 119.7h0.7v0.7h-0.7zM353.3 121.6h0.7v0.7h-0.7zM351.2 116.5h0.7v0.7h-0.7zM351.2 122.6h0.7v0.7h-0.7zM348.3 111.7h0.7v0.7h-0.7zM351.0 132.1h0.7v0.7h-0.7zM351.9 114.3h0.7v0.7h-0.7zM351.3 121.7h0.7v0.7h-0.7zM349.5 117.6h0.7v0.7h-0.7zM350.5 127.3h0.7v0.7h-0.7zM348.7 124.4h0.7v0.7h-0.7zM351.2 120.6h0.7v0.7h-0.7zM349.2 122.5h0.7v0.7h-0.7zM351.6 116.8h0.7v0.7h-0.7zM351.7 119.6h0.7v0.7h-0.7zM351.5 118.8h0.7v0.7h-0.7zM351.6 117.2h0.7v0.7h-0.7zM351.7 125.7h0.7v0.7h-0.7zM350.7 115.6h0.7v0.7h-0.7zM352.3 120.5h0.7v0.7h-0.7zM351.4 123.3h0.7v0.7h-0.7zM350.2 114.4h0.7v0.7h-0.7zM353.5 114.2h0.7v0.7h-0.7zM349.8 113.9h0.7v0.7h-0.7zM351.1 121.9h0.7v0.7h-0.7zM350.3 116.9h0.7v0.7h-0.7zM349.0 117.2h0.7v0.7h-0.7zM350.1 120.0h0.7v0.7h-0.7zM353.8 119.2h0.7v0.7h-0.7zM352.1 111.2h0.7v0.7h-0.7zM350.4 122.4h0.7v0.7h-0.7zM351.9 114.1h0.7v0.7h-0.7zM350.1 124.1h0.7v0.7h-0.7zM351.1 131.7h0.7v0.7h-0.7zM351.4 125.6h0.7v0.7h-0.7zM352.0 131.9h0.7v0.7h-0.7zM352.4 109.9h0.7v0.7h-0.7zM350.3 111.4h0.7v0.7h-0.7zM350.2 114.6h0.7v0.7h-0.7zM350.2 124.4h0.7v0.7h-0.7zM351.8 125.9h0.7v0.7h-0.7zM349.6 115.9h0.7v0.7h-0.7zM351.2 128.5h0.7v0.7h-0.7zM349.3 111.0h0.7v0.7h-0.7zM348.3 111.0h0.7v0.7h-0.7zM352.1 112.2h0.7v0.7h-0.7zM348.9 119.7h0.7v0.7h-0.7zM350.8 120.7h0.7v0.7h-0.7zM348.5 120.5h0.7v0.7h-0.7zM350.4 127.0h0.7v0.7h-0.7zM351.2 110.2h0.7v0.7h-0.7zM350.2 116.5h0.7v0.7h-0.7zM351.3 121.1h0.7v0.7h-0.7zM350.9 111.8h0.7v0.7h-0.7zM351.9 122.0h0.7v0.7h-0.7zM354.0 111.5h0.7v0.7h-0.7zM350.0 114.8h0.7v0.7h-0.7zM350.2 116.8h0.7v0.7h-0.7zM350.2 129.8h0.7v0.7h-0.7zM352.3 125.3h0.7v0.7h-0.7zM353.4 114.7h0.7v0.7h-0.7zM350.5 118.4h0.7v0.7h-0.7zM350.7 132.2h0.7v0.7h-0.7zM349.8 111.1h0.7v0.7h-0.7zM351.4 119.5h0.7v0.7h-0.7zM351.8 124.2h0.7v0.7h-0.7zM350.3 110.1h0.7v0.7h-0.7zM350.6 112.9h0.7v0.7h-0.7zM348.6 113.6h0.7v0.7h-0.7zM349.6 119.9h0.7v0.7h-0.7zM351.2 111.8h0.7v0.7h-0.7zM351.1 119.9h0.7v0.7h-0.7zM350.4 111.0h0.7v0.7h-0.7zM350.6 116.7h0.7v0.7h-0.7zM352.6 112.0h0.7v0.7h-0.7zM349.8 124.4h0.7v0.7h-0.7zM352.6 126.1h0.7v0.7h-0.7z" fill="#dc02e0" opacity="1"/>
<polygon points="354.4,109.5 361.0,108.5 361.5,118.0 360.5,130.0 359.0,140.0 357.0,139.0 355.0,125.0" fill="#dc02e0" opacity="0.9" filter="url(#b08)"/>
<path d="M354.0 126.1h0.7v0.7h-0.7zM357.6 120.2h0.7v0.7h-0.7zM358.8 111.1h0.7v0.7h-0.7zM357.5 135.3h0.7v0.7h-0.7zM355.1 118.7h0.7v0.7h-0.7zM359.6 116.6h0.7v0.7h-0.7zM358.9 115.0h0.7v0.7h-0.7zM356.7 128.7h0.7v0.7h-0.7zM357.8 129.4h0.7v0.7h-0.7zM357.1 115.7h0.7v0.7h-0.7zM357.2 119.3h0.7v0.7h-0.7zM356.7 133.0h0.7v0.7h-0.7zM357.4 124.3h0.7v0.7h-0.7zM359.5 125.8h0.7v0.7h-0.7zM355.8 118.5h0.7v0.7h-0.7zM362.4 111.7h0.7v0.7h-0.7zM353.2 126.2h0.7v0.7h-0.7zM356.2 107.7h0.7v0.7h-0.7zM359.3 123.3h0.7v0.7h-0.7zM357.5 129.5h0.7v0.7h-0.7zM357.2 114.8h0.7v0.7h-0.7zM359.0 135.5h0.7v0.7h-0.7zM356.8 126.4h0.7v0.7h-0.7zM358.0 124.5h0.7v0.7h-0.7zM357.8 128.9h0.7v0.7h-0.7zM357.7 119.2h0.7v0.7h-0.7zM360.2 111.7h0.7v0.7h-0.7zM357.1 116.8h0.7v0.7h-0.7zM358.0 110.0h0.7v0.7h-0.7zM356.3 123.0h0.7v0.7h-0.7zM360.1 115.0h0.7v0.7h-0.7zM357.9 135.4h0.7v0.7h-0.7zM355.4 126.9h0.7v0.7h-0.7zM358.3 113.9h0.7v0.7h-0.7zM358.0 121.9h0.7v0.7h-0.7zM357.2 112.7h0.7v0.7h-0.7zM358.2 126.7h0.7v0.7h-0.7zM356.8 118.7h0.7v0.7h-0.7zM357.1 121.4h0.7v0.7h-0.7zM356.8 135.2h0.7v0.7h-0.7zM355.7 109.3h0.7v0.7h-0.7zM360.0 113.3h0.7v0.7h-0.7zM356.3 119.9h0.7v0.7h-0.7zM358.3 129.8h0.7v0.7h-0.7zM357.3 115.4h0.7v0.7h-0.7zM359.0 129.7h0.7v0.7h-0.7zM357.1 138.4h0.7v0.7h-0.7zM360.9 120.4h0.7v0.7h-0.7zM354.8 112.6h0.7v0.7h-0.7zM359.3 126.6h0.7v0.7h-0.7zM359.7 131.4h0.7v0.7h-0.7zM360.5 118.9h0.7v0.7h-0.7zM357.3 121.1h0.7v0.7h-0.7zM356.5 119.6h0.7v0.7h-0.7zM361.9 117.1h0.7v0.7h-0.7zM358.4 126.3h0.7v0.7h-0.7zM360.2 124.6h0.7v0.7h-0.7zM357.4 110.0h0.7v0.7h-0.7zM354.9 124.6h0.7v0.7h-0.7zM356.2 129.2h0.7v0.7h-0.7zM357.7 119.1h0.7v0.7h-0.7zM358.0 113.0h0.7v0.7h-0.7zM354.6 115.8h0.7v0.7h-0.7zM359.5 118.3h0.7v0.7h-0.7zM358.0 133.1h0.7v0.7h-0.7zM356.9 112.7h0.7v0.7h-0.7zM354.1 119.8h0.7v0.7h-0.7zM357.8 114.5h0.7v0.7h-0.7zM356.9 119.1h0.7v0.7h-0.7zM360.7 120.7h0.7v0.7h-0.7zM358.3 113.6h0.7v0.7h-0.7zM355.1 118.1h0.7v0.7h-0.7zM360.3 114.3h0.7v0.7h-0.7zM358.9 129.9h0.7v0.7h-0.7zM360.5 128.0h0.7v0.7h-0.7zM353.8 125.2h0.7v0.7h-0.7zM359.4 114.8h0.7v0.7h-0.7zM354.4 112.1h0.7v0.7h-0.7zM360.4 129.2h0.7v0.7h-0.7zM361.0 115.6h0.7v0.7h-0.7zM355.7 115.4h0.7v0.7h-0.7zM357.8 130.5h0.7v0.7h-0.7zM355.5 115.0h0.7v0.7h-0.7zM358.0 117.6h0.7v0.7h-0.7zM359.8 111.7h0.7v0.7h-0.7zM358.9 127.0h0.7v0.7h-0.7zM357.2 132.7h0.7v0.7h-0.7zM357.5 125.8h0.7v0.7h-0.7zM360.4 111.9h0.7v0.7h-0.7zM357.6 126.1h0.7v0.7h-0.7zM358.1 135.0h0.7v0.7h-0.7zM359.0 124.0h0.7v0.7h-0.7zM358.9 117.5h0.7v0.7h-0.7zM360.8 116.4h0.7v0.7h-0.7zM358.0 138.8h0.7v0.7h-0.7zM357.8 123.6h0.7v0.7h-0.7zM358.4 115.2h0.7v0.7h-0.7zM354.0 114.4h0.7v0.7h-0.7zM357.9 115.0h0.7v0.7h-0.7zM356.0 114.8h0.7v0.7h-0.7zM358.4 133.8h0.7v0.7h-0.7zM356.5 119.3h0.7v0.7h-0.7zM353.8 113.2h0.7v0.7h-0.7zM357.4 126.4h0.7v0.7h-0.7zM360.2 123.3h0.7v0.7h-0.7zM356.4 119.3h0.7v0.7h-0.7zM356.8 121.8h0.7v0.7h-0.7zM355.1 112.5h0.7v0.7h-0.7zM356.4 119.9h0.7v0.7h-0.7zM358.3 127.0h0.7v0.7h-0.7zM355.9 121.4h0.7v0.7h-0.7zM355.2 127.3h0.7v0.7h-0.7zM356.6 122.7h0.7v0.7h-0.7zM359.5 125.5h0.7v0.7h-0.7zM355.0 112.3h0.7v0.7h-0.7zM360.3 131.1h0.7v0.7h-0.7zM361.2 115.4h0.7v0.7h-0.7zM357.9 113.4h0.7v0.7h-0.7zM356.7 127.4h0.7v0.7h-0.7zM356.9 117.7h0.7v0.7h-0.7zM360.2 125.2h0.7v0.7h-0.7zM359.1 128.3h0.7v0.7h-0.7zM362.0 115.5h0.7v0.7h-0.7zM359.9 115.0h0.7v0.7h-0.7zM357.2 128.1h0.7v0.7h-0.7zM361.9 119.1h0.7v0.7h-0.7zM360.9 126.7h0.7v0.7h-0.7zM357.6 121.5h0.7v0.7h-0.7zM356.2 128.1h0.7v0.7h-0.7zM359.1 122.8h0.7v0.7h-0.7zM359.9 111.4h0.7v0.7h-0.7zM357.2 130.9h0.7v0.7h-0.7zM359.1 130.6h0.7v0.7h-0.7zM359.3 135.6h0.7v0.7h-0.7zM358.5 121.6h0.7v0.7h-0.7zM361.1 121.5h0.7v0.7h-0.7zM358.1 112.6h0.7v0.7h-0.7zM354.0 121.7h0.7v0.7h-0.7zM356.5 118.4h0.7v0.7h-0.7zM359.2 125.6h0.7v0.7h-0.7zM353.8 116.0h0.7v0.7h-0.7zM357.6 121.1h0.7v0.7h-0.7zM360.6 126.5h0.7v0.7h-0.7zM355.4 128.1h0.7v0.7h-0.7zM359.0 123.2h0.7v0.7h-0.7zM357.0 136.1h0.7v0.7h-0.7zM361.9 110.2h0.7v0.7h-0.7zM360.5 131.8h0.7v0.7h-0.7zM356.7 125.6h0.7v0.7h-0.7zM356.1 131.6h0.7v0.7h-0.7zM355.2 115.0h0.7v0.7h-0.7zM357.2 136.6h0.7v0.7h-0.7zM353.5 116.4h0.7v0.7h-0.7zM356.5 117.5h0.7v0.7h-0.7zM361.1 121.1h0.7v0.7h-0.7zM357.4 112.0h0.7v0.7h-0.7zM355.3 124.7h0.7v0.7h-0.7zM360.5 113.1h0.7v0.7h-0.7zM360.8 121.9h0.7v0.7h-0.7zM360.5 126.4h0.7v0.7h-0.7zM357.0 140.1h0.7v0.7h-0.7zM358.4 131.7h0.7v0.7h-0.7zM357.6 117.4h0.7v0.7h-0.7zM357.0 113.2h0.7v0.7h-0.7zM356.2 113.5h0.7v0.7h-0.7zM357.9 135.2h0.7v0.7h-0.7zM357.6 110.8h0.7v0.7h-0.7zM355.3 127.7h0.7v0.7h-0.7zM356.2 127.1h0.7v0.7h-0.7zM355.9 116.8h0.7v0.7h-0.7zM362.8 120.0h0.7v0.7h-0.7zM356.6 114.8h0.7v0.7h-0.7zM357.9 134.1h0.7v0.7h-0.7zM360.4 130.6h0.7v0.7h-0.7zM360.8 110.4h0.7v0.7h-0.7zM356.9 137.2h0.7v0.7h-0.7zM357.9 118.8h0.7v0.7h-0.7zM354.4 109.3h0.7v0.7h-0.7zM356.1 123.0h0.7v0.7h-0.7zM361.1 126.5h0.7v0.7h-0.7zM358.1 120.1h0.7v0.7h-0.7zM358.7 123.6h0.7v0.7h-0.7zM362.4 108.0h0.7v0.7h-0.7zM361.6 128.2h0.7v0.7h-0.7zM359.9 123.2h0.7v0.7h-0.7zM354.0 111.9h0.7v0.7h-0.7zM360.4 120.6h0.7v0.7h-0.7zM358.1 119.2h0.7v0.7h-0.7zM359.7 122.8h0.7v0.7h-0.7zM360.3 122.8h0.7v0.7h-0.7zM361.8 114.8h0.7v0.7h-0.7zM355.6 114.2h0.7v0.7h-0.7zM357.4 114.9h0.7v0.7h-0.7zM358.2 128.3h0.7v0.7h-0.7zM358.4 121.9h0.7v0.7h-0.7zM356.3 123.4h0.7v0.7h-0.7zM358.5 120.3h0.7v0.7h-0.7zM357.3 135.4h0.7v0.7h-0.7zM360.0 117.0h0.7v0.7h-0.7zM355.1 130.6h0.7v0.7h-0.7z" fill="#dc02e0" opacity="1"/>
<path d="M326.6 108.4h0.8v0.8h-0.8zM326.3 109.7h0.8v0.8h-0.8zM325.3 109.4h0.8v0.8h-0.8zM328.0 115.4h0.8v0.8h-0.8zM325.3 113.2h0.8v0.8h-0.8zM325.8 107.9h0.8v0.8h-0.8zM327.9 110.5h0.8v0.8h-0.8zM328.3 115.0h0.8v0.8h-0.8zM326.5 104.9h0.8v0.8h-0.8zM326.6 111.0h0.8v0.8h-0.8zM327.2 114.4h0.8v0.8h-0.8zM325.5 108.1h0.8v0.8h-0.8zM328.4 114.6h0.8v0.8h-0.8zM326.3 112.5h0.8v0.8h-0.8zM327.8 102.0h0.8v0.8h-0.8zM325.2 119.3h0.8v0.8h-0.8zM324.6 109.8h0.8v0.8h-0.8zM327.8 108.2h0.8v0.8h-0.8zM325.5 103.6h0.8v0.8h-0.8zM327.1 112.2h0.8v0.8h-0.8zM326.3 112.7h0.8v0.8h-0.8zM327.7 112.4h0.8v0.8h-0.8zM326.3 105.2h0.8v0.8h-0.8zM325.8 107.8h0.8v0.8h-0.8zM328.3 108.4h0.8v0.8h-0.8zM326.6 103.4h0.8v0.8h-0.8zM328.2 101.5h0.8v0.8h-0.8zM325.6 117.7h0.8v0.8h-0.8zM327.2 107.4h0.8v0.8h-0.8zM327.5 115.3h0.8v0.8h-0.8zM327.0 124.1h0.8v0.8h-0.8zM327.6 109.7h0.8v0.8h-0.8zM325.8 110.2h0.8v0.8h-0.8zM325.2 108.3h0.8v0.8h-0.8zM324.5 107.5h0.8v0.8h-0.8zM325.2 106.4h0.8v0.8h-0.8zM329.6 118.0h0.8v0.8h-0.8zM326.5 105.9h0.8v0.8h-0.8zM328.8 112.7h0.8v0.8h-0.8zM326.5 113.0h0.8v0.8h-0.8zM326.9 111.5h0.8v0.8h-0.8zM326.5 110.5h0.8v0.8h-0.8zM327.1 110.1h0.8v0.8h-0.8zM327.0 115.1h0.8v0.8h-0.8zM326.2 108.9h0.8v0.8h-0.8zM325.7 105.9h0.8v0.8h-0.8zM327.3 109.9h0.8v0.8h-0.8zM327.7 107.1h0.8v0.8h-0.8zM329.3 100.8h0.8v0.8h-0.8zM324.9 107.2h0.8v0.8h-0.8zM327.0 104.4h0.8v0.8h-0.8zM324.3 111.7h0.8v0.8h-0.8zM326.7 113.7h0.8v0.8h-0.8zM327.7 113.5h0.8v0.8h-0.8zM326.0 111.3h0.8v0.8h-0.8zM326.3 114.1h0.8v0.8h-0.8zM327.6 108.3h0.8v0.8h-0.8zM324.9 113.5h0.8v0.8h-0.8zM324.4 111.1h0.8v0.8h-0.8zM324.3 117.0h0.8v0.8h-0.8z" fill="#7a7040" opacity="1"/>
<path d="M360.8 105.6h0.8v0.8h-0.8zM360.8 103.9h0.8v0.8h-0.8zM356.9 107.7h0.8v0.8h-0.8zM359.7 104.3h0.8v0.8h-0.8zM357.4 108.0h0.8v0.8h-0.8zM359.1 105.9h0.8v0.8h-0.8zM359.5 105.2h0.8v0.8h-0.8zM359.8 107.9h0.8v0.8h-0.8zM358.6 106.2h0.8v0.8h-0.8zM361.4 102.2h0.8v0.8h-0.8zM361.6 108.1h0.8v0.8h-0.8zM362.5 104.2h0.8v0.8h-0.8zM353.4 109.4h0.8v0.8h-0.8zM356.8 107.1h0.8v0.8h-0.8zM360.4 110.0h0.8v0.8h-0.8zM356.1 107.1h0.8v0.8h-0.8zM361.4 105.6h0.8v0.8h-0.8zM356.5 107.3h0.8v0.8h-0.8zM359.3 104.8h0.8v0.8h-0.8zM359.4 105.3h0.8v0.8h-0.8zM357.5 110.2h0.8v0.8h-0.8zM360.4 105.5h0.8v0.8h-0.8zM359.5 102.1h0.8v0.8h-0.8zM364.1 107.0h0.8v0.8h-0.8zM361.1 109.0h0.8v0.8h-0.8zM359.8 107.0h0.8v0.8h-0.8zM358.1 105.5h0.8v0.8h-0.8zM359.7 106.9h0.8v0.8h-0.8zM359.6 104.6h0.8v0.8h-0.8zM360.3 104.0h0.8v0.8h-0.8zM359.7 104.0h0.8v0.8h-0.8zM360.3 110.0h0.8v0.8h-0.8zM359.3 104.1h0.8v0.8h-0.8zM360.3 105.9h0.8v0.8h-0.8zM356.8 109.3h0.8v0.8h-0.8zM359.5 105.4h0.8v0.8h-0.8zM361.0 104.7h0.8v0.8h-0.8zM359.9 106.6h0.8v0.8h-0.8zM359.5 103.9h0.8v0.8h-0.8zM360.2 107.2h0.8v0.8h-0.8z" fill="#8a7a48" opacity="1"/>
<path d="M331.5 229.7h0.6v0.6h-0.6zM333.6 256.0h0.6v0.6h-0.6zM328.6 204.1h0.6v0.6h-0.6zM335.2 204.7h0.6v0.6h-0.6zM335.2 197.0h0.6v0.6h-0.6zM324.2 191.5h0.6v0.6h-0.6zM338.6 211.8h0.6v0.6h-0.6zM319.6 211.4h0.6v0.6h-0.6zM339.7 212.1h0.6v0.6h-0.6zM340.1 203.4h0.6v0.6h-0.6zM328.8 208.6h0.6v0.6h-0.6zM339.2 196.8h0.6v0.6h-0.6zM328.2 219.4h0.6v0.6h-0.6zM320.5 198.0h0.6v0.6h-0.6zM326.5 207.7h0.6v0.6h-0.6zM321.2 208.8h0.6v0.6h-0.6zM321.4 206.3h0.6v0.6h-0.6zM337.9 213.3h0.6v0.6h-0.6zM345.0 193.0h0.6v0.6h-0.6zM324.9 209.6h0.6v0.6h-0.6zM348.4 212.7h0.6v0.6h-0.6zM333.0 205.1h0.6v0.6h-0.6zM301.9 217.1h0.6v0.6h-0.6zM340.9 217.6h0.6v0.6h-0.6zM349.8 206.7h0.6v0.6h-0.6zM342.6 231.6h0.6v0.6h-0.6zM340.0 212.9h0.6v0.6h-0.6zM325.1 228.6h0.6v0.6h-0.6zM336.3 208.6h0.6v0.6h-0.6zM344.4 215.9h0.6v0.6h-0.6zM325.2 220.3h0.6v0.6h-0.6zM323.5 219.8h0.6v0.6h-0.6zM342.0 208.2h0.6v0.6h-0.6zM304.7 215.2h0.6v0.6h-0.6zM329.2 214.7h0.6v0.6h-0.6zM318.6 204.4h0.6v0.6h-0.6zM346.8 216.6h0.6v0.6h-0.6zM349.8 205.3h0.6v0.6h-0.6zM337.5 195.7h0.6v0.6h-0.6zM342.3 217.5h0.6v0.6h-0.6zM341.9 188.0h0.6v0.6h-0.6zM342.7 199.0h0.6v0.6h-0.6zM332.8 231.7h0.6v0.6h-0.6zM328.1 215.5h0.6v0.6h-0.6zM324.0 192.0h0.6v0.6h-0.6zM340.0 206.6h0.6v0.6h-0.6zM340.7 210.8h0.6v0.6h-0.6zM333.5 231.6h0.6v0.6h-0.6zM325.9 211.2h0.6v0.6h-0.6zM317.7 205.2h0.6v0.6h-0.6zM340.7 207.9h0.6v0.6h-0.6zM328.9 224.0h0.6v0.6h-0.6zM333.0 226.7h0.6v0.6h-0.6zM323.6 224.2h0.6v0.6h-0.6zM333.4 231.2h0.6v0.6h-0.6zM349.7 210.7h0.6v0.6h-0.6zM328.5 187.7h0.6v0.6h-0.6zM330.0 190.9h0.6v0.6h-0.6zM327.3 220.7h0.6v0.6h-0.6zM339.8 212.2h0.6v0.6h-0.6zM326.0 223.5h0.6v0.6h-0.6zM333.0 207.4h0.6v0.6h-0.6zM341.9 223.6h0.6v0.6h-0.6zM332.4 214.7h0.6v0.6h-0.6zM329.9 248.8h0.6v0.6h-0.6zM332.5 217.2h0.6v0.6h-0.6zM350.9 191.1h0.6v0.6h-0.6zM333.4 189.7h0.6v0.6h-0.6zM323.4 206.6h0.6v0.6h-0.6zM340.8 220.1h0.6v0.6h-0.6zM345.5 197.5h0.6v0.6h-0.6zM340.0 227.9h0.6v0.6h-0.6zM332.6 240.3h0.6v0.6h-0.6zM324.5 214.8h0.6v0.6h-0.6zM337.4 224.5h0.6v0.6h-0.6zM325.2 212.8h0.6v0.6h-0.6zM344.7 210.8h0.6v0.6h-0.6zM330.2 185.2h0.6v0.6h-0.6zM322.9 226.7h0.6v0.6h-0.6zM330.4 212.4h0.6v0.6h-0.6zM350.5 225.5h0.6v0.6h-0.6zM338.7 218.9h0.6v0.6h-0.6zM345.4 232.1h0.6v0.6h-0.6zM324.0 200.2h0.6v0.6h-0.6zM343.4 227.5h0.6v0.6h-0.6zM348.0 207.9h0.6v0.6h-0.6zM342.7 195.4h0.6v0.6h-0.6zM330.9 219.9h0.6v0.6h-0.6zM333.0 180.1h0.6v0.6h-0.6zM349.1 211.0h0.6v0.6h-0.6zM336.3 215.0h0.6v0.6h-0.6zM351.6 212.2h0.6v0.6h-0.6zM338.7 217.7h0.6v0.6h-0.6zM347.7 202.3h0.6v0.6h-0.6zM338.8 211.3h0.6v0.6h-0.6zM341.1 209.6h0.6v0.6h-0.6zM331.5 238.1h0.6v0.6h-0.6zM323.5 199.7h0.6v0.6h-0.6zM338.1 209.5h0.6v0.6h-0.6zM327.3 205.1h0.6v0.6h-0.6zM329.8 197.8h0.6v0.6h-0.6zM320.1 209.8h0.6v0.6h-0.6zM320.3 196.9h0.6v0.6h-0.6zM331.5 205.8h0.6v0.6h-0.6zM347.7 216.4h0.6v0.6h-0.6zM347.4 218.9h0.6v0.6h-0.6zM313.0 217.5h0.6v0.6h-0.6zM320.7 224.8h0.6v0.6h-0.6zM335.2 184.9h0.6v0.6h-0.6zM340.8 191.1h0.6v0.6h-0.6zM355.3 197.3h0.6v0.6h-0.6zM327.5 205.3h0.6v0.6h-0.6zM320.4 221.4h0.6v0.6h-0.6zM346.2 214.8h0.6v0.6h-0.6zM321.3 216.9h0.6v0.6h-0.6zM344.1 193.8h0.6v0.6h-0.6zM332.3 223.2h0.6v0.6h-0.6zM319.9 218.6h0.6v0.6h-0.6zM319.9 222.6h0.6v0.6h-0.6zM330.7 208.1h0.6v0.6h-0.6zM334.4 208.3h0.6v0.6h-0.6zM324.0 224.3h0.6v0.6h-0.6zM333.2 198.5h0.6v0.6h-0.6zM333.8 214.1h0.6v0.6h-0.6zM332.4 183.7h0.6v0.6h-0.6zM340.8 209.4h0.6v0.6h-0.6zM324.8 213.8h0.6v0.6h-0.6zM339.1 209.4h0.6v0.6h-0.6zM325.2 219.3h0.6v0.6h-0.6zM333.3 211.0h0.6v0.6h-0.6zM340.1 188.0h0.6v0.6h-0.6zM328.7 195.5h0.6v0.6h-0.6zM319.6 209.4h0.6v0.6h-0.6zM338.2 241.1h0.6v0.6h-0.6zM339.5 209.5h0.6v0.6h-0.6zM326.5 219.2h0.6v0.6h-0.6zM344.5 213.9h0.6v0.6h-0.6zM323.8 221.4h0.6v0.6h-0.6zM340.9 228.7h0.6v0.6h-0.6zM342.2 199.7h0.6v0.6h-0.6zM324.2 209.1h0.6v0.6h-0.6zM332.3 227.7h0.6v0.6h-0.6zM342.5 247.0h0.6v0.6h-0.6zM327.3 192.0h0.6v0.6h-0.6zM339.5 237.7h0.6v0.6h-0.6zM337.6 204.1h0.6v0.6h-0.6zM354.1 202.9h0.6v0.6h-0.6zM331.8 212.8h0.6v0.6h-0.6zM329.1 215.5h0.6v0.6h-0.6zM345.4 203.2h0.6v0.6h-0.6zM328.5 220.2h0.6v0.6h-0.6zM325.5 206.1h0.6v0.6h-0.6zM327.3 232.8h0.6v0.6h-0.6zM334.1 203.8h0.6v0.6h-0.6zM329.8 203.6h0.6v0.6h-0.6zM324.6 207.6h0.6v0.6h-0.6zM342.6 205.0h0.6v0.6h-0.6zM334.6 216.3h0.6v0.6h-0.6zM333.5 226.3h0.6v0.6h-0.6zM356.3 219.1h0.6v0.6h-0.6zM335.7 216.5h0.6v0.6h-0.6zM335.7 214.6h0.6v0.6h-0.6zM341.3 213.4h0.6v0.6h-0.6zM351.0 215.0h0.6v0.6h-0.6zM329.8 217.4h0.6v0.6h-0.6zM335.6 213.5h0.6v0.6h-0.6zM332.5 229.4h0.6v0.6h-0.6zM345.6 209.7h0.6v0.6h-0.6zM325.6 224.3h0.6v0.6h-0.6zM344.9 218.4h0.6v0.6h-0.6zM327.0 217.8h0.6v0.6h-0.6zM358.3 220.1h0.6v0.6h-0.6zM337.9 208.2h0.6v0.6h-0.6zM331.1 218.4h0.6v0.6h-0.6zM342.3 198.2h0.6v0.6h-0.6zM339.6 221.4h0.6v0.6h-0.6zM333.2 228.2h0.6v0.6h-0.6zM337.8 205.9h0.6v0.6h-0.6zM341.3 239.7h0.6v0.6h-0.6zM343.9 210.8h0.6v0.6h-0.6zM348.8 205.6h0.6v0.6h-0.6zM359.6 231.3h0.6v0.6h-0.6zM333.2 225.1h0.6v0.6h-0.6zM336.2 180.9h0.6v0.6h-0.6zM327.6 195.3h0.6v0.6h-0.6zM345.1 234.8h0.6v0.6h-0.6zM349.1 190.1h0.6v0.6h-0.6zM342.6 229.5h0.6v0.6h-0.6zM317.5 212.8h0.6v0.6h-0.6zM327.2 215.9h0.6v0.6h-0.6zM325.7 205.9h0.6v0.6h-0.6zM330.7 236.1h0.6v0.6h-0.6zM345.7 213.3h0.6v0.6h-0.6zM333.8 218.8h0.6v0.6h-0.6zM329.4 224.0h0.6v0.6h-0.6zM328.5 237.7h0.6v0.6h-0.6zM347.6 211.1h0.6v0.6h-0.6zM322.3 199.4h0.6v0.6h-0.6zM339.1 193.7h0.6v0.6h-0.6zM334.6 227.4h0.6v0.6h-0.6z" fill="#c08a58" opacity="0.75"/>
<path d="M327.4 235.5h0.6v0.6h-0.6zM331.9 230.4h0.6v0.6h-0.6zM337.0 249.6h0.6v0.6h-0.6zM337.0 227.7h0.6v0.6h-0.6zM331.6 236.1h0.6v0.6h-0.6zM344.5 244.1h0.6v0.6h-0.6zM343.9 225.6h0.6v0.6h-0.6zM323.6 229.3h0.6v0.6h-0.6zM345.3 234.2h0.6v0.6h-0.6zM334.0 226.3h0.6v0.6h-0.6zM333.8 229.0h0.6v0.6h-0.6zM328.0 225.8h0.6v0.6h-0.6zM335.2 238.1h0.6v0.6h-0.6zM346.9 226.7h0.6v0.6h-0.6zM345.2 231.6h0.6v0.6h-0.6zM344.2 242.8h0.6v0.6h-0.6zM344.2 223.9h0.6v0.6h-0.6zM325.1 225.0h0.6v0.6h-0.6zM337.4 250.3h0.6v0.6h-0.6zM319.6 231.3h0.6v0.6h-0.6zM338.6 243.4h0.6v0.6h-0.6zM341.4 230.2h0.6v0.6h-0.6zM346.6 232.6h0.6v0.6h-0.6zM323.9 225.5h0.6v0.6h-0.6zM338.3 239.5h0.6v0.6h-0.6zM349.2 216.2h0.6v0.6h-0.6zM355.6 223.2h0.6v0.6h-0.6zM336.8 234.1h0.6v0.6h-0.6zM344.3 244.8h0.6v0.6h-0.6zM332.7 219.0h0.6v0.6h-0.6zM330.7 232.1h0.6v0.6h-0.6zM329.5 220.7h0.6v0.6h-0.6zM328.1 234.7h0.6v0.6h-0.6zM320.1 234.5h0.6v0.6h-0.6zM330.1 238.6h0.6v0.6h-0.6zM333.4 235.5h0.6v0.6h-0.6zM344.6 230.0h0.6v0.6h-0.6zM337.4 238.2h0.6v0.6h-0.6zM331.5 222.3h0.6v0.6h-0.6zM341.1 238.9h0.6v0.6h-0.6zM336.5 237.6h0.6v0.6h-0.6zM323.8 229.7h0.6v0.6h-0.6zM347.4 226.8h0.6v0.6h-0.6zM340.8 227.5h0.6v0.6h-0.6zM329.7 226.7h0.6v0.6h-0.6zM336.8 227.7h0.6v0.6h-0.6zM328.0 221.9h0.6v0.6h-0.6zM346.2 237.7h0.6v0.6h-0.6zM336.6 245.9h0.6v0.6h-0.6zM341.6 232.8h0.6v0.6h-0.6zM347.2 248.2h0.6v0.6h-0.6zM332.1 226.3h0.6v0.6h-0.6zM333.5 230.5h0.6v0.6h-0.6zM350.2 230.6h0.6v0.6h-0.6zM331.1 244.4h0.6v0.6h-0.6zM333.2 219.8h0.6v0.6h-0.6zM337.6 233.7h0.6v0.6h-0.6zM319.8 227.4h0.6v0.6h-0.6zM326.8 237.8h0.6v0.6h-0.6zM325.5 235.9h0.6v0.6h-0.6zM330.5 231.6h0.6v0.6h-0.6zM342.8 232.9h0.6v0.6h-0.6zM343.1 234.9h0.6v0.6h-0.6zM348.2 230.4h0.6v0.6h-0.6zM343.2 238.2h0.6v0.6h-0.6zM349.2 234.4h0.6v0.6h-0.6zM336.3 235.8h0.6v0.6h-0.6zM330.9 241.1h0.6v0.6h-0.6zM318.7 229.3h0.6v0.6h-0.6zM336.5 229.6h0.6v0.6h-0.6zM327.6 250.3h0.6v0.6h-0.6zM328.2 228.1h0.6v0.6h-0.6zM330.7 233.5h0.6v0.6h-0.6zM353.3 236.0h0.6v0.6h-0.6zM333.4 226.8h0.6v0.6h-0.6zM333.3 234.8h0.6v0.6h-0.6zM336.6 233.9h0.6v0.6h-0.6zM332.3 238.2h0.6v0.6h-0.6zM336.6 234.0h0.6v0.6h-0.6zM327.7 246.5h0.6v0.6h-0.6zM339.9 213.8h0.6v0.6h-0.6zM340.8 255.8h0.6v0.6h-0.6zM352.2 236.6h0.6v0.6h-0.6zM328.0 216.7h0.6v0.6h-0.6zM331.7 223.1h0.6v0.6h-0.6zM335.0 234.2h0.6v0.6h-0.6zM323.2 224.8h0.6v0.6h-0.6zM318.5 241.5h0.6v0.6h-0.6zM335.1 243.7h0.6v0.6h-0.6zM325.8 228.6h0.6v0.6h-0.6zM332.1 238.5h0.6v0.6h-0.6zM331.8 243.2h0.6v0.6h-0.6zM334.8 231.7h0.6v0.6h-0.6zM332.5 241.1h0.6v0.6h-0.6zM341.1 241.2h0.6v0.6h-0.6zM328.0 233.5h0.6v0.6h-0.6zM334.5 233.0h0.6v0.6h-0.6zM327.0 224.3h0.6v0.6h-0.6zM332.9 246.0h0.6v0.6h-0.6zM326.5 244.0h0.6v0.6h-0.6zM348.7 236.1h0.6v0.6h-0.6zM328.3 228.8h0.6v0.6h-0.6zM342.0 230.3h0.6v0.6h-0.6zM338.6 222.6h0.6v0.6h-0.6zM345.6 230.6h0.6v0.6h-0.6zM330.4 239.0h0.6v0.6h-0.6zM340.5 226.0h0.6v0.6h-0.6zM328.1 235.8h0.6v0.6h-0.6zM336.6 241.9h0.6v0.6h-0.6zM336.5 226.7h0.6v0.6h-0.6zM340.9 231.6h0.6v0.6h-0.6zM328.9 232.6h0.6v0.6h-0.6zM330.9 236.3h0.6v0.6h-0.6zM340.5 227.9h0.6v0.6h-0.6zM339.2 230.8h0.6v0.6h-0.6zM331.7 248.2h0.6v0.6h-0.6zM336.8 230.7h0.6v0.6h-0.6zM329.9 227.1h0.6v0.6h-0.6zM333.8 227.2h0.6v0.6h-0.6zM339.6 254.5h0.6v0.6h-0.6zM335.4 244.2h0.6v0.6h-0.6zM348.4 238.7h0.6v0.6h-0.6zM323.6 228.5h0.6v0.6h-0.6zM314.1 238.8h0.6v0.6h-0.6zM337.1 231.6h0.6v0.6h-0.6zM334.3 229.4h0.6v0.6h-0.6zM341.9 244.4h0.6v0.6h-0.6zM341.5 230.7h0.6v0.6h-0.6zM336.9 231.1h0.6v0.6h-0.6zM332.0 230.8h0.6v0.6h-0.6zM344.7 234.0h0.6v0.6h-0.6zM337.8 235.7h0.6v0.6h-0.6zM330.9 225.8h0.6v0.6h-0.6zM339.6 221.0h0.6v0.6h-0.6zM338.4 223.3h0.6v0.6h-0.6zM335.2 239.2h0.6v0.6h-0.6zM330.5 228.3h0.6v0.6h-0.6zM331.1 226.8h0.6v0.6h-0.6zM334.0 243.5h0.6v0.6h-0.6zM344.5 243.9h0.6v0.6h-0.6z" fill="#d8a0d0" opacity="0.75"/>
<polygon points="340.0,193.0 346.0,191.0 352.0,190.0 357.0,189.5 360.5,190.0 361.0,200.0 360.0,212.0 350.0,213.0 342.0,212.0 340.0,203.0" fill="#7a7a50" opacity="0.35" filter="url(#b2)"/>
<polygon points="340.0,193.0 346.0,191.0 352.0,190.0 357.0,189.5 360.5,190.0 361.0,200.0 360.0,212.0 350.0,213.0 342.0,212.0 340.0,203.0" fill="#8c8a5c" opacity="0.8" filter="url(#b08)"/>
<path d="M357.7 195.7h0.7v0.7h-0.7zM358.0 196.1h0.7v0.7h-0.7zM360.2 203.1h0.7v0.7h-0.7zM357.7 210.9h0.7v0.7h-0.7zM354.2 212.5h0.7v0.7h-0.7zM354.1 199.0h0.7v0.7h-0.7zM348.4 196.6h0.7v0.7h-0.7zM345.3 207.0h0.7v0.7h-0.7zM356.9 211.2h0.7v0.7h-0.7zM349.9 206.0h0.7v0.7h-0.7zM351.6 197.0h0.7v0.7h-0.7zM339.6 205.6h0.7v0.7h-0.7zM359.2 198.9h0.7v0.7h-0.7zM360.2 204.7h0.7v0.7h-0.7zM344.8 209.6h0.7v0.7h-0.7zM347.4 197.3h0.7v0.7h-0.7zM355.3 212.4h0.7v0.7h-0.7zM347.0 211.6h0.7v0.7h-0.7zM344.5 197.8h0.7v0.7h-0.7zM347.0 201.7h0.7v0.7h-0.7zM342.6 206.4h0.7v0.7h-0.7zM353.5 192.9h0.7v0.7h-0.7zM356.5 192.8h0.7v0.7h-0.7zM348.9 201.0h0.7v0.7h-0.7zM347.5 213.0h0.7v0.7h-0.7zM347.7 194.7h0.7v0.7h-0.7zM354.5 210.0h0.7v0.7h-0.7zM344.6 201.6h0.7v0.7h-0.7zM351.8 207.5h0.7v0.7h-0.7zM358.3 206.5h0.7v0.7h-0.7zM348.0 200.1h0.7v0.7h-0.7zM354.1 208.5h0.7v0.7h-0.7zM358.5 204.4h0.7v0.7h-0.7zM351.6 195.7h0.7v0.7h-0.7zM340.5 210.0h0.7v0.7h-0.7zM345.3 210.4h0.7v0.7h-0.7zM358.0 190.9h0.7v0.7h-0.7zM350.5 192.3h0.7v0.7h-0.7zM348.5 202.9h0.7v0.7h-0.7zM355.8 205.5h0.7v0.7h-0.7zM358.4 197.1h0.7v0.7h-0.7zM361.7 194.5h0.7v0.7h-0.7zM354.5 198.0h0.7v0.7h-0.7zM345.6 207.6h0.7v0.7h-0.7zM351.3 206.8h0.7v0.7h-0.7zM359.8 208.9h0.7v0.7h-0.7zM353.3 206.7h0.7v0.7h-0.7zM349.7 192.0h0.7v0.7h-0.7zM355.6 203.9h0.7v0.7h-0.7zM352.8 204.2h0.7v0.7h-0.7zM359.6 189.9h0.7v0.7h-0.7zM356.2 206.1h0.7v0.7h-0.7zM349.8 203.2h0.7v0.7h-0.7zM345.5 212.6h0.7v0.7h-0.7zM354.0 200.2h0.7v0.7h-0.7zM344.5 207.9h0.7v0.7h-0.7zM357.9 200.4h0.7v0.7h-0.7zM349.1 211.7h0.7v0.7h-0.7zM347.5 191.2h0.7v0.7h-0.7zM351.3 206.7h0.7v0.7h-0.7zM352.9 194.9h0.7v0.7h-0.7zM341.7 200.1h0.7v0.7h-0.7zM350.5 195.3h0.7v0.7h-0.7zM356.5 197.1h0.7v0.7h-0.7zM348.7 206.3h0.7v0.7h-0.7zM352.6 201.2h0.7v0.7h-0.7zM347.3 201.3h0.7v0.7h-0.7zM349.1 202.9h0.7v0.7h-0.7zM360.6 200.1h0.7v0.7h-0.7zM350.0 211.3h0.7v0.7h-0.7zM345.1 207.8h0.7v0.7h-0.7zM351.7 205.3h0.7v0.7h-0.7zM356.0 208.3h0.7v0.7h-0.7zM347.6 213.1h0.7v0.7h-0.7zM353.8 213.0h0.7v0.7h-0.7zM349.7 209.2h0.7v0.7h-0.7zM357.8 196.0h0.7v0.7h-0.7zM340.4 198.4h0.7v0.7h-0.7zM346.4 207.4h0.7v0.7h-0.7zM340.5 193.2h0.7v0.7h-0.7zM341.5 206.5h0.7v0.7h-0.7zM353.1 211.3h0.7v0.7h-0.7zM349.4 201.9h0.7v0.7h-0.7zM350.3 205.8h0.7v0.7h-0.7zM344.1 197.4h0.7v0.7h-0.7zM346.1 203.6h0.7v0.7h-0.7zM362.8 208.0h0.7v0.7h-0.7zM343.1 194.7h0.7v0.7h-0.7zM358.1 209.8h0.7v0.7h-0.7zM351.2 204.1h0.7v0.7h-0.7zM354.6 194.0h0.7v0.7h-0.7zM359.0 194.1h0.7v0.7h-0.7zM343.0 193.0h0.7v0.7h-0.7zM344.7 203.3h0.7v0.7h-0.7zM343.0 212.2h0.7v0.7h-0.7zM355.8 206.2h0.7v0.7h-0.7zM358.3 210.4h0.7v0.7h-0.7zM358.0 199.6h0.7v0.7h-0.7zM346.2 206.3h0.7v0.7h-0.7zM346.2 199.1h0.7v0.7h-0.7zM358.0 194.0h0.7v0.7h-0.7zM341.8 205.6h0.7v0.7h-0.7zM352.7 193.0h0.7v0.7h-0.7zM352.1 200.8h0.7v0.7h-0.7zM348.5 190.7h0.7v0.7h-0.7zM346.0 197.9h0.7v0.7h-0.7zM342.9 207.8h0.7v0.7h-0.7zM357.1 203.3h0.7v0.7h-0.7zM356.7 194.1h0.7v0.7h-0.7zM349.2 210.1h0.7v0.7h-0.7zM353.0 195.9h0.7v0.7h-0.7zM346.1 204.4h0.7v0.7h-0.7zM348.6 210.4h0.7v0.7h-0.7zM353.9 197.5h0.7v0.7h-0.7zM348.2 204.1h0.7v0.7h-0.7zM358.8 192.4h0.7v0.7h-0.7zM343.4 194.2h0.7v0.7h-0.7zM354.6 210.4h0.7v0.7h-0.7zM355.8 203.1h0.7v0.7h-0.7zM350.1 191.7h0.7v0.7h-0.7zM362.3 195.4h0.7v0.7h-0.7zM354.3 189.5h0.7v0.7h-0.7zM350.9 199.4h0.7v0.7h-0.7zM341.5 197.9h0.7v0.7h-0.7zM348.7 204.6h0.7v0.7h-0.7zM356.2 200.6h0.7v0.7h-0.7zM344.7 201.0h0.7v0.7h-0.7zM345.9 189.4h0.7v0.7h-0.7zM355.0 198.7h0.7v0.7h-0.7zM355.0 189.7h0.7v0.7h-0.7zM350.0 202.7h0.7v0.7h-0.7zM345.0 195.6h0.7v0.7h-0.7zM360.1 202.5h0.7v0.7h-0.7zM355.2 199.5h0.7v0.7h-0.7zM346.7 189.1h0.7v0.7h-0.7zM343.3 209.4h0.7v0.7h-0.7zM356.5 199.4h0.7v0.7h-0.7zM349.0 196.4h0.7v0.7h-0.7zM339.8 201.3h0.7v0.7h-0.7zM350.7 192.8h0.7v0.7h-0.7zM357.6 197.3h0.7v0.7h-0.7zM348.7 190.8h0.7v0.7h-0.7zM345.5 210.8h0.7v0.7h-0.7zM346.5 189.9h0.7v0.7h-0.7zM356.8 205.9h0.7v0.7h-0.7zM350.8 194.6h0.7v0.7h-0.7zM346.5 194.7h0.7v0.7h-0.7zM343.1 207.1h0.7v0.7h-0.7zM340.0 201.7h0.7v0.7h-0.7zM347.8 203.2h0.7v0.7h-0.7zM361.1 191.1h0.7v0.7h-0.7zM354.4 200.5h0.7v0.7h-0.7zM350.1 201.6h0.7v0.7h-0.7zM348.3 191.2h0.7v0.7h-0.7zM342.6 196.2h0.7v0.7h-0.7zM349.6 196.9h0.7v0.7h-0.7zM338.7 205.0h0.7v0.7h-0.7zM345.4 197.8h0.7v0.7h-0.7zM357.6 203.8h0.7v0.7h-0.7zM346.6 193.5h0.7v0.7h-0.7zM349.0 195.0h0.7v0.7h-0.7zM359.5 191.6h0.7v0.7h-0.7zM353.6 204.7h0.7v0.7h-0.7zM346.1 207.7h0.7v0.7h-0.7zM361.4 192.3h0.7v0.7h-0.7zM359.4 198.8h0.7v0.7h-0.7zM358.0 197.5h0.7v0.7h-0.7zM355.5 210.5h0.7v0.7h-0.7zM343.8 204.1h0.7v0.7h-0.7zM350.5 194.7h0.7v0.7h-0.7zM340.7 209.7h0.7v0.7h-0.7zM341.1 205.0h0.7v0.7h-0.7zM339.2 199.1h0.7v0.7h-0.7zM354.6 193.1h0.7v0.7h-0.7zM357.9 197.3h0.7v0.7h-0.7zM341.1 200.9h0.7v0.7h-0.7zM351.0 203.9h0.7v0.7h-0.7zM348.3 203.4h0.7v0.7h-0.7zM339.7 196.2h0.7v0.7h-0.7zM356.4 199.5h0.7v0.7h-0.7zM359.2 204.6h0.7v0.7h-0.7zM345.9 212.5h0.7v0.7h-0.7zM349.6 202.5h0.7v0.7h-0.7zM344.0 194.4h0.7v0.7h-0.7zM347.0 196.2h0.7v0.7h-0.7zM345.5 199.5h0.7v0.7h-0.7zM346.0 198.2h0.7v0.7h-0.7zM341.6 197.4h0.7v0.7h-0.7zM357.4 206.0h0.7v0.7h-0.7zM346.4 201.4h0.7v0.7h-0.7zM347.5 191.9h0.7v0.7h-0.7zM342.9 202.0h0.7v0.7h-0.7zM342.6 198.2h0.7v0.7h-0.7zM347.8 200.2h0.7v0.7h-0.7zM360.3 195.2h0.7v0.7h-0.7zM344.6 197.1h0.7v0.7h-0.7zM351.5 206.4h0.7v0.7h-0.7zM360.7 209.6h0.7v0.7h-0.7zM355.7 195.6h0.7v0.7h-0.7zM346.4 195.3h0.7v0.7h-0.7zM354.9 210.8h0.7v0.7h-0.7zM359.8 211.0h0.7v0.7h-0.7zM343.0 206.1h0.7v0.7h-0.7zM354.5 202.7h0.7v0.7h-0.7zM341.5 203.5h0.7v0.7h-0.7zM343.3 201.0h0.7v0.7h-0.7zM346.1 199.1h0.7v0.7h-0.7zM340.7 200.4h0.7v0.7h-0.7zM360.5 200.1h0.7v0.7h-0.7zM351.1 193.0h0.7v0.7h-0.7zM353.0 209.9h0.7v0.7h-0.7zM357.6 212.3h0.7v0.7h-0.7zM359.1 205.9h0.7v0.7h-0.7zM357.6 197.7h0.7v0.7h-0.7zM349.3 195.1h0.7v0.7h-0.7zM351.1 210.0h0.7v0.7h-0.7zM352.8 201.0h0.7v0.7h-0.7zM357.3 198.6h0.7v0.7h-0.7zM353.3 209.5h0.7v0.7h-0.7zM350.4 204.8h0.7v0.7h-0.7zM344.4 200.1h0.7v0.7h-0.7zM343.7 197.1h0.7v0.7h-0.7zM342.4 209.5h0.7v0.7h-0.7zM346.4 203.0h0.7v0.7h-0.7zM343.1 195.3h0.7v0.7h-0.7zM346.5 192.3h0.7v0.7h-0.7zM350.0 207.4h0.7v0.7h-0.7zM350.3 194.0h0.7v0.7h-0.7zM347.0 196.4h0.7v0.7h-0.7zM347.3 206.8h0.7v0.7h-0.7zM346.5 209.8h0.7v0.7h-0.7zM351.9 205.5h0.7v0.7h-0.7zM358.1 209.1h0.7v0.7h-0.7zM346.8 197.5h0.7v0.7h-0.7zM354.9 191.9h0.7v0.7h-0.7zM358.1 204.8h0.7v0.7h-0.7zM353.7 199.3h0.7v0.7h-0.7zM339.7 194.6h0.7v0.7h-0.7zM339.3 203.2h0.7v0.7h-0.7zM359.2 190.4h0.7v0.7h-0.7zM342.1 211.5h0.7v0.7h-0.7zM347.2 196.0h0.7v0.7h-0.7zM345.3 196.2h0.7v0.7h-0.7zM357.3 212.0h0.7v0.7h-0.7zM342.3 200.3h0.7v0.7h-0.7zM349.2 191.9h0.7v0.7h-0.7zM348.5 212.5h0.7v0.7h-0.7zM361.1 202.8h0.7v0.7h-0.7zM359.1 205.3h0.7v0.7h-0.7zM339.0 206.3h0.7v0.7h-0.7zM344.1 207.2h0.7v0.7h-0.7zM355.3 201.4h0.7v0.7h-0.7zM353.9 206.3h0.7v0.7h-0.7zM355.6 211.0h0.7v0.7h-0.7zM348.0 193.5h0.7v0.7h-0.7zM349.4 214.5h0.7v0.7h-0.7zM341.6 196.2h0.7v0.7h-0.7zM360.2 203.2h0.7v0.7h-0.7zM353.6 196.8h0.7v0.7h-0.7zM350.9 210.1h0.7v0.7h-0.7zM354.4 194.1h0.7v0.7h-0.7zM358.0 205.4h0.7v0.7h-0.7zM346.9 199.3h0.7v0.7h-0.7zM339.9 196.4h0.7v0.7h-0.7zM344.6 203.7h0.7v0.7h-0.7zM351.7 205.9h0.7v0.7h-0.7zM358.4 204.1h0.7v0.7h-0.7zM360.4 198.0h0.7v0.7h-0.7zM356.1 204.7h0.7v0.7h-0.7zM352.4 212.0h0.7v0.7h-0.7zM362.3 199.1h0.7v0.7h-0.7zM348.5 193.2h0.7v0.7h-0.7zM343.7 200.1h0.7v0.7h-0.7zM358.4 199.7h0.7v0.7h-0.7zM349.5 203.6h0.7v0.7h-0.7zM352.1 202.0h0.7v0.7h-0.7zM355.4 198.0h0.7v0.7h-0.7zM355.5 209.3h0.7v0.7h-0.7zM356.5 199.9h0.7v0.7h-0.7zM361.8 196.4h0.7v0.7h-0.7zM344.4 205.0h0.7v0.7h-0.7zM350.1 206.1h0.7v0.7h-0.7zM360.1 201.3h0.7v0.7h-0.7zM355.4 195.3h0.7v0.7h-0.7zM344.8 203.9h0.7v0.7h-0.7zM350.9 190.9h0.7v0.7h-0.7zM358.1 208.4h0.7v0.7h-0.7zM349.6 199.2h0.7v0.7h-0.7zM343.5 195.4h0.7v0.7h-0.7zM346.6 209.7h0.7v0.7h-0.7zM361.3 202.9h0.7v0.7h-0.7zM355.3 191.5h0.7v0.7h-0.7zM342.9 197.0h0.7v0.7h-0.7zM356.5 206.6h0.7v0.7h-0.7zM344.6 201.2h0.7v0.7h-0.7zM356.5 194.5h0.7v0.7h-0.7zM354.4 210.8h0.7v0.7h-0.7zM343.1 205.2h0.7v0.7h-0.7zM355.9 206.1h0.7v0.7h-0.7zM358.1 211.0h0.7v0.7h-0.7zM350.6 191.3h0.7v0.7h-0.7zM359.5 197.2h0.7v0.7h-0.7zM344.6 206.8h0.7v0.7h-0.7zM345.4 198.8h0.7v0.7h-0.7zM341.5 197.7h0.7v0.7h-0.7zM348.1 208.8h0.7v0.7h-0.7zM356.0 210.0h0.7v0.7h-0.7zM355.8 201.7h0.7v0.7h-0.7zM345.3 200.8h0.7v0.7h-0.7zM356.9 211.8h0.7v0.7h-0.7zM354.5 193.3h0.7v0.7h-0.7zM351.4 191.9h0.7v0.7h-0.7zM361.2 199.7h0.7v0.7h-0.7zM360.1 199.8h0.7v0.7h-0.7zM342.0 203.4h0.7v0.7h-0.7zM352.9 203.0h0.7v0.7h-0.7zM349.6 212.4h0.7v0.7h-0.7zM350.8 194.8h0.7v0.7h-0.7zM351.1 190.9h0.7v0.7h-0.7zM350.4 211.5h0.7v0.7h-0.7zM349.0 198.1h0.7v0.7h-0.7zM343.3 207.8h0.7v0.7h-0.7zM351.5 203.6h0.7v0.7h-0.7zM359.6 210.1h0.7v0.7h-0.7zM360.1 196.3h0.7v0.7h-0.7zM357.7 208.2h0.7v0.7h-0.7zM349.4 200.4h0.7v0.7h-0.7zM360.4 200.4h0.7v0.7h-0.7zM340.7 203.6h0.7v0.7h-0.7zM346.9 204.0h0.7v0.7h-0.7zM342.0 193.2h0.7v0.7h-0.7zM344.0 193.3h0.7v0.7h-0.7zM340.9 208.3h0.7v0.7h-0.7zM355.1 194.0h0.7v0.7h-0.7zM354.6 194.4h0.7v0.7h-0.7zM353.5 209.7h0.7v0.7h-0.7zM351.5 210.9h0.7v0.7h-0.7zM351.9 191.8h0.7v0.7h-0.7zM359.5 210.2h0.7v0.7h-0.7zM344.7 190.7h0.7v0.7h-0.7zM342.0 195.8h0.7v0.7h-0.7zM343.7 203.7h0.7v0.7h-0.7zM361.7 207.0h0.7v0.7h-0.7zM357.2 210.3h0.7v0.7h-0.7zM346.8 198.7h0.7v0.7h-0.7zM347.6 209.0h0.7v0.7h-0.7zM344.4 212.5h0.7v0.7h-0.7zM355.3 211.7h0.7v0.7h-0.7zM345.7 203.9h0.7v0.7h-0.7zM357.9 200.0h0.7v0.7h-0.7z" fill="#545e3a" opacity="1"/>
<path d="M346.3 202.8h0.7v0.7h-0.7zM346.1 197.8h0.7v0.7h-0.7zM347.6 212.5h0.7v0.7h-0.7zM342.5 193.1h0.7v0.7h-0.7zM354.8 210.8h0.7v0.7h-0.7zM347.8 205.1h0.7v0.7h-0.7zM356.9 209.5h0.7v0.7h-0.7zM354.9 204.1h0.7v0.7h-0.7zM345.0 213.2h0.7v0.7h-0.7zM354.6 190.2h0.7v0.7h-0.7zM356.4 191.9h0.7v0.7h-0.7zM348.9 194.8h0.7v0.7h-0.7zM358.1 191.1h0.7v0.7h-0.7zM353.8 210.1h0.7v0.7h-0.7zM359.1 203.6h0.7v0.7h-0.7zM348.4 207.7h0.7v0.7h-0.7zM359.3 194.1h0.7v0.7h-0.7zM350.2 210.0h0.7v0.7h-0.7zM351.8 208.6h0.7v0.7h-0.7zM354.5 194.8h0.7v0.7h-0.7zM353.2 211.8h0.7v0.7h-0.7zM354.1 206.5h0.7v0.7h-0.7zM351.8 203.4h0.7v0.7h-0.7zM346.5 199.2h0.7v0.7h-0.7zM341.6 200.8h0.7v0.7h-0.7zM354.9 208.4h0.7v0.7h-0.7zM356.9 199.4h0.7v0.7h-0.7zM343.8 193.9h0.7v0.7h-0.7zM343.6 195.7h0.7v0.7h-0.7zM349.2 199.4h0.7v0.7h-0.7zM359.8 213.1h0.7v0.7h-0.7zM358.1 205.0h0.7v0.7h-0.7zM338.3 197.9h0.7v0.7h-0.7zM351.1 206.5h0.7v0.7h-0.7zM351.2 204.2h0.7v0.7h-0.7zM357.8 212.6h0.7v0.7h-0.7zM352.5 210.2h0.7v0.7h-0.7zM360.1 209.2h0.7v0.7h-0.7zM355.0 191.1h0.7v0.7h-0.7zM353.2 204.0h0.7v0.7h-0.7zM362.0 201.2h0.7v0.7h-0.7zM352.3 214.6h0.7v0.7h-0.7zM351.5 197.7h0.7v0.7h-0.7zM345.7 205.5h0.7v0.7h-0.7zM346.3 210.7h0.7v0.7h-0.7zM355.7 209.0h0.7v0.7h-0.7zM351.6 198.4h0.7v0.7h-0.7zM353.8 209.0h0.7v0.7h-0.7zM348.6 206.7h0.7v0.7h-0.7zM349.0 199.3h0.7v0.7h-0.7zM345.8 191.4h0.7v0.7h-0.7zM351.2 191.4h0.7v0.7h-0.7zM346.0 188.9h0.7v0.7h-0.7zM340.7 196.9h0.7v0.7h-0.7zM352.2 200.9h0.7v0.7h-0.7zM358.6 195.9h0.7v0.7h-0.7zM346.4 199.9h0.7v0.7h-0.7zM354.0 195.3h0.7v0.7h-0.7zM359.9 191.1h0.7v0.7h-0.7zM354.1 203.2h0.7v0.7h-0.7zM354.9 195.8h0.7v0.7h-0.7zM354.5 194.5h0.7v0.7h-0.7zM355.9 189.9h0.7v0.7h-0.7zM349.4 210.9h0.7v0.7h-0.7zM350.7 196.6h0.7v0.7h-0.7zM358.9 202.1h0.7v0.7h-0.7zM346.6 207.3h0.7v0.7h-0.7zM345.9 193.2h0.7v0.7h-0.7zM347.6 196.7h0.7v0.7h-0.7zM346.9 200.2h0.7v0.7h-0.7zM349.1 210.4h0.7v0.7h-0.7zM349.1 203.2h0.7v0.7h-0.7zM354.9 202.4h0.7v0.7h-0.7zM343.6 208.6h0.7v0.7h-0.7zM348.3 200.7h0.7v0.7h-0.7zM344.5 196.1h0.7v0.7h-0.7zM343.2 206.2h0.7v0.7h-0.7zM345.6 195.1h0.7v0.7h-0.7zM349.6 198.6h0.7v0.7h-0.7zM345.0 201.9h0.7v0.7h-0.7zM344.3 207.4h0.7v0.7h-0.7zM340.4 198.8h0.7v0.7h-0.7zM359.5 204.2h0.7v0.7h-0.7zM342.8 201.3h0.7v0.7h-0.7zM351.0 201.5h0.7v0.7h-0.7zM341.2 196.9h0.7v0.7h-0.7zM355.7 203.9h0.7v0.7h-0.7zM353.0 208.3h0.7v0.7h-0.7zM350.6 204.9h0.7v0.7h-0.7zM346.6 207.0h0.7v0.7h-0.7zM355.7 208.7h0.7v0.7h-0.7zM350.7 206.0h0.7v0.7h-0.7zM341.8 195.8h0.7v0.7h-0.7zM350.5 201.0h0.7v0.7h-0.7zM340.2 203.2h0.7v0.7h-0.7zM344.0 195.6h0.7v0.7h-0.7zM359.0 212.6h0.7v0.7h-0.7zM355.3 195.5h0.7v0.7h-0.7zM355.9 212.6h0.7v0.7h-0.7zM355.9 207.0h0.7v0.7h-0.7zM354.6 198.9h0.7v0.7h-0.7zM362.1 204.6h0.7v0.7h-0.7zM349.8 209.3h0.7v0.7h-0.7zM349.4 194.9h0.7v0.7h-0.7zM356.8 192.7h0.7v0.7h-0.7zM355.1 193.4h0.7v0.7h-0.7zM353.0 213.8h0.7v0.7h-0.7zM347.4 190.9h0.7v0.7h-0.7zM352.8 211.8h0.7v0.7h-0.7zM357.6 190.7h0.7v0.7h-0.7zM344.9 195.7h0.7v0.7h-0.7zM353.0 205.0h0.7v0.7h-0.7zM339.4 203.7h0.7v0.7h-0.7zM341.9 194.1h0.7v0.7h-0.7zM353.0 195.3h0.7v0.7h-0.7zM360.8 192.2h0.7v0.7h-0.7zM356.5 211.9h0.7v0.7h-0.7zM352.7 206.0h0.7v0.7h-0.7zM354.3 205.6h0.7v0.7h-0.7zM355.1 204.7h0.7v0.7h-0.7zM348.4 202.8h0.7v0.7h-0.7zM342.2 208.9h0.7v0.7h-0.7zM349.2 192.8h0.7v0.7h-0.7zM347.1 195.0h0.7v0.7h-0.7zM355.8 210.8h0.7v0.7h-0.7zM352.7 190.0h0.7v0.7h-0.7zM348.5 202.3h0.7v0.7h-0.7zM346.1 204.8h0.7v0.7h-0.7zM355.5 192.3h0.7v0.7h-0.7zM358.6 210.4h0.7v0.7h-0.7zM341.7 198.7h0.7v0.7h-0.7zM339.6 212.1h0.7v0.7h-0.7zM356.9 203.6h0.7v0.7h-0.7zM362.2 199.5h0.7v0.7h-0.7zM349.1 209.6h0.7v0.7h-0.7zM341.6 203.5h0.7v0.7h-0.7zM351.3 203.4h0.7v0.7h-0.7zM354.3 199.4h0.7v0.7h-0.7zM351.1 192.3h0.7v0.7h-0.7zM349.0 194.0h0.7v0.7h-0.7zM353.2 199.1h0.7v0.7h-0.7zM351.1 192.6h0.7v0.7h-0.7zM357.3 198.0h0.7v0.7h-0.7zM360.8 207.1h0.7v0.7h-0.7zM345.1 196.7h0.7v0.7h-0.7zM356.0 197.1h0.7v0.7h-0.7zM343.1 201.6h0.7v0.7h-0.7zM361.0 197.9h0.7v0.7h-0.7zM352.4 194.6h0.7v0.7h-0.7zM349.2 191.1h0.7v0.7h-0.7z" fill="#b88040" opacity="1"/>
<polygon points="355.5,190.0 360.3,189.3 360.6,200.0 360.0,208.0 356.0,208.0" fill="#8f6a30" opacity="0.85" filter="url(#b08)"/>
<polygon points="348.0,206.5 359.6,205.5 359.8,213.0 348.0,213.0" fill="#4f9090" opacity="0.8" filter="url(#b08)"/>
<polygon points="326.0,200.0 328.0,195.0 333.0,193.0 339.0,193.5 343.0,196.0 344.0,203.0 342.0,209.0 336.0,212.5 331.0,216.0 327.5,218.0 326.0,210.0" fill="#fb8a12" opacity="0.35" filter="url(#b2)"/>
<polygon points="326.0,200.0 328.0,195.0 333.0,193.0 339.0,193.5 343.0,196.0 344.0,203.0 342.0,209.0 336.0,212.5 331.0,216.0 327.5,218.0 326.0,210.0" fill="#fb8a12" opacity="1" filter="url(#b08)"/>
<path d="M333.0 208.4h0.7v0.7h-0.7zM339.3 194.5h0.7v0.7h-0.7zM330.3 206.8h0.7v0.7h-0.7zM324.6 212.2h0.7v0.7h-0.7zM337.5 198.4h0.7v0.7h-0.7zM340.3 196.0h0.7v0.7h-0.7zM332.6 209.1h0.7v0.7h-0.7zM339.3 202.2h0.7v0.7h-0.7zM334.7 201.4h0.7v0.7h-0.7zM338.0 196.1h0.7v0.7h-0.7zM332.1 209.6h0.7v0.7h-0.7zM332.6 211.0h0.7v0.7h-0.7zM325.9 213.5h0.7v0.7h-0.7zM340.5 197.4h0.7v0.7h-0.7zM328.0 210.7h0.7v0.7h-0.7zM332.8 207.7h0.7v0.7h-0.7zM328.7 209.9h0.7v0.7h-0.7zM332.6 203.3h0.7v0.7h-0.7zM328.9 196.7h0.7v0.7h-0.7zM330.3 214.8h0.7v0.7h-0.7zM340.9 197.8h0.7v0.7h-0.7zM341.0 197.6h0.7v0.7h-0.7zM338.3 192.3h0.7v0.7h-0.7zM339.9 200.0h0.7v0.7h-0.7zM333.5 206.0h0.7v0.7h-0.7zM332.3 210.5h0.7v0.7h-0.7zM329.1 209.1h0.7v0.7h-0.7zM329.2 199.0h0.7v0.7h-0.7zM332.9 198.9h0.7v0.7h-0.7zM334.3 202.9h0.7v0.7h-0.7zM334.6 217.1h0.7v0.7h-0.7zM334.8 197.8h0.7v0.7h-0.7zM339.6 204.2h0.7v0.7h-0.7zM337.1 208.1h0.7v0.7h-0.7zM342.1 203.0h0.7v0.7h-0.7zM341.4 195.9h0.7v0.7h-0.7zM327.5 192.8h0.7v0.7h-0.7zM339.2 203.1h0.7v0.7h-0.7zM337.5 213.3h0.7v0.7h-0.7zM335.3 205.5h0.7v0.7h-0.7zM334.3 203.1h0.7v0.7h-0.7zM331.6 200.3h0.7v0.7h-0.7zM329.7 203.1h0.7v0.7h-0.7zM332.5 202.2h0.7v0.7h-0.7zM334.8 205.0h0.7v0.7h-0.7zM337.3 199.2h0.7v0.7h-0.7zM335.6 212.6h0.7v0.7h-0.7zM336.1 207.2h0.7v0.7h-0.7zM331.4 202.3h0.7v0.7h-0.7zM335.7 208.4h0.7v0.7h-0.7zM332.3 198.8h0.7v0.7h-0.7zM329.4 195.1h0.7v0.7h-0.7zM336.8 209.4h0.7v0.7h-0.7zM332.6 212.5h0.7v0.7h-0.7zM335.0 207.4h0.7v0.7h-0.7zM326.8 212.8h0.7v0.7h-0.7zM335.4 195.1h0.7v0.7h-0.7zM336.3 208.9h0.7v0.7h-0.7zM337.0 198.7h0.7v0.7h-0.7zM342.4 208.1h0.7v0.7h-0.7zM339.2 202.8h0.7v0.7h-0.7zM333.1 211.4h0.7v0.7h-0.7zM329.5 214.1h0.7v0.7h-0.7zM341.9 208.0h0.7v0.7h-0.7zM337.9 206.8h0.7v0.7h-0.7zM339.0 200.3h0.7v0.7h-0.7zM327.3 206.1h0.7v0.7h-0.7zM333.0 196.7h0.7v0.7h-0.7zM331.4 203.7h0.7v0.7h-0.7zM336.9 195.3h0.7v0.7h-0.7zM340.7 208.5h0.7v0.7h-0.7zM337.2 200.6h0.7v0.7h-0.7zM341.9 204.6h0.7v0.7h-0.7zM335.9 198.9h0.7v0.7h-0.7zM332.8 213.6h0.7v0.7h-0.7zM333.7 214.3h0.7v0.7h-0.7zM336.7 205.5h0.7v0.7h-0.7zM327.0 198.7h0.7v0.7h-0.7zM343.8 201.6h0.7v0.7h-0.7zM327.5 211.2h0.7v0.7h-0.7zM333.0 215.1h0.7v0.7h-0.7zM338.8 200.3h0.7v0.7h-0.7zM331.8 205.8h0.7v0.7h-0.7zM339.7 203.8h0.7v0.7h-0.7zM336.5 192.4h0.7v0.7h-0.7zM330.0 211.7h0.7v0.7h-0.7zM325.8 210.3h0.7v0.7h-0.7zM341.7 201.8h0.7v0.7h-0.7zM329.2 203.1h0.7v0.7h-0.7zM340.7 205.8h0.7v0.7h-0.7zM328.5 199.4h0.7v0.7h-0.7zM332.6 211.7h0.7v0.7h-0.7zM342.4 205.9h0.7v0.7h-0.7zM342.8 206.1h0.7v0.7h-0.7zM331.3 198.4h0.7v0.7h-0.7zM331.7 202.5h0.7v0.7h-0.7zM331.4 206.4h0.7v0.7h-0.7zM336.3 206.0h0.7v0.7h-0.7zM330.8 210.0h0.7v0.7h-0.7zM327.0 206.7h0.7v0.7h-0.7zM325.2 210.6h0.7v0.7h-0.7zM340.8 197.6h0.7v0.7h-0.7zM340.3 208.3h0.7v0.7h-0.7zM341.7 206.5h0.7v0.7h-0.7zM331.5 212.0h0.7v0.7h-0.7zM338.9 207.4h0.7v0.7h-0.7zM326.3 214.5h0.7v0.7h-0.7zM341.1 196.2h0.7v0.7h-0.7zM334.9 207.9h0.7v0.7h-0.7zM341.6 198.7h0.7v0.7h-0.7zM330.1 206.3h0.7v0.7h-0.7zM328.5 211.9h0.7v0.7h-0.7zM340.4 202.9h0.7v0.7h-0.7zM337.3 205.3h0.7v0.7h-0.7zM330.6 204.3h0.7v0.7h-0.7zM329.6 197.9h0.7v0.7h-0.7zM329.2 204.5h0.7v0.7h-0.7zM340.9 193.0h0.7v0.7h-0.7zM344.0 201.4h0.7v0.7h-0.7zM336.1 197.4h0.7v0.7h-0.7zM339.0 202.8h0.7v0.7h-0.7zM342.0 200.0h0.7v0.7h-0.7zM330.9 205.6h0.7v0.7h-0.7zM331.8 197.6h0.7v0.7h-0.7zM337.0 202.9h0.7v0.7h-0.7zM326.2 202.3h0.7v0.7h-0.7zM337.5 207.0h0.7v0.7h-0.7zM338.6 197.6h0.7v0.7h-0.7zM332.4 209.0h0.7v0.7h-0.7zM331.7 210.9h0.7v0.7h-0.7zM326.0 205.7h0.7v0.7h-0.7zM334.0 195.5h0.7v0.7h-0.7zM328.8 214.6h0.7v0.7h-0.7zM337.8 200.1h0.7v0.7h-0.7zM329.1 207.2h0.7v0.7h-0.7zM328.3 216.6h0.7v0.7h-0.7zM338.9 204.1h0.7v0.7h-0.7zM341.4 204.0h0.7v0.7h-0.7zM338.8 203.8h0.7v0.7h-0.7zM329.3 207.4h0.7v0.7h-0.7zM340.2 192.7h0.7v0.7h-0.7zM337.9 210.3h0.7v0.7h-0.7zM327.6 210.8h0.7v0.7h-0.7zM327.8 215.7h0.7v0.7h-0.7zM333.9 200.4h0.7v0.7h-0.7zM336.5 203.2h0.7v0.7h-0.7zM331.6 206.3h0.7v0.7h-0.7zM332.0 201.9h0.7v0.7h-0.7zM345.6 206.1h0.7v0.7h-0.7zM334.3 204.4h0.7v0.7h-0.7zM329.0 192.0h0.7v0.7h-0.7zM334.2 208.3h0.7v0.7h-0.7zM329.7 208.3h0.7v0.7h-0.7zM330.6 207.6h0.7v0.7h-0.7zM342.1 197.3h0.7v0.7h-0.7zM326.1 202.2h0.7v0.7h-0.7zM329.2 209.0h0.7v0.7h-0.7zM330.5 208.4h0.7v0.7h-0.7zM337.9 199.6h0.7v0.7h-0.7zM336.6 203.2h0.7v0.7h-0.7zM339.2 209.8h0.7v0.7h-0.7zM328.9 213.1h0.7v0.7h-0.7zM341.1 195.4h0.7v0.7h-0.7zM332.0 208.2h0.7v0.7h-0.7zM338.9 207.9h0.7v0.7h-0.7zM339.1 201.6h0.7v0.7h-0.7zM331.0 213.2h0.7v0.7h-0.7zM329.7 216.4h0.7v0.7h-0.7zM342.6 206.9h0.7v0.7h-0.7zM334.8 197.1h0.7v0.7h-0.7zM345.5 205.2h0.7v0.7h-0.7zM329.9 208.6h0.7v0.7h-0.7zM334.7 211.2h0.7v0.7h-0.7zM331.1 206.4h0.7v0.7h-0.7zM330.9 203.7h0.7v0.7h-0.7zM329.7 214.6h0.7v0.7h-0.7zM338.8 196.1h0.7v0.7h-0.7zM331.2 213.1h0.7v0.7h-0.7zM339.1 198.1h0.7v0.7h-0.7zM329.1 195.4h0.7v0.7h-0.7zM338.9 208.5h0.7v0.7h-0.7zM328.6 205.7h0.7v0.7h-0.7zM333.8 205.3h0.7v0.7h-0.7zM335.7 199.0h0.7v0.7h-0.7zM329.3 205.6h0.7v0.7h-0.7zM343.9 205.0h0.7v0.7h-0.7zM333.1 200.0h0.7v0.7h-0.7zM343.1 199.4h0.7v0.7h-0.7zM329.8 208.6h0.7v0.7h-0.7zM330.0 204.4h0.7v0.7h-0.7zM332.4 206.9h0.7v0.7h-0.7zM331.6 196.9h0.7v0.7h-0.7zM337.3 207.0h0.7v0.7h-0.7zM338.2 213.3h0.7v0.7h-0.7zM335.5 203.9h0.7v0.7h-0.7zM326.0 212.8h0.7v0.7h-0.7zM344.9 200.0h0.7v0.7h-0.7zM333.4 192.8h0.7v0.7h-0.7zM332.9 195.9h0.7v0.7h-0.7zM333.7 212.6h0.7v0.7h-0.7zM335.7 199.4h0.7v0.7h-0.7zM330.3 210.8h0.7v0.7h-0.7zM338.5 195.2h0.7v0.7h-0.7zM324.5 201.1h0.7v0.7h-0.7zM328.8 213.4h0.7v0.7h-0.7zM336.1 192.4h0.7v0.7h-0.7zM330.3 208.6h0.7v0.7h-0.7zM337.4 203.9h0.7v0.7h-0.7zM330.2 201.1h0.7v0.7h-0.7zM336.9 207.9h0.7v0.7h-0.7zM340.6 205.0h0.7v0.7h-0.7zM341.6 199.7h0.7v0.7h-0.7zM334.9 206.3h0.7v0.7h-0.7zM337.1 194.0h0.7v0.7h-0.7zM333.9 208.3h0.7v0.7h-0.7zM333.3 198.3h0.7v0.7h-0.7zM328.1 212.9h0.7v0.7h-0.7zM341.1 209.5h0.7v0.7h-0.7zM331.0 206.3h0.7v0.7h-0.7zM333.4 212.1h0.7v0.7h-0.7zM330.6 195.1h0.7v0.7h-0.7zM335.0 206.5h0.7v0.7h-0.7zM341.7 209.0h0.7v0.7h-0.7zM342.6 193.5h0.7v0.7h-0.7zM340.1 204.2h0.7v0.7h-0.7zM340.5 202.5h0.7v0.7h-0.7zM337.8 198.6h0.7v0.7h-0.7zM333.9 201.9h0.7v0.7h-0.7zM330.2 211.0h0.7v0.7h-0.7zM325.9 207.0h0.7v0.7h-0.7zM345.1 199.2h0.7v0.7h-0.7zM331.4 197.8h0.7v0.7h-0.7zM342.0 199.6h0.7v0.7h-0.7zM330.6 203.6h0.7v0.7h-0.7zM337.9 208.1h0.7v0.7h-0.7zM341.9 207.3h0.7v0.7h-0.7zM336.1 207.3h0.7v0.7h-0.7zM332.9 206.2h0.7v0.7h-0.7zM343.9 204.5h0.7v0.7h-0.7zM338.2 195.7h0.7v0.7h-0.7zM341.0 198.7h0.7v0.7h-0.7zM331.3 195.9h0.7v0.7h-0.7zM328.9 200.0h0.7v0.7h-0.7zM338.8 206.7h0.7v0.7h-0.7zM333.5 195.4h0.7v0.7h-0.7zM340.0 200.7h0.7v0.7h-0.7zM333.7 198.8h0.7v0.7h-0.7zM338.8 213.4h0.7v0.7h-0.7zM328.8 209.6h0.7v0.7h-0.7zM336.4 199.3h0.7v0.7h-0.7zM329.2 203.6h0.7v0.7h-0.7zM341.9 209.6h0.7v0.7h-0.7zM330.9 201.1h0.7v0.7h-0.7zM328.7 201.6h0.7v0.7h-0.7zM329.6 195.6h0.7v0.7h-0.7zM331.2 195.7h0.7v0.7h-0.7zM326.4 208.0h0.7v0.7h-0.7zM340.8 201.4h0.7v0.7h-0.7zM338.4 198.7h0.7v0.7h-0.7zM337.6 197.9h0.7v0.7h-0.7zM327.8 209.7h0.7v0.7h-0.7zM338.9 198.9h0.7v0.7h-0.7zM324.7 210.5h0.7v0.7h-0.7zM338.8 198.0h0.7v0.7h-0.7zM342.3 204.9h0.7v0.7h-0.7zM338.4 204.3h0.7v0.7h-0.7zM339.2 204.4h0.7v0.7h-0.7zM328.9 208.6h0.7v0.7h-0.7zM338.6 207.3h0.7v0.7h-0.7zM341.5 212.4h0.7v0.7h-0.7zM333.1 212.6h0.7v0.7h-0.7zM340.7 202.1h0.7v0.7h-0.7zM329.4 203.8h0.7v0.7h-0.7zM331.6 198.5h0.7v0.7h-0.7zM325.4 204.8h0.7v0.7h-0.7zM328.9 218.0h0.7v0.7h-0.7zM331.7 197.0h0.7v0.7h-0.7zM337.0 203.4h0.7v0.7h-0.7zM329.0 214.3h0.7v0.7h-0.7zM328.1 212.8h0.7v0.7h-0.7zM335.1 206.5h0.7v0.7h-0.7zM341.3 199.5h0.7v0.7h-0.7zM333.4 215.1h0.7v0.7h-0.7zM330.8 198.1h0.7v0.7h-0.7zM332.0 202.1h0.7v0.7h-0.7zM327.5 200.3h0.7v0.7h-0.7zM329.7 219.9h0.7v0.7h-0.7zM334.4 202.3h0.7v0.7h-0.7zM333.3 201.0h0.7v0.7h-0.7zM339.2 209.3h0.7v0.7h-0.7zM335.3 193.1h0.7v0.7h-0.7zM327.2 209.4h0.7v0.7h-0.7zM342.7 203.8h0.7v0.7h-0.7zM326.6 206.6h0.7v0.7h-0.7zM335.8 200.7h0.7v0.7h-0.7zM345.0 202.9h0.7v0.7h-0.7zM338.9 197.3h0.7v0.7h-0.7zM331.6 199.5h0.7v0.7h-0.7zM331.3 198.7h0.7v0.7h-0.7zM338.1 196.1h0.7v0.7h-0.7z" fill="#fb8a12" opacity="1"/>
<path d="M343.6 195.7h0.7v0.7h-0.7zM339.2 201.8h0.7v0.7h-0.7zM329.8 195.5h0.7v0.7h-0.7zM333.9 204.7h0.7v0.7h-0.7zM332.5 215.5h0.7v0.7h-0.7zM327.5 194.0h0.7v0.7h-0.7zM335.4 201.7h0.7v0.7h-0.7zM337.3 195.7h0.7v0.7h-0.7zM338.4 197.9h0.7v0.7h-0.7zM336.4 210.4h0.7v0.7h-0.7zM336.8 201.3h0.7v0.7h-0.7zM331.8 209.3h0.7v0.7h-0.7zM339.5 211.6h0.7v0.7h-0.7zM324.2 204.0h0.7v0.7h-0.7zM328.0 214.6h0.7v0.7h-0.7zM343.7 202.2h0.7v0.7h-0.7zM332.8 206.8h0.7v0.7h-0.7zM335.1 202.5h0.7v0.7h-0.7zM324.9 209.6h0.7v0.7h-0.7zM330.4 201.8h0.7v0.7h-0.7zM335.4 213.3h0.7v0.7h-0.7zM336.6 210.6h0.7v0.7h-0.7zM330.4 215.0h0.7v0.7h-0.7zM334.7 210.6h0.7v0.7h-0.7zM333.4 200.0h0.7v0.7h-0.7zM331.3 196.5h0.7v0.7h-0.7zM333.7 191.3h0.7v0.7h-0.7zM336.5 205.1h0.7v0.7h-0.7zM335.9 208.2h0.7v0.7h-0.7zM333.6 213.8h0.7v0.7h-0.7zM327.0 202.6h0.7v0.7h-0.7zM337.2 205.0h0.7v0.7h-0.7zM340.9 208.1h0.7v0.7h-0.7zM334.5 191.8h0.7v0.7h-0.7zM338.8 211.8h0.7v0.7h-0.7zM325.4 200.8h0.7v0.7h-0.7zM331.7 200.0h0.7v0.7h-0.7zM331.7 199.9h0.7v0.7h-0.7zM334.3 211.1h0.7v0.7h-0.7zM334.8 197.0h0.7v0.7h-0.7zM336.1 193.8h0.7v0.7h-0.7zM335.4 199.9h0.7v0.7h-0.7zM335.5 196.7h0.7v0.7h-0.7zM344.2 201.3h0.7v0.7h-0.7zM326.5 211.9h0.7v0.7h-0.7zM338.5 200.9h0.7v0.7h-0.7zM342.7 196.6h0.7v0.7h-0.7zM337.3 212.9h0.7v0.7h-0.7zM339.3 203.9h0.7v0.7h-0.7zM338.9 197.8h0.7v0.7h-0.7zM340.8 194.0h0.7v0.7h-0.7zM334.9 191.7h0.7v0.7h-0.7zM334.6 213.0h0.7v0.7h-0.7zM342.8 199.4h0.7v0.7h-0.7zM327.7 208.8h0.7v0.7h-0.7zM338.6 202.3h0.7v0.7h-0.7zM342.3 200.3h0.7v0.7h-0.7zM342.7 205.6h0.7v0.7h-0.7zM331.2 210.4h0.7v0.7h-0.7zM334.5 197.5h0.7v0.7h-0.7zM329.6 195.5h0.7v0.7h-0.7zM328.7 214.3h0.7v0.7h-0.7zM339.1 202.9h0.7v0.7h-0.7zM331.8 195.6h0.7v0.7h-0.7zM338.6 192.7h0.7v0.7h-0.7zM340.4 204.8h0.7v0.7h-0.7zM334.5 206.5h0.7v0.7h-0.7zM342.7 204.2h0.7v0.7h-0.7zM332.8 212.2h0.7v0.7h-0.7zM327.2 200.5h0.7v0.7h-0.7zM342.6 196.4h0.7v0.7h-0.7zM341.0 210.1h0.7v0.7h-0.7zM336.7 194.9h0.7v0.7h-0.7zM334.5 213.5h0.7v0.7h-0.7zM332.3 210.9h0.7v0.7h-0.7zM334.8 191.8h0.7v0.7h-0.7zM324.6 211.4h0.7v0.7h-0.7zM340.9 201.7h0.7v0.7h-0.7zM335.2 196.1h0.7v0.7h-0.7zM324.6 206.5h0.7v0.7h-0.7z" fill="#c87828" opacity="1"/>
<polygon points="328.1,217.3 336.0,214.0 344.3,211.3 350.0,210.0 355.4,209.2 360.4,210.3 360.8,215.3 360.4,225.4 359.4,230.5 355.4,230.5 354.4,221.4 353.4,216.3 350.3,217.3 344.3,220.4 338.2,225.4 333.2,230.5 330.1,231.0 328.1,225.4" fill="#dc02e0" opacity="0.3" filter="url(#b2)"/>
<polygon points="328.1,217.3 336.0,214.0 344.3,211.3 350.0,210.0 355.4,209.2 360.4,210.3 360.8,215.3 360.4,225.4 359.4,230.5 355.4,230.5 354.4,221.4 353.4,216.3 350.3,217.3 344.3,220.4 338.2,225.4 333.2,230.5 330.1,231.0 328.1,225.4" fill="#dc02e0" opacity="1" filter="url(#b08)"/>
<path d="M348.1 221.1h0.7v0.7h-0.7zM355.0 220.0h0.7v0.7h-0.7zM333.3 227.1h0.7v0.7h-0.7zM338.5 221.7h0.7v0.7h-0.7zM331.3 227.9h0.7v0.7h-0.7zM340.7 219.0h0.7v0.7h-0.7zM333.5 225.3h0.7v0.7h-0.7zM334.4 219.2h0.7v0.7h-0.7zM347.7 214.4h0.7v0.7h-0.7zM357.9 226.7h0.7v0.7h-0.7zM344.4 214.6h0.7v0.7h-0.7zM337.7 216.5h0.7v0.7h-0.7zM345.2 218.4h0.7v0.7h-0.7zM336.1 229.7h0.7v0.7h-0.7zM343.6 214.4h0.7v0.7h-0.7zM329.5 218.0h0.7v0.7h-0.7zM361.1 225.3h0.7v0.7h-0.7zM331.1 217.6h0.7v0.7h-0.7zM347.6 213.7h0.7v0.7h-0.7zM340.5 213.4h0.7v0.7h-0.7zM347.1 214.3h0.7v0.7h-0.7zM355.7 209.5h0.7v0.7h-0.7zM341.8 221.7h0.7v0.7h-0.7zM334.0 224.1h0.7v0.7h-0.7zM354.0 217.5h0.7v0.7h-0.7zM362.6 224.1h0.7v0.7h-0.7zM332.6 220.0h0.7v0.7h-0.7zM352.2 211.6h0.7v0.7h-0.7zM330.0 227.8h0.7v0.7h-0.7zM343.3 218.4h0.7v0.7h-0.7zM336.5 224.6h0.7v0.7h-0.7zM345.6 218.8h0.7v0.7h-0.7zM360.0 216.3h0.7v0.7h-0.7zM354.9 213.9h0.7v0.7h-0.7zM357.0 211.5h0.7v0.7h-0.7zM359.1 225.0h0.7v0.7h-0.7zM328.5 227.4h0.7v0.7h-0.7zM338.8 217.2h0.7v0.7h-0.7zM333.7 214.3h0.7v0.7h-0.7zM350.8 215.0h0.7v0.7h-0.7zM348.0 219.8h0.7v0.7h-0.7zM334.1 215.8h0.7v0.7h-0.7zM342.2 215.8h0.7v0.7h-0.7zM346.2 212.7h0.7v0.7h-0.7zM347.4 212.2h0.7v0.7h-0.7zM330.4 221.8h0.7v0.7h-0.7zM339.7 222.1h0.7v0.7h-0.7zM332.0 222.8h0.7v0.7h-0.7zM354.9 213.5h0.7v0.7h-0.7zM334.1 223.5h0.7v0.7h-0.7zM334.4 229.3h0.7v0.7h-0.7zM349.3 217.4h0.7v0.7h-0.7zM340.3 222.4h0.7v0.7h-0.7zM349.5 218.0h0.7v0.7h-0.7zM359.8 210.3h0.7v0.7h-0.7zM344.8 218.4h0.7v0.7h-0.7zM354.5 221.3h0.7v0.7h-0.7zM355.3 221.9h0.7v0.7h-0.7zM355.8 215.0h0.7v0.7h-0.7zM360.2 216.2h0.7v0.7h-0.7zM353.2 230.0h0.7v0.7h-0.7zM334.1 226.3h0.7v0.7h-0.7zM358.3 227.0h0.7v0.7h-0.7zM343.3 219.7h0.7v0.7h-0.7zM354.1 212.3h0.7v0.7h-0.7zM353.3 215.1h0.7v0.7h-0.7zM330.7 229.4h0.7v0.7h-0.7zM341.3 221.9h0.7v0.7h-0.7zM350.4 213.0h0.7v0.7h-0.7zM356.9 215.5h0.7v0.7h-0.7zM358.0 215.9h0.7v0.7h-0.7zM335.3 220.7h0.7v0.7h-0.7zM353.4 212.1h0.7v0.7h-0.7zM346.2 215.1h0.7v0.7h-0.7zM334.1 231.4h0.7v0.7h-0.7zM346.5 220.3h0.7v0.7h-0.7zM327.9 225.1h0.7v0.7h-0.7zM359.2 215.5h0.7v0.7h-0.7zM330.4 227.9h0.7v0.7h-0.7zM330.4 216.6h0.7v0.7h-0.7zM331.7 229.4h0.7v0.7h-0.7zM342.4 214.3h0.7v0.7h-0.7zM339.2 217.1h0.7v0.7h-0.7zM355.9 214.6h0.7v0.7h-0.7zM357.7 230.2h0.7v0.7h-0.7zM345.8 216.9h0.7v0.7h-0.7zM342.9 215.7h0.7v0.7h-0.7zM342.7 217.1h0.7v0.7h-0.7zM360.5 227.3h0.7v0.7h-0.7zM334.9 217.5h0.7v0.7h-0.7zM333.8 213.3h0.7v0.7h-0.7zM360.6 226.6h0.7v0.7h-0.7zM333.8 220.5h0.7v0.7h-0.7zM355.8 219.5h0.7v0.7h-0.7zM349.0 210.1h0.7v0.7h-0.7zM352.9 218.1h0.7v0.7h-0.7zM335.7 226.3h0.7v0.7h-0.7zM361.3 224.6h0.7v0.7h-0.7zM340.1 217.0h0.7v0.7h-0.7zM340.4 221.9h0.7v0.7h-0.7zM354.1 207.6h0.7v0.7h-0.7zM334.7 225.5h0.7v0.7h-0.7zM338.0 219.8h0.7v0.7h-0.7zM341.6 222.4h0.7v0.7h-0.7zM343.9 214.2h0.7v0.7h-0.7zM335.0 222.9h0.7v0.7h-0.7zM350.4 211.9h0.7v0.7h-0.7zM354.6 210.8h0.7v0.7h-0.7zM353.5 211.1h0.7v0.7h-0.7zM356.5 220.6h0.7v0.7h-0.7zM355.6 214.7h0.7v0.7h-0.7zM337.5 219.7h0.7v0.7h-0.7zM353.0 222.3h0.7v0.7h-0.7zM347.0 216.5h0.7v0.7h-0.7zM329.3 218.4h0.7v0.7h-0.7zM359.3 212.9h0.7v0.7h-0.7zM338.3 219.2h0.7v0.7h-0.7zM328.4 225.4h0.7v0.7h-0.7zM354.1 222.7h0.7v0.7h-0.7zM337.5 224.7h0.7v0.7h-0.7zM333.5 222.4h0.7v0.7h-0.7zM357.3 212.0h0.7v0.7h-0.7zM335.4 213.7h0.7v0.7h-0.7zM352.2 213.8h0.7v0.7h-0.7zM333.0 227.0h0.7v0.7h-0.7zM338.2 222.3h0.7v0.7h-0.7zM357.7 225.5h0.7v0.7h-0.7zM330.6 222.2h0.7v0.7h-0.7zM346.4 216.4h0.7v0.7h-0.7zM345.6 211.6h0.7v0.7h-0.7zM331.4 223.9h0.7v0.7h-0.7zM330.9 226.5h0.7v0.7h-0.7zM357.9 214.3h0.7v0.7h-0.7zM340.0 219.7h0.7v0.7h-0.7zM344.5 212.0h0.7v0.7h-0.7zM331.2 222.0h0.7v0.7h-0.7zM338.2 211.4h0.7v0.7h-0.7zM347.4 215.5h0.7v0.7h-0.7zM335.0 216.2h0.7v0.7h-0.7zM331.4 226.4h0.7v0.7h-0.7zM334.4 224.7h0.7v0.7h-0.7zM332.0 216.6h0.7v0.7h-0.7zM338.9 212.5h0.7v0.7h-0.7zM361.1 219.3h0.7v0.7h-0.7zM336.1 217.6h0.7v0.7h-0.7zM357.6 215.3h0.7v0.7h-0.7zM332.0 217.0h0.7v0.7h-0.7zM344.0 212.5h0.7v0.7h-0.7zM349.2 210.5h0.7v0.7h-0.7zM353.3 214.6h0.7v0.7h-0.7zM345.7 216.2h0.7v0.7h-0.7zM338.7 222.1h0.7v0.7h-0.7zM348.8 219.5h0.7v0.7h-0.7zM357.1 228.6h0.7v0.7h-0.7zM351.0 216.5h0.7v0.7h-0.7zM331.1 227.4h0.7v0.7h-0.7zM342.0 216.9h0.7v0.7h-0.7zM335.6 227.6h0.7v0.7h-0.7zM356.8 218.5h0.7v0.7h-0.7zM358.8 221.6h0.7v0.7h-0.7zM348.8 217.0h0.7v0.7h-0.7zM331.5 222.8h0.7v0.7h-0.7zM330.7 219.3h0.7v0.7h-0.7zM360.8 218.0h0.7v0.7h-0.7zM333.5 229.8h0.7v0.7h-0.7zM330.2 222.9h0.7v0.7h-0.7zM335.9 223.2h0.7v0.7h-0.7zM340.7 213.6h0.7v0.7h-0.7zM332.2 220.1h0.7v0.7h-0.7zM353.7 217.3h0.7v0.7h-0.7zM356.9 226.9h0.7v0.7h-0.7zM360.2 213.1h0.7v0.7h-0.7zM354.0 211.2h0.7v0.7h-0.7zM334.8 217.7h0.7v0.7h-0.7zM350.2 209.5h0.7v0.7h-0.7zM335.1 220.3h0.7v0.7h-0.7zM330.8 229.3h0.7v0.7h-0.7zM357.1 219.4h0.7v0.7h-0.7zM358.3 223.0h0.7v0.7h-0.7zM358.9 220.7h0.7v0.7h-0.7zM339.5 223.9h0.7v0.7h-0.7zM361.1 214.4h0.7v0.7h-0.7zM354.7 219.9h0.7v0.7h-0.7zM343.1 214.6h0.7v0.7h-0.7zM343.7 213.1h0.7v0.7h-0.7zM336.0 228.4h0.7v0.7h-0.7zM336.5 222.0h0.7v0.7h-0.7zM334.6 225.5h0.7v0.7h-0.7zM345.4 210.9h0.7v0.7h-0.7zM335.2 223.6h0.7v0.7h-0.7zM350.5 209.2h0.7v0.7h-0.7zM347.6 211.7h0.7v0.7h-0.7zM349.4 211.9h0.7v0.7h-0.7zM329.2 223.4h0.7v0.7h-0.7zM334.9 218.7h0.7v0.7h-0.7zM344.2 215.5h0.7v0.7h-0.7zM335.6 217.5h0.7v0.7h-0.7zM335.7 226.2h0.7v0.7h-0.7zM330.3 215.7h0.7v0.7h-0.7zM348.2 218.0h0.7v0.7h-0.7zM350.7 213.2h0.7v0.7h-0.7zM341.5 217.4h0.7v0.7h-0.7zM342.4 221.7h0.7v0.7h-0.7zM329.8 215.1h0.7v0.7h-0.7zM358.2 214.0h0.7v0.7h-0.7zM357.1 214.8h0.7v0.7h-0.7zM353.0 212.5h0.7v0.7h-0.7zM357.8 226.0h0.7v0.7h-0.7zM360.0 231.9h0.7v0.7h-0.7zM329.5 217.9h0.7v0.7h-0.7zM343.7 215.2h0.7v0.7h-0.7zM354.5 213.2h0.7v0.7h-0.7zM356.4 215.4h0.7v0.7h-0.7zM350.3 210.0h0.7v0.7h-0.7zM335.4 218.0h0.7v0.7h-0.7zM360.6 217.0h0.7v0.7h-0.7zM351.9 211.2h0.7v0.7h-0.7zM327.1 219.6h0.7v0.7h-0.7zM342.8 211.8h0.7v0.7h-0.7zM333.7 230.1h0.7v0.7h-0.7zM338.6 224.2h0.7v0.7h-0.7zM337.1 219.4h0.7v0.7h-0.7zM359.0 224.9h0.7v0.7h-0.7zM337.2 218.6h0.7v0.7h-0.7zM331.0 222.0h0.7v0.7h-0.7zM348.9 209.2h0.7v0.7h-0.7zM359.0 211.6h0.7v0.7h-0.7zM342.2 217.2h0.7v0.7h-0.7zM347.0 216.3h0.7v0.7h-0.7zM348.1 217.2h0.7v0.7h-0.7zM337.4 218.3h0.7v0.7h-0.7zM359.0 210.4h0.7v0.7h-0.7zM339.0 215.8h0.7v0.7h-0.7zM336.5 215.4h0.7v0.7h-0.7zM329.6 225.0h0.7v0.7h-0.7zM360.4 221.8h0.7v0.7h-0.7zM332.8 228.9h0.7v0.7h-0.7zM331.5 217.2h0.7v0.7h-0.7zM347.4 208.8h0.7v0.7h-0.7zM353.8 223.3h0.7v0.7h-0.7zM332.7 220.2h0.7v0.7h-0.7zM359.9 216.3h0.7v0.7h-0.7zM344.7 215.7h0.7v0.7h-0.7zM359.5 215.0h0.7v0.7h-0.7zM344.4 216.9h0.7v0.7h-0.7zM341.3 221.2h0.7v0.7h-0.7zM333.9 221.5h0.7v0.7h-0.7zM357.6 221.2h0.7v0.7h-0.7zM337.0 224.6h0.7v0.7h-0.7zM351.8 215.8h0.7v0.7h-0.7zM359.3 216.0h0.7v0.7h-0.7zM353.5 218.4h0.7v0.7h-0.7zM349.0 215.7h0.7v0.7h-0.7zM346.0 215.5h0.7v0.7h-0.7zM357.9 215.4h0.7v0.7h-0.7zM341.1 221.1h0.7v0.7h-0.7zM359.6 220.6h0.7v0.7h-0.7zM352.4 212.9h0.7v0.7h-0.7zM337.9 222.7h0.7v0.7h-0.7zM339.4 217.6h0.7v0.7h-0.7zM350.3 213.1h0.7v0.7h-0.7zM352.3 214.8h0.7v0.7h-0.7zM333.1 228.9h0.7v0.7h-0.7zM341.1 221.5h0.7v0.7h-0.7zM355.3 212.5h0.7v0.7h-0.7zM349.3 213.6h0.7v0.7h-0.7zM346.7 217.4h0.7v0.7h-0.7zM349.6 215.6h0.7v0.7h-0.7zM357.8 228.3h0.7v0.7h-0.7zM334.2 216.3h0.7v0.7h-0.7zM343.5 220.9h0.7v0.7h-0.7zM348.9 215.1h0.7v0.7h-0.7zM357.2 225.1h0.7v0.7h-0.7zM358.7 219.7h0.7v0.7h-0.7zM329.5 225.0h0.7v0.7h-0.7zM355.2 214.6h0.7v0.7h-0.7zM338.7 222.7h0.7v0.7h-0.7zM357.2 225.7h0.7v0.7h-0.7zM356.5 211.0h0.7v0.7h-0.7zM356.8 225.5h0.7v0.7h-0.7zM350.5 214.4h0.7v0.7h-0.7zM353.0 213.3h0.7v0.7h-0.7zM349.0 215.0h0.7v0.7h-0.7zM357.2 219.9h0.7v0.7h-0.7zM348.8 216.5h0.7v0.7h-0.7zM341.4 221.8h0.7v0.7h-0.7zM338.9 222.5h0.7v0.7h-0.7zM358.0 215.9h0.7v0.7h-0.7zM328.9 218.0h0.7v0.7h-0.7zM358.0 225.5h0.7v0.7h-0.7zM352.3 212.9h0.7v0.7h-0.7zM362.5 210.9h0.7v0.7h-0.7zM334.5 219.9h0.7v0.7h-0.7zM330.4 223.6h0.7v0.7h-0.7zM344.7 215.8h0.7v0.7h-0.7zM333.5 222.2h0.7v0.7h-0.7zM337.0 215.4h0.7v0.7h-0.7zM336.1 221.1h0.7v0.7h-0.7zM336.9 218.1h0.7v0.7h-0.7zM358.8 217.8h0.7v0.7h-0.7zM330.1 224.9h0.7v0.7h-0.7zM344.4 219.9h0.7v0.7h-0.7zM330.4 218.8h0.7v0.7h-0.7zM332.8 219.4h0.7v0.7h-0.7zM357.6 229.7h0.7v0.7h-0.7zM331.3 229.9h0.7v0.7h-0.7zM356.6 211.6h0.7v0.7h-0.7zM328.1 223.6h0.7v0.7h-0.7zM349.1 214.0h0.7v0.7h-0.7zM349.8 214.5h0.7v0.7h-0.7zM334.2 224.7h0.7v0.7h-0.7zM356.9 221.0h0.7v0.7h-0.7zM328.8 217.8h0.7v0.7h-0.7zM336.9 219.7h0.7v0.7h-0.7zM331.3 226.1h0.7v0.7h-0.7zM342.1 216.6h0.7v0.7h-0.7zM341.4 219.1h0.7v0.7h-0.7zM331.1 218.0h0.7v0.7h-0.7zM352.4 218.4h0.7v0.7h-0.7zM353.6 212.0h0.7v0.7h-0.7zM335.2 216.5h0.7v0.7h-0.7zM362.3 230.3h0.7v0.7h-0.7zM360.0 226.5h0.7v0.7h-0.7zM343.2 213.1h0.7v0.7h-0.7zM357.8 216.3h0.7v0.7h-0.7zM357.8 229.2h0.7v0.7h-0.7zM329.6 221.2h0.7v0.7h-0.7zM331.9 224.9h0.7v0.7h-0.7zM355.3 217.5h0.7v0.7h-0.7zM354.0 220.3h0.7v0.7h-0.7zM357.8 213.5h0.7v0.7h-0.7zM360.1 228.8h0.7v0.7h-0.7zM359.8 227.2h0.7v0.7h-0.7zM359.1 229.9h0.7v0.7h-0.7zM331.6 229.7h0.7v0.7h-0.7zM357.7 216.2h0.7v0.7h-0.7zM356.9 212.0h0.7v0.7h-0.7zM338.5 219.4h0.7v0.7h-0.7zM340.8 217.8h0.7v0.7h-0.7zM340.0 219.6h0.7v0.7h-0.7zM328.2 224.7h0.7v0.7h-0.7zM335.7 217.2h0.7v0.7h-0.7zM329.0 219.7h0.7v0.7h-0.7zM335.0 223.1h0.7v0.7h-0.7zM343.7 216.3h0.7v0.7h-0.7zM349.7 219.1h0.7v0.7h-0.7zM349.1 212.9h0.7v0.7h-0.7zM349.1 214.4h0.7v0.7h-0.7zM333.1 226.6h0.7v0.7h-0.7zM349.3 216.1h0.7v0.7h-0.7zM353.9 225.3h0.7v0.7h-0.7zM335.3 223.5h0.7v0.7h-0.7zM341.0 217.6h0.7v0.7h-0.7zM362.1 221.1h0.7v0.7h-0.7zM355.0 223.2h0.7v0.7h-0.7zM334.1 229.0h0.7v0.7h-0.7zM332.2 216.3h0.7v0.7h-0.7zM360.9 212.0h0.7v0.7h-0.7zM358.3 212.6h0.7v0.7h-0.7zM358.0 223.5h0.7v0.7h-0.7zM327.5 216.8h0.7v0.7h-0.7zM346.7 214.4h0.7v0.7h-0.7zM356.7 213.9h0.7v0.7h-0.7zM333.5 220.8h0.7v0.7h-0.7zM356.9 227.3h0.7v0.7h-0.7zM341.0 223.1h0.7v0.7h-0.7zM339.1 214.5h0.7v0.7h-0.7zM352.3 216.1h0.7v0.7h-0.7zM357.7 227.0h0.7v0.7h-0.7zM327.9 223.2h0.7v0.7h-0.7zM345.1 218.4h0.7v0.7h-0.7zM341.7 216.4h0.7v0.7h-0.7zM344.8 213.7h0.7v0.7h-0.7zM331.9 228.5h0.7v0.7h-0.7zM357.8 220.8h0.7v0.7h-0.7zM352.9 209.3h0.7v0.7h-0.7zM339.0 216.8h0.7v0.7h-0.7zM344.2 217.9h0.7v0.7h-0.7zM356.9 212.3h0.7v0.7h-0.7zM356.1 213.3h0.7v0.7h-0.7zM356.3 213.5h0.7v0.7h-0.7zM361.0 214.3h0.7v0.7h-0.7zM333.0 219.1h0.7v0.7h-0.7zM344.8 219.8h0.7v0.7h-0.7zM350.8 210.1h0.7v0.7h-0.7zM348.9 218.3h0.7v0.7h-0.7zM342.7 217.7h0.7v0.7h-0.7zM335.3 219.1h0.7v0.7h-0.7zM342.9 215.3h0.7v0.7h-0.7zM340.7 224.3h0.7v0.7h-0.7zM330.2 230.3h0.7v0.7h-0.7zM337.6 221.6h0.7v0.7h-0.7zM353.8 215.0h0.7v0.7h-0.7zM346.3 215.6h0.7v0.7h-0.7zM354.7 219.2h0.7v0.7h-0.7zM356.5 214.4h0.7v0.7h-0.7zM354.4 222.7h0.7v0.7h-0.7zM334.3 213.5h0.7v0.7h-0.7zM357.8 224.9h0.7v0.7h-0.7zM327.3 216.6h0.7v0.7h-0.7zM330.9 228.2h0.7v0.7h-0.7zM331.0 230.0h0.7v0.7h-0.7zM356.8 212.3h0.7v0.7h-0.7zM352.8 215.6h0.7v0.7h-0.7zM355.9 216.8h0.7v0.7h-0.7zM350.5 215.4h0.7v0.7h-0.7zM359.1 210.3h0.7v0.7h-0.7zM341.9 223.4h0.7v0.7h-0.7zM355.5 222.0h0.7v0.7h-0.7zM331.9 224.5h0.7v0.7h-0.7zM360.5 219.1h0.7v0.7h-0.7zM358.7 224.7h0.7v0.7h-0.7zM331.8 223.3h0.7v0.7h-0.7zM343.8 215.7h0.7v0.7h-0.7zM344.2 217.8h0.7v0.7h-0.7zM356.4 223.3h0.7v0.7h-0.7zM330.3 231.1h0.7v0.7h-0.7zM338.8 221.4h0.7v0.7h-0.7zM355.8 223.1h0.7v0.7h-0.7zM355.1 216.4h0.7v0.7h-0.7zM329.9 224.1h0.7v0.7h-0.7zM337.9 214.4h0.7v0.7h-0.7zM353.5 216.1h0.7v0.7h-0.7zM347.3 214.2h0.7v0.7h-0.7zM333.3 221.9h0.7v0.7h-0.7zM357.4 225.3h0.7v0.7h-0.7zM353.9 215.4h0.7v0.7h-0.7zM339.4 219.3h0.7v0.7h-0.7zM335.5 216.2h0.7v0.7h-0.7zM340.0 226.7h0.7v0.7h-0.7zM356.6 212.4h0.7v0.7h-0.7zM331.5 227.1h0.7v0.7h-0.7zM335.3 216.2h0.7v0.7h-0.7zM356.6 210.3h0.7v0.7h-0.7zM351.0 217.1h0.7v0.7h-0.7zM353.4 216.1h0.7v0.7h-0.7zM340.2 223.2h0.7v0.7h-0.7zM333.3 221.5h0.7v0.7h-0.7zM333.0 216.3h0.7v0.7h-0.7zM342.1 216.0h0.7v0.7h-0.7zM355.7 213.9h0.7v0.7h-0.7zM337.6 213.9h0.7v0.7h-0.7zM343.4 211.6h0.7v0.7h-0.7zM348.8 213.1h0.7v0.7h-0.7zM346.2 217.9h0.7v0.7h-0.7zM342.7 217.8h0.7v0.7h-0.7zM356.5 213.8h0.7v0.7h-0.7zM330.8 223.7h0.7v0.7h-0.7zM353.0 209.1h0.7v0.7h-0.7zM332.9 225.9h0.7v0.7h-0.7z" fill="#dc02e0" opacity="1"/>
</svg></body></html>
